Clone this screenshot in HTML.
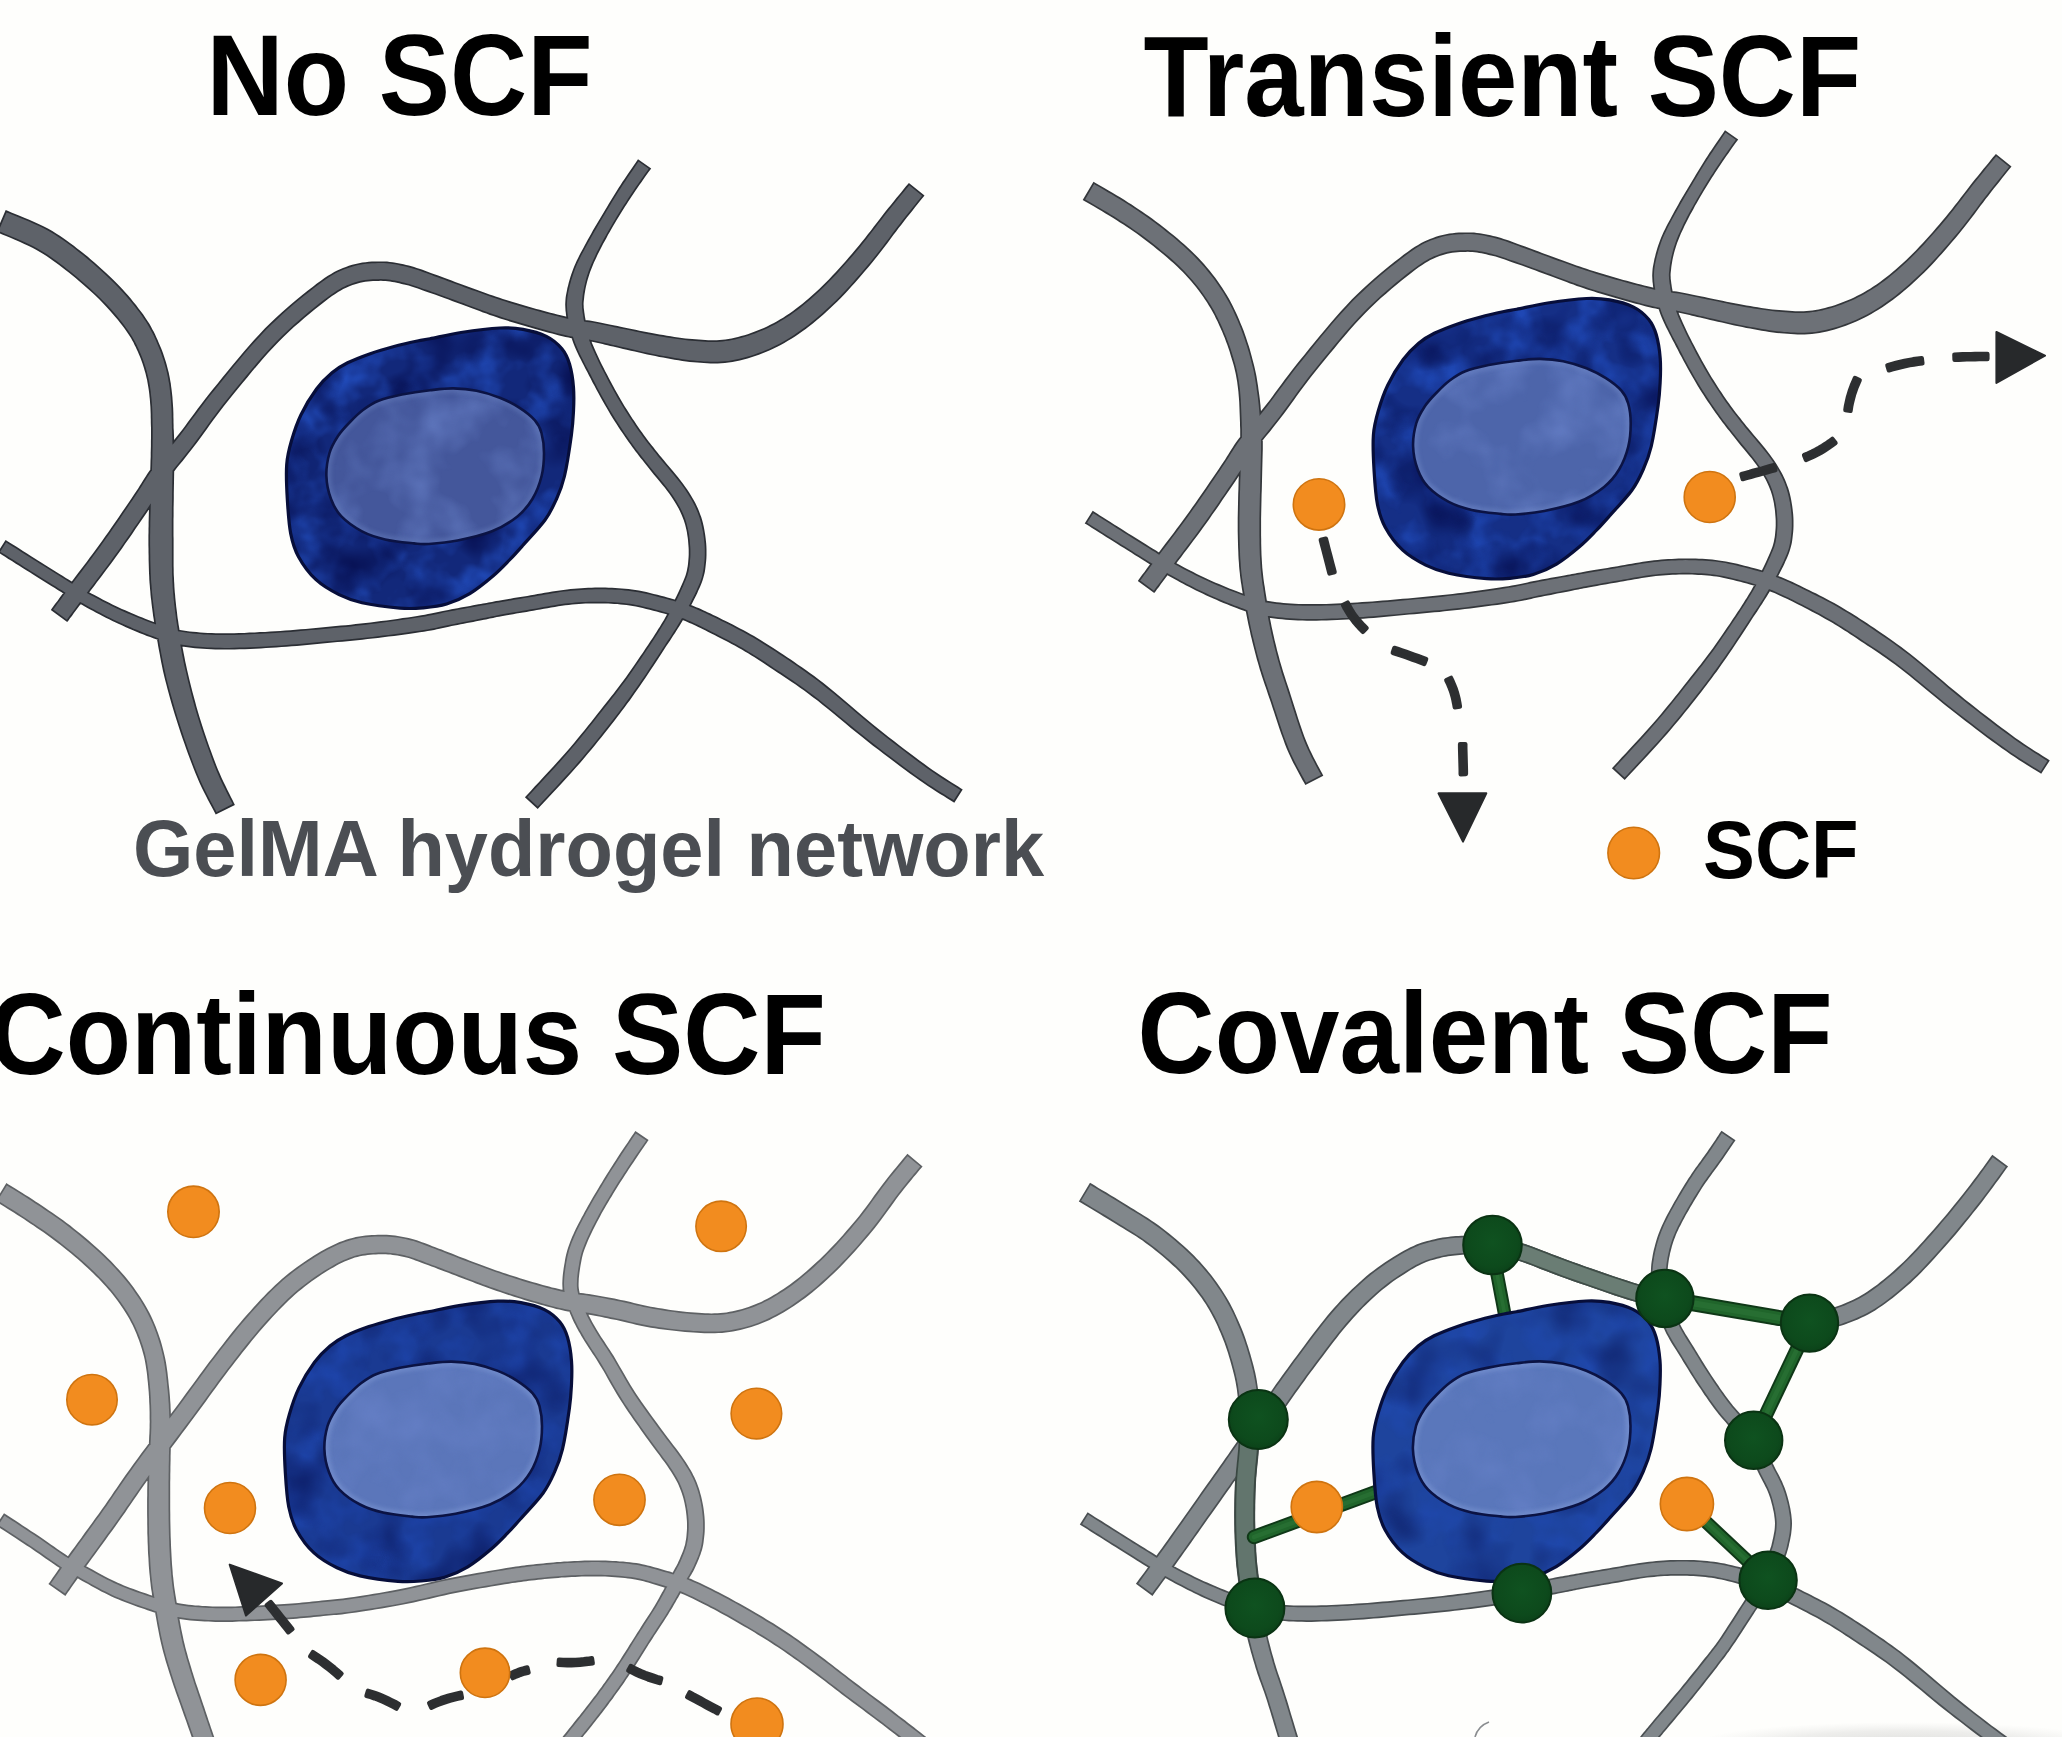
<!DOCTYPE html>
<html><head><meta charset="utf-8"><title>SCF hydrogel schematic</title>
<style>
html,body{margin:0;padding:0;background:#fefefc;}
body{width:2062px;height:1737px;overflow:hidden;font-family:"Liberation Sans",sans-serif;}
svg{display:block;}
</style></head><body>
<svg xmlns="http://www.w3.org/2000/svg" width="2062" height="1737" viewBox="0 0 2062 1737">
<defs>
<filter id="mot" x="0" y="0" width="100%" height="100%" color-interpolation-filters="sRGB">
<feTurbulence type="fractalNoise" baseFrequency="0.028" numOctaves="3" seed="7"/>
<feColorMatrix type="matrix" values="0 0 0 0 0.13  0 0 0 0 0.30  0 0 0 0 0.74  2.4 0 0 0 -0.95"/>
</filter>
<filter id="motd" x="0" y="0" width="100%" height="100%" color-interpolation-filters="sRGB">
<feTurbulence type="fractalNoise" baseFrequency="0.022" numOctaves="2" seed="21"/>
<feColorMatrix type="matrix" values="0 0 0 0 0.02  0 0 0 0 0.05  0 0 0 0 0.30  0 2.2 0 0 -0.95"/>
</filter>
<filter id="mot2" x="0" y="0" width="100%" height="100%" color-interpolation-filters="sRGB">
<feTurbulence type="fractalNoise" baseFrequency="0.02" numOctaves="3" seed="3"/>
<feColorMatrix type="matrix" values="0 0 0 0 0.42  0 0 0 0 0.52  0 0 0 0 0.80  1.8 0 0 0 -0.72"/>
</filter>
<filter id="blur2" x="-5%" y="-5%" width="110%" height="110%"><feGaussianBlur stdDeviation="2"/></filter>
<radialGradient id="gnode" cx="0.5" cy="0.45" r="0.6"><stop offset="0" stop-color="#0f5220"/><stop offset="0.7" stop-color="#0d4a1c"/><stop offset="1" stop-color="#0b3f18"/></radialGradient>
<radialGradient id="botg" cx="0.5" cy="0.5" r="0.5"><stop offset="0" stop-color="#dcdcda" stop-opacity="0.95"/><stop offset="0.6" stop-color="#e2e2e0" stop-opacity="0.6"/><stop offset="1" stop-color="#e8e8e6" stop-opacity="0"/></radialGradient>
</defs>
<rect width="2062" height="1737" fill="#fefefc"/>
<g id="p1">
<path d="M-3.7 231.9L-1.1 233.0L2.2 234.4L6.1 236.0L10.4 237.8L14.9 239.7L19.6 241.8L24.3 243.9L28.8 246.0L32.9 248.0L36.5 250.0L39.9 251.9L43.3 254.0L46.5 256.0L49.7 258.2L52.8 260.4L56.0 262.7L59.1 265.0L62.3 267.5L65.5 270.0L68.8 272.6L72.2 275.3L75.6 278.1L79.0 281.0L82.5 284.0L85.9 287.0L89.3 290.0L92.7 293.1L95.9 296.1L99.0 299.1L101.9 302.1L104.7 305.0L107.5 307.9L110.2 310.9L112.8 313.9L115.4 316.9L117.8 319.8L120.1 322.7L122.3 325.5L124.4 328.3L126.3 330.9L128.0 333.4L129.5 335.8L131.0 338.1L132.3 340.4L133.5 342.6L134.6 344.9L135.7 347.1L136.8 349.4L137.9 351.8L138.9 354.2L139.9 356.6L140.9 358.9L141.7 361.3L142.5 363.6L143.3 365.9L144.0 368.3L144.7 370.7L145.4 373.0L146.0 375.4L146.5 377.8L147.1 380.1L147.5 382.4L147.9 384.7L148.3 387.0L148.7 389.4L149.0 391.8L149.3 394.2L149.5 396.6L149.8 399.1L150.0 401.7L150.2 404.2L150.4 406.7L150.5 409.2L150.6 411.8L150.7 414.5L150.7 417.1L150.8 419.8L150.8 422.6L150.9 425.4L151.0 428.2L151.0 431.0L151.0 433.6L151.0 436.1L151.0 438.6L150.9 441.1L150.9 443.8L150.9 446.6L150.8 449.7L150.7 453.1L150.7 456.8L150.5 461.1L150.4 465.8L150.2 470.9L150.0 476.3L149.8 481.8L149.6 487.4L149.4 492.9L149.3 498.2L149.1 503.1L149.0 507.7L148.9 511.8L148.8 515.6L148.7 519.2L148.6 522.6L148.6 525.9L148.5 529.0L148.5 532.2L148.4 535.4L148.4 538.6L148.4 541.9L148.4 545.3L148.5 548.8L148.5 552.3L148.6 555.8L148.6 559.3L148.7 562.8L148.8 566.2L148.9 569.7L149.0 573.0L149.2 576.4L149.3 579.5L149.5 582.6L149.8 585.7L150.0 588.6L150.3 591.5L150.5 594.5L150.8 597.4L151.2 600.3L151.5 603.3L151.9 606.4L152.3 609.5L152.7 612.6L153.1 615.7L153.6 618.8L154.1 621.9L154.6 625.1L155.1 628.4L155.7 631.7L156.3 635.2L156.9 638.7L157.6 642.4L158.2 646.2L158.9 650.0L159.7 654.0L160.4 658.1L161.2 662.2L162.1 666.5L163.0 670.9L164.0 675.3L165.1 679.8L166.3 684.3L167.5 689.0L168.8 693.7L170.1 698.6L171.5 703.5L173.0 708.4L174.5 713.4L176.0 718.3L177.6 723.3L179.2 728.3L180.8 733.3L182.6 738.4L184.4 743.6L186.2 748.8L188.1 754.0L190.0 759.1L191.9 764.1L193.8 769.0L195.7 773.8L197.6 778.3L199.5 782.8L201.6 787.2L203.7 791.6L205.9 795.8L208.0 799.9L209.9 803.6L211.8 807.0L213.4 810.0L214.7 812.5L215.7 814.5L234.9 804.9L233.8 802.7L232.5 800.1L230.9 797.0L229.2 793.6L227.4 790.0L225.5 786.1L223.5 782.0L221.6 777.9L219.8 773.8L218.0 769.7L216.3 765.5L214.6 761.0L212.8 756.2L211.0 751.3L209.2 746.4L207.4 741.3L205.7 736.2L204.0 731.2L202.4 726.2L200.8 721.3L199.3 716.5L197.9 711.7L196.5 706.9L195.2 702.0L193.9 697.2L192.6 692.5L191.4 687.8L190.2 683.1L189.1 678.6L188.1 674.2L187.1 670.0L186.2 665.8L185.3 661.7L184.5 657.6L183.7 653.6L183.0 649.7L182.2 645.8L181.6 642.0L180.9 638.3L180.3 634.7L179.7 631.2L179.2 627.8L178.6 624.6L178.2 621.5L177.7 618.4L177.3 615.4L177.0 612.4L176.6 609.5L176.2 606.6L175.9 603.6L175.6 600.7L175.3 597.8L175.1 595.0L174.8 592.3L174.6 589.5L174.4 586.8L174.3 584.0L174.1 581.2L174.0 578.3L173.8 575.2L173.7 572.2L173.7 569.0L173.6 565.7L173.6 562.4L173.6 559.0L173.6 555.6L173.6 552.2L173.6 548.7L173.6 545.3L173.6 541.9L173.6 538.6L173.5 535.4L173.5 532.3L173.5 529.2L173.5 526.1L173.5 522.9L173.5 519.5L173.6 516.0L173.6 512.2L173.6 508.1L173.7 503.7L173.8 498.7L173.8 493.5L173.9 488.0L174.0 482.5L174.1 476.9L174.2 471.5L174.3 466.3L174.3 461.5L174.3 457.2L174.3 453.3L174.3 449.8L174.3 446.6L174.2 443.7L174.1 440.9L174.1 438.3L174.0 435.7L173.9 433.1L173.8 430.5L173.6 427.8L173.6 425.0L173.5 422.2L173.5 419.4L173.4 416.6L173.4 413.8L173.3 411.0L173.2 408.2L173.0 405.4L172.8 402.5L172.6 399.7L172.4 397.0L172.1 394.3L171.8 391.6L171.5 389.0L171.1 386.3L170.8 383.6L170.3 380.9L169.8 378.1L169.3 375.4L168.7 372.6L168.0 369.9L167.3 367.2L166.6 364.5L165.8 361.8L164.9 359.1L164.0 356.3L163.1 353.6L162.1 350.8L161.0 348.1L159.9 345.4L158.7 342.7L157.6 340.1L156.4 337.5L155.2 334.8L153.9 332.1L152.4 329.4L150.9 326.5L149.2 323.6L147.3 320.7L145.3 317.7L143.2 314.6L140.9 311.5L138.5 308.4L136.0 305.1L133.4 301.9L130.7 298.6L127.9 295.3L124.9 292.0L122.0 288.8L118.9 285.5L115.7 282.3L112.4 279.0L109.0 275.7L105.5 272.4L101.9 269.2L98.3 265.9L94.7 262.8L91.1 259.7L87.5 256.6L84.0 253.8L80.5 251.0L77.1 248.4L73.8 245.8L70.3 243.2L66.9 240.7L63.4 238.2L59.8 235.8L56.1 233.4L52.3 231.1L48.3 228.8L43.9 226.5L39.1 224.2L34.2 221.9L29.2 219.8L24.2 217.7L19.5 215.7L15.1 214.0L11.3 212.4L8.1 211.1L5.7 210.1Z M67.2 622.1L68.5 620.4L70.0 618.3L71.9 615.9L73.9 613.1L76.2 610.0L78.6 606.8L81.1 603.5L83.6 600.0L86.2 596.5L88.8 593.0L91.4 589.5L94.2 585.9L97.0 582.1L100.0 578.2L103.0 574.2L106.1 570.1L109.2 565.9L112.4 561.7L115.6 557.3L118.7 553.0L122.0 548.4L125.3 543.6L128.8 538.7L132.3 533.7L135.7 528.6L139.2 523.6L142.5 518.8L145.6 514.2L148.5 509.9L151.1 506.0L153.4 502.5L155.4 499.3L157.2 496.5L158.7 494.0L160.1 491.6L161.4 489.4L162.7 487.3L164.1 485.0L165.8 482.6L167.7 479.9L169.8 477.0L172.1 474.0L174.5 470.9L177.1 467.6L179.8 464.3L182.6 460.9L185.5 457.3L188.4 453.6L191.4 449.7L194.5 445.8L197.6 441.7L200.7 437.5L203.8 433.3L206.9 429.0L210.0 424.6L213.3 420.1L216.7 415.5L220.3 410.7L224.1 405.8L228.1 400.8L232.5 395.3L237.2 389.6L242.1 383.5L247.2 377.4L252.4 371.1L257.6 364.9L262.9 358.7L268.2 352.8L273.4 347.2L278.4 342.0L283.4 337.0L288.6 332.0L293.9 327.1L299.3 322.4L304.6 317.8L309.8 313.4L314.9 309.3L319.7 305.4L324.2 301.9L328.3 298.8L332.0 296.1L335.2 293.9L338.1 292.0L340.8 290.4L343.2 289.0L345.5 287.9L347.7 286.9L350.0 286.0L352.5 285.0L355.1 284.2L357.6 283.4L360.1 282.7L362.6 282.2L365.2 281.8L367.8 281.4L370.4 281.2L373.0 281.0L375.7 280.9L378.3 280.9L380.8 280.8L383.2 280.9L385.5 281.0L387.7 281.2L390.0 281.5L392.2 281.9L394.5 282.3L396.8 282.8L399.2 283.3L401.6 283.9L404.0 284.5L406.4 285.0L408.6 285.6L410.8 286.3L413.1 287.0L415.4 287.8L417.8 288.6L420.4 289.5L423.0 290.5L425.8 291.4L428.7 292.5L431.8 293.5L434.9 294.6L438.2 295.8L441.6 297.1L445.0 298.3L448.6 299.6L452.1 300.9L455.6 302.2L459.1 303.5L462.6 304.7L466.0 306.0L469.3 307.3L472.7 308.5L476.1 309.8L479.5 311.1L483.0 312.4L486.4 313.6L489.8 314.9L493.3 316.1L496.8 317.3L500.2 318.4L503.7 319.5L507.1 320.6L510.5 321.7L514.0 322.7L517.4 323.7L520.8 324.7L524.2 325.7L527.6 326.7L531.1 327.7L534.5 328.7L538.0 329.7L541.6 330.7L545.1 331.7L548.7 332.7L552.2 333.6L555.7 334.5L559.1 335.4L562.4 336.2L565.5 337.0L568.6 337.6L571.5 338.2L574.3 338.7L576.9 339.2L579.4 339.6L581.8 340.0L584.2 340.3L586.5 340.7L588.7 341.1L591.1 341.6L593.4 342.1L595.7 342.6L598.0 343.1L600.3 343.6L602.6 344.1L605.0 344.7L607.5 345.3L610.2 345.9L613.1 346.6L616.2 347.3L619.5 348.0L623.1 348.9L626.8 349.8L630.8 350.7L634.9 351.6L639.0 352.6L643.2 353.5L647.3 354.5L651.4 355.3L655.4 356.1L659.3 356.9L663.1 357.6L666.9 358.3L670.8 359.0L674.6 359.7L678.5 360.3L682.3 360.9L686.1 361.4L689.8 361.9L693.5 362.3L697.0 362.6L700.4 362.8L703.8 363.1L707.2 363.3L710.6 363.4L714.1 363.5L717.6 363.4L721.2 363.3L724.9 363.0L728.6 362.5L732.4 361.9L736.1 361.2L739.9 360.4L743.7 359.5L747.5 358.4L751.3 357.3L755.1 356.1L758.9 354.7L762.6 353.3L766.3 351.8L769.9 350.2L773.6 348.5L777.2 346.7L780.7 344.9L784.3 342.9L787.9 340.8L791.4 338.7L795.0 336.4L798.6 334.0L802.1 331.5L805.7 328.9L809.2 326.2L812.8 323.4L816.3 320.5L819.9 317.5L823.4 314.5L826.9 311.3L830.4 308.1L833.8 304.8L837.3 301.4L840.8 297.9L844.4 294.2L847.9 290.4L851.4 286.6L854.9 282.7L858.4 278.7L861.8 274.8L865.2 270.8L868.5 266.9L871.8 263.0L875.0 259.1L878.2 255.1L881.3 251.0L884.4 247.0L887.5 242.9L890.4 239.0L893.3 235.1L896.1 231.4L898.8 227.8L901.5 224.4L904.1 221.1L906.8 217.6L909.5 214.2L912.2 210.9L914.8 207.6L917.2 204.6L919.4 201.8L921.4 199.3L923.1 197.2L924.5 195.5L908.9 182.9L907.6 184.6L905.8 186.6L903.8 189.1L901.5 191.9L899.0 194.9L896.4 198.1L893.7 201.5L890.9 204.9L888.1 208.3L885.3 211.8L882.6 215.3L879.8 218.9L876.9 222.7L873.9 226.5L871.0 230.4L867.9 234.3L864.9 238.2L861.8 242.1L858.8 245.8L855.6 249.6L852.5 253.3L849.2 257.1L845.9 260.9L842.5 264.7L839.1 268.5L835.7 272.2L832.3 275.8L828.9 279.4L825.6 282.8L822.3 286.0L819.0 289.2L815.7 292.3L812.3 295.3L809.0 298.2L805.7 301.0L802.5 303.7L799.2 306.3L795.9 308.8L792.7 311.2L789.5 313.5L786.3 315.6L783.1 317.7L779.9 319.6L776.7 321.4L773.5 323.2L770.3 324.8L767.1 326.4L763.9 327.9L760.7 329.3L757.5 330.6L754.3 331.8L751.0 333.0L747.8 334.2L744.5 335.2L741.2 336.1L738.0 337.0L734.7 337.8L731.6 338.4L728.4 339.0L725.4 339.5L722.5 339.8L719.6 340.1L716.8 340.2L714.0 340.3L711.2 340.3L708.2 340.2L705.2 340.0L702.1 339.8L698.8 339.6L695.5 339.3L692.1 339.1L688.7 338.8L685.3 338.4L681.7 337.9L678.1 337.4L674.4 336.9L670.7 336.3L666.9 335.7L663.2 335.1L659.4 334.5L655.6 333.8L651.7 333.1L647.6 332.3L643.6 331.5L639.5 330.7L635.4 329.8L631.5 329.0L627.7 328.2L624.0 327.4L620.6 326.7L617.5 326.1L614.7 325.5L612.1 324.9L609.5 324.4L607.1 323.9L604.7 323.4L602.4 322.9L600.0 322.4L597.5 321.9L594.9 321.4L592.3 321.0L589.7 320.6L587.2 320.2L584.8 319.9L582.4 319.5L580.0 319.2L577.6 318.9L575.1 318.4L572.6 318.0L569.9 317.4L566.9 316.8L563.8 316.1L560.6 315.3L557.2 314.5L553.8 313.6L550.3 312.7L546.8 311.7L543.2 310.8L539.8 309.8L536.3 308.9L533.0 308.0L529.6 307.0L526.2 306.1L522.9 305.1L519.5 304.1L516.2 303.1L512.8 302.1L509.5 301.1L506.2 300.0L502.8 298.9L499.5 297.8L496.2 296.7L492.8 295.6L489.4 294.4L486.1 293.2L482.7 292.0L479.3 290.7L475.9 289.5L472.4 288.3L469.0 287.1L465.6 285.8L462.1 284.5L458.6 283.2L455.1 281.9L451.6 280.6L448.1 279.3L444.7 278.0L441.4 276.8L438.1 275.6L435.1 274.5L432.2 273.5L429.5 272.5L426.9 271.5L424.3 270.6L421.8 269.6L419.3 268.7L416.7 267.9L414.1 267.0L411.5 266.3L408.8 265.5L406.1 264.9L403.5 264.3L400.9 263.7L398.2 263.2L395.5 262.7L392.7 262.2L389.9 261.9L387.0 261.6L384.0 261.4L381.0 261.4L378.0 261.4L375.0 261.5L371.9 261.6L368.8 261.8L365.6 262.2L362.3 262.6L359.0 263.2L355.6 263.9L352.2 264.8L348.9 265.8L345.9 266.9L343.0 268.1L340.1 269.3L337.2 270.6L334.2 272.1L331.1 273.9L327.9 275.8L324.5 278.1L320.9 280.7L316.9 283.6L312.6 286.9L307.9 290.5L302.9 294.5L297.7 298.8L292.3 303.3L286.8 308.1L281.2 313.0L275.7 318.1L270.2 323.3L264.8 328.6L259.5 334.2L254.1 340.1L248.6 346.2L243.2 352.5L237.8 358.9L232.5 365.3L227.4 371.5L222.4 377.6L217.7 383.4L213.3 388.8L209.1 394.0L205.2 399.1L201.4 403.9L197.9 408.6L194.5 413.2L191.3 417.6L188.1 421.8L185.1 426.0L182.1 430.0L179.1 433.8L176.1 437.6L173.1 441.3L170.2 444.9L167.3 448.4L164.5 451.8L161.7 455.2L159.0 458.5L156.4 461.7L153.9 464.9L151.5 468.1L149.3 471.1L147.4 473.8L145.7 476.4L144.2 478.8L142.8 481.1L141.3 483.4L139.8 485.8L138.2 488.4L136.3 491.3L134.1 494.6L131.5 498.4L128.6 502.7L125.5 507.3L122.2 512.1L118.9 517.0L115.4 522.0L111.9 527.0L108.5 531.9L105.2 536.6L102.1 541.0L99.0 545.3L95.9 549.5L92.8 553.7L89.7 557.8L86.7 561.9L83.6 565.9L80.7 569.7L77.8 573.5L75.0 577.2L72.4 580.8L69.8 584.3L67.2 587.8L64.6 591.2L62.1 594.6L59.7 597.8L57.5 600.9L55.4 603.6L53.6 606.1L52.0 608.2L50.8 609.9Z M638.0 159.2L637.0 160.7L635.7 162.7L634.1 164.9L632.4 167.5L630.5 170.3L628.4 173.2L626.4 176.2L624.4 179.2L622.4 182.1L620.6 184.9L618.9 187.6L617.2 190.3L615.5 193.0L613.8 195.7L612.1 198.5L610.4 201.3L608.7 204.0L607.0 206.9L605.3 209.7L603.7 212.6L601.9 215.5L600.1 218.4L598.3 221.4L596.5 224.5L594.7 227.6L592.9 230.6L591.2 233.7L589.5 236.7L587.9 239.6L586.3 242.5L584.8 245.2L583.4 247.9L582.0 250.5L580.6 253.0L579.3 255.6L578.0 258.2L576.7 260.8L575.5 263.4L574.4 266.0L573.3 268.7L572.3 271.5L571.3 274.2L570.4 277.0L569.6 279.8L568.8 282.6L568.1 285.4L567.4 288.1L566.9 290.7L566.4 293.3L565.9 295.8L565.6 298.1L565.4 300.4L565.3 302.5L565.2 304.6L565.3 306.7L565.4 308.7L565.5 310.8L565.8 312.8L566.0 314.9L566.4 317.1L566.8 319.5L567.3 321.9L567.8 324.4L568.4 327.0L569.1 329.7L569.8 332.4L570.7 335.2L571.6 338.1L572.6 341.0L573.7 343.9L574.9 347.0L576.2 350.0L577.6 353.1L579.1 356.2L580.7 359.3L582.3 362.4L583.9 365.6L585.6 368.9L587.3 372.1L589.0 375.4L590.8 378.8L592.6 382.4L594.6 386.0L596.5 389.8L598.6 393.5L600.6 397.2L602.7 400.9L604.7 404.6L606.8 408.1L608.8 411.6L610.8 414.9L612.8 418.2L614.9 421.4L616.9 424.6L618.9 427.7L620.9 430.7L622.9 433.6L624.9 436.5L626.8 439.3L628.7 442.0L630.6 444.6L632.3 447.0L634.0 449.3L635.6 451.4L637.3 453.6L638.9 455.7L640.6 457.9L642.4 460.1L644.3 462.5L646.3 465.1L648.7 468.1L651.2 471.2L653.8 474.4L656.6 477.7L659.3 481.0L662.1 484.4L664.7 487.6L667.1 490.8L669.4 493.8L671.3 496.5L673.1 499.2L674.7 501.7L676.2 504.2L677.5 506.5L678.8 508.8L679.9 511.0L680.9 513.2L681.9 515.4L682.8 517.7L683.7 520.0L684.5 522.4L685.2 524.8L685.8 527.3L686.4 529.8L686.9 532.3L687.3 534.9L687.7 537.4L688.0 540.0L688.2 542.5L688.4 545.0L688.6 547.4L688.7 549.8L688.7 552.3L688.7 554.7L688.6 557.1L688.4 559.4L688.2 561.8L688.0 564.0L687.7 566.2L687.3 568.2L687.0 570.1L686.6 571.8L686.2 573.3L685.7 574.9L685.2 576.4L684.6 577.9L684.0 579.6L683.2 581.5L682.3 583.5L681.3 585.7L680.3 588.1L679.2 590.6L677.9 593.2L676.6 596.0L675.2 598.8L673.8 601.7L672.4 604.5L670.9 607.3L669.4 610.1L668.0 612.7L666.6 615.2L665.3 617.6L664.0 619.9L662.7 622.1L661.3 624.3L659.9 626.7L658.3 629.1L656.7 631.7L654.9 634.6L652.9 637.7L650.6 641.1L648.2 644.7L645.6 648.6L642.9 652.7L640.0 656.8L637.2 661.0L634.3 665.2L631.5 669.3L628.7 673.2L626.1 676.9L623.5 680.5L621.0 683.8L618.6 687.1L616.1 690.3L613.7 693.4L611.2 696.6L608.7 699.8L606.1 703.1L603.3 706.6L600.4 710.2L597.4 714.0L594.3 717.9L591.2 721.9L587.9 726.0L584.6 730.2L581.2 734.3L577.7 738.6L574.1 742.9L570.5 747.2L566.8 751.5L562.8 756.0L558.3 761.0L553.6 766.2L548.7 771.5L543.8 776.8L539.1 781.9L534.7 786.6L530.8 790.9L527.5 794.4L524.9 797.2L537.7 809.0L540.2 806.3L543.5 802.7L547.5 798.5L551.9 793.8L556.6 788.7L561.5 783.4L566.5 778.0L571.3 772.7L575.9 767.6L580.0 762.9L583.8 758.5L587.5 754.1L591.2 749.7L594.7 745.4L598.2 741.1L601.6 736.9L604.9 732.8L608.1 728.8L611.2 724.8L614.2 721.0L617.0 717.3L619.7 713.7L622.3 710.3L624.8 706.9L627.3 703.6L629.7 700.4L632.1 697.0L634.5 693.6L637.0 690.1L639.5 686.5L642.2 682.6L645.0 678.5L647.8 674.3L650.6 670.1L653.5 665.8L656.3 661.6L658.9 657.4L661.5 653.5L663.9 649.8L666.1 646.3L668.2 643.2L670.1 640.4L671.8 637.8L673.4 635.3L675.0 632.9L676.5 630.6L677.9 628.3L679.4 625.9L680.9 623.5L682.4 620.9L684.0 618.1L685.6 615.3L687.2 612.4L688.8 609.5L690.4 606.6L691.9 603.7L693.4 600.8L694.8 598.1L696.1 595.4L697.3 592.9L698.3 590.6L699.3 588.5L700.2 586.5L701.0 584.5L701.8 582.5L702.5 580.4L703.2 578.3L703.8 576.1L704.4 573.8L704.9 571.4L705.3 568.8L705.6 566.2L705.9 563.5L706.2 560.8L706.4 558.0L706.5 555.1L706.5 552.3L706.5 549.4L706.4 546.5L706.2 543.6L705.9 540.8L705.6 537.9L705.2 535.0L704.7 532.0L704.2 529.1L703.6 526.1L702.9 523.1L702.1 520.1L701.2 517.1L700.1 514.2L699.0 511.3L697.9 508.6L696.7 505.9L695.4 503.2L693.9 500.6L692.4 497.9L690.8 495.3L689.1 492.6L687.3 489.8L685.3 486.9L683.0 483.7L680.5 480.5L677.8 477.1L675.1 473.7L672.2 470.3L669.4 467.0L666.6 463.7L664.0 460.6L661.5 457.6L659.3 454.9L657.2 452.3L655.3 449.9L653.5 447.6L651.8 445.5L650.2 443.5L648.6 441.5L647.1 439.4L645.5 437.3L643.8 435.1L642.1 432.6L640.2 430.0L638.3 427.2L636.4 424.5L634.5 421.6L632.5 418.7L630.6 415.7L628.6 412.6L626.7 409.5L624.7 406.4L622.8 403.2L620.9 399.9L618.9 396.5L616.9 393.0L614.9 389.4L612.9 385.7L610.9 382.1L609.0 378.4L607.1 374.8L605.3 371.4L603.6 368.0L601.9 364.7L600.3 361.4L598.8 358.2L597.3 355.1L595.9 352.0L594.6 349.0L593.3 346.1L592.1 343.3L591.1 340.5L590.1 337.9L589.2 335.3L588.5 332.7L587.8 330.2L587.1 327.8L586.6 325.4L586.1 323.1L585.7 320.8L585.3 318.6L584.9 316.4L584.6 314.3L584.3 312.3L584.1 310.5L583.9 308.9L583.7 307.4L583.7 306.0L583.6 304.7L583.6 303.3L583.7 301.8L583.9 300.1L584.1 298.2L584.3 296.2L584.6 294.0L585.0 291.7L585.4 289.3L585.9 286.8L586.5 284.3L587.1 281.8L587.8 279.3L588.5 276.9L589.3 274.5L590.1 272.1L591.0 269.8L591.9 267.4L592.9 265.0L593.9 262.6L595.0 260.2L596.2 257.7L597.4 255.1L598.7 252.4L600.1 249.7L601.5 246.9L603.0 244.1L604.6 241.2L606.3 238.2L607.9 235.1L609.7 232.1L611.4 229.1L613.1 226.1L614.9 223.1L616.5 220.2L618.2 217.4L619.9 214.7L621.6 212.0L623.3 209.3L625.0 206.6L626.7 203.9L628.4 201.3L630.1 198.7L631.9 196.0L633.6 193.5L635.4 190.8L637.3 188.0L639.3 185.1L641.4 182.2L643.4 179.3L645.3 176.6L647.1 174.0L648.7 171.8L650.1 169.9L651.2 168.4Z M-2.2 552.2L-0.3 553.4L2.2 555.0L5.1 556.8L8.3 558.9L11.9 561.1L15.5 563.4L19.3 565.8L23.1 568.2L26.7 570.5L30.1 572.6L33.5 574.8L37.0 577.0L40.6 579.2L44.2 581.5L47.8 583.7L51.4 586.0L54.8 588.1L58.1 590.2L61.2 592.1L64.1 593.9L66.6 595.4L68.8 596.8L70.8 598.1L72.7 599.3L74.5 600.4L76.3 601.5L78.1 602.6L80.2 603.8L82.3 605.1L84.8 606.4L87.4 607.9L90.2 609.5L93.2 611.1L96.2 612.7L99.3 614.3L102.5 616.0L105.8 617.7L109.1 619.3L112.4 620.9L115.7 622.5L119.0 624.1L122.4 625.6L125.9 627.2L129.4 628.7L133.0 630.2L136.5 631.7L140.0 633.2L143.5 634.5L146.9 635.9L150.2 637.1L153.2 638.2L156.1 639.3L159.0 640.3L161.8 641.3L164.6 642.3L167.5 643.2L170.5 644.0L173.6 644.8L176.9 645.5L180.3 646.2L183.9 646.8L187.5 647.3L191.2 647.8L195.0 648.2L198.8 648.5L202.8 648.8L206.9 649.1L211.1 649.3L215.4 649.4L219.9 649.5L224.6 649.6L229.4 649.6L234.5 649.5L239.6 649.3L244.9 649.2L250.2 648.9L255.5 648.7L260.8 648.4L266.0 648.1L271.2 647.8L276.3 647.5L281.5 647.1L286.6 646.7L291.8 646.3L296.9 645.9L302.0 645.4L307.1 644.9L312.2 644.4L317.3 643.9L322.3 643.5L327.4 643.0L332.4 642.6L337.4 642.1L342.4 641.7L347.4 641.2L352.4 640.7L357.4 640.2L362.4 639.7L367.5 639.1L372.6 638.5L377.8 637.9L383.1 637.3L388.6 636.6L394.1 635.9L399.6 635.2L405.0 634.4L410.2 633.7L415.1 633.0L419.7 632.3L423.9 631.7L427.7 631.1L431.1 630.5L434.1 629.9L436.8 629.3L439.4 628.8L441.8 628.2L444.1 627.7L446.5 627.2L448.9 626.7L451.6 626.1L454.5 625.6L457.5 625.0L460.7 624.3L463.8 623.7L467.0 623.1L470.1 622.5L473.2 621.9L476.1 621.3L478.9 620.8L481.5 620.3L483.9 619.8L486.0 619.4L487.9 619.0L489.7 618.6L491.4 618.2L493.1 617.9L494.9 617.5L496.8 617.1L499.0 616.7L501.4 616.3L504.1 615.8L506.9 615.3L509.9 614.7L513.1 614.2L516.3 613.6L519.7 613.0L523.0 612.4L526.5 611.9L529.9 611.3L533.3 610.7L536.8 610.1L540.3 609.5L543.9 608.8L547.5 608.2L551.1 607.5L554.8 606.9L558.3 606.3L561.9 605.8L565.3 605.3L568.7 604.9L572.1 604.6L575.5 604.3L578.9 604.0L582.2 603.8L585.5 603.6L588.8 603.5L592.1 603.4L595.4 603.4L598.6 603.4L601.8 603.4L605.0 603.5L608.2 603.6L611.3 603.7L614.3 603.9L617.4 604.1L620.4 604.4L623.4 604.7L626.5 605.1L629.6 605.5L632.7 606.0L635.9 606.6L639.2 607.3L642.7 608.0L646.2 608.9L649.7 609.7L653.2 610.7L656.6 611.6L659.9 612.5L662.9 613.3L665.8 614.1L668.3 614.9L670.5 615.6L672.6 616.2L674.4 616.8L676.2 617.4L677.9 618.1L679.6 618.7L681.3 619.4L683.2 620.2L685.3 621.1L687.4 622.0L689.5 622.9L691.6 623.8L693.7 624.8L695.9 625.8L698.2 626.9L700.5 628.0L703.0 629.2L705.6 630.5L708.3 631.9L711.3 633.4L714.5 635.0L717.7 636.7L721.1 638.4L724.6 640.2L728.1 642.1L731.6 643.9L735.1 645.8L738.5 647.7L741.8 649.6L744.9 651.5L748.1 653.3L751.1 655.2L754.2 657.1L757.2 659.0L760.3 661.0L763.4 663.1L766.7 665.2L770.0 667.4L773.5 669.8L777.1 672.2L780.7 674.5L784.4 676.9L788.1 679.4L791.8 681.9L795.7 684.6L799.7 687.4L803.8 690.3L808.1 693.5L812.6 696.9L817.5 700.6L822.6 704.7L828.0 709.1L833.5 713.6L839.2 718.3L845.0 723.1L850.8 727.9L856.5 732.6L862.2 737.1L867.7 741.5L873.0 745.7L878.5 749.8L883.9 754.0L889.3 758.1L894.6 762.1L899.8 766.0L904.9 769.8L909.9 773.4L914.6 776.8L919.1 780.0L923.5 783.1L927.8 786.0L932.1 788.8L936.2 791.4L940.1 793.9L943.7 796.1L947.0 798.2L949.9 799.9L952.3 801.4L954.3 802.7L962.7 789.5L960.7 788.2L958.2 786.6L955.3 784.8L952.0 782.8L948.5 780.5L944.7 778.1L940.8 775.5L936.7 772.8L932.5 769.9L928.3 767.0L924.0 763.8L919.4 760.4L914.5 756.8L909.5 753.1L904.4 749.2L899.2 745.2L893.9 741.1L888.5 736.9L883.2 732.7L877.9 728.5L872.6 724.2L867.2 719.7L861.5 715.0L855.9 710.2L850.1 705.3L844.5 700.5L838.9 695.8L833.5 691.3L828.3 687.0L823.4 683.1L818.7 679.5L814.2 676.1L809.9 673.0L805.8 670.1L801.9 667.3L798.0 664.7L794.3 662.1L790.7 659.6L787.1 657.2L783.5 654.8L780.0 652.5L776.6 650.2L773.2 648.1L770.0 646.0L766.8 643.9L763.6 641.9L760.5 640.0L757.2 638.1L754.0 636.1L750.6 634.2L747.2 632.2L743.6 630.3L740.0 628.4L736.3 626.5L732.7 624.6L729.1 622.8L725.6 621.0L722.3 619.4L719.1 617.8L716.1 616.3L713.2 614.9L710.5 613.6L708.0 612.4L705.5 611.3L703.1 610.2L700.8 609.1L698.5 608.1L696.2 607.2L694.0 606.2L691.7 605.3L689.5 604.5L687.5 603.7L685.5 603.0L683.6 602.3L681.6 601.6L679.6 601.0L677.5 600.3L675.3 599.7L672.9 599.0L670.2 598.3L667.3 597.5L664.2 596.6L660.9 595.7L657.4 594.8L653.7 593.9L650.0 593.0L646.3 592.1L642.6 591.3L638.9 590.6L635.3 590.0L631.9 589.5L628.5 589.1L625.1 588.7L621.8 588.4L618.5 588.2L615.2 588.0L612.0 587.8L608.7 587.7L605.3 587.6L602.0 587.6L598.6 587.6L595.1 587.6L591.7 587.7L588.2 587.8L584.7 588.0L581.2 588.2L577.7 588.5L574.2 588.8L570.6 589.1L567.1 589.5L563.4 589.9L559.7 590.4L556.0 591.0L552.2 591.6L548.5 592.2L544.8 592.8L541.2 593.5L537.6 594.1L534.1 594.7L530.7 595.3L527.3 595.9L523.9 596.4L520.4 597.0L517.0 597.6L513.7 598.1L510.4 598.7L507.2 599.2L504.2 599.8L501.3 600.3L498.6 600.7L496.1 601.1L493.9 601.5L492.0 601.9L490.1 602.2L488.4 602.5L486.6 602.9L484.8 603.2L482.9 603.5L480.8 603.9L478.5 604.3L475.9 604.8L473.1 605.3L470.1 605.9L467.1 606.4L463.9 607.0L460.8 607.6L457.6 608.2L454.4 608.7L451.4 609.3L448.4 609.9L445.6 610.4L443.0 611.0L440.5 611.5L438.2 612.0L435.8 612.6L433.4 613.1L430.9 613.6L428.0 614.1L424.9 614.7L421.3 615.3L417.2 616.0L412.7 616.7L407.8 617.4L402.7 618.1L397.4 618.9L392.0 619.7L386.5 620.4L381.1 621.1L375.8 621.8L370.6 622.5L365.7 623.0L360.7 623.6L355.7 624.1L350.8 624.7L345.8 625.2L340.9 625.6L335.9 626.1L330.9 626.6L325.9 627.1L320.9 627.5L315.8 628.0L310.7 628.4L305.7 628.9L300.6 629.3L295.5 629.8L290.4 630.2L285.4 630.6L280.3 630.9L275.3 631.3L270.2 631.6L265.1 631.9L259.9 632.1L254.7 632.4L249.5 632.6L244.3 632.9L239.1 633.0L234.1 633.2L229.2 633.3L224.6 633.3L220.1 633.3L215.8 633.2L211.7 633.1L207.7 632.9L203.9 632.7L200.1 632.4L196.5 632.1L193.0 631.8L189.6 631.4L186.3 630.9L183.1 630.4L180.0 629.9L177.2 629.3L174.5 628.7L171.9 628.0L169.3 627.2L166.8 626.4L164.1 625.5L161.4 624.6L158.5 623.6L155.4 622.5L152.3 621.4L149.0 620.2L145.7 618.9L142.3 617.5L138.8 616.2L135.4 614.7L131.9 613.3L128.5 611.8L125.2 610.3L121.9 608.9L118.8 607.4L115.6 605.9L112.4 604.4L109.2 602.8L106.1 601.2L103.0 599.7L100.0 598.1L97.2 596.6L94.4 595.1L91.8 593.8L89.5 592.5L87.4 591.3L85.6 590.2L83.8 589.1L82.1 588.1L80.4 587.0L78.6 585.8L76.6 584.6L74.3 583.1L71.7 581.5L68.9 579.8L65.8 577.9L62.5 575.8L59.1 573.7L55.5 571.5L51.9 569.2L48.3 566.9L44.7 564.7L41.2 562.5L37.9 560.4L34.4 558.2L30.8 555.9L27.0 553.5L23.3 551.2L19.6 548.8L16.1 546.6L12.8 544.6L9.9 542.7L7.5 541.2L5.6 540.0Z" fill="#2b2e34"/>
<path d="M-1.4 231.0L1.0 232.1L4.2 233.4L7.9 235.0L12.0 236.7L16.4 238.5L20.9 240.5L25.4 242.5L29.7 244.5L33.7 246.5L37.4 248.5L40.7 250.4L44.1 252.5L47.3 254.6L50.5 256.7L53.7 259.0L56.9 261.3L60.1 263.7L63.3 266.1L66.6 268.7L69.9 271.3L73.3 274.0L76.7 276.8L80.1 279.7L83.6 282.7L87.1 285.7L90.5 288.8L93.8 291.9L97.1 294.9L100.2 297.9L103.1 300.9L106.0 303.8L108.8 306.8L111.5 309.8L114.1 312.8L116.7 315.8L119.1 318.7L121.4 321.6L123.7 324.5L125.7 327.3L127.7 329.9L129.4 332.5L131.0 334.9L132.4 337.3L133.7 339.6L135.0 341.8L136.2 344.1L137.3 346.4L138.4 348.8L139.4 351.1L140.5 353.6L141.5 356.0L142.4 358.3L143.3 360.7L144.1 363.1L144.9 365.4L145.7 367.8L146.4 370.2L147.0 372.6L147.6 375.0L148.2 377.4L148.7 379.7L149.2 382.1L149.6 384.4L150.0 386.8L150.3 389.1L150.7 391.6L150.9 394.0L151.2 396.5L151.5 399.0L151.7 401.5L151.9 404.0L152.1 406.6L152.2 409.1L152.3 411.8L152.4 414.4L152.4 417.1L152.5 419.8L152.5 422.6L152.6 425.4L152.7 428.2L152.7 430.9L152.7 433.5L152.7 436.1L152.7 438.6L152.6 441.1L152.6 443.8L152.6 446.6L152.5 449.7L152.4 453.1L152.4 456.9L152.2 461.1L152.1 465.8L151.9 470.9L151.7 476.3L151.5 481.9L151.3 487.4L151.1 492.9L151.0 498.2L150.8 503.2L150.7 507.7L150.6 511.8L150.5 515.6L150.4 519.2L150.3 522.6L150.3 525.9L150.2 529.0L150.2 532.2L150.1 535.4L150.1 538.6L150.1 541.9L150.1 545.3L150.2 548.8L150.2 552.3L150.3 555.8L150.3 559.3L150.4 562.7L150.5 566.2L150.6 569.6L150.7 573.0L150.9 576.3L151.0 579.5L151.2 582.5L151.5 585.5L151.7 588.5L151.9 591.4L152.2 594.3L152.5 597.2L152.8 600.2L153.2 603.1L153.6 606.2L154.0 609.3L154.4 612.4L154.8 615.4L155.3 618.5L155.7 621.7L156.2 624.8L156.8 628.1L157.3 631.4L158.0 634.9L158.6 638.4L159.2 642.1L159.9 645.9L160.6 649.7L161.3 653.7L162.1 657.8L162.9 661.9L163.8 666.2L164.7 670.5L165.7 674.9L166.7 679.4L167.9 683.9L169.1 688.6L170.4 693.3L171.8 698.1L173.2 703.0L174.6 707.9L176.1 712.9L177.6 717.9L179.2 722.8L180.8 727.8L182.5 732.7L184.2 737.9L186.0 743.1L187.8 748.3L189.7 753.5L191.6 758.6L193.5 763.7L195.4 768.5L197.3 773.2L199.1 777.6L201.0 782.0L203.0 786.3L205.1 790.5L207.1 794.5L209.1 798.3L211.0 801.9L212.7 805.1L214.2 808.0L215.5 810.3L216.5 812.2L232.6 804.1L231.6 802.1L230.3 799.6L228.9 796.7L227.2 793.5L225.5 790.0L223.6 786.3L221.8 782.4L219.9 778.4L218.2 774.4L216.5 770.4L214.8 766.2L213.0 761.7L211.3 756.9L209.5 752.0L207.7 747.0L205.9 741.9L204.1 736.8L202.4 731.7L200.7 726.7L199.2 721.8L197.7 717.0L196.3 712.2L194.9 707.4L193.5 702.5L192.2 697.7L191.0 692.9L189.8 688.2L188.6 683.6L187.5 679.0L186.5 674.6L185.5 670.3L184.5 666.2L183.6 662.0L182.8 657.9L182.0 653.9L181.3 650.0L180.6 646.1L179.9 642.3L179.2 638.6L178.6 635.0L178.0 631.5L177.5 628.1L177.0 624.9L176.5 621.7L176.1 618.7L175.7 615.6L175.3 612.7L174.9 609.7L174.6 606.8L174.2 603.8L173.9 600.8L173.6 598.0L173.4 595.2L173.1 592.4L172.9 589.7L172.7 586.9L172.6 584.1L172.4 581.3L172.3 578.3L172.1 575.3L172.0 572.2L172.0 569.0L171.9 565.8L171.9 562.4L171.9 559.0L171.9 555.6L171.9 552.2L171.9 548.7L171.9 545.3L171.9 541.9L171.9 538.6L171.8 535.4L171.8 532.3L171.8 529.2L171.8 526.1L171.8 522.8L171.8 519.5L171.9 515.9L171.9 512.2L171.9 508.1L172.0 503.6L172.1 498.7L172.1 493.5L172.2 488.0L172.3 482.4L172.4 476.9L172.5 471.4L172.6 466.3L172.6 461.5L172.6 457.1L172.6 453.3L172.6 449.8L172.6 446.6L172.5 443.7L172.4 440.9L172.4 438.3L172.3 435.7L172.2 433.1L172.1 430.5L171.9 427.8L171.9 425.0L171.8 422.2L171.8 419.4L171.7 416.7L171.7 413.9L171.6 411.1L171.5 408.3L171.3 405.5L171.1 402.7L170.9 399.9L170.7 397.2L170.4 394.5L170.1 391.8L169.8 389.2L169.5 386.5L169.1 383.8L168.6 381.2L168.2 378.5L167.6 375.7L167.0 373.0L166.4 370.3L165.7 367.6L164.9 365.0L164.1 362.3L163.3 359.6L162.4 356.9L161.5 354.2L160.5 351.4L159.4 348.7L158.3 346.0L157.2 343.4L156.1 340.8L154.9 338.2L153.7 335.6L152.4 332.9L150.9 330.2L149.4 327.4L147.7 324.5L145.9 321.6L143.9 318.7L141.8 315.6L139.6 312.5L137.2 309.4L134.7 306.2L132.1 303.0L129.4 299.7L126.6 296.4L123.7 293.2L120.7 289.9L117.7 286.7L114.5 283.5L111.2 280.2L107.8 277.0L104.4 273.7L100.8 270.4L97.2 267.2L93.6 264.0L90.0 261.0L86.4 258.0L82.9 255.1L79.5 252.4L76.1 249.7L72.7 247.1L69.2 244.5L65.8 242.0L62.3 239.6L58.7 237.2L55.1 234.8L51.3 232.6L47.4 230.3L43.2 228.1L38.6 225.8L33.9 223.7L29.1 221.6L24.3 219.6L19.8 217.7L15.6 216.0L11.9 214.6L8.9 213.3L6.5 212.4Z M66.9 619.7L68.1 618.1L69.5 616.1L71.3 613.8L73.2 611.2L75.3 608.4L77.6 605.3L80.0 602.1L82.4 598.8L84.9 595.4L87.5 592.0L90.0 588.6L92.8 585.0L95.6 581.2L98.6 577.3L101.6 573.3L104.7 569.2L107.9 565.0L111.0 560.7L114.2 556.3L117.4 552.0L120.6 547.5L123.9 542.7L127.4 537.7L130.9 532.7L134.3 527.6L137.8 522.7L141.0 517.8L144.2 513.2L147.1 509.0L149.7 505.1L152.0 501.5L154.0 498.4L155.7 495.6L157.2 493.1L158.6 490.8L159.9 488.5L161.3 486.3L162.7 484.1L164.4 481.6L166.3 478.9L168.5 476.0L170.8 472.9L173.2 469.8L175.8 466.6L178.5 463.2L181.3 459.8L184.1 456.2L187.1 452.5L190.1 448.7L193.2 444.7L196.3 440.6L199.3 436.5L202.4 432.3L205.5 428.0L208.7 423.6L211.9 419.1L215.4 414.4L218.9 409.7L222.7 404.8L226.8 399.7L231.2 394.3L235.8 388.5L240.8 382.5L245.8 376.3L251.1 370.0L256.3 363.8L261.7 357.6L266.9 351.7L272.1 346.0L277.2 340.8L282.2 335.7L287.5 330.7L292.8 325.8L298.2 321.1L303.5 316.5L308.7 312.1L313.8 308.0L318.6 304.1L323.1 300.6L327.3 297.4L331.0 294.7L334.3 292.5L337.2 290.5L339.9 288.9L342.4 287.5L344.7 286.4L347.0 285.3L349.4 284.4L351.9 283.5L354.5 282.5L357.1 281.7L359.7 281.1L362.3 280.5L365.0 280.1L367.6 279.7L370.3 279.5L372.9 279.3L375.6 279.2L378.3 279.2L380.8 279.1L383.3 279.2L385.6 279.3L387.9 279.6L390.2 279.8L392.5 280.2L394.8 280.6L397.2 281.1L399.6 281.6L402.0 282.2L404.5 282.8L406.8 283.4L409.1 284.0L411.4 284.7L413.7 285.4L416.0 286.2L418.4 287.0L420.9 287.9L423.6 288.9L426.4 289.8L429.3 290.8L432.3 291.9L435.5 293.0L438.8 294.2L442.2 295.5L445.6 296.7L449.1 298.0L452.7 299.3L456.2 300.6L459.7 301.9L463.2 303.1L466.5 304.4L469.9 305.7L473.3 306.9L476.7 308.2L480.1 309.5L483.5 310.8L487.0 312.0L490.4 313.3L493.9 314.5L497.3 315.6L500.7 316.8L504.2 317.9L507.6 319.0L511.0 320.0L514.5 321.1L517.9 322.1L521.3 323.1L524.7 324.1L528.1 325.1L531.5 326.0L535.0 327.0L538.5 328.0L542.0 329.0L545.6 330.0L549.1 331.0L552.7 332.0L556.1 332.9L559.5 333.7L562.8 334.6L565.9 335.3L568.9 336.0L571.8 336.5L574.5 337.1L577.1 337.5L579.6 337.9L582.1 338.3L584.4 338.6L586.7 339.0L589.0 339.4L591.4 339.9L593.8 340.4L596.1 340.9L598.4 341.4L600.6 341.9L603.0 342.5L605.4 343.0L607.9 343.6L610.6 344.2L613.4 344.9L616.5 345.6L619.9 346.4L623.4 347.2L627.2 348.1L631.2 349.0L635.2 350.0L639.4 350.9L643.5 351.9L647.7 352.8L651.8 353.7L655.7 354.4L659.6 355.2L663.4 355.9L667.2 356.6L671.1 357.3L674.9 358.0L678.7 358.6L682.5 359.2L686.3 359.7L690.0 360.2L693.7 360.6L697.1 360.9L700.5 361.1L703.9 361.4L707.3 361.6L710.6 361.7L714.1 361.8L717.5 361.7L721.1 361.6L724.7 361.3L728.4 360.9L732.1 360.3L735.8 359.5L739.5 358.7L743.3 357.8L747.0 356.8L750.8 355.7L754.5 354.4L758.3 353.1L762.0 351.7L765.6 350.3L769.3 348.7L772.8 347.0L776.4 345.2L780.0 343.4L783.5 341.4L787.0 339.4L790.6 337.2L794.1 335.0L797.6 332.6L801.1 330.1L804.7 327.6L808.2 324.9L811.7 322.1L815.2 319.2L818.7 316.3L822.2 313.2L825.7 310.1L829.2 306.8L832.7 303.5L836.1 300.2L839.6 296.7L843.1 293.0L846.7 289.3L850.2 285.4L853.7 281.5L857.1 277.6L860.5 273.7L863.9 269.7L867.2 265.8L870.5 261.9L873.7 258.0L876.9 254.0L880.0 249.9L883.1 245.9L886.2 241.8L889.2 237.9L892.0 234.0L894.8 230.3L897.5 226.7L900.1 223.4L902.7 220.1L905.3 216.8L907.9 213.5L910.5 210.3L912.9 207.2L915.2 204.4L917.3 201.7L919.2 199.4L920.8 197.4L922.1 195.7L909.2 185.3L907.9 186.9L906.3 188.8L904.3 191.2L902.2 193.8L899.8 196.6L897.3 199.7L894.7 202.9L892.0 206.2L889.4 209.5L886.7 212.8L884.0 216.2L881.2 219.9L878.3 223.6L875.4 227.4L872.4 231.3L869.3 235.3L866.3 239.2L863.2 243.1L860.1 246.9L856.9 250.7L853.8 254.4L850.5 258.2L847.1 262.0L843.8 265.8L840.4 269.6L837.0 273.4L833.6 277.0L830.2 280.5L826.8 284.0L823.5 287.2L820.1 290.4L816.8 293.5L813.5 296.5L810.2 299.5L806.9 302.3L803.5 305.0L800.3 307.7L797.0 310.2L793.7 312.6L790.5 314.9L787.2 317.0L784.0 319.1L780.7 321.1L777.5 322.9L774.3 324.7L771.1 326.3L767.9 327.9L764.6 329.4L761.4 330.8L758.2 332.1L754.9 333.4L751.6 334.6L748.3 335.8L745.0 336.8L741.7 337.8L738.4 338.6L735.1 339.4L731.9 340.1L728.7 340.7L725.6 341.1L722.6 341.5L719.8 341.8L716.9 341.9L714.0 342.0L711.1 342.0L708.2 341.9L705.1 341.7L702.0 341.5L698.7 341.3L695.3 341.0L692.0 340.8L688.5 340.5L685.0 340.1L681.5 339.6L677.8 339.1L674.1 338.6L670.4 338.0L666.6 337.4L662.9 336.8L659.1 336.2L655.3 335.5L651.3 334.8L647.3 334.0L643.2 333.2L639.1 332.3L635.1 331.5L631.1 330.6L627.3 329.8L623.7 329.1L620.3 328.4L617.2 327.8L614.3 327.2L611.7 326.6L609.2 326.1L606.7 325.5L604.4 325.0L602.0 324.5L599.6 324.1L597.2 323.6L594.6 323.1L592.0 322.6L589.4 322.2L586.9 321.9L584.5 321.6L582.1 321.2L579.7 320.9L577.3 320.5L574.8 320.1L572.2 319.7L569.5 319.1L566.5 318.4L563.4 317.7L560.2 316.9L556.8 316.1L553.3 315.2L549.8 314.3L546.3 313.4L542.8 312.4L539.3 311.5L535.9 310.6L532.5 309.6L529.1 308.7L525.8 307.7L522.4 306.7L519.0 305.7L515.7 304.7L512.3 303.7L509.0 302.7L505.6 301.6L502.3 300.6L499.0 299.5L495.6 298.3L492.2 297.2L488.9 296.0L485.5 294.8L482.1 293.6L478.7 292.3L475.3 291.1L471.8 289.9L468.4 288.7L465.0 287.4L461.5 286.1L458.0 284.8L454.5 283.5L451.0 282.2L447.5 280.9L444.1 279.6L440.8 278.4L437.6 277.2L434.5 276.2L431.7 275.1L428.9 274.1L426.3 273.1L423.8 272.2L421.2 271.2L418.7 270.3L416.2 269.5L413.6 268.7L411.0 267.9L408.3 267.2L405.7 266.6L403.1 266.0L400.5 265.4L397.9 264.8L395.2 264.3L392.5 263.9L389.7 263.6L386.8 263.3L383.9 263.1L381.0 263.1L378.0 263.1L375.1 263.2L372.0 263.3L368.9 263.5L365.8 263.8L362.6 264.3L359.3 264.8L356.0 265.6L352.7 266.4L349.5 267.5L346.5 268.5L343.6 269.6L340.8 270.8L337.9 272.1L335.0 273.6L332.0 275.3L328.8 277.3L325.5 279.5L321.9 282.0L317.9 285.0L313.6 288.2L309.0 291.9L304.0 295.8L298.8 300.1L293.4 304.6L287.9 309.3L282.3 314.3L276.8 319.4L271.4 324.5L266.0 329.8L260.7 335.4L255.4 341.2L249.9 347.3L244.5 353.6L239.1 360.0L233.8 366.3L228.7 372.6L223.7 378.7L219.0 384.5L214.6 389.9L210.4 395.1L206.5 400.1L202.8 405.0L199.2 409.7L195.9 414.2L192.6 418.6L189.5 422.8L186.4 427.0L183.4 431.0L180.4 434.9L177.4 438.7L174.4 442.4L171.5 446.0L168.6 449.5L165.8 452.9L163.1 456.2L160.4 459.5L157.8 462.8L155.3 465.9L152.9 469.1L150.7 472.1L148.9 474.8L147.2 477.3L145.7 479.7L144.2 482.0L142.8 484.3L141.3 486.7L139.6 489.3L137.7 492.2L135.5 495.5L132.9 499.4L130.0 503.6L126.9 508.2L123.6 513.0L120.3 518.0L116.8 523.0L113.3 528.0L109.9 532.9L106.6 537.6L103.4 542.0L100.4 546.3L97.3 550.5L94.1 554.7L91.0 558.9L88.0 563.0L84.9 567.0L82.0 570.9L79.1 574.7L76.4 578.3L73.7 581.8L71.2 585.2L68.7 588.6L66.2 591.9L63.8 595.1L61.6 598.2L59.5 601.0L57.5 603.6L55.8 606.0L54.3 607.9L53.1 609.5Z M638.5 161.6L637.5 163.0L636.3 164.8L634.8 167.0L633.2 169.4L631.4 172.0L629.5 174.7L627.6 177.5L625.7 180.4L623.8 183.2L622.0 185.9L620.4 188.5L618.7 191.1L617.0 193.8L615.3 196.6L613.6 199.3L611.9 202.1L610.2 204.9L608.5 207.7L606.8 210.6L605.1 213.4L603.4 216.3L601.6 219.3L599.8 222.3L598.0 225.3L596.2 228.4L594.4 231.5L592.7 234.5L591.0 237.5L589.4 240.4L587.8 243.3L586.3 246.0L584.9 248.6L583.5 251.2L582.1 253.8L580.8 256.3L579.5 258.9L578.3 261.5L577.1 264.0L576.0 266.6L574.9 269.3L573.9 272.0L573.0 274.7L572.1 277.5L571.2 280.3L570.5 283.0L569.7 285.7L569.1 288.4L568.5 291.0L568.0 293.6L567.6 296.0L567.3 298.3L567.1 300.5L567.0 302.6L566.9 304.6L567.0 306.6L567.1 308.6L567.2 310.6L567.4 312.6L567.7 314.7L568.0 316.9L568.5 319.2L568.9 321.6L569.5 324.1L570.1 326.6L570.7 329.3L571.5 332.0L572.3 334.7L573.2 337.5L574.2 340.4L575.3 343.4L576.5 346.3L577.8 349.3L579.2 352.4L580.7 355.4L582.2 358.6L583.8 361.7L585.4 364.9L587.1 368.1L588.8 371.3L590.6 374.6L592.3 378.1L594.2 381.6L596.1 385.2L598.0 389.0L600.1 392.7L602.1 396.4L604.2 400.1L606.2 403.7L608.2 407.3L610.3 410.7L612.3 414.0L614.3 417.3L616.3 420.5L618.3 423.6L620.4 426.7L622.4 429.7L624.3 432.7L626.3 435.5L628.2 438.3L630.1 441.0L631.9 443.6L633.7 446.0L635.3 448.2L637.0 450.4L638.6 452.5L640.2 454.6L641.9 456.8L643.7 459.1L645.6 461.5L647.7 464.1L650.0 467.0L652.5 470.1L655.1 473.3L657.9 476.6L660.7 480.0L663.4 483.3L666.0 486.6L668.5 489.7L670.7 492.8L672.7 495.6L674.5 498.3L676.1 500.8L677.6 503.3L679.0 505.7L680.3 508.0L681.4 510.2L682.5 512.5L683.5 514.8L684.4 517.1L685.3 519.5L686.1 521.9L686.8 524.4L687.4 526.9L688.0 529.4L688.5 532.0L689.0 534.6L689.3 537.2L689.7 539.8L689.9 542.3L690.1 544.9L690.3 547.3L690.4 549.8L690.4 552.3L690.4 554.7L690.3 557.2L690.1 559.6L689.9 561.9L689.7 564.2L689.4 566.4L689.0 568.5L688.7 570.5L688.3 572.2L687.8 573.8L687.4 575.4L686.8 577.0L686.2 578.6L685.5 580.3L684.7 582.1L683.8 584.2L682.9 586.4L681.8 588.8L680.7 591.3L679.5 594.0L678.1 596.8L676.8 599.6L675.3 602.4L673.9 605.3L672.4 608.1L670.9 610.9L669.5 613.6L668.1 616.1L666.8 618.5L665.4 620.7L664.1 623.0L662.7 625.2L661.3 627.6L659.8 630.0L658.1 632.7L656.3 635.5L654.3 638.6L652.1 642.0L649.6 645.7L647.0 649.6L644.3 653.6L641.5 657.8L638.6 662.0L635.7 666.1L632.9 670.2L630.1 674.2L627.5 677.9L624.9 681.4L622.4 684.8L619.9 688.1L617.5 691.3L615.1 694.4L612.6 697.6L610.1 700.8L607.4 704.2L604.7 707.6L601.8 711.2L598.7 715.1L595.6 719.0L592.5 723.0L589.2 727.1L585.8 731.3L582.4 735.5L578.9 739.8L575.4 744.0L571.7 748.3L568.1 752.6L564.1 757.1L559.8 761.9L555.2 767.0L550.4 772.2L545.7 777.3L541.1 782.3L536.8 786.9L533.0 790.9L529.8 794.4L527.3 797.1L537.6 806.6L540.1 803.9L543.3 800.5L547.1 796.4L551.4 791.8L556.0 786.9L560.7 781.7L565.5 776.5L570.2 771.4L574.7 766.4L578.7 761.8L582.5 757.5L586.2 753.1L589.8 748.7L593.3 744.4L596.8 740.2L600.2 735.9L603.5 731.8L606.7 727.8L609.8 723.8L612.8 720.0L615.7 716.2L618.4 712.7L621.0 709.3L623.5 705.9L625.9 702.6L628.3 699.3L630.7 696.0L633.1 692.6L635.6 689.1L638.1 685.5L640.8 681.6L643.6 677.6L646.4 673.4L649.2 669.1L652.1 664.8L654.8 660.6L657.5 656.5L660.1 652.5L662.5 648.8L664.7 645.4L666.7 642.3L668.6 639.5L670.4 636.9L672.0 634.4L673.5 632.0L675.0 629.7L676.5 627.4L677.9 625.1L679.4 622.6L680.9 620.0L682.5 617.3L684.1 614.5L685.7 611.6L687.3 608.7L688.9 605.8L690.4 602.9L691.8 600.1L693.2 597.3L694.5 594.7L695.7 592.2L696.8 589.9L697.7 587.8L698.6 585.8L699.4 583.9L700.2 581.9L700.9 579.9L701.6 577.9L702.2 575.7L702.7 573.5L703.2 571.1L703.6 568.6L703.9 566.0L704.2 563.4L704.5 560.7L704.7 557.9L704.8 555.1L704.8 552.3L704.8 549.4L704.7 546.6L704.5 543.7L704.2 540.9L703.9 538.1L703.5 535.2L703.1 532.3L702.5 529.4L701.9 526.4L701.2 523.5L700.4 520.5L699.5 517.6L698.5 514.7L697.5 511.9L696.3 509.2L695.1 506.6L693.8 504.0L692.5 501.4L691.0 498.8L689.4 496.2L687.7 493.5L685.9 490.7L683.9 487.8L681.7 484.7L679.2 481.5L676.5 478.2L673.7 474.8L670.9 471.4L668.1 468.1L665.3 464.8L662.7 461.7L660.2 458.7L657.9 455.9L655.9 453.3L653.9 450.9L652.2 448.7L650.5 446.6L648.9 444.5L647.3 442.5L645.7 440.5L644.1 438.3L642.4 436.1L640.7 433.6L638.8 430.9L636.9 428.2L635.0 425.4L633.1 422.5L631.1 419.6L629.1 416.6L627.2 413.6L625.2 410.4L623.3 407.3L621.3 404.1L619.4 400.8L617.4 397.4L615.4 393.8L613.4 390.2L611.4 386.5L609.4 382.9L607.5 379.2L605.6 375.6L603.8 372.1L602.0 368.8L600.4 365.4L598.8 362.2L597.3 359.0L595.8 355.8L594.4 352.7L593.0 349.7L591.7 346.8L590.6 343.9L589.5 341.1L588.5 338.4L587.6 335.8L586.8 333.2L586.1 330.7L585.5 328.2L584.9 325.8L584.4 323.4L584.0 321.1L583.6 318.9L583.3 316.7L583.0 314.5L582.6 312.5L582.4 310.7L582.2 309.1L582.0 307.5L582.0 306.1L581.9 304.7L581.9 303.2L582.0 301.6L582.2 299.9L582.4 298.0L582.6 295.9L582.9 293.7L583.3 291.3L583.8 288.9L584.3 286.4L584.9 283.9L585.5 281.4L586.2 278.8L586.9 276.3L587.7 273.9L588.5 271.5L589.4 269.1L590.3 266.7L591.3 264.3L592.4 261.9L593.5 259.4L594.7 256.9L595.9 254.3L597.2 251.6L598.6 248.9L600.0 246.1L601.5 243.3L603.1 240.3L604.8 237.3L606.5 234.3L608.2 231.3L609.9 228.2L611.7 225.2L613.4 222.3L615.1 219.4L616.8 216.6L618.5 213.8L620.2 211.0L621.9 208.3L623.6 205.6L625.4 202.9L627.1 200.3L628.8 197.6L630.5 195.1L632.2 192.5L633.9 189.9L635.7 187.2L637.7 184.5L639.6 181.7L641.5 179.0L643.3 176.5L645.0 174.1L646.5 172.0L647.8 170.2L648.8 168.8Z M0.2 551.7L2.0 552.9L4.3 554.3L7.1 556.1L10.1 558.0L13.5 560.1L17.0 562.3L20.6 564.6L24.2 566.9L27.7 569.1L31.0 571.2L34.4 573.3L37.9 575.5L41.4 577.7L45.0 580.0L48.7 582.2L52.2 584.5L55.7 586.6L59.0 588.7L62.1 590.6L65.0 592.4L67.5 594.0L69.7 595.4L71.7 596.7L73.6 597.8L75.4 599.0L77.2 600.1L79.0 601.2L81.0 602.4L83.2 603.6L85.6 605.0L88.3 606.4L91.0 608.0L94.0 609.6L97.0 611.2L100.1 612.8L103.3 614.5L106.5 616.2L109.8 617.8L113.1 619.4L116.4 621.0L119.7 622.5L123.1 624.1L126.6 625.6L130.1 627.1L133.6 628.7L137.2 630.1L140.7 631.6L144.1 633.0L147.5 634.3L150.7 635.5L153.8 636.6L156.7 637.7L159.5 638.7L162.3 639.7L165.1 640.6L168.0 641.5L170.9 642.3L174.0 643.1L177.2 643.8L180.6 644.5L184.1 645.1L187.7 645.6L191.4 646.1L195.1 646.5L199.0 646.8L202.9 647.1L207.0 647.4L211.2 647.6L215.5 647.7L219.9 647.8L224.6 647.9L229.4 647.9L234.4 647.8L239.6 647.6L244.8 647.5L250.1 647.2L255.4 647.0L260.7 646.7L265.9 646.4L271.1 646.1L276.2 645.8L281.3 645.4L286.5 645.0L291.6 644.6L296.7 644.2L301.9 643.7L307.0 643.2L312.1 642.7L317.1 642.3L322.2 641.8L327.2 641.3L332.2 640.9L337.2 640.4L342.2 640.0L347.2 639.5L352.2 639.0L357.2 638.5L362.2 638.0L367.3 637.4L372.4 636.9L377.6 636.2L382.9 635.6L388.4 634.9L393.9 634.2L399.4 633.5L404.8 632.7L409.9 632.0L414.9 631.3L419.4 630.7L423.6 630.0L427.4 629.4L430.7 628.8L433.8 628.2L436.5 627.7L439.0 627.1L441.4 626.6L443.8 626.1L446.1 625.5L448.6 625.0L451.3 624.5L454.2 623.9L457.2 623.3L460.3 622.7L463.5 622.0L466.7 621.4L469.8 620.8L472.8 620.2L475.8 619.7L478.6 619.1L481.2 618.6L483.6 618.1L485.7 617.7L487.6 617.3L489.4 616.9L491.1 616.6L492.8 616.2L494.6 615.9L496.5 615.5L498.7 615.1L501.1 614.6L503.8 614.1L506.6 613.6L509.7 613.1L512.8 612.5L516.0 611.9L519.4 611.4L522.8 610.8L526.2 610.2L529.6 609.6L533.0 609.0L536.5 608.4L540.0 607.8L543.6 607.1L547.2 606.5L550.9 605.8L554.5 605.2L558.1 604.6L561.6 604.1L565.1 603.6L568.6 603.2L572.0 602.9L575.4 602.6L578.7 602.3L582.1 602.1L585.4 601.9L588.8 601.8L592.1 601.7L595.3 601.7L598.6 601.7L601.8 601.7L605.0 601.8L608.2 601.9L611.3 602.0L614.4 602.2L617.5 602.4L620.6 602.7L623.6 603.0L626.7 603.4L629.8 603.8L633.0 604.3L636.2 604.9L639.6 605.6L643.1 606.4L646.6 607.2L650.1 608.1L653.6 609.0L657.0 609.9L660.3 610.8L663.4 611.7L666.2 612.5L668.8 613.2L671.0 613.9L673.1 614.6L674.9 615.2L676.7 615.8L678.4 616.5L680.2 617.1L682.0 617.9L683.9 618.6L685.9 619.5L688.1 620.4L690.2 621.3L692.3 622.2L694.4 623.2L696.6 624.2L698.9 625.3L701.2 626.5L703.7 627.7L706.3 629.0L709.1 630.4L712.1 631.9L715.2 633.5L718.5 635.2L721.9 636.9L725.4 638.7L728.9 640.6L732.4 642.4L735.9 644.3L739.3 646.2L742.6 648.1L745.8 650.0L748.9 651.9L752.0 653.8L755.1 655.7L758.1 657.6L761.2 659.6L764.4 661.6L767.6 663.8L770.9 666.0L774.4 668.4L778.1 670.7L781.7 673.1L785.3 675.5L789.0 678.0L792.8 680.5L796.6 683.2L800.6 686.0L804.8 689.0L809.1 692.2L813.7 695.6L818.5 699.3L823.7 703.4L829.0 707.7L834.6 712.3L840.3 717.0L846.1 721.8L851.9 726.6L857.6 731.3L863.3 735.8L868.7 740.1L874.1 744.3L879.5 748.5L885.0 752.7L890.4 756.8L895.7 760.8L901.0 764.7L906.0 768.5L910.9 772.1L915.6 775.5L920.0 778.6L924.3 781.6L928.5 784.5L932.6 787.1L936.6 789.7L940.3 792.0L943.7 794.1L946.8 796.0L949.6 797.7L951.9 799.1L953.8 800.3L960.3 790.0L958.4 788.8L956.1 787.3L953.3 785.6L950.2 783.6L946.9 781.5L943.3 779.2L939.5 776.7L935.5 774.1L931.5 771.3L927.4 768.4L923.0 765.2L918.5 761.9L913.6 758.3L908.6 754.5L903.5 750.6L898.2 746.5L892.9 742.4L887.5 738.3L882.1 734.1L876.9 729.9L871.6 725.6L866.1 721.0L860.5 716.3L854.8 711.5L849.1 706.6L843.4 701.8L837.8 697.1L832.4 692.6L827.2 688.4L822.3 684.4L817.7 680.8L813.2 677.5L808.9 674.4L804.9 671.5L800.9 668.7L797.1 666.1L793.4 663.5L789.7 661.1L786.1 658.6L782.6 656.2L779.0 653.9L775.6 651.6L772.3 649.5L769.1 647.4L765.9 645.4L762.7 643.4L759.6 641.4L756.4 639.5L753.1 637.6L749.8 635.7L746.3 633.7L742.8 631.8L739.2 629.9L735.5 628.0L731.9 626.1L728.4 624.3L724.9 622.5L721.5 620.9L718.3 619.3L715.3 617.8L712.5 616.5L709.8 615.2L707.2 613.9L704.8 612.8L702.4 611.7L700.1 610.7L697.8 609.7L695.6 608.7L693.3 607.8L691.1 606.9L688.9 606.1L686.9 605.3L684.9 604.6L683.0 603.9L681.1 603.2L679.1 602.6L677.0 601.9L674.8 601.3L672.4 600.6L669.8 599.9L666.9 599.1L663.8 598.3L660.4 597.4L656.9 596.5L653.3 595.5L649.6 594.6L645.9 593.8L642.2 593.0L638.6 592.3L635.0 591.7L631.6 591.2L628.3 590.8L625.0 590.4L621.7 590.1L618.4 589.8L615.2 589.7L611.9 589.5L608.6 589.4L605.3 589.3L602.0 589.3L598.6 589.3L595.2 589.3L591.7 589.4L588.3 589.5L584.8 589.7L581.3 589.9L577.9 590.2L574.3 590.5L570.8 590.8L567.2 591.2L563.6 591.6L559.9 592.1L556.2 592.7L552.5 593.3L548.8 593.9L545.1 594.5L541.5 595.2L537.9 595.8L534.4 596.4L531.0 597.0L527.6 597.5L524.1 598.1L520.7 598.7L517.3 599.3L514.0 599.8L510.7 600.4L507.5 600.9L504.5 601.4L501.6 601.9L498.9 602.4L496.4 602.8L494.3 603.2L492.3 603.6L490.4 603.9L488.7 604.2L486.9 604.5L485.1 604.9L483.2 605.2L481.1 605.6L478.8 606.0L476.2 606.5L473.4 607.0L470.5 607.5L467.4 608.1L464.3 608.7L461.1 609.2L457.9 609.8L454.8 610.4L451.7 611.0L448.7 611.5L445.9 612.1L443.3 612.6L440.9 613.2L438.6 613.7L436.2 614.2L433.8 614.7L431.2 615.3L428.3 615.8L425.2 616.4L421.6 617.0L417.5 617.6L412.9 618.3L408.1 619.1L402.9 619.8L397.6 620.6L392.2 621.3L386.7 622.1L381.3 622.8L376.0 623.5L370.8 624.1L365.8 624.7L360.9 625.3L355.9 625.8L350.9 626.4L346.0 626.9L341.0 627.3L336.0 627.8L331.1 628.3L326.1 628.8L321.0 629.2L316.0 629.7L310.9 630.1L305.8 630.6L300.7 631.0L295.6 631.5L290.6 631.9L285.5 632.3L280.4 632.6L275.4 633.0L270.3 633.3L265.2 633.6L260.0 633.8L254.8 634.1L249.5 634.3L244.3 634.6L239.2 634.7L234.1 634.9L229.3 635.0L224.6 635.0L220.1 635.0L215.8 634.9L211.6 634.8L207.6 634.6L203.7 634.4L200.0 634.1L196.4 633.8L192.8 633.5L189.4 633.1L186.0 632.6L182.8 632.1L179.7 631.5L176.8 630.9L174.1 630.3L171.4 629.6L168.8 628.8L166.2 628.0L163.6 627.1L160.8 626.2L157.9 625.2L154.9 624.1L151.7 623.0L148.4 621.8L145.1 620.5L141.6 619.1L138.2 617.7L134.7 616.3L131.2 614.8L127.8 613.4L124.5 611.9L121.2 610.4L118.0 609.0L114.8 607.5L111.6 605.9L108.4 604.3L105.3 602.8L102.2 601.2L99.2 599.6L96.4 598.1L93.6 596.6L91.0 595.2L88.6 593.9L86.6 592.8L84.7 591.7L83.0 590.6L81.3 589.5L79.5 588.4L77.7 587.3L75.6 586.0L73.4 584.6L70.8 583.0L68.0 581.2L64.9 579.3L61.6 577.2L58.1 575.1L54.5 572.8L50.9 570.6L47.3 568.3L43.8 566.1L40.3 563.9L37.0 561.8L33.6 559.7L30.1 557.5L26.5 555.2L22.9 553.0L19.4 550.7L16.1 548.6L13.0 546.7L10.3 544.9L7.9 543.5L6.1 542.3Z" fill="#5e6269"/>
<clipPath id="cc1"><path d="M499.8 328.0C510.1 327.5 515.2 328.0 523.0 329.4C530.8 330.8 539.9 333.2 546.4 336.4C552.9 339.6 558.0 344.1 561.9 348.8C565.8 353.5 567.7 357.8 569.6 364.3C571.5 370.8 572.9 379.8 573.5 387.6C574.1 395.4 573.9 403.0 573.5 410.9C573.1 418.8 572.9 424.1 571.4 435.0C569.9 445.9 567.0 465.3 564.5 476.0C562.0 486.7 559.8 491.7 556.5 499.0C553.2 506.3 550.7 512.2 545.0 520.0C539.3 527.8 528.4 539.1 522.5 545.8C516.6 552.5 514.4 555.0 509.5 560.0C504.6 565.0 499.6 570.4 493.0 576.0C486.4 581.6 477.5 588.9 469.8 593.6C462.1 598.3 454.4 601.6 446.6 604.0C438.9 606.4 431.1 607.1 423.3 607.8C415.5 608.5 410.2 609.0 400.0 608.1C389.8 607.2 372.2 605.0 362.0 602.7C351.8 600.5 346.7 598.4 339.0 594.6C331.3 590.8 322.8 586.0 316.0 579.7C309.2 573.4 302.7 564.4 298.5 556.7C294.3 549.0 292.6 543.2 290.7 533.6C288.8 524.0 288.0 510.5 287.3 499.0C286.6 487.5 286.0 474.3 286.7 464.5C287.4 454.7 289.3 448.3 291.7 440.0C294.1 431.7 296.9 423.2 301.0 414.7C305.1 406.2 311.3 396.0 316.5 389.0C321.7 382.0 326.8 377.2 332.0 372.8C337.2 368.4 341.1 366.0 347.6 362.8C354.1 359.6 363.2 356.1 370.9 353.4C378.6 350.7 386.2 348.6 394.0 346.5C401.8 344.4 411.4 342.3 417.4 341.0C423.4 339.7 422.7 340.1 430.0 338.7C437.3 337.3 449.4 334.3 461.0 332.5C472.6 330.7 489.5 328.5 499.8 328.0Z"/></clipPath><clipPath id="cn1"><path d="M453.3 388.4C461.1 388.5 468.8 389.1 476.5 390.7C484.2 392.2 492.7 394.9 499.8 397.7C506.9 400.5 513.4 403.9 519.2 407.7C525.0 411.4 531.0 416.0 534.7 420.2C538.4 424.4 540.0 427.5 541.5 433.0C543.0 438.5 544.0 445.8 544.0 453.0C544.0 460.2 543.5 468.3 541.6 476.0C539.7 483.7 536.4 492.3 532.4 499.0C528.4 505.7 524.1 511.0 517.4 516.4C510.7 521.8 502.0 527.3 492.0 531.3C482.0 535.3 468.1 538.4 457.6 540.5C447.1 542.6 436.1 543.5 428.8 544.0C421.5 544.5 421.3 544.2 414.0 543.4C406.7 542.6 393.7 541.4 385.0 539.4C376.3 537.4 369.3 535.1 362.0 531.3C354.7 527.5 346.6 521.8 341.4 516.4C336.2 511.0 333.5 505.7 331.0 499.0C328.5 492.3 326.6 483.7 326.4 476.0C326.1 468.3 327.6 459.7 329.5 453.0C331.4 446.3 334.7 441.1 338.0 436.0C341.3 430.9 345.3 426.8 349.5 422.5C353.7 418.2 358.1 413.6 363.0 410.0C367.9 406.4 372.1 403.4 378.6 400.8C385.1 398.2 393.3 396.4 401.9 394.6C410.5 392.9 421.4 391.3 430.0 390.3C438.6 389.3 445.6 388.3 453.3 388.4Z"/></clipPath>
<path d="M499.8 328.0C510.1 327.5 515.2 328.0 523.0 329.4C530.8 330.8 539.9 333.2 546.4 336.4C552.9 339.6 558.0 344.1 561.9 348.8C565.8 353.5 567.7 357.8 569.6 364.3C571.5 370.8 572.9 379.8 573.5 387.6C574.1 395.4 573.9 403.0 573.5 410.9C573.1 418.8 572.9 424.1 571.4 435.0C569.9 445.9 567.0 465.3 564.5 476.0C562.0 486.7 559.8 491.7 556.5 499.0C553.2 506.3 550.7 512.2 545.0 520.0C539.3 527.8 528.4 539.1 522.5 545.8C516.6 552.5 514.4 555.0 509.5 560.0C504.6 565.0 499.6 570.4 493.0 576.0C486.4 581.6 477.5 588.9 469.8 593.6C462.1 598.3 454.4 601.6 446.6 604.0C438.9 606.4 431.1 607.1 423.3 607.8C415.5 608.5 410.2 609.0 400.0 608.1C389.8 607.2 372.2 605.0 362.0 602.7C351.8 600.5 346.7 598.4 339.0 594.6C331.3 590.8 322.8 586.0 316.0 579.7C309.2 573.4 302.7 564.4 298.5 556.7C294.3 549.0 292.6 543.2 290.7 533.6C288.8 524.0 288.0 510.5 287.3 499.0C286.6 487.5 286.0 474.3 286.7 464.5C287.4 454.7 289.3 448.3 291.7 440.0C294.1 431.7 296.9 423.2 301.0 414.7C305.1 406.2 311.3 396.0 316.5 389.0C321.7 382.0 326.8 377.2 332.0 372.8C337.2 368.4 341.1 366.0 347.6 362.8C354.1 359.6 363.2 356.1 370.9 353.4C378.6 350.7 386.2 348.6 394.0 346.5C401.8 344.4 411.4 342.3 417.4 341.0C423.4 339.7 422.7 340.1 430.0 338.7C437.3 337.3 449.4 334.3 461.0 332.5C472.6 330.7 489.5 328.5 499.8 328.0Z" fill="#12287a"/>
<g clip-path="url(#cc1)" opacity="1.00"><rect x="283" y="324" width="295" height="288" filter="url(#mot)"/><rect x="283" y="324" width="295" height="288" filter="url(#motd)"/></g>
<path d="M499.8 328.0C510.1 327.5 515.2 328.0 523.0 329.4C530.8 330.8 539.9 333.2 546.4 336.4C552.9 339.6 558.0 344.1 561.9 348.8C565.8 353.5 567.7 357.8 569.6 364.3C571.5 370.8 572.9 379.8 573.5 387.6C574.1 395.4 573.9 403.0 573.5 410.9C573.1 418.8 572.9 424.1 571.4 435.0C569.9 445.9 567.0 465.3 564.5 476.0C562.0 486.7 559.8 491.7 556.5 499.0C553.2 506.3 550.7 512.2 545.0 520.0C539.3 527.8 528.4 539.1 522.5 545.8C516.6 552.5 514.4 555.0 509.5 560.0C504.6 565.0 499.6 570.4 493.0 576.0C486.4 581.6 477.5 588.9 469.8 593.6C462.1 598.3 454.4 601.6 446.6 604.0C438.9 606.4 431.1 607.1 423.3 607.8C415.5 608.5 410.2 609.0 400.0 608.1C389.8 607.2 372.2 605.0 362.0 602.7C351.8 600.5 346.7 598.4 339.0 594.6C331.3 590.8 322.8 586.0 316.0 579.7C309.2 573.4 302.7 564.4 298.5 556.7C294.3 549.0 292.6 543.2 290.7 533.6C288.8 524.0 288.0 510.5 287.3 499.0C286.6 487.5 286.0 474.3 286.7 464.5C287.4 454.7 289.3 448.3 291.7 440.0C294.1 431.7 296.9 423.2 301.0 414.7C305.1 406.2 311.3 396.0 316.5 389.0C321.7 382.0 326.8 377.2 332.0 372.8C337.2 368.4 341.1 366.0 347.6 362.8C354.1 359.6 363.2 356.1 370.9 353.4C378.6 350.7 386.2 348.6 394.0 346.5C401.8 344.4 411.4 342.3 417.4 341.0C423.4 339.7 422.7 340.1 430.0 338.7C437.3 337.3 449.4 334.3 461.0 332.5C472.6 330.7 489.5 328.5 499.8 328.0Z" fill="none" stroke="#070e3a" stroke-width="3.2"/>
<path d="M453.3 388.4C461.1 388.5 468.8 389.1 476.5 390.7C484.2 392.2 492.7 394.9 499.8 397.7C506.9 400.5 513.4 403.9 519.2 407.7C525.0 411.4 531.0 416.0 534.7 420.2C538.4 424.4 540.0 427.5 541.5 433.0C543.0 438.5 544.0 445.8 544.0 453.0C544.0 460.2 543.5 468.3 541.6 476.0C539.7 483.7 536.4 492.3 532.4 499.0C528.4 505.7 524.1 511.0 517.4 516.4C510.7 521.8 502.0 527.3 492.0 531.3C482.0 535.3 468.1 538.4 457.6 540.5C447.1 542.6 436.1 543.5 428.8 544.0C421.5 544.5 421.3 544.2 414.0 543.4C406.7 542.6 393.7 541.4 385.0 539.4C376.3 537.4 369.3 535.1 362.0 531.3C354.7 527.5 346.6 521.8 341.4 516.4C336.2 511.0 333.5 505.7 331.0 499.0C328.5 492.3 326.6 483.7 326.4 476.0C326.1 468.3 327.6 459.7 329.5 453.0C331.4 446.3 334.7 441.1 338.0 436.0C341.3 430.9 345.3 426.8 349.5 422.5C353.7 418.2 358.1 413.6 363.0 410.0C367.9 406.4 372.1 403.4 378.6 400.8C385.1 398.2 393.3 396.4 401.9 394.6C410.5 392.9 421.4 391.3 430.0 390.3C438.6 389.3 445.6 388.3 453.3 388.4Z" fill="#44579b"/>
<g clip-path="url(#cn1)"><rect x="322" y="384" width="226" height="164" filter="url(#mot2)" opacity="0.70"/><path d="M453.3 388.4C461.1 388.5 468.8 389.1 476.5 390.7C484.2 392.2 492.7 394.9 499.8 397.7C506.9 400.5 513.4 403.9 519.2 407.7C525.0 411.4 531.0 416.0 534.7 420.2C538.4 424.4 540.0 427.5 541.5 433.0C543.0 438.5 544.0 445.8 544.0 453.0C544.0 460.2 543.5 468.3 541.6 476.0C539.7 483.7 536.4 492.3 532.4 499.0C528.4 505.7 524.1 511.0 517.4 516.4C510.7 521.8 502.0 527.3 492.0 531.3C482.0 535.3 468.1 538.4 457.6 540.5C447.1 542.6 436.1 543.5 428.8 544.0C421.5 544.5 421.3 544.2 414.0 543.4C406.7 542.6 393.7 541.4 385.0 539.4C376.3 537.4 369.3 535.1 362.0 531.3C354.7 527.5 346.6 521.8 341.4 516.4C336.2 511.0 333.5 505.7 331.0 499.0C328.5 492.3 326.6 483.7 326.4 476.0C326.1 468.3 327.6 459.7 329.5 453.0C331.4 446.3 334.7 441.1 338.0 436.0C341.3 430.9 345.3 426.8 349.5 422.5C353.7 418.2 358.1 413.6 363.0 410.0C367.9 406.4 372.1 403.4 378.6 400.8C385.1 398.2 393.3 396.4 401.9 394.6C410.5 392.9 421.4 391.3 430.0 390.3C438.6 389.3 445.6 388.3 453.3 388.4Z" fill="none" stroke="#6a82c0" stroke-width="9" opacity="0.45" filter="url(#blur2)"/></g>
<path d="M453.3 388.4C461.1 388.5 468.8 389.1 476.5 390.7C484.2 392.2 492.7 394.9 499.8 397.7C506.9 400.5 513.4 403.9 519.2 407.7C525.0 411.4 531.0 416.0 534.7 420.2C538.4 424.4 540.0 427.5 541.5 433.0C543.0 438.5 544.0 445.8 544.0 453.0C544.0 460.2 543.5 468.3 541.6 476.0C539.7 483.7 536.4 492.3 532.4 499.0C528.4 505.7 524.1 511.0 517.4 516.4C510.7 521.8 502.0 527.3 492.0 531.3C482.0 535.3 468.1 538.4 457.6 540.5C447.1 542.6 436.1 543.5 428.8 544.0C421.5 544.5 421.3 544.2 414.0 543.4C406.7 542.6 393.7 541.4 385.0 539.4C376.3 537.4 369.3 535.1 362.0 531.3C354.7 527.5 346.6 521.8 341.4 516.4C336.2 511.0 333.5 505.7 331.0 499.0C328.5 492.3 326.6 483.7 326.4 476.0C326.1 468.3 327.6 459.7 329.5 453.0C331.4 446.3 334.7 441.1 338.0 436.0C341.3 430.9 345.3 426.8 349.5 422.5C353.7 418.2 358.1 413.6 363.0 410.0C367.9 406.4 372.1 403.4 378.6 400.8C385.1 398.2 393.3 396.4 401.9 394.6C410.5 392.9 421.4 391.3 430.0 390.3C438.6 389.3 445.6 388.3 453.3 388.4Z" fill="none" stroke="#0b1344" stroke-width="2.6"/>
</g>
<g id="p2">
<path d="M1082.7 200.0L1084.8 201.3L1087.5 202.8L1090.6 204.6L1094.1 206.6L1097.8 208.8L1101.7 211.0L1105.6 213.4L1109.5 215.7L1113.2 218.0L1116.7 220.2L1120.0 222.4L1123.4 224.6L1126.7 226.8L1130.1 229.1L1133.4 231.3L1136.7 233.6L1140.0 236.0L1143.3 238.4L1146.6 240.9L1149.9 243.4L1153.2 246.1L1156.7 248.9L1160.2 251.7L1163.6 254.5L1167.1 257.4L1170.4 260.4L1173.7 263.3L1176.9 266.2L1179.9 269.2L1182.8 272.1L1185.6 275.0L1188.3 278.0L1191.0 281.0L1193.5 284.0L1196.0 287.1L1198.3 290.1L1200.7 293.2L1202.9 296.3L1205.0 299.5L1207.1 302.6L1209.0 305.7L1210.9 308.8L1212.7 311.9L1214.4 315.1L1216.0 318.4L1217.6 321.6L1219.1 324.9L1220.6 328.2L1222.1 331.5L1223.4 334.8L1224.8 338.1L1226.0 341.4L1227.3 344.8L1228.4 348.1L1229.6 351.5L1230.6 354.9L1231.6 358.2L1232.6 361.4L1233.5 364.5L1234.3 367.5L1234.9 370.2L1235.5 372.8L1236.0 375.2L1236.4 377.5L1236.8 379.8L1237.2 382.1L1237.5 384.4L1237.8 386.7L1238.1 389.2L1238.4 391.7L1238.6 394.2L1238.8 396.7L1239.0 399.3L1239.2 401.9L1239.3 404.5L1239.4 407.1L1239.5 409.8L1239.6 412.4L1239.7 415.0L1239.8 417.6L1239.9 420.2L1240.0 422.6L1240.0 424.9L1240.1 427.2L1240.2 429.4L1240.2 431.7L1240.2 434.1L1240.2 436.7L1240.2 439.4L1240.2 442.3L1240.1 445.5L1240.0 448.8L1239.8 452.3L1239.7 455.9L1239.5 459.7L1239.3 463.6L1239.1 467.7L1238.9 471.8L1238.8 476.0L1238.6 480.3L1238.5 484.7L1238.4 489.2L1238.2 493.9L1238.1 498.8L1238.0 503.7L1237.9 508.6L1237.8 513.5L1237.7 518.2L1237.7 522.9L1237.7 527.3L1237.7 531.6L1237.8 535.8L1237.9 539.9L1238.0 543.9L1238.1 547.8L1238.3 551.7L1238.4 555.5L1238.6 559.2L1238.9 562.8L1239.1 566.4L1239.4 569.8L1239.8 573.1L1240.1 576.2L1240.5 579.2L1240.9 582.2L1241.4 585.1L1241.8 588.0L1242.3 590.9L1242.8 593.9L1243.3 597.0L1243.8 600.3L1244.4 603.6L1245.0 607.0L1245.7 610.5L1246.3 614.0L1247.0 617.5L1247.7 621.0L1248.4 624.5L1249.2 628.1L1250.0 631.6L1250.7 635.0L1251.6 638.5L1252.4 642.0L1253.3 645.5L1254.2 649.0L1255.1 652.5L1256.0 655.9L1256.9 659.4L1257.9 662.8L1258.9 666.2L1259.8 669.4L1260.8 672.5L1261.7 675.5L1262.7 678.5L1263.7 681.4L1264.7 684.4L1265.8 687.5L1266.9 690.8L1268.1 694.4L1269.4 698.2L1270.9 702.5L1272.4 707.2L1274.1 712.3L1275.8 717.5L1277.6 723.0L1279.4 728.5L1281.3 733.9L1283.2 739.1L1285.0 744.2L1286.9 748.9L1288.9 753.5L1291.0 758.0L1293.1 762.4L1295.3 766.6L1297.4 770.6L1299.4 774.3L1301.3 777.7L1302.9 780.7L1304.3 783.1L1305.3 785.1L1323.3 775.7L1322.2 773.6L1320.8 771.0L1319.2 768.0L1317.4 764.7L1315.5 761.1L1313.5 757.2L1311.6 753.3L1309.6 749.2L1307.8 745.1L1306.1 741.1L1304.4 736.8L1302.7 732.1L1301.0 727.1L1299.2 721.8L1297.5 716.5L1295.8 711.1L1294.1 705.8L1292.5 700.7L1291.0 696.0L1289.6 691.6L1288.3 687.6L1287.1 684.0L1286.0 680.7L1285.0 677.6L1284.1 674.7L1283.2 671.9L1282.3 669.1L1281.5 666.3L1280.6 663.3L1279.7 660.2L1278.9 657.0L1278.0 653.7L1277.1 650.4L1276.3 647.0L1275.5 643.7L1274.6 640.3L1273.9 636.9L1273.1 633.6L1272.4 630.2L1271.6 626.8L1271.0 623.5L1270.3 620.1L1269.6 616.7L1269.0 613.3L1268.4 609.9L1267.8 606.5L1267.3 603.2L1266.7 599.8L1266.2 596.6L1265.7 593.4L1265.2 590.3L1264.8 587.3L1264.3 584.5L1263.9 581.7L1263.5 579.0L1263.2 576.3L1262.9 573.6L1262.6 570.7L1262.3 567.8L1262.1 564.6L1261.9 561.3L1261.7 557.9L1261.5 554.4L1261.4 550.8L1261.3 547.1L1261.2 543.3L1261.2 539.5L1261.1 535.5L1261.1 531.4L1261.1 527.3L1261.1 523.0L1261.1 518.5L1261.2 513.8L1261.3 509.1L1261.4 504.2L1261.5 499.4L1261.6 494.6L1261.8 489.8L1261.9 485.3L1262.0 480.9L1262.1 476.7L1262.2 472.6L1262.3 468.5L1262.4 464.5L1262.5 460.6L1262.6 456.8L1262.7 453.0L1262.8 449.4L1262.8 445.9L1262.8 442.5L1262.8 439.3L1262.7 436.4L1262.6 433.6L1262.5 431.0L1262.4 428.5L1262.2 426.1L1262.0 423.7L1261.8 421.3L1261.6 418.9L1261.4 416.4L1261.2 413.7L1261.0 411.1L1260.7 408.4L1260.5 405.6L1260.2 402.9L1259.9 400.1L1259.6 397.4L1259.2 394.6L1258.8 391.8L1258.4 389.1L1258.1 386.5L1257.7 384.0L1257.3 381.5L1256.9 379.0L1256.5 376.5L1256.0 373.9L1255.4 371.2L1254.8 368.4L1254.1 365.5L1253.3 362.5L1252.5 359.4L1251.6 356.1L1250.7 352.7L1249.7 349.1L1248.6 345.5L1247.4 341.9L1246.2 338.2L1244.9 334.5L1243.6 330.8L1242.2 327.2L1240.7 323.7L1239.2 320.1L1237.7 316.6L1236.1 313.0L1234.4 309.4L1232.6 305.8L1230.8 302.2L1228.8 298.6L1226.7 295.0L1224.5 291.4L1222.3 287.9L1219.9 284.5L1217.5 281.0L1215.0 277.6L1212.4 274.2L1209.7 270.8L1206.9 267.4L1204.0 264.1L1201.0 260.8L1198.0 257.5L1194.7 254.2L1191.4 251.0L1187.9 247.7L1184.4 244.6L1180.8 241.4L1177.2 238.3L1173.6 235.3L1170.0 232.4L1166.4 229.5L1162.9 226.8L1159.4 224.0L1155.9 221.4L1152.4 218.8L1148.9 216.3L1145.5 213.9L1142.0 211.5L1138.5 209.2L1135.1 206.9L1131.6 204.6L1128.1 202.4L1124.5 200.0L1120.5 197.6L1116.5 195.2L1112.4 192.8L1108.5 190.5L1104.7 188.3L1101.2 186.2L1098.1 184.4L1095.5 182.9L1093.5 181.8Z M1154.2 593.1L1155.5 591.4L1157.0 589.3L1158.9 586.9L1160.9 584.1L1163.2 581.0L1165.6 577.8L1168.1 574.5L1170.6 571.0L1173.2 567.5L1175.8 564.0L1178.4 560.5L1181.2 556.9L1184.0 553.1L1187.0 549.2L1190.0 545.2L1193.1 541.1L1196.2 536.9L1199.4 532.7L1202.6 528.3L1205.7 524.0L1209.0 519.4L1212.3 514.6L1215.8 509.7L1219.3 504.7L1222.7 499.6L1226.2 494.6L1229.5 489.8L1232.6 485.2L1235.5 480.9L1238.1 477.0L1240.4 473.5L1242.4 470.3L1244.2 467.5L1245.7 465.0L1247.1 462.6L1248.4 460.4L1249.7 458.3L1251.1 456.0L1252.8 453.6L1254.7 450.9L1256.8 448.0L1259.1 445.0L1261.5 441.9L1264.1 438.6L1266.8 435.3L1269.6 431.9L1272.5 428.3L1275.4 424.6L1278.4 420.7L1281.5 416.8L1284.6 412.7L1287.7 408.5L1290.8 404.3L1293.9 400.0L1297.0 395.6L1300.3 391.1L1303.7 386.5L1307.3 381.7L1311.1 376.8L1315.1 371.8L1319.5 366.3L1324.2 360.6L1329.1 354.5L1334.2 348.4L1339.4 342.1L1344.6 335.9L1349.9 329.7L1355.2 323.8L1360.4 318.2L1365.4 313.0L1370.4 308.0L1375.6 303.0L1380.9 298.1L1386.3 293.4L1391.6 288.8L1396.8 284.4L1401.9 280.3L1406.7 276.4L1411.2 272.9L1415.3 269.8L1419.0 267.1L1422.2 264.9L1425.1 263.0L1427.8 261.4L1430.2 260.0L1432.5 258.9L1434.7 257.9L1437.0 257.0L1439.5 256.0L1442.1 255.2L1444.6 254.4L1447.1 253.7L1449.6 253.2L1452.2 252.8L1454.8 252.4L1457.4 252.2L1460.0 252.0L1462.7 251.9L1465.3 251.9L1467.8 251.8L1470.2 251.9L1472.5 252.0L1474.7 252.2L1477.0 252.5L1479.2 252.9L1481.5 253.3L1483.8 253.8L1486.2 254.3L1488.6 254.9L1491.0 255.5L1493.4 256.0L1495.6 256.6L1497.8 257.3L1500.1 258.0L1502.4 258.8L1504.8 259.6L1507.4 260.5L1510.0 261.5L1512.8 262.4L1515.7 263.5L1518.8 264.5L1521.9 265.6L1525.2 266.8L1528.6 268.1L1532.0 269.3L1535.6 270.6L1539.1 271.9L1542.6 273.2L1546.1 274.5L1549.6 275.7L1553.0 277.0L1556.3 278.3L1559.7 279.5L1563.1 280.8L1566.5 282.1L1570.0 283.4L1573.4 284.6L1576.8 285.9L1580.3 287.1L1583.8 288.3L1587.2 289.4L1590.7 290.5L1594.1 291.6L1597.5 292.7L1601.0 293.7L1604.4 294.7L1607.8 295.7L1611.2 296.7L1614.6 297.7L1618.1 298.7L1621.5 299.7L1625.0 300.7L1628.6 301.7L1632.1 302.7L1635.7 303.7L1639.2 304.6L1642.7 305.5L1646.1 306.4L1649.4 307.2L1652.5 308.0L1655.6 308.6L1658.5 309.2L1661.3 309.7L1663.9 310.2L1666.4 310.6L1668.8 311.0L1671.2 311.3L1673.5 311.7L1675.7 312.1L1678.1 312.6L1680.4 313.1L1682.7 313.6L1685.0 314.1L1687.3 314.6L1689.6 315.1L1692.0 315.7L1694.5 316.3L1697.2 316.9L1700.1 317.6L1703.2 318.3L1706.5 319.0L1710.1 319.9L1713.8 320.8L1717.8 321.7L1721.9 322.6L1726.0 323.6L1730.2 324.5L1734.3 325.5L1738.4 326.3L1742.4 327.1L1746.3 327.9L1750.1 328.6L1753.9 329.3L1757.8 330.0L1761.6 330.7L1765.5 331.3L1769.3 331.9L1773.1 332.4L1776.8 332.9L1780.5 333.3L1784.0 333.6L1787.4 333.8L1790.8 334.1L1794.2 334.3L1797.6 334.4L1801.1 334.5L1804.6 334.4L1808.2 334.3L1811.9 334.0L1815.6 333.5L1819.4 332.9L1823.1 332.2L1826.9 331.4L1830.7 330.5L1834.5 329.4L1838.3 328.3L1842.1 327.1L1845.9 325.7L1849.6 324.3L1853.3 322.8L1856.9 321.2L1860.6 319.5L1864.2 317.7L1867.7 315.9L1871.3 313.9L1874.9 311.8L1878.4 309.7L1882.0 307.4L1885.6 305.0L1889.1 302.5L1892.7 299.9L1896.2 297.2L1899.8 294.4L1903.3 291.5L1906.9 288.5L1910.4 285.5L1913.9 282.3L1917.4 279.1L1920.8 275.8L1924.3 272.4L1927.8 268.9L1931.4 265.2L1934.9 261.4L1938.4 257.6L1941.9 253.7L1945.4 249.7L1948.8 245.8L1952.2 241.8L1955.5 237.9L1958.8 234.0L1962.0 230.1L1965.2 226.1L1968.3 222.0L1971.4 218.0L1974.5 213.9L1977.4 210.0L1980.3 206.1L1983.1 202.4L1985.8 198.8L1988.5 195.4L1991.1 192.1L1993.8 188.6L1996.5 185.2L1999.2 181.9L2001.8 178.6L2004.2 175.6L2006.4 172.8L2008.4 170.3L2010.1 168.2L2011.5 166.5L1995.9 153.9L1994.6 155.6L1992.8 157.6L1990.8 160.1L1988.5 162.9L1986.0 165.9L1983.4 169.1L1980.7 172.5L1977.9 175.9L1975.1 179.3L1972.3 182.8L1969.6 186.3L1966.8 189.9L1963.9 193.7L1960.9 197.5L1958.0 201.4L1954.9 205.3L1951.9 209.2L1948.8 213.1L1945.8 216.8L1942.6 220.6L1939.5 224.3L1936.2 228.1L1932.9 231.9L1929.5 235.7L1926.1 239.5L1922.7 243.2L1919.3 246.8L1915.9 250.4L1912.6 253.8L1909.3 257.0L1906.0 260.2L1902.7 263.3L1899.3 266.3L1896.0 269.2L1892.7 272.0L1889.5 274.7L1886.2 277.3L1882.9 279.8L1879.7 282.2L1876.5 284.5L1873.3 286.6L1870.1 288.7L1866.9 290.6L1863.7 292.4L1860.5 294.2L1857.3 295.8L1854.1 297.4L1850.9 298.9L1847.7 300.3L1844.5 301.6L1841.3 302.8L1838.0 304.0L1834.8 305.2L1831.5 306.2L1828.2 307.1L1825.0 308.0L1821.7 308.8L1818.6 309.4L1815.4 310.0L1812.4 310.5L1809.5 310.8L1806.6 311.1L1803.8 311.2L1801.0 311.3L1798.2 311.3L1795.2 311.2L1792.2 311.0L1789.1 310.8L1785.8 310.6L1782.5 310.3L1779.1 310.1L1775.7 309.8L1772.3 309.4L1768.7 308.9L1765.1 308.4L1761.4 307.9L1757.7 307.3L1753.9 306.7L1750.2 306.1L1746.4 305.5L1742.6 304.8L1738.7 304.1L1734.6 303.3L1730.6 302.5L1726.5 301.7L1722.4 300.8L1718.5 300.0L1714.7 299.2L1711.0 298.4L1707.6 297.7L1704.5 297.1L1701.7 296.5L1699.1 295.9L1696.5 295.4L1694.1 294.9L1691.7 294.4L1689.4 293.9L1687.0 293.4L1684.5 292.9L1681.9 292.4L1679.3 292.0L1676.7 291.6L1674.2 291.2L1671.8 290.9L1669.4 290.5L1667.0 290.2L1664.6 289.9L1662.1 289.4L1659.6 289.0L1656.9 288.4L1653.9 287.8L1650.8 287.1L1647.6 286.3L1644.2 285.5L1640.8 284.6L1637.3 283.7L1633.8 282.7L1630.2 281.8L1626.8 280.8L1623.3 279.9L1620.0 279.0L1616.6 278.0L1613.2 277.1L1609.9 276.1L1606.5 275.1L1603.2 274.1L1599.8 273.1L1596.5 272.1L1593.2 271.0L1589.8 269.9L1586.5 268.8L1583.2 267.7L1579.8 266.6L1576.4 265.4L1573.1 264.2L1569.7 263.0L1566.3 261.7L1562.9 260.5L1559.4 259.3L1556.0 258.1L1552.6 256.8L1549.1 255.5L1545.6 254.2L1542.1 252.9L1538.6 251.6L1535.1 250.3L1531.7 249.0L1528.4 247.8L1525.1 246.6L1522.1 245.5L1519.2 244.5L1516.5 243.5L1513.9 242.5L1511.3 241.6L1508.8 240.6L1506.3 239.7L1503.7 238.9L1501.1 238.0L1498.5 237.3L1495.8 236.5L1493.1 235.9L1490.5 235.3L1487.9 234.7L1485.2 234.2L1482.5 233.7L1479.7 233.2L1476.9 232.9L1474.0 232.6L1471.0 232.4L1468.0 232.4L1465.0 232.4L1462.0 232.5L1458.9 232.6L1455.8 232.8L1452.6 233.2L1449.3 233.6L1446.0 234.2L1442.6 234.9L1439.2 235.8L1435.9 236.8L1432.9 237.9L1430.0 239.1L1427.1 240.3L1424.2 241.6L1421.2 243.1L1418.1 244.9L1414.9 246.8L1411.5 249.1L1407.9 251.7L1403.9 254.6L1399.6 257.9L1394.9 261.5L1389.9 265.5L1384.7 269.8L1379.3 274.3L1373.8 279.1L1368.2 284.0L1362.7 289.1L1357.2 294.3L1351.8 299.6L1346.5 305.2L1341.1 311.1L1335.6 317.2L1330.2 323.5L1324.8 329.9L1319.5 336.3L1314.4 342.5L1309.4 348.6L1304.7 354.4L1300.3 359.8L1296.1 365.0L1292.2 370.1L1288.4 374.9L1284.9 379.6L1281.5 384.2L1278.3 388.6L1275.1 392.8L1272.1 397.0L1269.1 401.0L1266.1 404.8L1263.1 408.6L1260.1 412.3L1257.2 415.9L1254.3 419.4L1251.5 422.8L1248.7 426.2L1246.0 429.5L1243.4 432.7L1240.9 435.9L1238.5 439.1L1236.3 442.1L1234.4 444.8L1232.7 447.4L1231.2 449.8L1229.8 452.1L1228.3 454.4L1226.8 456.8L1225.2 459.4L1223.3 462.3L1221.1 465.6L1218.5 469.4L1215.6 473.7L1212.5 478.3L1209.2 483.1L1205.9 488.0L1202.4 493.0L1198.9 498.0L1195.5 502.9L1192.2 507.6L1189.1 512.0L1186.0 516.3L1182.9 520.5L1179.8 524.7L1176.7 528.8L1173.7 532.9L1170.6 536.9L1167.7 540.7L1164.8 544.5L1162.0 548.2L1159.4 551.8L1156.8 555.3L1154.2 558.8L1151.6 562.2L1149.1 565.6L1146.7 568.8L1144.5 571.9L1142.4 574.6L1140.6 577.1L1139.0 579.2L1137.8 580.9Z M1725.0 130.2L1724.0 131.7L1722.7 133.7L1721.1 135.9L1719.4 138.5L1717.5 141.3L1715.4 144.2L1713.4 147.2L1711.4 150.2L1709.4 153.1L1707.6 155.9L1705.9 158.6L1704.2 161.3L1702.5 164.0L1700.8 166.7L1699.1 169.5L1697.4 172.3L1695.7 175.0L1694.0 177.9L1692.3 180.7L1690.7 183.6L1688.9 186.5L1687.1 189.4L1685.3 192.4L1683.5 195.5L1681.7 198.6L1679.9 201.6L1678.2 204.7L1676.5 207.7L1674.9 210.6L1673.3 213.5L1671.8 216.2L1670.4 218.9L1669.0 221.5L1667.6 224.0L1666.3 226.6L1665.0 229.2L1663.7 231.8L1662.5 234.4L1661.4 237.0L1660.3 239.7L1659.3 242.5L1658.3 245.2L1657.4 248.0L1656.6 250.8L1655.8 253.6L1655.1 256.4L1654.4 259.1L1653.9 261.7L1653.4 264.3L1652.9 266.8L1652.6 269.1L1652.4 271.4L1652.3 273.5L1652.2 275.6L1652.3 277.7L1652.4 279.7L1652.5 281.8L1652.8 283.8L1653.0 285.9L1653.4 288.1L1653.8 290.5L1654.3 292.9L1654.8 295.4L1655.4 298.0L1656.1 300.7L1656.8 303.4L1657.7 306.2L1658.6 309.1L1659.6 312.0L1660.7 314.9L1661.9 318.0L1663.2 321.0L1664.6 324.1L1666.1 327.2L1667.7 330.3L1669.3 333.4L1670.9 336.6L1672.6 339.9L1674.3 343.1L1676.0 346.4L1677.8 349.8L1679.6 353.4L1681.6 357.0L1683.5 360.8L1685.6 364.5L1687.6 368.2L1689.7 371.9L1691.7 375.6L1693.8 379.1L1695.8 382.6L1697.8 385.9L1699.8 389.2L1701.9 392.4L1703.9 395.6L1705.9 398.7L1707.9 401.7L1709.9 404.6L1711.9 407.5L1713.8 410.3L1715.7 413.0L1717.6 415.6L1719.3 418.0L1721.0 420.3L1722.6 422.4L1724.3 424.6L1725.9 426.7L1727.6 428.9L1729.4 431.1L1731.3 433.5L1733.3 436.1L1735.7 439.1L1738.2 442.2L1740.8 445.4L1743.6 448.7L1746.3 452.0L1749.1 455.4L1751.7 458.6L1754.1 461.8L1756.4 464.8L1758.3 467.5L1760.1 470.2L1761.7 472.7L1763.2 475.2L1764.5 477.5L1765.8 479.8L1766.9 482.0L1767.9 484.2L1768.9 486.4L1769.8 488.7L1770.7 491.0L1771.5 493.4L1772.2 495.8L1772.8 498.3L1773.4 500.8L1773.9 503.3L1774.3 505.9L1774.7 508.4L1775.0 511.0L1775.2 513.5L1775.4 516.0L1775.6 518.4L1775.7 520.8L1775.7 523.3L1775.7 525.7L1775.6 528.1L1775.4 530.4L1775.2 532.8L1775.0 535.0L1774.7 537.2L1774.3 539.2L1774.0 541.1L1773.6 542.8L1773.2 544.3L1772.7 545.9L1772.2 547.4L1771.6 548.9L1771.0 550.6L1770.2 552.5L1769.3 554.5L1768.3 556.7L1767.3 559.1L1766.2 561.6L1764.9 564.2L1763.6 567.0L1762.2 569.8L1760.8 572.7L1759.4 575.5L1757.9 578.3L1756.4 581.1L1755.0 583.7L1753.6 586.2L1752.3 588.6L1751.0 590.9L1749.7 593.1L1748.3 595.3L1746.9 597.7L1745.3 600.1L1743.7 602.7L1741.9 605.6L1739.9 608.7L1737.6 612.1L1735.2 615.7L1732.6 619.6L1729.9 623.7L1727.0 627.8L1724.2 632.0L1721.3 636.2L1718.5 640.3L1715.7 644.2L1713.1 647.9L1710.5 651.5L1708.0 654.8L1705.6 658.1L1703.1 661.3L1700.7 664.4L1698.2 667.6L1695.7 670.8L1693.1 674.1L1690.3 677.6L1687.4 681.2L1684.4 685.0L1681.3 688.9L1678.2 692.9L1674.9 697.0L1671.6 701.2L1668.2 705.3L1664.7 709.6L1661.1 713.9L1657.5 718.2L1653.8 722.5L1649.8 727.0L1645.3 732.0L1640.6 737.2L1635.7 742.5L1630.8 747.8L1626.1 752.9L1621.7 757.6L1617.8 761.9L1614.5 765.4L1611.9 768.2L1624.7 780.0L1627.2 777.3L1630.5 773.7L1634.5 769.5L1638.9 764.8L1643.6 759.7L1648.5 754.4L1653.5 749.0L1658.3 743.7L1662.9 738.6L1667.0 733.9L1670.8 729.5L1674.5 725.1L1678.2 720.7L1681.7 716.4L1685.2 712.1L1688.6 707.9L1691.9 703.8L1695.1 699.8L1698.2 695.8L1701.2 692.0L1704.0 688.3L1706.7 684.7L1709.3 681.3L1711.8 677.9L1714.3 674.6L1716.7 671.4L1719.1 668.0L1721.5 664.6L1724.0 661.1L1726.5 657.5L1729.2 653.6L1732.0 649.5L1734.8 645.3L1737.6 641.1L1740.5 636.8L1743.3 632.6L1745.9 628.4L1748.5 624.5L1750.9 620.8L1753.1 617.3L1755.2 614.2L1757.1 611.4L1758.8 608.8L1760.4 606.3L1762.0 603.9L1763.5 601.6L1764.9 599.3L1766.4 596.9L1767.9 594.5L1769.4 591.9L1771.0 589.1L1772.6 586.3L1774.2 583.4L1775.8 580.5L1777.4 577.6L1778.9 574.7L1780.4 571.8L1781.8 569.1L1783.1 566.4L1784.3 563.9L1785.3 561.6L1786.3 559.5L1787.2 557.5L1788.0 555.5L1788.8 553.5L1789.5 551.4L1790.2 549.3L1790.8 547.1L1791.4 544.8L1791.9 542.4L1792.3 539.8L1792.6 537.2L1792.9 534.5L1793.2 531.8L1793.4 529.0L1793.5 526.1L1793.5 523.3L1793.5 520.4L1793.4 517.5L1793.2 514.6L1792.9 511.8L1792.6 508.9L1792.2 506.0L1791.7 503.0L1791.2 500.1L1790.6 497.1L1789.9 494.1L1789.1 491.1L1788.2 488.1L1787.1 485.2L1786.0 482.3L1784.9 479.6L1783.7 476.9L1782.4 474.2L1780.9 471.6L1779.4 468.9L1777.8 466.3L1776.1 463.6L1774.3 460.8L1772.3 457.9L1770.0 454.7L1767.5 451.5L1764.8 448.1L1762.1 444.7L1759.2 441.3L1756.4 438.0L1753.6 434.7L1751.0 431.6L1748.5 428.6L1746.3 425.9L1744.2 423.3L1742.3 420.9L1740.5 418.6L1738.8 416.5L1737.2 414.5L1735.6 412.5L1734.1 410.4L1732.5 408.3L1730.8 406.1L1729.1 403.6L1727.2 401.0L1725.3 398.2L1723.4 395.5L1721.5 392.6L1719.5 389.7L1717.6 386.7L1715.6 383.6L1713.7 380.5L1711.7 377.4L1709.8 374.2L1707.9 370.9L1705.9 367.5L1703.9 364.0L1701.9 360.4L1699.9 356.7L1697.9 353.1L1696.0 349.4L1694.1 345.8L1692.3 342.4L1690.6 339.0L1688.9 335.7L1687.3 332.4L1685.8 329.2L1684.3 326.1L1682.9 323.0L1681.6 320.0L1680.3 317.1L1679.1 314.3L1678.1 311.5L1677.1 308.9L1676.2 306.3L1675.5 303.7L1674.8 301.2L1674.1 298.8L1673.6 296.4L1673.1 294.1L1672.7 291.8L1672.3 289.6L1671.9 287.4L1671.6 285.3L1671.3 283.3L1671.1 281.5L1670.9 279.9L1670.7 278.4L1670.7 277.0L1670.6 275.7L1670.6 274.3L1670.7 272.8L1670.9 271.1L1671.1 269.2L1671.3 267.2L1671.6 265.0L1672.0 262.7L1672.4 260.3L1672.9 257.8L1673.5 255.3L1674.1 252.8L1674.8 250.3L1675.5 247.9L1676.3 245.5L1677.1 243.1L1678.0 240.8L1678.9 238.4L1679.9 236.0L1680.9 233.6L1682.0 231.2L1683.2 228.7L1684.4 226.1L1685.7 223.4L1687.1 220.7L1688.5 217.9L1690.0 215.1L1691.6 212.2L1693.3 209.2L1694.9 206.1L1696.7 203.1L1698.4 200.1L1700.1 197.1L1701.9 194.1L1703.5 191.2L1705.2 188.4L1706.9 185.7L1708.6 183.0L1710.3 180.3L1712.0 177.6L1713.7 174.9L1715.4 172.3L1717.1 169.7L1718.9 167.0L1720.6 164.5L1722.4 161.8L1724.3 159.0L1726.3 156.1L1728.4 153.2L1730.4 150.3L1732.3 147.6L1734.1 145.0L1735.7 142.8L1737.1 140.9L1738.2 139.4Z M1084.7 523.4L1086.7 524.6L1089.1 526.1L1092.0 527.9L1095.3 530.0L1098.8 532.2L1102.5 534.6L1106.2 536.9L1110.0 539.3L1113.6 541.6L1117.1 543.8L1120.5 545.9L1124.0 548.1L1127.5 550.3L1131.2 552.6L1134.8 554.9L1138.3 557.1L1141.8 559.2L1145.0 561.3L1148.1 563.2L1151.0 565.0L1153.5 566.6L1155.7 567.9L1157.7 569.2L1159.6 570.4L1161.4 571.5L1163.2 572.6L1165.1 573.8L1167.1 575.0L1169.3 576.2L1171.7 577.6L1174.4 579.1L1177.2 580.6L1180.1 582.2L1183.1 583.8L1186.2 585.5L1189.4 587.1L1192.7 588.8L1196.0 590.5L1199.3 592.1L1202.6 593.6L1205.9 595.2L1209.3 596.7L1212.8 598.3L1216.4 599.8L1219.9 601.4L1223.5 602.9L1227.0 604.3L1230.4 605.7L1233.8 607.0L1237.1 608.2L1240.2 609.4L1243.1 610.4L1245.9 611.5L1248.8 612.5L1251.6 613.4L1254.5 614.3L1257.5 615.1L1260.6 615.9L1263.9 616.7L1267.3 617.3L1270.9 617.9L1274.5 618.5L1278.2 618.9L1282.0 619.3L1285.8 619.7L1289.8 620.0L1293.9 620.2L1298.1 620.4L1302.4 620.6L1306.9 620.7L1311.6 620.7L1316.4 620.7L1321.5 620.6L1326.6 620.5L1331.9 620.3L1337.2 620.1L1342.5 619.8L1347.8 619.6L1353.0 619.3L1358.2 619.0L1363.3 618.7L1368.5 618.3L1373.6 617.9L1378.8 617.5L1383.9 617.0L1389.0 616.5L1394.1 616.1L1399.2 615.6L1404.3 615.1L1409.3 614.6L1414.4 614.2L1419.4 613.7L1424.4 613.3L1429.4 612.8L1434.4 612.3L1439.4 611.9L1444.4 611.3L1449.4 610.8L1454.5 610.3L1459.6 609.7L1464.8 609.1L1470.2 608.4L1475.6 607.7L1481.2 607.0L1486.7 606.3L1492.0 605.6L1497.2 604.9L1502.1 604.2L1506.7 603.5L1510.9 602.8L1514.7 602.2L1518.1 601.6L1521.1 601.0L1523.9 600.5L1526.4 599.9L1528.8 599.4L1531.2 598.9L1533.5 598.3L1536.0 597.8L1538.6 597.3L1541.5 596.7L1544.6 596.1L1547.7 595.5L1550.9 594.9L1554.0 594.2L1557.1 593.6L1560.2 593.0L1563.1 592.5L1565.9 591.9L1568.5 591.4L1570.9 590.9L1573.0 590.5L1574.9 590.1L1576.7 589.7L1578.4 589.4L1580.1 589.0L1581.9 588.7L1583.9 588.3L1586.0 587.9L1588.4 587.4L1591.1 586.9L1594.0 586.4L1597.0 585.9L1600.1 585.3L1603.4 584.8L1606.7 584.2L1610.1 583.6L1613.5 583.0L1616.9 582.4L1620.3 581.8L1623.8 581.2L1627.3 580.6L1630.9 580.0L1634.6 579.3L1638.2 578.7L1641.8 578.1L1645.4 577.5L1648.9 576.9L1652.4 576.5L1655.8 576.1L1659.1 575.7L1662.5 575.4L1665.9 575.2L1669.2 575.0L1672.5 574.8L1675.8 574.7L1679.1 574.6L1682.4 574.5L1685.6 574.5L1688.8 574.5L1692.0 574.6L1695.2 574.7L1698.2 574.9L1701.3 575.0L1704.4 575.3L1707.4 575.5L1710.4 575.8L1713.5 576.2L1716.6 576.6L1719.7 577.1L1722.9 577.7L1726.2 578.4L1729.7 579.2L1733.2 580.0L1736.7 580.9L1740.2 581.8L1743.6 582.7L1746.8 583.6L1749.9 584.5L1752.7 585.3L1755.3 586.0L1757.5 586.7L1759.5 587.4L1761.4 588.0L1763.1 588.6L1764.8 589.2L1766.5 589.9L1768.3 590.6L1770.2 591.4L1772.2 592.2L1774.4 593.1L1776.5 594.0L1778.5 594.9L1780.7 595.9L1782.8 596.9L1785.1 598.0L1787.4 599.1L1789.9 600.3L1792.5 601.6L1795.3 603.0L1798.2 604.5L1801.4 606.1L1804.7 607.8L1808.1 609.6L1811.6 611.4L1815.1 613.2L1818.6 615.1L1822.0 617.0L1825.4 618.9L1828.7 620.7L1831.9 622.6L1835.0 624.5L1838.0 626.3L1841.1 628.2L1844.1 630.2L1847.2 632.1L1850.3 634.2L1853.6 636.3L1856.9 638.6L1860.4 640.9L1864.0 643.3L1867.6 645.7L1871.3 648.1L1875.0 650.5L1878.7 653.0L1882.6 655.7L1886.6 658.5L1890.7 661.5L1895.0 664.6L1899.6 668.0L1904.4 671.8L1909.5 675.8L1914.9 680.2L1920.4 684.7L1926.1 689.5L1931.9 694.2L1937.7 699.0L1943.4 703.7L1949.1 708.3L1954.6 712.6L1960.0 716.8L1965.4 721.0L1970.8 725.1L1976.2 729.2L1981.5 733.2L1986.7 737.2L1991.8 740.9L1996.8 744.5L2001.5 747.9L2006.0 751.1L2010.4 754.2L2014.7 757.1L2019.0 759.9L2023.1 762.6L2027.0 765.0L2030.6 767.3L2033.9 769.3L2036.8 771.1L2039.3 772.6L2041.2 773.8L2049.8 760.4L2047.7 759.1L2045.2 757.5L2042.4 755.7L2039.1 753.6L2035.6 751.4L2031.8 749.0L2027.9 746.4L2023.8 743.7L2019.6 740.8L2015.4 737.9L2011.1 734.7L2006.5 731.3L2001.6 727.7L1996.6 724.0L1991.5 720.1L1986.3 716.0L1980.9 711.9L1975.6 707.8L1970.3 703.6L1965.0 699.4L1959.7 695.1L1954.2 690.6L1948.6 685.9L1942.9 681.0L1937.2 676.2L1931.6 671.4L1926.0 666.7L1920.6 662.2L1915.4 657.9L1910.4 654.0L1905.8 650.4L1901.3 647.0L1897.0 643.9L1892.9 641.0L1889.0 638.2L1885.1 635.5L1881.4 633.0L1877.7 630.5L1874.2 628.1L1870.6 625.7L1867.1 623.3L1863.6 621.1L1860.3 618.9L1857.1 616.8L1853.9 614.8L1850.7 612.8L1847.5 610.9L1844.3 608.9L1841.1 607.0L1837.7 605.1L1834.2 603.1L1830.7 601.2L1827.0 599.2L1823.4 597.3L1819.8 595.5L1816.2 593.6L1812.7 591.9L1809.4 590.2L1806.1 588.7L1803.1 587.2L1800.3 585.8L1797.6 584.5L1795.0 583.3L1792.6 582.1L1790.2 581.0L1787.8 580.0L1785.6 579.0L1783.3 578.0L1781.0 577.1L1778.8 576.2L1776.6 575.3L1774.5 574.6L1772.6 573.8L1770.6 573.1L1768.7 572.5L1766.7 571.8L1764.6 571.2L1762.3 570.5L1759.9 569.8L1757.3 569.1L1754.4 568.3L1751.2 567.5L1747.9 566.6L1744.4 565.7L1740.8 564.7L1737.1 563.8L1733.3 563.0L1729.6 562.2L1725.9 561.5L1722.3 560.9L1718.9 560.4L1715.5 559.9L1712.2 559.6L1708.8 559.3L1705.5 559.0L1702.3 558.8L1699.0 558.7L1695.7 558.6L1692.4 558.5L1689.0 558.5L1685.6 558.4L1682.1 558.5L1678.7 558.6L1675.2 558.7L1671.7 558.9L1668.2 559.1L1664.7 559.3L1661.2 559.6L1657.6 560.0L1654.0 560.3L1650.4 560.8L1646.7 561.3L1642.9 561.8L1639.2 562.4L1635.5 563.1L1631.8 563.7L1628.1 564.3L1624.6 565.0L1621.1 565.6L1617.7 566.2L1614.3 566.7L1610.8 567.3L1607.4 567.9L1604.0 568.4L1600.7 569.0L1597.4 569.5L1594.2 570.1L1591.2 570.6L1588.3 571.1L1585.6 571.6L1583.1 572.0L1580.9 572.4L1578.9 572.7L1577.1 573.1L1575.3 573.4L1573.6 573.7L1571.8 574.0L1569.9 574.4L1567.8 574.8L1565.5 575.2L1562.9 575.7L1560.1 576.2L1557.1 576.7L1554.1 577.3L1550.9 577.8L1547.7 578.4L1544.6 579.0L1541.4 579.6L1538.3 580.2L1535.4 580.7L1532.6 581.3L1529.9 581.8L1527.5 582.4L1525.1 582.9L1522.8 583.4L1520.4 583.9L1517.8 584.5L1515.0 585.0L1511.9 585.6L1508.3 586.2L1504.2 586.8L1499.7 587.5L1494.8 588.2L1489.7 589.0L1484.4 589.8L1479.0 590.5L1473.5 591.3L1468.1 592.0L1462.8 592.7L1457.6 593.3L1452.6 593.9L1447.7 594.5L1442.7 595.0L1437.7 595.5L1432.8 596.0L1427.8 596.5L1422.9 597.0L1417.9 597.4L1412.9 597.9L1407.9 598.4L1402.8 598.8L1397.7 599.3L1392.6 599.7L1387.6 600.2L1382.5 600.6L1377.4 601.0L1372.3 601.4L1367.3 601.8L1362.2 602.1L1357.2 602.4L1352.1 602.7L1346.9 603.0L1341.7 603.3L1336.4 603.5L1331.2 603.7L1326.1 603.9L1321.1 604.0L1316.2 604.1L1311.6 604.1L1307.1 604.1L1302.8 604.0L1298.7 603.9L1294.7 603.7L1290.9 603.5L1287.1 603.3L1283.5 603.0L1280.0 602.6L1276.6 602.2L1273.3 601.8L1270.1 601.3L1267.1 600.7L1264.2 600.1L1261.5 599.5L1258.9 598.8L1256.4 598.1L1253.8 597.3L1251.2 596.4L1248.4 595.5L1245.5 594.4L1242.5 593.4L1239.3 592.2L1236.1 591.0L1232.8 589.8L1229.3 588.4L1225.9 587.0L1222.4 585.6L1219.0 584.1L1215.6 582.7L1212.2 581.2L1209.0 579.8L1205.8 578.3L1202.6 576.8L1199.4 575.2L1196.3 573.7L1193.2 572.1L1190.1 570.5L1187.1 569.0L1184.2 567.5L1181.5 566.0L1178.9 564.6L1176.5 563.3L1174.5 562.2L1172.7 561.1L1170.9 560.0L1169.2 559.0L1167.5 557.9L1165.7 556.7L1163.6 555.4L1161.4 554.0L1158.8 552.4L1156.0 550.6L1152.9 548.7L1149.6 546.7L1146.2 544.5L1142.6 542.3L1139.0 540.1L1135.4 537.8L1131.8 535.6L1128.3 533.4L1124.9 531.2L1121.5 529.1L1117.9 526.8L1114.1 524.4L1110.4 522.0L1106.7 519.7L1103.2 517.5L1099.9 515.4L1097.0 513.6L1094.6 512.1L1092.7 510.8Z" fill="#34373b"/>
<path d="M1085.1 199.4L1087.0 200.6L1089.6 202.1L1092.5 203.8L1095.8 205.7L1099.4 207.7L1103.1 209.9L1106.9 212.1L1110.6 214.4L1114.2 216.6L1117.6 218.8L1120.9 220.9L1124.2 223.1L1127.6 225.3L1130.9 227.6L1134.3 229.9L1137.6 232.2L1140.9 234.6L1144.3 237.0L1147.6 239.5L1150.9 242.1L1154.3 244.8L1157.8 247.5L1161.2 250.4L1164.7 253.2L1168.2 256.1L1171.6 259.1L1174.9 262.0L1178.1 265.0L1181.1 268.0L1184.1 270.9L1186.9 273.9L1189.6 276.9L1192.3 279.9L1194.8 282.9L1197.3 286.0L1199.7 289.1L1202.0 292.2L1204.3 295.4L1206.4 298.5L1208.5 301.7L1210.5 304.8L1212.4 307.9L1214.2 311.1L1215.9 314.4L1217.5 317.6L1219.1 320.9L1220.7 324.2L1222.2 327.5L1223.6 330.9L1225.0 334.2L1226.4 337.5L1227.6 340.8L1228.9 344.2L1230.1 347.6L1231.2 351.0L1232.3 354.4L1233.3 357.7L1234.2 361.0L1235.1 364.1L1235.9 367.1L1236.6 369.8L1237.2 372.4L1237.7 374.9L1238.1 377.2L1238.5 379.5L1238.8 381.8L1239.2 384.2L1239.5 386.5L1239.8 388.9L1240.1 391.5L1240.3 394.0L1240.5 396.5L1240.7 399.1L1240.8 401.7L1241.0 404.4L1241.1 407.0L1241.2 409.7L1241.3 412.3L1241.4 414.9L1241.5 417.5L1241.6 420.1L1241.7 422.5L1241.7 424.8L1241.8 427.1L1241.9 429.4L1241.9 431.7L1241.9 434.1L1241.9 436.7L1241.9 439.4L1241.9 442.3L1241.8 445.5L1241.7 448.8L1241.5 452.3L1241.4 456.0L1241.2 459.8L1241.0 463.7L1240.8 467.7L1240.6 471.9L1240.5 476.1L1240.3 480.3L1240.2 484.7L1240.1 489.3L1239.9 494.0L1239.8 498.8L1239.7 503.7L1239.6 508.6L1239.5 513.5L1239.4 518.3L1239.4 522.9L1239.4 527.3L1239.4 531.6L1239.5 535.7L1239.6 539.8L1239.7 543.8L1239.8 547.8L1240.0 551.6L1240.1 555.4L1240.3 559.1L1240.6 562.7L1240.8 566.2L1241.1 569.7L1241.4 572.9L1241.8 576.0L1242.2 579.0L1242.6 582.0L1243.0 584.8L1243.5 587.7L1244.0 590.6L1244.5 593.6L1245.0 596.7L1245.5 600.0L1246.1 603.3L1246.7 606.7L1247.3 610.2L1248.0 613.6L1248.7 617.2L1249.4 620.7L1250.1 624.2L1250.8 627.7L1251.6 631.2L1252.4 634.7L1253.2 638.1L1254.1 641.6L1254.9 645.1L1255.8 648.6L1256.7 652.1L1257.6 655.5L1258.6 658.9L1259.5 662.3L1260.5 665.7L1261.5 669.0L1262.4 672.0L1263.4 675.0L1264.3 677.9L1265.3 680.9L1266.3 683.8L1267.4 687.0L1268.5 690.3L1269.7 693.8L1271.1 697.7L1272.5 702.0L1274.0 706.7L1275.7 711.8L1277.4 717.1L1279.2 722.6L1281.1 728.0L1282.9 733.4L1284.8 738.7L1286.7 743.6L1288.5 748.3L1290.4 752.7L1292.4 757.0L1294.5 761.2L1296.5 765.3L1298.5 769.1L1300.5 772.6L1302.2 775.8L1303.8 778.6L1305.1 780.9L1306.1 782.8L1321.0 775.0L1320.0 773.0L1318.6 770.5L1317.1 767.7L1315.4 764.5L1313.6 761.1L1311.7 757.4L1309.8 753.6L1308.0 749.7L1306.2 745.7L1304.5 741.7L1302.9 737.5L1301.2 732.8L1299.4 727.7L1297.7 722.5L1295.9 717.1L1294.2 711.7L1292.5 706.4L1290.9 701.3L1289.4 696.5L1287.9 692.1L1286.7 688.2L1285.5 684.6L1284.4 681.3L1283.4 678.2L1282.4 675.2L1281.5 672.4L1280.7 669.6L1279.8 666.7L1279.0 663.8L1278.1 660.7L1277.2 657.4L1276.3 654.1L1275.5 650.8L1274.6 647.5L1273.8 644.1L1273.0 640.7L1272.2 637.3L1271.4 633.9L1270.7 630.6L1270.0 627.2L1269.3 623.8L1268.6 620.5L1268.0 617.0L1267.3 613.6L1266.7 610.2L1266.1 606.8L1265.6 603.5L1265.0 600.1L1264.5 596.9L1264.0 593.7L1263.5 590.6L1263.1 587.6L1262.6 584.8L1262.2 582.0L1261.9 579.3L1261.5 576.5L1261.2 573.8L1260.9 570.9L1260.6 567.9L1260.4 564.8L1260.2 561.4L1260.0 558.0L1259.8 554.5L1259.7 550.9L1259.6 547.2L1259.5 543.4L1259.5 539.5L1259.4 535.5L1259.4 531.4L1259.4 527.3L1259.4 523.0L1259.4 518.5L1259.5 513.8L1259.6 509.0L1259.7 504.2L1259.8 499.3L1259.9 494.5L1260.1 489.8L1260.2 485.2L1260.3 480.9L1260.4 476.7L1260.5 472.6L1260.6 468.5L1260.7 464.5L1260.8 460.5L1260.9 456.7L1261.0 453.0L1261.1 449.3L1261.1 445.8L1261.1 442.5L1261.1 439.3L1261.0 436.4L1260.9 433.7L1260.8 431.1L1260.7 428.6L1260.5 426.2L1260.3 423.8L1260.1 421.4L1259.9 419.0L1259.7 416.5L1259.5 413.8L1259.3 411.2L1259.0 408.5L1258.8 405.8L1258.5 403.0L1258.2 400.3L1257.9 397.5L1257.5 394.8L1257.1 392.0L1256.7 389.3L1256.4 386.8L1256.0 384.3L1255.6 381.8L1255.2 379.3L1254.8 376.8L1254.3 374.2L1253.8 371.6L1253.2 368.8L1252.5 365.9L1251.7 362.9L1250.9 359.8L1250.0 356.5L1249.1 353.1L1248.0 349.6L1247.0 346.0L1245.8 342.4L1244.6 338.7L1243.3 335.1L1242.0 331.4L1240.6 327.8L1239.1 324.3L1237.7 320.8L1236.1 317.3L1234.5 313.7L1232.9 310.1L1231.1 306.6L1229.3 303.0L1227.3 299.4L1225.3 295.9L1223.1 292.3L1220.8 288.9L1218.5 285.4L1216.1 282.0L1213.6 278.6L1211.0 275.2L1208.3 271.9L1205.6 268.5L1202.7 265.2L1199.8 262.0L1196.7 258.7L1193.6 255.4L1190.2 252.2L1186.8 249.0L1183.3 245.8L1179.7 242.7L1176.1 239.6L1172.5 236.6L1168.9 233.7L1165.4 230.9L1161.9 228.1L1158.4 225.4L1154.9 222.7L1151.4 220.2L1147.9 217.7L1144.4 215.2L1140.9 212.9L1137.5 210.5L1134.0 208.3L1130.6 206.0L1127.2 203.8L1123.6 201.5L1119.9 199.2L1116.0 196.9L1112.1 194.6L1108.3 192.4L1104.7 190.3L1101.4 188.3L1098.5 186.6L1096.0 185.2L1094.1 184.1Z M1153.9 590.7L1155.1 589.1L1156.5 587.1L1158.3 584.8L1160.2 582.2L1162.3 579.4L1164.6 576.3L1167.0 573.1L1169.4 569.8L1171.9 566.4L1174.5 563.0L1177.0 559.6L1179.8 556.0L1182.6 552.2L1185.6 548.3L1188.6 544.3L1191.7 540.2L1194.9 536.0L1198.0 531.7L1201.2 527.3L1204.4 523.0L1207.6 518.5L1210.9 513.7L1214.4 508.7L1217.9 503.7L1221.3 498.6L1224.8 493.7L1228.0 488.8L1231.2 484.2L1234.1 480.0L1236.7 476.1L1239.0 472.5L1241.0 469.4L1242.7 466.6L1244.2 464.1L1245.6 461.8L1246.9 459.5L1248.3 457.3L1249.7 455.1L1251.4 452.6L1253.3 449.9L1255.5 447.0L1257.8 443.9L1260.2 440.8L1262.8 437.6L1265.5 434.2L1268.3 430.8L1271.1 427.2L1274.1 423.5L1277.1 419.7L1280.2 415.7L1283.3 411.6L1286.3 407.5L1289.4 403.3L1292.5 399.0L1295.7 394.6L1298.9 390.1L1302.4 385.4L1305.9 380.7L1309.7 375.8L1313.8 370.7L1318.2 365.3L1322.8 359.5L1327.8 353.5L1332.8 347.3L1338.1 341.0L1343.3 334.8L1348.7 328.6L1353.9 322.7L1359.1 317.0L1364.2 311.8L1369.2 306.7L1374.5 301.7L1379.8 296.8L1385.2 292.1L1390.5 287.5L1395.7 283.1L1400.8 279.0L1405.6 275.1L1410.1 271.6L1414.3 268.4L1418.0 265.7L1421.3 263.5L1424.2 261.5L1426.9 259.9L1429.4 258.5L1431.7 257.4L1434.0 256.3L1436.4 255.4L1438.9 254.5L1441.5 253.5L1444.1 252.7L1446.7 252.1L1449.3 251.5L1452.0 251.1L1454.6 250.7L1457.3 250.5L1459.9 250.3L1462.6 250.2L1465.3 250.2L1467.8 250.1L1470.3 250.2L1472.6 250.3L1474.9 250.6L1477.2 250.8L1479.5 251.2L1481.8 251.6L1484.2 252.1L1486.6 252.6L1489.0 253.2L1491.5 253.8L1493.8 254.4L1496.1 255.0L1498.4 255.7L1500.7 256.4L1503.0 257.2L1505.4 258.0L1507.9 258.9L1510.6 259.9L1513.4 260.8L1516.3 261.8L1519.3 262.9L1522.5 264.0L1525.8 265.2L1529.2 266.5L1532.6 267.7L1536.1 269.0L1539.7 270.3L1543.2 271.6L1546.7 272.9L1550.2 274.1L1553.5 275.4L1556.9 276.7L1560.3 277.9L1563.7 279.2L1567.1 280.5L1570.5 281.8L1574.0 283.0L1577.4 284.3L1580.9 285.5L1584.3 286.6L1587.7 287.8L1591.2 288.9L1594.6 290.0L1598.0 291.0L1601.5 292.1L1604.9 293.1L1608.3 294.1L1611.7 295.1L1615.1 296.1L1618.5 297.0L1622.0 298.0L1625.5 299.0L1629.0 300.0L1632.6 301.0L1636.1 302.0L1639.7 303.0L1643.1 303.9L1646.5 304.7L1649.8 305.6L1652.9 306.3L1655.9 307.0L1658.8 307.5L1661.5 308.1L1664.1 308.5L1666.6 308.9L1669.1 309.3L1671.4 309.6L1673.7 310.0L1676.0 310.4L1678.4 310.9L1680.8 311.4L1683.1 311.9L1685.4 312.4L1687.6 312.9L1690.0 313.5L1692.4 314.0L1694.9 314.6L1697.6 315.2L1700.4 315.9L1703.5 316.6L1706.9 317.4L1710.4 318.2L1714.2 319.1L1718.2 320.0L1722.2 321.0L1726.4 321.9L1730.5 322.9L1734.7 323.8L1738.8 324.7L1742.7 325.4L1746.6 326.2L1750.4 326.9L1754.2 327.6L1758.1 328.3L1761.9 329.0L1765.7 329.6L1769.5 330.2L1773.3 330.7L1777.0 331.2L1780.7 331.6L1784.1 331.9L1787.5 332.1L1790.9 332.4L1794.3 332.6L1797.6 332.7L1801.1 332.8L1804.5 332.7L1808.1 332.6L1811.7 332.3L1815.4 331.9L1819.1 331.3L1822.8 330.5L1826.5 329.7L1830.3 328.8L1834.0 327.8L1837.8 326.7L1841.5 325.4L1845.3 324.1L1849.0 322.7L1852.6 321.3L1856.3 319.7L1859.8 318.0L1863.4 316.2L1867.0 314.4L1870.5 312.4L1874.0 310.4L1877.6 308.2L1881.1 306.0L1884.6 303.6L1888.1 301.1L1891.7 298.6L1895.2 295.9L1898.7 293.1L1902.2 290.2L1905.7 287.3L1909.2 284.2L1912.7 281.1L1916.2 277.8L1919.7 274.5L1923.1 271.2L1926.6 267.7L1930.1 264.0L1933.7 260.3L1937.2 256.4L1940.7 252.5L1944.1 248.6L1947.5 244.7L1950.9 240.7L1954.2 236.8L1957.5 232.9L1960.7 229.0L1963.9 225.0L1967.0 220.9L1970.1 216.9L1973.2 212.8L1976.2 208.9L1979.0 205.0L1981.8 201.3L1984.5 197.7L1987.1 194.4L1989.7 191.1L1992.3 187.8L1994.9 184.5L1997.5 181.3L1999.9 178.2L2002.2 175.4L2004.3 172.7L2006.2 170.4L2007.8 168.4L2009.1 166.7L1996.2 156.3L1994.9 157.9L1993.3 159.8L1991.3 162.2L1989.2 164.8L1986.8 167.6L1984.3 170.7L1981.7 173.9L1979.0 177.2L1976.4 180.5L1973.7 183.8L1971.0 187.2L1968.2 190.9L1965.3 194.6L1962.4 198.4L1959.4 202.3L1956.3 206.3L1953.3 210.2L1950.2 214.1L1947.1 217.9L1943.9 221.7L1940.8 225.4L1937.5 229.2L1934.1 233.0L1930.8 236.8L1927.4 240.6L1924.0 244.4L1920.6 248.0L1917.2 251.5L1913.8 255.0L1910.5 258.2L1907.1 261.4L1903.8 264.5L1900.5 267.5L1897.2 270.5L1893.9 273.3L1890.5 276.0L1887.3 278.7L1884.0 281.2L1880.7 283.6L1877.5 285.9L1874.2 288.0L1871.0 290.1L1867.7 292.1L1864.5 293.9L1861.3 295.7L1858.1 297.3L1854.9 298.9L1851.6 300.4L1848.4 301.8L1845.2 303.1L1841.9 304.4L1838.6 305.6L1835.3 306.8L1832.0 307.8L1828.7 308.8L1825.4 309.6L1822.1 310.4L1818.9 311.1L1815.7 311.7L1812.6 312.1L1809.6 312.5L1806.8 312.8L1803.9 312.9L1801.0 313.0L1798.1 313.0L1795.2 312.9L1792.1 312.7L1789.0 312.5L1785.7 312.3L1782.3 312.0L1779.0 311.8L1775.5 311.5L1772.0 311.1L1768.5 310.6L1764.8 310.1L1761.1 309.6L1757.4 309.0L1753.6 308.4L1749.9 307.8L1746.1 307.2L1742.3 306.5L1738.3 305.8L1734.3 305.0L1730.2 304.2L1726.1 303.3L1722.1 302.5L1718.1 301.6L1714.3 300.8L1710.7 300.1L1707.3 299.4L1704.2 298.8L1701.3 298.2L1698.7 297.6L1696.2 297.1L1693.7 296.5L1691.4 296.0L1689.0 295.5L1686.6 295.1L1684.2 294.6L1681.6 294.1L1679.0 293.6L1676.4 293.2L1673.9 292.9L1671.5 292.6L1669.1 292.2L1666.7 291.9L1664.3 291.5L1661.8 291.1L1659.2 290.7L1656.5 290.1L1653.5 289.4L1650.4 288.7L1647.2 287.9L1643.8 287.1L1640.3 286.2L1636.8 285.3L1633.3 284.4L1629.8 283.4L1626.3 282.5L1622.9 281.6L1619.5 280.6L1616.1 279.7L1612.8 278.7L1609.4 277.7L1606.0 276.7L1602.7 275.7L1599.3 274.7L1596.0 273.7L1592.6 272.6L1589.3 271.6L1586.0 270.5L1582.6 269.3L1579.2 268.2L1575.9 267.0L1572.5 265.8L1569.1 264.6L1565.7 263.3L1562.3 262.1L1558.8 260.9L1555.4 259.7L1552.0 258.4L1548.5 257.1L1545.0 255.8L1541.5 254.5L1538.0 253.2L1534.5 251.9L1531.1 250.6L1527.8 249.4L1524.6 248.2L1521.5 247.2L1518.7 246.1L1515.9 245.1L1513.3 244.1L1510.8 243.2L1508.2 242.2L1505.7 241.3L1503.2 240.5L1500.6 239.7L1498.0 238.9L1495.3 238.2L1492.7 237.6L1490.1 237.0L1487.5 236.4L1484.9 235.8L1482.2 235.3L1479.5 234.9L1476.7 234.6L1473.8 234.3L1470.9 234.1L1468.0 234.1L1465.0 234.1L1462.1 234.2L1459.0 234.3L1455.9 234.5L1452.8 234.8L1449.6 235.3L1446.3 235.8L1443.0 236.6L1439.7 237.4L1436.5 238.5L1433.5 239.5L1430.6 240.6L1427.8 241.8L1424.9 243.1L1422.0 244.6L1419.0 246.3L1415.8 248.3L1412.5 250.5L1408.9 253.0L1404.9 256.0L1400.6 259.2L1396.0 262.9L1391.0 266.8L1385.8 271.1L1380.4 275.6L1374.9 280.3L1369.3 285.3L1363.8 290.4L1358.4 295.5L1353.0 300.8L1347.7 306.4L1342.4 312.2L1336.9 318.3L1331.5 324.6L1326.1 331.0L1320.8 337.3L1315.7 343.6L1310.7 349.7L1306.0 355.5L1301.6 360.9L1297.4 366.1L1293.5 371.1L1289.8 376.0L1286.2 380.7L1282.9 385.2L1279.6 389.6L1276.5 393.8L1273.4 398.0L1270.4 402.0L1267.4 405.9L1264.4 409.7L1261.4 413.4L1258.5 417.0L1255.6 420.5L1252.8 423.9L1250.1 427.2L1247.4 430.5L1244.8 433.8L1242.3 436.9L1239.9 440.1L1237.7 443.1L1235.9 445.8L1234.2 448.3L1232.7 450.7L1231.2 453.0L1229.8 455.3L1228.3 457.7L1226.6 460.3L1224.7 463.2L1222.5 466.5L1219.9 470.4L1217.0 474.6L1213.9 479.2L1210.6 484.0L1207.3 489.0L1203.8 494.0L1200.3 499.0L1196.9 503.9L1193.6 508.6L1190.4 513.0L1187.4 517.3L1184.3 521.5L1181.1 525.7L1178.0 529.9L1175.0 534.0L1171.9 538.0L1169.0 541.9L1166.1 545.7L1163.4 549.3L1160.7 552.8L1158.2 556.2L1155.7 559.6L1153.2 562.9L1150.8 566.1L1148.6 569.2L1146.5 572.0L1144.5 574.6L1142.8 577.0L1141.3 578.9L1140.1 580.5Z M1725.5 132.6L1724.5 134.0L1723.3 135.8L1721.8 138.0L1720.2 140.4L1718.4 143.0L1716.5 145.7L1714.6 148.5L1712.7 151.4L1710.8 154.2L1709.0 156.9L1707.4 159.5L1705.7 162.1L1704.0 164.8L1702.3 167.6L1700.6 170.3L1698.9 173.1L1697.2 175.9L1695.5 178.7L1693.8 181.6L1692.1 184.4L1690.4 187.3L1688.6 190.3L1686.8 193.3L1685.0 196.3L1683.2 199.4L1681.4 202.5L1679.7 205.5L1678.0 208.5L1676.4 211.4L1674.8 214.3L1673.3 217.0L1671.9 219.6L1670.5 222.2L1669.1 224.8L1667.8 227.3L1666.5 229.9L1665.3 232.5L1664.1 235.0L1663.0 237.6L1661.9 240.3L1660.9 243.0L1660.0 245.7L1659.1 248.5L1658.2 251.3L1657.5 254.0L1656.7 256.7L1656.1 259.4L1655.5 262.0L1655.0 264.6L1654.6 267.0L1654.3 269.3L1654.1 271.5L1654.0 273.6L1653.9 275.6L1654.0 277.6L1654.1 279.6L1654.2 281.6L1654.4 283.6L1654.7 285.7L1655.0 287.9L1655.5 290.2L1655.9 292.6L1656.5 295.1L1657.1 297.6L1657.7 300.3L1658.5 303.0L1659.3 305.7L1660.2 308.5L1661.2 311.4L1662.3 314.4L1663.5 317.3L1664.8 320.3L1666.2 323.4L1667.7 326.4L1669.2 329.6L1670.8 332.7L1672.4 335.9L1674.1 339.1L1675.8 342.3L1677.6 345.6L1679.3 349.1L1681.2 352.6L1683.1 356.2L1685.0 360.0L1687.1 363.7L1689.1 367.4L1691.2 371.1L1693.2 374.7L1695.2 378.3L1697.3 381.7L1699.3 385.0L1701.3 388.3L1703.3 391.5L1705.3 394.6L1707.4 397.7L1709.4 400.7L1711.3 403.7L1713.3 406.5L1715.2 409.3L1717.1 412.0L1718.9 414.6L1720.7 417.0L1722.3 419.2L1724.0 421.4L1725.6 423.5L1727.2 425.6L1728.9 427.8L1730.7 430.1L1732.6 432.5L1734.7 435.1L1737.0 438.0L1739.5 441.1L1742.1 444.3L1744.9 447.6L1747.7 451.0L1750.4 454.3L1753.0 457.6L1755.5 460.7L1757.7 463.8L1759.7 466.6L1761.5 469.3L1763.1 471.8L1764.6 474.3L1766.0 476.7L1767.3 479.0L1768.4 481.2L1769.5 483.5L1770.5 485.8L1771.4 488.1L1772.3 490.5L1773.1 492.9L1773.8 495.4L1774.4 497.9L1775.0 500.4L1775.5 503.0L1776.0 505.6L1776.3 508.2L1776.7 510.8L1776.9 513.3L1777.1 515.9L1777.3 518.3L1777.4 520.8L1777.4 523.3L1777.4 525.7L1777.3 528.2L1777.1 530.6L1776.9 532.9L1776.7 535.2L1776.4 537.4L1776.0 539.5L1775.7 541.5L1775.3 543.2L1774.8 544.8L1774.4 546.4L1773.8 548.0L1773.2 549.6L1772.5 551.3L1771.7 553.1L1770.8 555.2L1769.9 557.4L1768.8 559.8L1767.7 562.3L1766.5 565.0L1765.1 567.8L1763.8 570.6L1762.3 573.4L1760.9 576.3L1759.4 579.1L1757.9 581.9L1756.5 584.6L1755.1 587.1L1753.8 589.5L1752.4 591.7L1751.1 594.0L1749.7 596.2L1748.3 598.6L1746.8 601.0L1745.1 603.7L1743.3 606.5L1741.3 609.6L1739.1 613.0L1736.6 616.7L1734.0 620.6L1731.3 624.6L1728.5 628.8L1725.6 633.0L1722.7 637.1L1719.9 641.2L1717.1 645.2L1714.5 648.9L1711.9 652.4L1709.4 655.8L1706.9 659.1L1704.5 662.3L1702.1 665.4L1699.6 668.6L1697.1 671.8L1694.4 675.2L1691.7 678.6L1688.8 682.2L1685.7 686.1L1682.6 690.0L1679.5 694.0L1676.2 698.1L1672.8 702.3L1669.4 706.5L1665.9 710.8L1662.4 715.0L1658.7 719.3L1655.1 723.6L1651.1 728.1L1646.8 732.9L1642.2 738.0L1637.4 743.2L1632.7 748.3L1628.1 753.3L1623.8 757.9L1620.0 761.9L1616.8 765.4L1614.3 768.1L1624.6 777.6L1627.1 774.9L1630.3 771.5L1634.1 767.4L1638.4 762.8L1643.0 757.9L1647.7 752.7L1652.5 747.5L1657.2 742.4L1661.7 737.4L1665.7 732.8L1669.5 728.5L1673.2 724.1L1676.8 719.7L1680.3 715.4L1683.8 711.2L1687.2 706.9L1690.5 702.8L1693.7 698.8L1696.8 694.8L1699.8 691.0L1702.7 687.2L1705.4 683.7L1708.0 680.3L1710.5 676.9L1712.9 673.6L1715.3 670.3L1717.7 667.0L1720.1 663.6L1722.6 660.1L1725.1 656.5L1727.8 652.6L1730.6 648.6L1733.4 644.4L1736.2 640.1L1739.1 635.8L1741.8 631.6L1744.5 627.5L1747.1 623.5L1749.5 619.8L1751.7 616.4L1753.7 613.3L1755.6 610.5L1757.4 607.9L1759.0 605.4L1760.5 603.0L1762.0 600.7L1763.5 598.4L1764.9 596.1L1766.4 593.6L1767.9 591.0L1769.5 588.3L1771.1 585.5L1772.7 582.6L1774.3 579.7L1775.9 576.8L1777.4 573.9L1778.8 571.1L1780.2 568.3L1781.5 565.7L1782.7 563.2L1783.8 560.9L1784.7 558.8L1785.6 556.8L1786.4 554.9L1787.2 552.9L1787.9 550.9L1788.6 548.9L1789.2 546.7L1789.7 544.5L1790.2 542.1L1790.6 539.6L1790.9 537.0L1791.2 534.4L1791.5 531.7L1791.7 528.9L1791.8 526.1L1791.8 523.3L1791.8 520.4L1791.7 517.6L1791.5 514.7L1791.2 511.9L1790.9 509.1L1790.5 506.2L1790.1 503.3L1789.5 500.4L1788.9 497.4L1788.2 494.5L1787.4 491.5L1786.5 488.6L1785.5 485.7L1784.5 482.9L1783.3 480.2L1782.1 477.6L1780.8 475.0L1779.5 472.4L1778.0 469.8L1776.4 467.2L1774.7 464.5L1772.9 461.7L1770.9 458.8L1768.7 455.7L1766.2 452.5L1763.5 449.2L1760.7 445.8L1757.9 442.4L1755.1 439.1L1752.3 435.8L1749.7 432.7L1747.2 429.7L1744.9 426.9L1742.9 424.3L1740.9 421.9L1739.2 419.7L1737.5 417.6L1735.9 415.5L1734.3 413.5L1732.7 411.5L1731.1 409.3L1729.4 407.1L1727.7 404.6L1725.8 401.9L1723.9 399.2L1722.0 396.4L1720.1 393.5L1718.1 390.6L1716.1 387.6L1714.2 384.6L1712.2 381.4L1710.3 378.3L1708.3 375.1L1706.4 371.8L1704.4 368.4L1702.4 364.8L1700.4 361.2L1698.4 357.5L1696.4 353.9L1694.5 350.2L1692.6 346.6L1690.8 343.1L1689.0 339.8L1687.4 336.4L1685.8 333.2L1684.3 330.0L1682.8 326.8L1681.4 323.7L1680.0 320.7L1678.7 317.8L1677.6 314.9L1676.5 312.1L1675.5 309.4L1674.6 306.8L1673.8 304.2L1673.1 301.7L1672.5 299.2L1671.9 296.8L1671.4 294.4L1671.0 292.1L1670.6 289.9L1670.3 287.7L1670.0 285.5L1669.6 283.5L1669.4 281.7L1669.2 280.1L1669.0 278.5L1669.0 277.1L1668.9 275.7L1668.9 274.2L1669.0 272.6L1669.2 270.9L1669.4 269.0L1669.6 266.9L1669.9 264.7L1670.3 262.3L1670.8 259.9L1671.3 257.4L1671.9 254.9L1672.5 252.4L1673.2 249.8L1673.9 247.3L1674.7 244.9L1675.5 242.5L1676.4 240.1L1677.3 237.7L1678.3 235.3L1679.4 232.9L1680.5 230.4L1681.7 227.9L1682.9 225.3L1684.2 222.6L1685.6 219.9L1687.0 217.1L1688.5 214.3L1690.1 211.3L1691.8 208.3L1693.5 205.3L1695.2 202.3L1696.9 199.2L1698.7 196.2L1700.4 193.3L1702.1 190.4L1703.8 187.6L1705.5 184.8L1707.2 182.0L1708.9 179.3L1710.6 176.6L1712.4 173.9L1714.1 171.3L1715.8 168.6L1717.5 166.1L1719.2 163.5L1720.9 160.9L1722.7 158.2L1724.7 155.5L1726.6 152.7L1728.5 150.0L1730.3 147.5L1732.0 145.1L1733.5 143.0L1734.8 141.2L1735.8 139.8Z M1087.1 522.8L1088.9 524.0L1091.2 525.4L1094.0 527.2L1097.1 529.1L1100.4 531.2L1103.9 533.5L1107.5 535.7L1111.1 538.0L1114.6 540.2L1118.0 542.3L1121.3 544.4L1124.8 546.6L1128.3 548.8L1132.0 551.1L1135.6 553.4L1139.1 555.6L1142.6 557.8L1145.9 559.8L1149.0 561.8L1151.9 563.5L1154.4 565.1L1156.6 566.5L1158.6 567.8L1160.5 569.0L1162.3 570.1L1164.1 571.2L1165.9 572.3L1167.9 573.5L1170.1 574.7L1172.5 576.1L1175.2 577.6L1178.0 579.1L1180.9 580.7L1183.9 582.3L1187.0 584.0L1190.2 585.6L1193.5 587.3L1196.7 588.9L1200.0 590.5L1203.3 592.1L1206.6 593.6L1210.0 595.2L1213.5 596.7L1217.0 598.3L1220.6 599.8L1224.1 601.3L1227.6 602.7L1231.1 604.1L1234.4 605.4L1237.7 606.6L1240.7 607.8L1243.7 608.8L1246.5 609.9L1249.3 610.8L1252.1 611.8L1255.0 612.7L1257.9 613.5L1261.0 614.3L1264.2 615.0L1267.6 615.7L1271.1 616.2L1274.7 616.8L1278.4 617.2L1282.1 617.6L1286.0 618.0L1289.9 618.3L1294.0 618.5L1298.1 618.7L1302.5 618.9L1306.9 619.0L1311.6 619.0L1316.4 619.0L1321.4 618.9L1326.6 618.8L1331.8 618.6L1337.1 618.4L1342.4 618.1L1347.7 617.9L1352.9 617.6L1358.1 617.3L1363.2 617.0L1368.4 616.6L1373.5 616.2L1378.6 615.8L1383.8 615.3L1388.9 614.8L1394.0 614.4L1399.1 613.9L1404.1 613.4L1409.2 612.9L1414.2 612.5L1419.2 612.0L1424.2 611.6L1429.2 611.1L1434.2 610.6L1439.2 610.2L1444.2 609.7L1449.3 609.1L1454.3 608.6L1459.4 608.0L1464.6 607.4L1469.9 606.7L1475.4 606.1L1480.9 605.3L1486.4 604.6L1491.8 603.9L1497.0 603.2L1501.9 602.5L1506.5 601.8L1510.7 601.2L1514.4 600.5L1517.8 599.9L1520.8 599.4L1523.5 598.8L1526.1 598.3L1528.5 597.7L1530.8 597.2L1533.2 596.7L1535.6 596.2L1538.3 595.6L1541.2 595.0L1544.3 594.4L1547.4 593.8L1550.5 593.2L1553.7 592.6L1556.8 592.0L1559.9 591.4L1562.8 590.8L1565.6 590.2L1568.2 589.7L1570.6 589.3L1572.7 588.8L1574.6 588.4L1576.4 588.1L1578.1 587.7L1579.8 587.4L1581.6 587.0L1583.6 586.6L1585.7 586.2L1588.1 585.8L1590.8 585.3L1593.7 584.7L1596.7 584.2L1599.8 583.7L1603.1 583.1L1606.4 582.5L1609.8 581.9L1613.2 581.3L1616.6 580.7L1620.0 580.2L1623.5 579.6L1627.1 578.9L1630.6 578.3L1634.3 577.6L1637.9 577.0L1641.5 576.4L1645.1 575.8L1648.7 575.2L1652.1 574.8L1655.6 574.4L1659.0 574.0L1662.4 573.7L1665.8 573.5L1669.1 573.3L1672.5 573.1L1675.8 573.0L1679.1 572.9L1682.3 572.8L1685.6 572.8L1688.8 572.8L1692.0 572.9L1695.2 573.0L1698.3 573.2L1701.4 573.3L1704.5 573.6L1707.5 573.8L1710.6 574.2L1713.7 574.5L1716.8 575.0L1719.9 575.5L1723.2 576.0L1726.5 576.7L1730.0 577.5L1733.6 578.4L1737.1 579.2L1740.6 580.2L1744.0 581.1L1747.3 582.0L1750.4 582.8L1753.2 583.7L1755.7 584.4L1758.0 585.1L1760.0 585.7L1761.9 586.4L1763.7 587.0L1765.4 587.6L1767.1 588.3L1768.9 589.0L1770.8 589.8L1772.9 590.6L1775.0 591.5L1777.1 592.4L1779.2 593.4L1781.4 594.4L1783.6 595.4L1785.8 596.5L1788.2 597.6L1790.6 598.8L1793.2 600.1L1796.0 601.5L1799.0 603.0L1802.1 604.6L1805.4 606.3L1808.9 608.0L1812.3 609.8L1815.9 611.7L1819.4 613.6L1822.8 615.5L1826.2 617.4L1829.5 619.3L1832.7 621.1L1835.9 623.0L1838.9 624.9L1842.0 626.8L1845.0 628.7L1848.1 630.7L1851.3 632.8L1854.5 634.9L1857.9 637.1L1861.4 639.5L1865.0 641.9L1868.6 644.3L1872.2 646.7L1875.9 649.1L1879.7 651.6L1883.6 654.3L1887.6 657.1L1891.7 660.1L1896.1 663.3L1900.6 666.7L1905.4 670.4L1910.6 674.5L1915.9 678.9L1921.5 683.4L1927.2 688.2L1933.0 692.9L1938.8 697.7L1944.5 702.4L1950.2 706.9L1955.6 711.2L1961.0 715.4L1966.4 719.6L1971.9 723.8L1977.3 727.9L1982.6 732.0L1987.9 735.9L1993.0 739.6L1997.9 743.2L2002.5 746.6L2007.0 749.8L2011.2 752.7L2015.5 755.6L2019.6 758.3L2023.5 760.8L2027.2 763.1L2030.6 765.2L2033.7 767.2L2036.5 768.8L2038.8 770.3L2040.7 771.4L2047.4 760.9L2045.5 759.7L2043.1 758.2L2040.4 756.4L2037.3 754.5L2034.0 752.4L2030.4 750.1L2026.6 747.6L2022.6 744.9L2018.6 742.2L2014.4 739.2L2010.1 736.1L2005.5 732.7L2000.7 729.2L1995.7 725.4L1990.6 721.5L1985.3 717.4L1979.9 713.3L1974.6 709.1L1969.2 704.9L1964.0 700.8L1958.7 696.4L1953.2 691.9L1947.5 687.2L1941.9 682.3L1936.2 677.5L1930.5 672.7L1924.9 668.0L1919.5 663.5L1914.3 659.2L1909.4 655.3L1904.7 651.7L1900.3 648.4L1896.0 645.3L1891.9 642.3L1888.0 639.6L1884.2 636.9L1880.4 634.4L1876.8 631.9L1873.2 629.5L1869.6 627.1L1866.1 624.8L1862.7 622.5L1859.4 620.3L1856.2 618.3L1853.0 616.2L1849.8 614.3L1846.6 612.3L1843.4 610.4L1840.2 608.5L1836.9 606.5L1833.4 604.6L1829.8 602.6L1826.2 600.7L1822.6 598.8L1819.0 597.0L1815.4 595.2L1811.9 593.4L1808.6 591.7L1805.4 590.2L1802.4 588.7L1799.5 587.3L1796.9 586.0L1794.3 584.8L1791.8 583.7L1789.5 582.6L1787.1 581.5L1784.9 580.5L1782.6 579.6L1780.4 578.7L1778.1 577.8L1775.9 576.9L1773.9 576.1L1772.0 575.4L1770.0 574.7L1768.1 574.1L1766.1 573.4L1764.1 572.8L1761.8 572.1L1759.4 571.5L1756.8 570.7L1753.9 570.0L1750.8 569.1L1747.5 568.2L1744.0 567.3L1740.3 566.4L1736.7 565.5L1732.9 564.6L1729.2 563.9L1725.6 563.1L1722.1 562.5L1718.6 562.0L1715.3 561.6L1712.0 561.2L1708.7 560.9L1705.4 560.7L1702.2 560.5L1698.9 560.4L1695.6 560.3L1692.3 560.2L1689.0 560.2L1685.6 560.1L1682.2 560.2L1678.7 560.3L1675.3 560.4L1671.8 560.6L1668.3 560.8L1664.8 561.0L1661.3 561.3L1657.8 561.7L1654.2 562.0L1650.6 562.5L1646.9 563.0L1643.2 563.5L1639.5 564.1L1635.8 564.7L1632.1 565.4L1628.4 566.0L1624.9 566.6L1621.4 567.3L1618.0 567.8L1614.6 568.4L1611.1 569.0L1607.7 569.5L1604.3 570.1L1600.9 570.7L1597.7 571.2L1594.5 571.8L1591.5 572.3L1588.6 572.8L1585.9 573.2L1583.4 573.7L1581.2 574.1L1579.2 574.4L1577.4 574.7L1575.6 575.1L1573.9 575.4L1572.1 575.7L1570.2 576.1L1568.1 576.4L1565.8 576.9L1563.2 577.3L1560.4 577.8L1557.4 578.4L1554.4 578.9L1551.2 579.5L1548.1 580.1L1544.9 580.7L1541.7 581.3L1538.7 581.8L1535.7 582.4L1532.9 582.9L1530.3 583.5L1527.9 584.0L1525.5 584.6L1523.2 585.1L1520.7 585.6L1518.2 586.1L1515.3 586.7L1512.1 587.2L1508.5 587.8L1504.4 588.5L1499.9 589.2L1495.0 589.9L1489.9 590.7L1484.6 591.4L1479.2 592.2L1473.7 592.9L1468.3 593.7L1463.0 594.4L1457.8 595.0L1452.8 595.6L1447.8 596.1L1442.9 596.7L1437.9 597.2L1433.0 597.7L1428.0 598.2L1423.0 598.7L1418.0 599.1L1413.0 599.6L1408.0 600.1L1403.0 600.5L1397.9 601.0L1392.8 601.4L1387.7 601.9L1382.6 602.3L1377.6 602.7L1372.5 603.1L1367.4 603.5L1362.4 603.8L1357.3 604.1L1352.2 604.4L1347.0 604.7L1341.8 605.0L1336.5 605.2L1331.3 605.4L1326.2 605.6L1321.1 605.7L1316.3 605.8L1311.6 605.8L1307.1 605.8L1302.8 605.7L1298.6 605.6L1294.6 605.4L1290.8 605.2L1287.0 605.0L1283.4 604.7L1279.8 604.3L1276.4 603.9L1273.1 603.5L1269.8 602.9L1266.7 602.4L1263.8 601.8L1261.1 601.2L1258.5 600.5L1255.9 599.7L1253.3 598.9L1250.6 598.0L1247.9 597.1L1245.0 596.0L1241.9 595.0L1238.8 593.8L1235.5 592.6L1232.1 591.3L1228.7 590.0L1225.2 588.6L1221.8 587.1L1218.3 585.7L1214.9 584.2L1211.5 582.8L1208.3 581.3L1205.1 579.8L1201.9 578.3L1198.7 576.8L1195.5 575.2L1192.4 573.6L1189.3 572.0L1186.3 570.5L1183.4 569.0L1180.7 567.5L1178.1 566.1L1175.7 564.8L1173.6 563.6L1171.8 562.5L1170.0 561.5L1168.3 560.4L1166.6 559.3L1164.7 558.2L1162.7 556.9L1160.5 555.4L1157.9 553.9L1155.1 552.1L1151.9 550.2L1148.6 548.1L1145.2 545.9L1141.6 543.7L1138.0 541.4L1134.4 539.2L1130.8 536.9L1127.4 534.8L1124.0 532.7L1120.7 530.6L1117.2 528.4L1113.6 526.1L1110.0 523.8L1106.5 521.6L1103.2 519.5L1100.1 517.6L1097.3 515.8L1095.0 514.3L1093.2 513.2Z" fill="#6d7177"/>
<clipPath id="cc2"><path d="M1586.5 298.5C1596.8 298.0 1601.9 298.5 1609.7 299.9C1617.5 301.3 1626.6 303.7 1633.1 306.9C1639.6 310.1 1644.7 314.6 1648.6 319.3C1652.5 324.0 1654.4 328.3 1656.3 334.8C1658.2 341.3 1659.6 350.3 1660.2 358.1C1660.8 365.9 1660.6 373.5 1660.2 381.4C1659.8 389.3 1659.6 394.6 1658.1 405.5C1656.6 416.4 1653.7 435.8 1651.2 446.5C1648.7 457.2 1646.5 462.2 1643.2 469.5C1640.0 476.8 1637.4 482.7 1631.7 490.5C1626.0 498.3 1615.1 509.6 1609.2 516.3C1603.3 523.0 1601.1 525.5 1596.2 530.5C1591.3 535.5 1586.3 540.9 1579.7 546.5C1573.1 552.1 1564.2 559.4 1556.5 564.1C1548.8 568.8 1541.1 572.1 1533.3 574.5C1525.6 576.9 1517.8 577.6 1510.0 578.3C1502.2 579.0 1496.9 579.5 1486.7 578.6C1476.5 577.8 1458.9 575.5 1448.7 573.2C1438.5 571.0 1433.4 568.9 1425.7 565.1C1418.0 561.3 1409.5 556.5 1402.7 550.2C1396.0 543.9 1389.4 534.9 1385.2 527.2C1381.0 519.5 1379.3 513.7 1377.4 504.1C1375.5 494.5 1374.7 481.0 1374.0 469.5C1373.3 458.0 1372.7 444.8 1373.4 435.0C1374.1 425.2 1376.0 418.8 1378.4 410.5C1380.8 402.2 1383.6 393.7 1387.7 385.2C1391.8 376.7 1398.0 366.5 1403.2 359.5C1408.4 352.5 1413.5 347.7 1418.7 343.3C1423.9 338.9 1427.8 336.5 1434.3 333.3C1440.8 330.1 1449.9 326.6 1457.6 323.9C1465.3 321.2 1473.0 319.1 1480.7 317.0C1488.5 314.9 1498.1 312.8 1504.1 311.5C1510.1 310.2 1509.4 310.6 1516.7 309.2C1524.0 307.8 1536.1 304.8 1547.7 303.0C1559.3 301.2 1576.2 299.0 1586.5 298.5Z"/></clipPath><clipPath id="cn2"><path d="M1540.0 358.9C1547.8 359.0 1555.5 359.6 1563.2 361.2C1571.0 362.8 1579.4 365.4 1586.5 368.2C1593.6 371.0 1600.1 374.4 1605.9 378.2C1611.7 381.9 1617.7 386.5 1621.4 390.7C1625.1 394.9 1626.7 398.0 1628.2 403.5C1629.8 409.0 1630.7 416.3 1630.7 423.5C1630.7 430.7 1630.2 438.8 1628.3 446.5C1626.4 454.2 1623.1 462.8 1619.1 469.5C1615.1 476.2 1610.8 481.5 1604.1 486.9C1597.4 492.3 1588.7 497.8 1578.7 501.8C1568.7 505.8 1554.8 508.9 1544.3 511.0C1533.8 513.1 1522.8 514.0 1515.5 514.5C1508.2 515.0 1508.0 514.7 1500.7 513.9C1493.4 513.1 1480.4 511.9 1471.7 509.9C1463.0 507.9 1456.0 505.6 1448.7 501.8C1441.4 498.0 1433.3 492.3 1428.1 486.9C1422.9 481.5 1420.2 476.2 1417.7 469.5C1415.2 462.8 1413.3 454.2 1413.1 446.5C1412.8 438.8 1414.3 430.2 1416.2 423.5C1418.1 416.8 1421.4 411.6 1424.7 406.5C1428.0 401.4 1432.0 397.3 1436.2 393.0C1440.4 388.7 1444.8 384.1 1449.7 380.5C1454.6 376.9 1458.8 373.9 1465.3 371.3C1471.8 368.7 1480.0 366.9 1488.6 365.1C1497.2 363.4 1508.1 361.8 1516.7 360.8C1525.3 359.8 1532.2 358.8 1540.0 358.9Z"/></clipPath>
<path d="M1586.5 298.5C1596.8 298.0 1601.9 298.5 1609.7 299.9C1617.5 301.3 1626.6 303.7 1633.1 306.9C1639.6 310.1 1644.7 314.6 1648.6 319.3C1652.5 324.0 1654.4 328.3 1656.3 334.8C1658.2 341.3 1659.6 350.3 1660.2 358.1C1660.8 365.9 1660.6 373.5 1660.2 381.4C1659.8 389.3 1659.6 394.6 1658.1 405.5C1656.6 416.4 1653.7 435.8 1651.2 446.5C1648.7 457.2 1646.5 462.2 1643.2 469.5C1640.0 476.8 1637.4 482.7 1631.7 490.5C1626.0 498.3 1615.1 509.6 1609.2 516.3C1603.3 523.0 1601.1 525.5 1596.2 530.5C1591.3 535.5 1586.3 540.9 1579.7 546.5C1573.1 552.1 1564.2 559.4 1556.5 564.1C1548.8 568.8 1541.1 572.1 1533.3 574.5C1525.6 576.9 1517.8 577.6 1510.0 578.3C1502.2 579.0 1496.9 579.5 1486.7 578.6C1476.5 577.8 1458.9 575.5 1448.7 573.2C1438.5 571.0 1433.4 568.9 1425.7 565.1C1418.0 561.3 1409.5 556.5 1402.7 550.2C1396.0 543.9 1389.4 534.9 1385.2 527.2C1381.0 519.5 1379.3 513.7 1377.4 504.1C1375.5 494.5 1374.7 481.0 1374.0 469.5C1373.3 458.0 1372.7 444.8 1373.4 435.0C1374.1 425.2 1376.0 418.8 1378.4 410.5C1380.8 402.2 1383.6 393.7 1387.7 385.2C1391.8 376.7 1398.0 366.5 1403.2 359.5C1408.4 352.5 1413.5 347.7 1418.7 343.3C1423.9 338.9 1427.8 336.5 1434.3 333.3C1440.8 330.1 1449.9 326.6 1457.6 323.9C1465.3 321.2 1473.0 319.1 1480.7 317.0C1488.5 314.9 1498.1 312.8 1504.1 311.5C1510.1 310.2 1509.4 310.6 1516.7 309.2C1524.0 307.8 1536.1 304.8 1547.7 303.0C1559.3 301.2 1576.2 299.0 1586.5 298.5Z" fill="#152f86"/>
<g clip-path="url(#cc2)" opacity="0.85"><rect x="1369" y="294" width="295" height="288" filter="url(#mot)"/><rect x="1369" y="294" width="295" height="288" filter="url(#motd)"/></g>
<path d="M1586.5 298.5C1596.8 298.0 1601.9 298.5 1609.7 299.9C1617.5 301.3 1626.6 303.7 1633.1 306.9C1639.6 310.1 1644.7 314.6 1648.6 319.3C1652.5 324.0 1654.4 328.3 1656.3 334.8C1658.2 341.3 1659.6 350.3 1660.2 358.1C1660.8 365.9 1660.6 373.5 1660.2 381.4C1659.8 389.3 1659.6 394.6 1658.1 405.5C1656.6 416.4 1653.7 435.8 1651.2 446.5C1648.7 457.2 1646.5 462.2 1643.2 469.5C1640.0 476.8 1637.4 482.7 1631.7 490.5C1626.0 498.3 1615.1 509.6 1609.2 516.3C1603.3 523.0 1601.1 525.5 1596.2 530.5C1591.3 535.5 1586.3 540.9 1579.7 546.5C1573.1 552.1 1564.2 559.4 1556.5 564.1C1548.8 568.8 1541.1 572.1 1533.3 574.5C1525.6 576.9 1517.8 577.6 1510.0 578.3C1502.2 579.0 1496.9 579.5 1486.7 578.6C1476.5 577.8 1458.9 575.5 1448.7 573.2C1438.5 571.0 1433.4 568.9 1425.7 565.1C1418.0 561.3 1409.5 556.5 1402.7 550.2C1396.0 543.9 1389.4 534.9 1385.2 527.2C1381.0 519.5 1379.3 513.7 1377.4 504.1C1375.5 494.5 1374.7 481.0 1374.0 469.5C1373.3 458.0 1372.7 444.8 1373.4 435.0C1374.1 425.2 1376.0 418.8 1378.4 410.5C1380.8 402.2 1383.6 393.7 1387.7 385.2C1391.8 376.7 1398.0 366.5 1403.2 359.5C1408.4 352.5 1413.5 347.7 1418.7 343.3C1423.9 338.9 1427.8 336.5 1434.3 333.3C1440.8 330.1 1449.9 326.6 1457.6 323.9C1465.3 321.2 1473.0 319.1 1480.7 317.0C1488.5 314.9 1498.1 312.8 1504.1 311.5C1510.1 310.2 1509.4 310.6 1516.7 309.2C1524.0 307.8 1536.1 304.8 1547.7 303.0C1559.3 301.2 1576.2 299.0 1586.5 298.5Z" fill="none" stroke="#070e3a" stroke-width="3.2"/>
<path d="M1540.0 358.9C1547.8 359.0 1555.5 359.6 1563.2 361.2C1571.0 362.8 1579.4 365.4 1586.5 368.2C1593.6 371.0 1600.1 374.4 1605.9 378.2C1611.7 381.9 1617.7 386.5 1621.4 390.7C1625.1 394.9 1626.7 398.0 1628.2 403.5C1629.8 409.0 1630.7 416.3 1630.7 423.5C1630.7 430.7 1630.2 438.8 1628.3 446.5C1626.4 454.2 1623.1 462.8 1619.1 469.5C1615.1 476.2 1610.8 481.5 1604.1 486.9C1597.4 492.3 1588.7 497.8 1578.7 501.8C1568.7 505.8 1554.8 508.9 1544.3 511.0C1533.8 513.1 1522.8 514.0 1515.5 514.5C1508.2 515.0 1508.0 514.7 1500.7 513.9C1493.4 513.1 1480.4 511.9 1471.7 509.9C1463.0 507.9 1456.0 505.6 1448.7 501.8C1441.4 498.0 1433.3 492.3 1428.1 486.9C1422.9 481.5 1420.2 476.2 1417.7 469.5C1415.2 462.8 1413.3 454.2 1413.1 446.5C1412.8 438.8 1414.3 430.2 1416.2 423.5C1418.1 416.8 1421.4 411.6 1424.7 406.5C1428.0 401.4 1432.0 397.3 1436.2 393.0C1440.4 388.7 1444.8 384.1 1449.7 380.5C1454.6 376.9 1458.8 373.9 1465.3 371.3C1471.8 368.7 1480.0 366.9 1488.6 365.1C1497.2 363.4 1508.1 361.8 1516.7 360.8C1525.3 359.8 1532.2 358.8 1540.0 358.9Z" fill="#4d65aa"/>
<g clip-path="url(#cn2)"><rect x="1409" y="355" width="226" height="164" filter="url(#mot2)" opacity="0.70"/><path d="M1540.0 358.9C1547.8 359.0 1555.5 359.6 1563.2 361.2C1571.0 362.8 1579.4 365.4 1586.5 368.2C1593.6 371.0 1600.1 374.4 1605.9 378.2C1611.7 381.9 1617.7 386.5 1621.4 390.7C1625.1 394.9 1626.7 398.0 1628.2 403.5C1629.8 409.0 1630.7 416.3 1630.7 423.5C1630.7 430.7 1630.2 438.8 1628.3 446.5C1626.4 454.2 1623.1 462.8 1619.1 469.5C1615.1 476.2 1610.8 481.5 1604.1 486.9C1597.4 492.3 1588.7 497.8 1578.7 501.8C1568.7 505.8 1554.8 508.9 1544.3 511.0C1533.8 513.1 1522.8 514.0 1515.5 514.5C1508.2 515.0 1508.0 514.7 1500.7 513.9C1493.4 513.1 1480.4 511.9 1471.7 509.9C1463.0 507.9 1456.0 505.6 1448.7 501.8C1441.4 498.0 1433.3 492.3 1428.1 486.9C1422.9 481.5 1420.2 476.2 1417.7 469.5C1415.2 462.8 1413.3 454.2 1413.1 446.5C1412.8 438.8 1414.3 430.2 1416.2 423.5C1418.1 416.8 1421.4 411.6 1424.7 406.5C1428.0 401.4 1432.0 397.3 1436.2 393.0C1440.4 388.7 1444.8 384.1 1449.7 380.5C1454.6 376.9 1458.8 373.9 1465.3 371.3C1471.8 368.7 1480.0 366.9 1488.6 365.1C1497.2 363.4 1508.1 361.8 1516.7 360.8C1525.3 359.8 1532.2 358.8 1540.0 358.9Z" fill="none" stroke="#738cca" stroke-width="9" opacity="0.45" filter="url(#blur2)"/></g>
<path d="M1540.0 358.9C1547.8 359.0 1555.5 359.6 1563.2 361.2C1571.0 362.8 1579.4 365.4 1586.5 368.2C1593.6 371.0 1600.1 374.4 1605.9 378.2C1611.7 381.9 1617.7 386.5 1621.4 390.7C1625.1 394.9 1626.7 398.0 1628.2 403.5C1629.8 409.0 1630.7 416.3 1630.7 423.5C1630.7 430.7 1630.2 438.8 1628.3 446.5C1626.4 454.2 1623.1 462.8 1619.1 469.5C1615.1 476.2 1610.8 481.5 1604.1 486.9C1597.4 492.3 1588.7 497.8 1578.7 501.8C1568.7 505.8 1554.8 508.9 1544.3 511.0C1533.8 513.1 1522.8 514.0 1515.5 514.5C1508.2 515.0 1508.0 514.7 1500.7 513.9C1493.4 513.1 1480.4 511.9 1471.7 509.9C1463.0 507.9 1456.0 505.6 1448.7 501.8C1441.4 498.0 1433.3 492.3 1428.1 486.9C1422.9 481.5 1420.2 476.2 1417.7 469.5C1415.2 462.8 1413.3 454.2 1413.1 446.5C1412.8 438.8 1414.3 430.2 1416.2 423.5C1418.1 416.8 1421.4 411.6 1424.7 406.5C1428.0 401.4 1432.0 397.3 1436.2 393.0C1440.4 388.7 1444.8 384.1 1449.7 380.5C1454.6 376.9 1458.8 373.9 1465.3 371.3C1471.8 368.7 1480.0 366.9 1488.6 365.1C1497.2 363.4 1508.1 361.8 1516.7 360.8C1525.3 359.8 1532.2 358.8 1540.0 358.9Z" fill="none" stroke="#0b1344" stroke-width="2.6"/>
<circle cx="1319.0" cy="504.4" r="25.7" fill="#f28c1f" stroke="#cf7410" stroke-width="1.6"/>
<circle cx="1709.7" cy="497.0" r="25.5" fill="#f28c1f" stroke="#cf7410" stroke-width="1.6"/>
<path d="M1320.8 540.0L1321.9 544.2L1323.0 548.3L1324.1 552.5L1325.2 556.7L1326.3 560.9L1327.4 565.1L1328.4 569.2L1329.5 573.4L1334.6 572.1L1333.5 567.9L1332.4 563.8L1331.3 559.6L1330.2 555.4L1329.1 551.2L1328.0 547.0L1327.0 542.9L1325.9 538.7 Z" fill="#2d2f31" stroke="#2d2f31" stroke-width="4.4" stroke-linejoin="round"/>
<path d="M1343.0 604.9L1344.9 608.7L1347.1 612.3L1349.3 615.9L1351.8 619.3L1354.3 622.6L1357.1 625.8L1360.0 628.9L1363.0 631.8L1366.6 628.0L1363.7 625.2L1361.0 622.3L1358.4 619.3L1355.9 616.2L1353.6 613.0L1351.5 609.6L1349.5 606.2L1347.6 602.6 Z" fill="#2d2f31" stroke="#2d2f31" stroke-width="4.4" stroke-linejoin="round"/>
<path d="M1392.8 652.8L1396.7 654.1L1400.7 655.4L1404.6 656.8L1408.6 658.2L1412.5 659.6L1416.4 661.0L1420.3 662.5L1424.2 664.0L1426.1 659.1L1422.1 657.6L1418.2 656.1L1414.3 654.7L1410.3 653.3L1406.3 651.9L1402.4 650.5L1398.4 649.2L1394.4 647.9 Z" fill="#2d2f31" stroke="#2d2f31" stroke-width="4.4" stroke-linejoin="round"/>
<path d="M1446.3 680.3L1447.9 683.5L1449.3 686.8L1450.6 690.1L1451.7 693.4L1452.7 696.8L1453.5 700.2L1454.2 703.7L1454.8 707.2L1459.9 706.6L1459.3 702.8L1458.6 699.1L1457.7 695.5L1456.7 691.9L1455.5 688.3L1454.1 684.8L1452.6 681.3L1451.0 677.9 Z" fill="#2d2f31" stroke="#2d2f31" stroke-width="4.4" stroke-linejoin="round"/>
<path d="M1460.1 744.3L1460.1 748.0L1460.2 751.8L1460.3 755.5L1460.4 759.3L1460.5 763.0L1460.6 766.8L1460.7 770.5L1460.7 774.3L1465.9 774.1L1465.9 770.4L1465.8 766.6L1465.7 762.9L1465.6 759.1L1465.5 755.4L1465.4 751.6L1465.3 747.9L1465.3 744.1 Z" fill="#2d2f31" stroke="#2d2f31" stroke-width="4.4" stroke-linejoin="round"/>
<polygon points="1438.5,793.3 1486.3,793.3 1463.0,841.6" fill="#27292b" stroke="#27292b" stroke-width="2" stroke-linejoin="round"/>
<path d="M1742.8 479.1L1746.9 478.0L1751.0 476.9L1755.0 475.7L1759.1 474.6L1763.2 473.5L1767.2 472.3L1771.3 471.2L1775.4 470.1L1774.0 465.1L1769.9 466.2L1765.8 467.3L1761.8 468.5L1757.7 469.6L1753.6 470.7L1749.6 471.9L1745.5 473.0L1741.4 474.1 Z" fill="#2d2f31" stroke="#2d2f31" stroke-width="4.4" stroke-linejoin="round"/>
<path d="M1806.0 459.9L1809.9 458.3L1813.8 456.5L1817.6 454.6L1821.4 452.5L1825.0 450.3L1828.6 448.0L1832.1 445.5L1835.5 442.9L1832.3 438.9L1829.0 441.4L1825.7 443.7L1822.3 445.9L1818.8 448.0L1815.2 450.0L1811.6 451.8L1807.9 453.5L1804.1 455.1 Z" fill="#2d2f31" stroke="#2d2f31" stroke-width="4.4" stroke-linejoin="round"/>
<path d="M1850.5 410.8L1851.1 406.8L1851.9 402.9L1852.9 399.0L1853.9 395.1L1855.2 391.3L1856.5 387.6L1858.1 383.9L1859.7 380.2L1855.0 378.0L1853.3 381.8L1851.7 385.7L1850.2 389.7L1849.0 393.6L1847.8 397.7L1846.9 401.7L1846.0 405.9L1845.4 410.0 Z" fill="#2d2f31" stroke="#2d2f31" stroke-width="4.4" stroke-linejoin="round"/>
<path d="M1888.9 370.3L1893.0 369.1L1897.2 368.0L1901.3 367.0L1905.5 366.1L1909.7 365.2L1913.9 364.5L1918.1 363.8L1922.4 363.2L1921.7 358.1L1917.4 358.7L1913.0 359.3L1908.7 360.1L1904.4 361.0L1900.1 361.9L1895.9 363.0L1891.6 364.1L1887.4 365.4 Z" fill="#2d2f31" stroke="#2d2f31" stroke-width="4.4" stroke-linejoin="round"/>
<path d="M1954.6 359.8L1958.7 359.7L1962.8 359.5L1966.9 359.4L1971.0 359.2L1975.1 359.2L1979.2 359.1L1983.3 359.1L1987.4 359.1L1987.4 353.9L1983.3 353.9L1979.2 353.9L1975.0 354.0L1970.9 354.1L1966.8 354.2L1962.6 354.3L1958.5 354.5L1954.4 354.7 Z" fill="#2d2f31" stroke="#2d2f31" stroke-width="4.4" stroke-linejoin="round"/>
<polygon points="1996.4,332.0 1996.4,383.0 2045.0,355.6" fill="#27292b" stroke="#27292b" stroke-width="2" stroke-linejoin="round"/>
</g>
<g id="p3">
<path d="M-4.8 1201.1L-3.1 1202.2L-0.9 1203.5L1.6 1205.1L4.5 1206.8L7.5 1208.7L10.8 1210.7L14.1 1212.8L17.4 1214.9L20.7 1217.1L23.9 1219.1L27.0 1221.3L30.3 1223.4L33.6 1225.6L37.0 1227.9L40.4 1230.2L43.8 1232.6L47.2 1235.0L50.6 1237.4L53.9 1239.9L57.2 1242.4L60.6 1245.0L64.0 1247.7L67.4 1250.5L70.9 1253.3L74.4 1256.2L77.7 1259.1L81.1 1262.0L84.3 1264.9L87.4 1267.7L90.3 1270.5L93.2 1273.2L95.9 1275.9L98.6 1278.6L101.1 1281.2L103.6 1283.9L106.0 1286.5L108.3 1289.2L110.6 1291.8L112.8 1294.5L114.9 1297.2L117.0 1299.9L119.0 1302.7L120.9 1305.4L122.8 1308.2L124.6 1310.9L126.3 1313.7L128.0 1316.5L129.6 1319.3L131.1 1322.2L132.6 1325.1L134.0 1328.0L135.3 1331.0L136.6 1334.1L137.8 1337.2L139.0 1340.3L140.1 1343.5L141.1 1346.6L142.1 1349.8L143.0 1353.0L143.9 1356.2L144.6 1359.3L145.2 1362.4L145.7 1365.6L146.2 1368.8L146.7 1372.0L147.1 1375.3L147.4 1378.6L147.8 1382.0L148.1 1385.3L148.4 1388.7L148.7 1392.0L148.9 1395.3L149.1 1398.7L149.2 1402.0L149.4 1405.3L149.5 1408.7L149.6 1412.0L149.6 1415.3L149.6 1418.5L149.7 1421.7L149.6 1424.8L149.6 1427.7L149.5 1430.6L149.4 1433.4L149.2 1436.3L149.1 1439.3L148.9 1442.3L148.8 1445.4L148.6 1448.7L148.5 1452.1L148.4 1455.6L148.2 1459.1L148.1 1462.7L147.9 1466.4L147.8 1470.2L147.6 1474.1L147.5 1478.0L147.4 1482.1L147.3 1486.3L147.2 1490.5L147.2 1494.9L147.1 1499.5L147.1 1504.3L147.1 1509.1L147.1 1514.0L147.2 1518.9L147.2 1523.8L147.3 1528.6L147.3 1533.2L147.5 1537.6L147.6 1541.9L147.8 1546.1L147.9 1550.2L148.1 1554.2L148.4 1558.1L148.6 1562.0L148.8 1565.7L149.1 1569.4L149.4 1573.1L149.8 1576.6L150.1 1580.0L150.5 1583.2L150.8 1586.2L151.2 1589.2L151.7 1592.0L152.1 1594.9L152.6 1597.8L153.1 1600.7L153.6 1603.8L154.2 1607.1L154.8 1610.6L155.4 1614.3L156.1 1618.1L156.8 1622.1L157.5 1626.1L158.3 1630.1L159.1 1634.2L159.9 1638.2L160.8 1642.2L161.7 1646.0L162.6 1649.8L163.6 1653.5L164.6 1657.1L165.6 1660.7L166.7 1664.3L167.8 1667.7L168.8 1671.1L169.9 1674.4L170.9 1677.6L171.9 1680.7L172.9 1683.8L173.9 1686.7L174.9 1689.5L175.8 1692.2L176.8 1694.9L177.7 1697.5L178.7 1700.2L179.6 1702.8L180.6 1705.6L181.6 1708.4L182.7 1711.5L183.8 1714.7L185.0 1717.9L186.2 1721.2L187.3 1724.6L188.5 1727.9L189.7 1731.2L190.8 1734.5L191.9 1737.6L193.0 1740.5L194.0 1743.4L195.1 1746.4L196.2 1749.4L197.2 1752.3L198.2 1755.1L199.2 1757.8L200.1 1760.2L200.8 1762.3L201.5 1764.2L202.0 1765.6L222.0 1758.4L221.4 1756.9L220.8 1755.1L220.0 1752.9L219.1 1750.5L218.2 1747.9L217.2 1745.1L216.1 1742.2L215.1 1739.3L214.0 1736.4L213.0 1733.5L212.0 1730.5L210.9 1727.5L209.9 1724.2L208.7 1721.0L207.6 1717.6L206.5 1714.2L205.4 1710.9L204.3 1707.6L203.2 1704.4L202.2 1701.4L201.2 1698.4L200.2 1695.6L199.3 1692.9L198.4 1690.2L197.5 1687.6L196.6 1685.1L195.7 1682.4L194.9 1679.8L194.0 1677.0L193.1 1674.1L192.1 1671.0L191.2 1667.8L190.2 1664.5L189.2 1661.2L188.2 1657.9L187.3 1654.5L186.3 1651.1L185.4 1647.7L184.6 1644.2L183.7 1640.8L183.0 1637.3L182.2 1633.6L181.4 1629.8L180.7 1625.9L180.0 1622.0L179.3 1618.1L178.6 1614.2L178.0 1610.4L177.4 1606.8L176.8 1603.3L176.3 1600.0L175.8 1597.0L175.3 1594.1L174.9 1591.3L174.5 1588.7L174.1 1586.0L173.8 1583.3L173.5 1580.5L173.2 1577.6L172.8 1574.4L172.6 1571.1L172.3 1567.6L172.0 1564.1L171.8 1560.5L171.6 1556.8L171.4 1553.0L171.2 1549.1L171.0 1545.2L170.9 1541.1L170.7 1537.0L170.6 1532.7L170.5 1528.1L170.4 1523.5L170.3 1518.7L170.3 1513.9L170.2 1509.0L170.2 1504.2L170.2 1499.5L170.2 1495.0L170.2 1490.7L170.2 1486.5L170.2 1482.5L170.3 1478.5L170.3 1474.6L170.4 1470.8L170.4 1467.1L170.5 1463.4L170.6 1459.8L170.6 1456.2L170.7 1452.7L170.8 1449.4L170.8 1446.2L170.9 1443.1L171.0 1440.1L171.1 1437.1L171.1 1434.1L171.2 1431.1L171.2 1428.0L171.2 1424.8L171.1 1421.5L171.1 1418.1L170.9 1414.8L170.8 1411.3L170.6 1407.9L170.5 1404.4L170.2 1400.8L170.0 1397.3L169.7 1393.8L169.4 1390.2L169.0 1386.7L168.6 1383.3L168.3 1379.8L167.9 1376.4L167.5 1372.8L167.0 1369.3L166.5 1365.7L165.9 1362.1L165.2 1358.5L164.4 1354.9L163.5 1351.2L162.6 1347.7L161.6 1344.1L160.6 1340.6L159.4 1337.0L158.2 1333.5L156.9 1329.9L155.6 1326.4L154.1 1322.9L152.6 1319.5L151.0 1316.1L149.4 1312.8L147.6 1309.5L145.8 1306.3L143.9 1303.1L142.0 1299.9L140.0 1296.8L137.9 1293.7L135.8 1290.7L133.6 1287.6L131.3 1284.6L129.0 1281.6L126.6 1278.6L124.1 1275.6L121.6 1272.7L119.0 1269.8L116.3 1266.9L113.6 1264.0L110.8 1261.1L107.9 1258.2L104.9 1255.3L101.7 1252.3L98.4 1249.3L95.0 1246.2L91.6 1243.2L88.0 1240.1L84.4 1237.1L80.8 1234.1L77.2 1231.2L73.7 1228.4L70.2 1225.6L66.6 1222.9L63.1 1220.3L59.5 1217.7L55.9 1215.2L52.4 1212.7L48.9 1210.4L45.4 1208.0L42.1 1205.8L38.8 1203.6L35.5 1201.5L32.3 1199.3L28.9 1197.1L25.4 1194.9L22.0 1192.8L18.7 1190.7L15.6 1188.8L12.7 1187.0L10.2 1185.5L8.1 1184.2L6.4 1183.1Z M65.4 1595.9L66.5 1594.3L67.9 1592.3L69.6 1589.9L71.4 1587.2L73.5 1584.3L75.7 1581.2L78.0 1577.9L80.4 1574.4L83.0 1570.8L85.6 1567.1L88.4 1563.3L91.4 1559.1L94.6 1554.7L98.0 1550.1L101.5 1545.3L105.0 1540.5L108.5 1535.6L112.1 1530.7L115.5 1526.0L118.8 1521.3L122.0 1516.8L125.1 1512.4L128.0 1508.1L131.0 1503.8L133.9 1499.6L136.9 1495.3L139.9 1490.8L143.1 1486.2L146.5 1481.4L150.2 1476.4L154.1 1470.9L158.4 1465.1L162.9 1459.0L167.6 1452.7L172.4 1446.3L177.2 1439.9L181.9 1433.5L186.5 1427.4L190.9 1421.5L195.0 1415.9L198.9 1410.7L202.6 1405.7L206.1 1400.9L209.4 1396.3L212.7 1391.8L215.9 1387.4L219.1 1383.0L222.3 1378.8L225.5 1374.5L228.8 1370.1L232.2 1365.7L235.6 1361.3L239.0 1357.0L242.4 1352.6L245.7 1348.4L249.1 1344.2L252.4 1340.0L255.8 1336.0L259.1 1332.1L262.4 1328.3L265.7 1324.5L269.1 1320.8L272.4 1317.1L275.7 1313.5L279.0 1310.1L282.3 1306.7L285.5 1303.4L288.8 1300.3L292.1 1297.2L295.3 1294.3L298.5 1291.6L301.8 1288.9L305.1 1286.2L308.4 1283.7L311.7 1281.3L315.0 1279.0L318.3 1276.7L321.5 1274.6L324.7 1272.6L327.8 1270.6L330.8 1268.8L333.7 1267.2L336.5 1265.6L339.2 1264.1L341.9 1262.8L344.5 1261.6L347.1 1260.4L349.7 1259.4L352.3 1258.5L354.8 1257.6L357.4 1256.9L359.9 1256.3L362.5 1255.8L365.1 1255.4L367.8 1255.0L370.4 1254.8L373.1 1254.6L375.8 1254.4L378.4 1254.3L381.0 1254.2L383.4 1254.3L385.8 1254.3L388.1 1254.5L390.4 1254.6L392.7 1254.9L394.9 1255.2L397.2 1255.6L399.5 1256.0L401.8 1256.5L404.2 1257.0L406.4 1257.5L408.6 1258.1L410.8 1258.8L413.0 1259.6L415.3 1260.4L417.7 1261.3L420.2 1262.2L422.8 1263.2L425.6 1264.3L428.5 1265.3L431.6 1266.5L434.7 1267.6L438.0 1268.9L441.4 1270.2L444.8 1271.5L448.4 1272.8L451.9 1274.2L455.5 1275.6L459.0 1276.9L462.4 1278.2L465.8 1279.5L469.2 1280.8L472.6 1282.1L476.0 1283.4L479.5 1284.7L482.9 1286.0L486.3 1287.2L489.8 1288.5L493.2 1289.7L496.7 1290.9L500.1 1292.1L503.6 1293.3L507.1 1294.4L510.6 1295.6L514.0 1296.7L517.5 1297.8L520.9 1298.8L524.3 1299.9L527.7 1300.9L531.0 1301.9L534.2 1302.8L537.4 1303.8L540.6 1304.7L543.8 1305.6L547.0 1306.5L550.1 1307.3L553.2 1308.1L556.2 1308.9L559.3 1309.6L562.2 1310.3L565.2 1310.9L568.0 1311.4L570.7 1311.9L573.4 1312.3L575.9 1312.6L578.4 1313.0L580.9 1313.3L583.3 1313.7L585.7 1314.1L588.3 1314.5L590.9 1315.0L593.6 1315.5L596.3 1316.0L599.1 1316.5L601.8 1317.1L604.7 1317.7L607.5 1318.2L610.4 1318.9L613.4 1319.5L616.5 1320.1L619.5 1320.8L622.6 1321.5L625.8 1322.2L629.0 1323.0L632.4 1323.8L635.9 1324.7L639.5 1325.5L643.2 1326.3L647.0 1327.0L650.9 1327.7L654.9 1328.3L659.0 1328.9L663.3 1329.5L667.6 1330.1L672.0 1330.6L676.4 1331.1L680.8 1331.6L685.1 1332.0L689.3 1332.3L693.3 1332.6L697.1 1332.8L700.8 1333.0L704.3 1333.2L707.9 1333.3L711.4 1333.3L714.9 1333.3L718.5 1333.1L722.0 1332.9L725.7 1332.5L729.4 1332.0L733.0 1331.4L736.7 1330.8L740.3 1330.0L744.0 1329.1L747.6 1328.1L751.3 1327.0L754.9 1325.8L758.6 1324.5L762.2 1323.1L765.9 1321.5L769.5 1319.9L773.1 1318.1L776.7 1316.2L780.3 1314.3L783.9 1312.2L787.5 1310.1L791.0 1307.8L794.5 1305.5L798.1 1303.0L801.6 1300.5L805.2 1297.9L808.7 1295.2L812.2 1292.4L815.7 1289.5L819.3 1286.5L822.8 1283.4L826.3 1280.3L829.8 1277.0L833.3 1273.7L836.7 1270.4L840.2 1266.9L843.8 1263.3L847.3 1259.6L850.8 1255.8L854.3 1251.9L857.8 1248.0L861.3 1244.1L864.7 1240.1L868.0 1236.2L871.3 1232.3L874.6 1228.2L877.9 1224.0L881.1 1219.8L884.2 1215.5L887.3 1211.3L890.3 1207.2L893.2 1203.2L896.0 1199.3L898.6 1195.8L901.2 1192.4L903.7 1189.2L906.3 1186.1L908.8 1182.9L911.3 1179.9L913.6 1177.1L915.9 1174.4L917.9 1172.0L919.7 1169.8L921.3 1167.9L922.6 1166.4L907.4 1153.8L906.2 1155.3L904.7 1157.1L902.8 1159.3L900.8 1161.8L898.5 1164.5L896.1 1167.4L893.5 1170.5L890.9 1173.7L888.3 1177.0L885.6 1180.4L882.9 1183.9L880.1 1187.7L877.3 1191.6L874.3 1195.6L871.4 1199.7L868.3 1203.9L865.3 1208.0L862.2 1212.0L859.2 1215.9L856.1 1219.7L852.9 1223.5L849.7 1227.3L846.4 1231.1L843.1 1234.9L839.7 1238.7L836.3 1242.4L832.9 1246.0L829.5 1249.5L826.2 1252.9L822.9 1256.2L819.6 1259.4L816.2 1262.6L812.9 1265.6L809.6 1268.6L806.3 1271.5L803.0 1274.3L799.8 1277.0L796.5 1279.6L793.2 1282.1L790.0 1284.5L786.7 1286.8L783.5 1289.0L780.2 1291.1L777.0 1293.2L773.8 1295.1L770.6 1297.0L767.4 1298.7L764.2 1300.3L761.1 1301.9L757.9 1303.3L754.8 1304.6L751.6 1305.8L748.5 1307.0L745.3 1308.0L742.2 1309.0L739.0 1309.8L735.9 1310.6L732.7 1311.3L729.6 1311.8L726.4 1312.4L723.4 1312.8L720.4 1313.0L717.5 1313.2L714.5 1313.3L711.4 1313.4L708.3 1313.3L705.1 1313.2L701.8 1313.0L698.3 1312.8L694.7 1312.6L690.9 1312.3L687.0 1311.9L683.0 1311.5L678.8 1311.0L674.6 1310.4L670.4 1309.9L666.2 1309.2L662.1 1308.6L658.1 1307.9L654.3 1307.3L650.8 1306.7L647.3 1306.0L643.9 1305.3L640.5 1304.5L637.2 1303.7L633.9 1302.9L630.6 1302.1L627.3 1301.3L624.0 1300.6L620.7 1299.9L617.6 1299.2L614.5 1298.6L611.5 1298.1L608.6 1297.5L605.7 1297.0L602.9 1296.4L600.1 1295.9L597.3 1295.4L594.5 1295.0L591.7 1294.5L588.9 1294.0L586.2 1293.7L583.6 1293.3L581.1 1293.0L578.6 1292.7L576.2 1292.4L573.8 1292.0L571.4 1291.6L568.9 1291.2L566.4 1290.7L563.7 1290.1L560.8 1289.5L558.0 1288.8L555.0 1288.1L552.0 1287.4L549.0 1286.6L545.9 1285.8L542.8 1284.9L539.6 1284.0L536.4 1283.1L533.2 1282.2L529.9 1281.2L526.6 1280.2L523.3 1279.2L519.9 1278.2L516.5 1277.1L513.1 1276.0L509.7 1274.9L506.3 1273.8L502.9 1272.7L499.6 1271.5L496.2 1270.4L492.9 1269.2L489.5 1268.0L486.1 1266.7L482.8 1265.5L479.4 1264.2L476.0 1262.9L472.6 1261.7L469.2 1260.4L465.8 1259.1L462.3 1257.8L458.8 1256.4L455.3 1255.0L451.8 1253.6L448.3 1252.3L444.9 1250.9L441.6 1249.6L438.3 1248.4L435.3 1247.3L432.4 1246.2L429.7 1245.1L427.1 1244.1L424.5 1243.1L422.0 1242.2L419.4 1241.2L416.8 1240.3L414.1 1239.5L411.4 1238.7L408.6 1238.0L405.9 1237.4L403.2 1236.9L400.5 1236.4L397.8 1235.9L395.1 1235.5L392.3 1235.2L389.5 1235.0L386.6 1234.8L383.7 1234.8L380.8 1234.8L377.9 1234.8L374.9 1234.9L371.9 1235.0L368.8 1235.3L365.6 1235.6L362.4 1236.0L359.1 1236.5L355.8 1237.1L352.5 1237.9L349.2 1238.8L345.9 1239.8L342.8 1240.9L339.6 1242.1L336.5 1243.5L333.3 1244.9L330.2 1246.4L327.1 1248.1L323.9 1249.8L320.7 1251.6L317.4 1253.6L314.1 1255.6L310.7 1257.7L307.2 1260.0L303.6 1262.4L300.0 1264.9L296.4 1267.5L292.8 1270.2L289.1 1273.1L285.5 1276.0L281.9 1279.1L278.4 1282.2L274.8 1285.5L271.3 1288.9L267.8 1292.3L264.3 1295.9L260.8 1299.5L257.4 1303.3L253.9 1307.0L250.5 1310.9L247.0 1314.7L243.5 1318.8L240.0 1322.9L236.6 1327.1L233.1 1331.3L229.7 1335.6L226.2 1340.0L222.8 1344.4L219.4 1348.8L216.0 1353.2L212.6 1357.7L209.2 1362.1L205.9 1366.5L202.6 1370.9L199.4 1375.2L196.2 1379.7L192.9 1384.2L189.5 1388.8L186.0 1393.6L182.4 1398.5L178.6 1403.7L174.5 1409.2L170.1 1415.1L165.5 1421.2L160.7 1427.5L155.9 1433.9L151.1 1440.3L146.4 1446.7L141.8 1452.8L137.5 1458.7L133.4 1464.2L129.7 1469.4L126.2 1474.3L122.9 1479.0L119.8 1483.5L116.8 1487.9L113.9 1492.1L111.0 1496.4L108.1 1500.6L105.1 1504.9L102.0 1509.3L98.7 1513.9L95.3 1518.6L91.8 1523.4L88.3 1528.3L84.7 1533.1L81.3 1537.9L77.9 1542.5L74.7 1546.9L71.6 1551.1L68.8 1555.1L66.1 1558.8L63.5 1562.4L61.1 1566.0L58.7 1569.3L56.5 1572.5L54.4 1575.4L52.6 1578.1L51.0 1580.4L49.6 1582.4L48.4 1584.1Z M635.4 1131.0L634.5 1132.3L633.4 1133.9L632.1 1135.8L630.6 1138.0L629.0 1140.4L627.4 1142.9L625.6 1145.4L623.9 1148.1L622.2 1150.6L620.5 1153.1L618.9 1155.6L617.3 1158.1L615.6 1160.7L613.9 1163.3L612.2 1166.0L610.4 1168.7L608.7 1171.5L606.9 1174.2L605.2 1177.0L603.5 1179.8L601.8 1182.7L600.0 1185.5L598.3 1188.4L596.5 1191.4L594.8 1194.3L593.0 1197.3L591.3 1200.2L589.6 1203.2L588.0 1206.1L586.4 1209.0L584.8 1211.8L583.3 1214.7L581.7 1217.5L580.2 1220.4L578.7 1223.2L577.3 1226.0L575.9 1228.8L574.6 1231.5L573.4 1234.2L572.2 1236.8L571.2 1239.2L570.3 1241.5L569.5 1243.7L568.7 1245.9L568.0 1248.1L567.3 1250.2L566.7 1252.4L566.1 1254.7L565.6 1257.1L565.1 1259.6L564.7 1262.3L564.2 1265.0L563.7 1267.9L563.3 1271.0L562.9 1274.1L562.6 1277.2L562.4 1280.4L562.3 1283.6L562.4 1286.8L562.6 1290.0L563.0 1293.1L563.7 1296.0L564.4 1298.9L565.3 1301.7L566.2 1304.3L567.2 1306.8L568.2 1309.3L569.3 1311.6L570.3 1313.9L571.2 1316.1L572.2 1318.4L573.2 1320.7L574.3 1322.9L575.4 1325.0L576.5 1327.2L577.6 1329.3L578.8 1331.4L580.1 1333.6L581.4 1335.9L582.8 1338.3L584.3 1340.7L585.9 1343.3L587.5 1345.8L589.1 1348.3L590.8 1350.8L592.5 1353.4L594.3 1356.1L596.1 1358.8L597.9 1361.7L599.7 1364.7L601.6 1367.8L603.6 1371.1L605.6 1374.6L607.6 1378.2L609.7 1382.0L611.9 1385.7L614.1 1389.6L616.4 1393.4L618.7 1397.2L621.1 1401.0L623.4 1404.6L625.8 1408.3L628.3 1411.9L630.8 1415.6L633.3 1419.2L635.8 1422.8L638.4 1426.3L640.9 1429.9L643.4 1433.4L645.9 1437.0L648.5 1440.6L651.2 1444.3L654.0 1448.0L656.8 1451.7L659.5 1455.3L662.1 1458.9L664.7 1462.3L667.0 1465.6L669.1 1468.7L671.0 1471.5L672.7 1474.2L674.2 1476.7L675.5 1479.0L676.6 1481.1L677.7 1483.1L678.6 1485.0L679.4 1487.0L680.2 1489.0L681.0 1491.1L681.8 1493.3L682.6 1495.7L683.3 1498.1L683.9 1500.6L684.5 1503.1L685.0 1505.7L685.5 1508.3L685.9 1510.9L686.2 1513.4L686.5 1515.9L686.7 1518.4L686.9 1520.8L687.0 1523.2L687.0 1525.7L687.0 1528.1L686.9 1530.5L686.7 1532.8L686.5 1535.2L686.3 1537.4L686.0 1539.6L685.6 1541.6L685.3 1543.5L684.9 1545.2L684.3 1547.0L683.8 1548.8L683.2 1550.5L682.5 1552.3L681.8 1554.0L681.0 1555.8L680.3 1557.5L679.6 1559.2L678.9 1560.7L678.3 1562.1L677.7 1563.4L677.0 1564.7L676.4 1565.9L675.6 1567.2L674.9 1568.6L674.1 1570.0L673.3 1571.4L672.5 1572.9L671.8 1574.4L671.0 1575.8L670.3 1577.2L669.6 1578.5L668.9 1579.9L668.1 1581.3L667.3 1582.8L666.5 1584.3L665.7 1585.8L664.8 1587.5L663.9 1589.2L663.0 1590.9L662.0 1592.6L661.1 1594.3L660.1 1596.1L659.1 1597.9L658.1 1599.8L657.0 1601.8L655.8 1603.8L654.5 1606.0L653.1 1608.3L651.6 1610.7L650.0 1613.2L648.3 1615.8L646.5 1618.5L644.7 1621.3L642.9 1624.1L641.0 1627.0L639.2 1629.9L637.3 1632.7L635.5 1635.7L633.6 1638.7L631.7 1641.7L629.7 1644.8L627.8 1648.0L625.9 1651.0L623.9 1654.1L622.0 1657.0L620.2 1659.9L618.4 1662.7L616.6 1665.3L614.9 1667.9L613.2 1670.4L611.5 1672.9L609.8 1675.3L608.1 1677.7L606.5 1680.1L604.8 1682.4L603.2 1684.6L601.6 1686.9L600.0 1689.0L598.5 1691.1L597.0 1693.2L595.5 1695.2L594.0 1697.1L592.5 1699.1L591.0 1701.0L589.5 1703.0L587.9 1705.1L586.3 1707.1L584.6 1709.3L582.9 1711.4L581.2 1713.6L579.4 1715.9L577.6 1718.1L575.8 1720.3L574.0 1722.6L572.3 1724.8L570.5 1726.9L568.8 1729.1L567.1 1731.2L565.3 1733.5L563.4 1735.8L561.6 1738.2L559.7 1740.4L558.0 1742.6L556.4 1744.6L555.0 1746.4L553.8 1747.9L552.8 1749.1L565.2 1758.9L566.1 1757.8L567.3 1756.3L568.7 1754.5L570.3 1752.5L572.1 1750.3L573.9 1748.0L575.8 1745.7L577.6 1743.4L579.4 1741.1L581.2 1738.9L582.9 1736.8L584.6 1734.6L586.4 1732.4L588.2 1730.2L590.0 1728.0L591.8 1725.7L593.5 1723.5L595.3 1721.2L597.0 1719.0L598.7 1716.9L600.4 1714.7L602.0 1712.7L603.5 1710.7L605.0 1708.7L606.6 1706.7L608.1 1704.7L609.6 1702.6L611.2 1700.5L612.8 1698.4L614.4 1696.1L616.0 1693.8L617.7 1691.5L619.4 1689.2L621.1 1686.8L622.8 1684.4L624.5 1681.9L626.2 1679.3L628.0 1676.7L629.8 1674.1L631.6 1671.3L633.5 1668.5L635.4 1665.6L637.3 1662.5L639.2 1659.4L641.2 1656.3L643.1 1653.2L645.1 1650.1L647.0 1647.1L648.8 1644.1L650.7 1641.3L652.5 1638.4L654.3 1635.6L656.2 1632.8L658.0 1630.0L659.8 1627.2L661.6 1624.5L663.3 1621.9L665.0 1619.3L666.6 1616.8L668.1 1614.4L669.5 1612.1L670.8 1610.0L672.1 1607.9L673.2 1605.9L674.3 1604.1L675.4 1602.2L676.3 1600.5L677.3 1598.8L678.3 1597.2L679.2 1595.5L680.1 1593.9L681.0 1592.4L681.9 1590.9L682.7 1589.4L683.5 1588.0L684.3 1586.6L685.1 1585.2L685.9 1583.9L686.7 1582.5L687.5 1581.1L688.2 1579.7L689.0 1578.4L689.8 1577.1L690.6 1575.8L691.4 1574.4L692.2 1572.9L693.1 1571.4L694.0 1569.7L694.8 1568.0L695.6 1566.2L696.4 1564.5L697.2 1562.7L698.0 1560.8L698.8 1558.9L699.6 1556.8L700.5 1554.6L701.2 1552.3L702.0 1549.9L702.6 1547.4L703.2 1544.8L703.6 1542.2L703.9 1539.6L704.2 1536.9L704.5 1534.2L704.7 1531.4L704.8 1528.5L704.8 1525.7L704.8 1522.8L704.7 1519.9L704.5 1517.0L704.2 1514.1L703.9 1511.2L703.5 1508.3L703.0 1505.3L702.4 1502.3L701.8 1499.3L701.1 1496.3L700.3 1493.4L699.5 1490.5L698.6 1487.7L697.6 1485.0L696.7 1482.5L695.6 1480.0L694.5 1477.6L693.3 1475.2L692.1 1472.8L690.7 1470.3L689.1 1467.7L687.5 1465.0L685.6 1462.1L683.5 1458.9L681.1 1455.5L678.6 1452.1L676.0 1448.6L673.2 1445.0L670.4 1441.3L667.7 1437.7L664.9 1434.1L662.3 1430.5L659.7 1427.0L657.2 1423.5L654.6 1420.0L652.0 1416.5L649.5 1413.0L647.0 1409.5L644.5 1406.0L642.0 1402.5L639.6 1399.0L637.2 1395.5L634.9 1392.0L632.7 1388.5L630.5 1384.9L628.3 1381.2L626.1 1377.5L624.0 1373.8L621.8 1370.1L619.7 1366.5L617.7 1362.9L615.7 1359.4L613.7 1356.1L611.7 1353.0L609.8 1350.0L607.9 1347.2L606.1 1344.4L604.4 1341.8L602.7 1339.3L601.1 1336.9L599.6 1334.5L598.2 1332.2L596.8 1329.9L595.5 1327.7L594.2 1325.5L593.0 1323.4L591.9 1321.5L590.9 1319.5L589.9 1317.6L588.9 1315.7L588.0 1313.8L587.1 1311.8L586.2 1309.7L585.2 1307.4L584.2 1305.1L583.2 1302.9L582.3 1300.7L581.5 1298.6L580.7 1296.4L580.1 1294.4L579.5 1292.3L579.1 1290.3L578.8 1288.2L578.6 1286.1L578.6 1283.7L578.7 1281.2L578.8 1278.5L579.1 1275.8L579.4 1273.1L579.8 1270.3L580.2 1267.6L580.6 1265.0L581.1 1262.6L581.5 1260.3L581.9 1258.3L582.3 1256.4L582.8 1254.6L583.3 1252.8L583.9 1251.1L584.5 1249.2L585.3 1247.3L586.1 1245.2L587.0 1243.0L588.0 1240.6L589.0 1238.2L590.2 1235.7L591.5 1233.0L592.8 1230.3L594.2 1227.6L595.6 1224.8L597.0 1222.0L598.5 1219.2L600.0 1216.4L601.5 1213.6L603.1 1210.8L604.7 1208.0L606.4 1205.1L608.1 1202.2L609.8 1199.3L611.6 1196.4L613.3 1193.6L615.0 1190.7L616.7 1188.0L618.4 1185.2L620.1 1182.5L621.8 1179.9L623.6 1177.2L625.3 1174.5L627.0 1171.9L628.7 1169.3L630.4 1166.8L632.1 1164.3L633.7 1161.9L635.3 1159.4L637.0 1156.9L638.8 1154.3L640.5 1151.8L642.2 1149.3L643.8 1147.0L645.3 1144.8L646.6 1142.9L647.7 1141.3L648.6 1140.0Z M-4.0 1525.4L-1.9 1526.7L0.7 1528.4L3.9 1530.5L7.4 1532.8L11.2 1535.2L15.1 1537.8L19.1 1540.4L22.9 1543.0L26.6 1545.4L30.0 1547.6L33.1 1549.7L36.3 1551.9L39.4 1554.1L42.5 1556.3L45.6 1558.4L48.6 1560.6L51.6 1562.6L54.4 1564.6L57.2 1566.4L59.8 1568.1L62.2 1569.6L64.3 1570.9L66.3 1572.1L68.1 1573.1L69.9 1574.1L71.6 1575.1L73.4 1576.0L75.3 1577.0L77.4 1578.1L79.7 1579.4L82.3 1580.9L85.1 1582.4L88.1 1584.1L91.3 1585.9L94.6 1587.7L97.9 1589.5L101.3 1591.4L104.7 1593.1L108.1 1594.8L111.5 1596.4L114.8 1597.9L118.1 1599.3L121.5 1600.7L124.8 1602.0L128.2 1603.3L131.5 1604.6L134.8 1605.8L138.0 1606.9L141.3 1608.1L144.4 1609.1L147.5 1610.2L150.6 1611.2L153.6 1612.3L156.7 1613.3L159.7 1614.2L162.8 1615.2L166.0 1616.1L169.2 1616.9L172.6 1617.7L176.0 1618.4L179.5 1619.0L183.0 1619.5L186.6 1620.0L190.3 1620.4L193.9 1620.7L197.6 1621.0L201.2 1621.2L204.8 1621.5L208.4 1621.6L211.9 1621.8L215.4 1621.9L218.8 1622.0L222.2 1622.0L225.5 1622.0L228.9 1621.9L232.2 1621.9L235.6 1621.8L239.1 1621.6L242.7 1621.5L246.5 1621.4L250.4 1621.3L254.6 1621.1L258.9 1620.9L263.3 1620.7L267.8 1620.5L272.3 1620.3L276.7 1620.0L281.0 1619.8L285.2 1619.5L289.2 1619.2L293.0 1619.0L296.7 1618.7L300.3 1618.3L303.8 1618.0L307.2 1617.7L310.6 1617.4L313.9 1617.0L317.1 1616.7L320.3 1616.4L323.4 1616.1L326.3 1615.8L328.9 1615.6L331.5 1615.3L333.9 1615.1L336.4 1614.9L339.0 1614.7L341.8 1614.4L344.8 1614.0L348.2 1613.6L352.0 1613.1L356.2 1612.5L360.8 1611.8L365.7 1611.0L370.9 1610.2L376.3 1609.3L381.7 1608.4L387.2 1607.5L392.7 1606.5L398.1 1605.5L403.4 1604.6L408.6 1603.5L413.8 1602.4L418.9 1601.2L424.1 1600.1L429.2 1598.9L434.2 1597.7L439.3 1596.5L444.3 1595.4L449.3 1594.3L454.4 1593.2L459.5 1592.2L464.8 1591.2L470.1 1590.3L475.5 1589.3L480.9 1588.3L486.2 1587.4L491.3 1586.6L496.1 1585.7L500.7 1585.0L505.0 1584.3L508.8 1583.7L512.2 1583.1L515.4 1582.7L518.3 1582.2L521.0 1581.9L523.6 1581.5L526.3 1581.2L529.0 1580.8L531.8 1580.5L534.9 1580.2L538.1 1579.8L541.4 1579.4L544.7 1579.1L548.1 1578.8L551.4 1578.5L554.8 1578.2L558.2 1577.9L561.6 1577.6L565.0 1577.4L568.4 1577.2L571.7 1577.0L575.1 1576.9L578.5 1576.7L581.8 1576.6L585.2 1576.5L588.5 1576.4L591.8 1576.4L595.1 1576.4L598.4 1576.4L601.7 1576.5L605.0 1576.6L608.3 1576.8L611.7 1577.0L615.0 1577.2L618.4 1577.5L621.7 1577.7L624.9 1578.1L628.0 1578.4L630.9 1578.8L633.7 1579.3L636.4 1579.7L638.9 1580.2L641.3 1580.7L643.6 1581.3L645.9 1581.9L648.1 1582.6L650.4 1583.3L652.8 1584.0L655.2 1584.7L657.7 1585.5L660.1 1586.2L662.6 1586.9L665.0 1587.7L667.3 1588.4L669.6 1589.2L672.0 1589.9L674.4 1590.8L676.8 1591.7L679.2 1592.6L681.8 1593.7L684.4 1594.8L687.1 1596.0L689.8 1597.2L692.6 1598.6L695.5 1600.0L698.4 1601.4L701.4 1602.9L704.4 1604.5L707.5 1606.0L710.6 1607.7L713.8 1609.3L717.0 1611.1L720.4 1612.9L723.7 1614.7L727.1 1616.6L730.5 1618.5L734.0 1620.4L737.4 1622.4L740.8 1624.4L744.2 1626.4L747.5 1628.3L750.9 1630.3L754.3 1632.3L757.6 1634.4L761.0 1636.4L764.3 1638.5L767.6 1640.6L771.0 1642.7L774.3 1644.9L777.6 1647.1L781.0 1649.3L784.3 1651.6L787.7 1653.9L791.0 1656.3L794.4 1658.7L797.8 1661.1L801.2 1663.6L804.6 1666.0L807.9 1668.5L811.3 1671.0L814.7 1673.5L818.0 1676.0L821.4 1678.5L824.8 1681.1L828.2 1683.7L831.6 1686.3L835.0 1688.9L838.4 1691.6L841.8 1694.2L845.2 1696.8L848.6 1699.3L852.1 1701.9L855.6 1704.5L859.0 1707.1L862.5 1709.6L865.9 1712.2L869.3 1714.7L872.7 1717.2L876.0 1719.7L879.3 1722.2L882.4 1724.6L885.6 1727.0L888.7 1729.4L891.7 1731.7L894.7 1734.1L897.8 1736.4L900.8 1738.7L903.8 1741.1L906.8 1743.4L909.8 1745.7L913.0 1748.2L916.3 1750.7L919.8 1753.4L923.3 1756.1L926.7 1758.7L930.0 1761.2L933.1 1763.6L935.8 1765.6L938.0 1767.4L939.8 1768.7L950.2 1755.3L948.4 1753.9L946.1 1752.1L943.4 1750.1L940.4 1747.7L937.1 1745.2L933.7 1742.6L930.2 1739.9L926.7 1737.3L923.3 1734.7L920.2 1732.3L917.2 1729.9L914.2 1727.6L911.2 1725.3L908.2 1723.0L905.2 1720.6L902.1 1718.3L899.0 1715.9L895.9 1713.5L892.8 1711.1L889.5 1708.6L886.3 1706.1L882.9 1703.6L879.6 1701.1L876.1 1698.5L872.7 1695.9L869.3 1693.4L865.8 1690.8L862.4 1688.2L859.0 1685.6L855.6 1683.0L852.2 1680.5L848.9 1677.9L845.5 1675.3L842.1 1672.7L838.7 1670.0L835.3 1667.4L831.9 1664.8L828.5 1662.2L825.1 1659.6L821.7 1657.0L818.3 1654.5L814.9 1652.0L811.4 1649.5L808.0 1647.0L804.6 1644.5L801.1 1642.0L797.7 1639.6L794.3 1637.2L790.8 1634.8L787.4 1632.5L783.9 1630.2L780.5 1628.0L777.0 1625.8L773.6 1623.6L770.1 1621.5L766.7 1619.4L763.3 1617.3L759.9 1615.3L756.4 1613.3L753.0 1611.2L749.6 1609.2L746.1 1607.2L742.6 1605.3L739.0 1603.3L735.5 1601.4L732.1 1599.5L728.6 1597.6L725.2 1595.8L721.9 1594.0L718.6 1592.3L715.4 1590.7L712.2 1589.1L709.1 1587.5L706.0 1586.0L703.0 1584.5L700.0 1583.1L697.0 1581.7L694.0 1580.4L691.1 1579.1L688.2 1577.9L685.4 1576.8L682.6 1575.8L680.0 1574.9L677.3 1574.0L674.8 1573.2L672.3 1572.4L669.8 1571.6L667.3 1570.9L664.8 1570.2L662.3 1569.5L659.9 1568.8L657.5 1568.1L655.1 1567.4L652.6 1566.7L650.2 1566.1L647.6 1565.4L644.9 1564.8L642.2 1564.2L639.3 1563.6L636.3 1563.1L633.1 1562.7L629.9 1562.3L626.5 1562.0L623.1 1561.6L619.6 1561.4L616.1 1561.1L612.6 1560.9L609.1 1560.7L605.6 1560.6L602.1 1560.5L598.7 1560.4L595.2 1560.4L591.7 1560.4L588.2 1560.5L584.7 1560.6L581.3 1560.7L577.8 1560.9L574.3 1561.0L570.9 1561.2L567.4 1561.4L564.0 1561.6L560.5 1561.9L557.0 1562.1L553.5 1562.4L550.0 1562.7L546.5 1563.0L543.1 1563.4L539.7 1563.7L536.4 1564.1L533.1 1564.4L530.0 1564.8L527.1 1565.1L524.3 1565.5L521.6 1565.8L518.8 1566.2L516.0 1566.6L513.0 1567.0L509.8 1567.5L506.3 1568.1L502.4 1568.7L498.2 1569.4L493.5 1570.2L488.6 1571.0L483.5 1571.9L478.2 1572.8L472.8 1573.7L467.3 1574.7L461.9 1575.7L456.5 1576.7L451.2 1577.8L446.1 1578.8L440.9 1579.9L435.8 1581.1L430.7 1582.3L425.6 1583.5L420.5 1584.7L415.4 1585.8L410.4 1587.0L405.4 1588.0L400.4 1589.0L395.3 1590.0L389.9 1591.0L384.5 1592.0L379.1 1592.9L373.7 1593.8L368.4 1594.7L363.3 1595.5L358.5 1596.2L353.9 1596.9L349.8 1597.5L346.1 1598.0L342.9 1598.5L340.0 1598.8L337.4 1599.1L335.0 1599.3L332.6 1599.6L330.1 1599.8L327.6 1600.0L324.8 1600.2L321.8 1600.5L318.7 1600.9L315.5 1601.2L312.3 1601.5L309.0 1601.9L305.7 1602.2L302.3 1602.5L298.9 1602.9L295.4 1603.2L291.8 1603.5L288.0 1603.8L284.2 1604.0L280.0 1604.3L275.8 1604.6L271.4 1604.8L267.0 1605.1L262.6 1605.3L258.2 1605.5L254.0 1605.7L249.8 1605.9L245.9 1606.0L242.2 1606.1L238.6 1606.3L235.2 1606.4L231.8 1606.5L228.6 1606.5L225.4 1606.6L222.2 1606.6L219.0 1606.6L215.8 1606.5L212.5 1606.4L209.1 1606.3L205.6 1606.1L202.2 1605.9L198.7 1605.6L195.2 1605.4L191.8 1605.0L188.5 1604.7L185.2 1604.3L181.9 1603.8L178.8 1603.2L175.8 1602.6L172.9 1602.0L170.0 1601.2L167.1 1600.4L164.3 1599.6L161.4 1598.7L158.5 1597.7L155.5 1596.7L152.5 1595.7L149.4 1594.7L146.2 1593.6L143.0 1592.5L139.9 1591.4L136.7 1590.3L133.5 1589.1L130.3 1587.9L127.1 1586.7L123.9 1585.4L120.8 1584.1L117.7 1582.8L114.6 1581.3L111.4 1579.8L108.2 1578.2L104.9 1576.5L101.6 1574.7L98.4 1573.0L95.3 1571.3L92.3 1569.6L89.4 1568.0L86.7 1566.6L84.3 1565.3L82.1 1564.2L80.2 1563.1L78.5 1562.2L76.8 1561.4L75.2 1560.5L73.6 1559.5L71.8 1558.5L69.8 1557.3L67.6 1555.9L65.2 1554.3L62.5 1552.6L59.8 1550.7L56.9 1548.7L53.9 1546.6L50.8 1544.4L47.7 1542.2L44.5 1540.0L41.3 1537.8L38.0 1535.6L34.6 1533.3L30.9 1530.9L27.0 1528.3L23.0 1525.7L19.1 1523.1L15.3 1520.6L11.8 1518.3L8.7 1516.3L6.0 1514.6L4.0 1513.2Z" fill="#5e6164"/>
<path d="M-2.5 1200.6L-0.8 1201.6L1.2 1202.8L3.6 1204.3L6.3 1205.9L9.2 1207.7L12.2 1209.6L15.4 1211.6L18.5 1213.6L21.7 1215.7L24.8 1217.7L27.9 1219.8L31.1 1222.0L34.5 1224.2L37.8 1226.4L41.3 1228.8L44.7 1231.1L48.1 1233.6L51.6 1236.0L54.9 1238.5L58.3 1241.0L61.6 1243.7L65.1 1246.4L68.5 1249.2L72.0 1252.0L75.5 1254.9L78.9 1257.8L82.2 1260.7L85.4 1263.6L88.6 1266.5L91.5 1269.3L94.4 1272.0L97.1 1274.7L99.8 1277.4L102.4 1280.1L104.9 1282.7L107.3 1285.4L109.6 1288.1L111.9 1290.7L114.1 1293.4L116.2 1296.2L118.3 1298.9L120.4 1301.7L122.3 1304.5L124.2 1307.2L126.0 1310.0L127.8 1312.8L129.5 1315.7L131.1 1318.5L132.6 1321.4L134.1 1324.3L135.5 1327.3L136.9 1330.4L138.2 1333.4L139.4 1336.6L140.6 1339.7L141.7 1342.9L142.8 1346.1L143.7 1349.3L144.7 1352.6L145.5 1355.7L146.2 1358.9L146.9 1362.1L147.4 1365.3L147.9 1368.5L148.4 1371.8L148.8 1375.1L149.1 1378.4L149.5 1381.8L149.8 1385.2L150.1 1388.5L150.4 1391.9L150.6 1395.2L150.8 1398.5L150.9 1401.9L151.1 1405.3L151.2 1408.6L151.3 1411.9L151.3 1415.2L151.3 1418.5L151.4 1421.7L151.3 1424.8L151.3 1427.7L151.2 1430.6L151.1 1433.5L150.9 1436.4L150.8 1439.3L150.6 1442.3L150.5 1445.5L150.3 1448.7L150.2 1452.1L150.1 1455.6L149.9 1459.2L149.8 1462.8L149.6 1466.5L149.5 1470.2L149.3 1474.1L149.2 1478.1L149.1 1482.1L149.0 1486.3L148.9 1490.5L148.9 1494.9L148.8 1499.5L148.8 1504.3L148.8 1509.1L148.8 1514.0L148.9 1518.9L148.9 1523.8L149.0 1528.6L149.0 1533.2L149.2 1537.6L149.3 1541.9L149.5 1546.0L149.6 1550.1L149.8 1554.1L150.1 1558.0L150.3 1561.9L150.5 1565.6L150.8 1569.3L151.1 1572.9L151.4 1576.4L151.8 1579.8L152.1 1583.0L152.5 1586.0L152.9 1588.9L153.3 1591.8L153.8 1594.6L154.3 1597.5L154.7 1600.5L155.3 1603.5L155.8 1606.8L156.4 1610.3L157.1 1614.0L157.7 1617.8L158.4 1621.8L159.2 1625.8L159.9 1629.8L160.7 1633.9L161.6 1637.9L162.4 1641.8L163.3 1645.6L164.2 1649.3L165.2 1653.0L166.2 1656.7L167.3 1660.3L168.3 1663.8L169.4 1667.2L170.5 1670.6L171.5 1673.9L172.5 1677.1L173.5 1680.2L174.5 1683.3L175.5 1686.2L176.5 1689.0L177.4 1691.7L178.4 1694.3L179.3 1697.0L180.3 1699.6L181.2 1702.3L182.2 1705.0L183.3 1707.9L184.3 1710.9L185.4 1714.1L186.6 1717.4L187.8 1720.8L189.0 1724.1L190.2 1727.5L191.3 1730.8L192.5 1734.0L193.6 1737.1L194.6 1740.0L195.6 1742.8L196.6 1745.6L197.6 1748.4L198.6 1751.1L199.5 1753.7L200.4 1756.2L201.2 1758.4L202.0 1760.4L202.6 1762.1L203.1 1763.4L219.8 1757.4L219.3 1756.0L218.7 1754.3L218.0 1752.3L217.2 1750.1L216.3 1747.7L215.3 1745.1L214.4 1742.4L213.4 1739.6L212.4 1736.8L211.4 1734.0L210.4 1731.2L209.4 1728.1L208.3 1724.9L207.2 1721.6L206.0 1718.3L204.9 1714.9L203.8 1711.5L202.7 1708.2L201.6 1705.0L200.5 1701.9L199.6 1699.0L198.6 1696.2L197.7 1693.4L196.8 1690.8L195.9 1688.2L195.0 1685.6L194.1 1683.0L193.3 1680.3L192.4 1677.5L191.5 1674.6L190.5 1671.5L189.5 1668.3L188.6 1665.0L187.6 1661.7L186.6 1658.4L185.6 1655.0L184.7 1651.6L183.8 1648.1L182.9 1644.7L182.1 1641.2L181.3 1637.6L180.5 1633.9L179.8 1630.1L179.0 1626.2L178.3 1622.3L177.6 1618.4L177.0 1614.5L176.3 1610.7L175.7 1607.1L175.2 1603.6L174.6 1600.3L174.1 1597.2L173.7 1594.4L173.2 1591.6L172.8 1588.9L172.5 1586.2L172.1 1583.5L171.8 1580.7L171.5 1577.7L171.2 1574.6L170.9 1571.2L170.6 1567.8L170.3 1564.2L170.1 1560.6L169.9 1556.9L169.7 1553.1L169.5 1549.2L169.3 1545.2L169.2 1541.2L169.0 1537.0L168.9 1532.7L168.8 1528.2L168.7 1523.5L168.6 1518.7L168.6 1513.9L168.5 1509.0L168.5 1504.2L168.5 1499.5L168.5 1495.0L168.5 1490.7L168.5 1486.5L168.5 1482.5L168.6 1478.5L168.6 1474.6L168.7 1470.8L168.7 1467.0L168.8 1463.3L168.9 1459.7L168.9 1456.1L169.0 1452.7L169.1 1449.3L169.1 1446.2L169.2 1443.1L169.3 1440.1L169.4 1437.1L169.5 1434.1L169.5 1431.0L169.5 1428.0L169.5 1424.8L169.4 1421.5L169.4 1418.2L169.2 1414.8L169.1 1411.4L168.9 1407.9L168.8 1404.4L168.5 1400.9L168.3 1397.4L168.0 1393.9L167.7 1390.4L167.3 1386.9L167.0 1383.4L166.6 1380.0L166.2 1376.5L165.8 1373.0L165.3 1369.5L164.8 1366.0L164.2 1362.4L163.5 1358.8L162.8 1355.2L161.9 1351.7L161.0 1348.1L160.0 1344.6L158.9 1341.1L157.8 1337.5L156.6 1334.0L155.3 1330.5L154.0 1327.1L152.6 1323.6L151.1 1320.2L149.5 1316.9L147.8 1313.6L146.1 1310.3L144.3 1307.1L142.5 1303.9L140.6 1300.8L138.6 1297.7L136.5 1294.7L134.4 1291.7L132.2 1288.6L130.0 1285.6L127.6 1282.6L125.3 1279.7L122.8 1276.8L120.3 1273.8L117.7 1271.0L115.1 1268.1L112.4 1265.2L109.6 1262.3L106.7 1259.5L103.7 1256.5L100.6 1253.6L97.3 1250.6L93.9 1247.5L90.4 1244.5L86.9 1241.4L83.3 1238.4L79.8 1235.5L76.2 1232.5L72.6 1229.7L69.1 1227.0L65.6 1224.3L62.0 1221.6L58.5 1219.1L54.9 1216.5L51.3 1214.1L47.8 1211.7L44.4 1209.4L41.0 1207.1L37.8 1205.0L34.6 1202.9L31.4 1200.8L28.2 1198.7L24.9 1196.6L21.6 1194.5L18.5 1192.6L15.6 1190.8L12.9 1189.1L10.5 1187.7L8.5 1186.4L6.9 1185.5Z M65.0 1593.6L66.1 1592.0L67.4 1590.1L68.9 1587.9L70.6 1585.4L72.6 1582.7L74.6 1579.7L76.8 1576.5L79.2 1573.2L81.7 1569.7L84.2 1566.1L87.0 1562.3L90.0 1558.2L93.2 1553.8L96.6 1549.2L100.0 1544.4L103.6 1539.5L107.1 1534.6L110.7 1529.8L114.1 1525.0L117.5 1520.3L120.6 1515.8L123.7 1511.4L126.6 1507.1L129.6 1502.9L132.5 1498.6L135.5 1494.3L138.5 1489.9L141.8 1485.3L145.2 1480.4L148.8 1475.4L152.8 1469.9L157.0 1464.1L161.6 1458.0L166.3 1451.7L171.0 1445.3L175.8 1438.8L180.6 1432.5L185.2 1426.3L189.6 1420.4L193.7 1414.9L197.5 1409.7L201.2 1404.7L204.7 1399.9L208.1 1395.3L211.3 1390.8L214.6 1386.4L217.7 1382.0L220.9 1377.7L224.2 1373.4L227.5 1369.1L230.9 1364.7L234.3 1360.3L237.6 1355.9L241.0 1351.6L244.4 1347.3L247.8 1343.1L251.1 1339.0L254.5 1334.9L257.8 1331.0L261.1 1327.1L264.5 1323.3L267.8 1319.6L271.1 1316.0L274.5 1312.4L277.8 1308.9L281.1 1305.5L284.4 1302.2L287.6 1299.0L290.9 1296.0L294.2 1293.1L297.4 1290.2L300.7 1287.5L304.1 1284.9L307.4 1282.4L310.7 1279.9L314.1 1277.6L317.4 1275.3L320.6 1273.2L323.8 1271.1L326.9 1269.2L329.9 1267.4L332.8 1265.7L335.7 1264.1L338.5 1262.6L341.2 1261.3L343.8 1260.0L346.5 1258.9L349.1 1257.8L351.7 1256.9L354.3 1256.0L356.9 1255.3L359.6 1254.7L362.2 1254.1L364.9 1253.7L367.6 1253.3L370.3 1253.1L373.0 1252.9L375.7 1252.7L378.4 1252.6L381.0 1252.5L383.5 1252.6L385.9 1252.6L388.2 1252.8L390.6 1253.0L392.9 1253.2L395.2 1253.5L397.5 1253.9L399.8 1254.3L402.2 1254.8L404.6 1255.3L406.8 1255.9L409.1 1256.5L411.3 1257.2L413.6 1258.0L415.9 1258.8L418.3 1259.7L420.8 1260.6L423.4 1261.6L426.2 1262.7L429.1 1263.8L432.2 1264.9L435.3 1266.0L438.6 1267.3L442.0 1268.6L445.5 1269.9L449.0 1271.3L452.5 1272.6L456.1 1274.0L459.6 1275.3L463.0 1276.6L466.4 1277.9L469.8 1279.2L473.2 1280.5L476.6 1281.8L480.1 1283.1L483.5 1284.4L486.9 1285.6L490.3 1286.9L493.8 1288.1L497.2 1289.3L500.7 1290.5L504.1 1291.7L507.6 1292.8L511.1 1293.9L514.6 1295.1L518.0 1296.2L521.4 1297.2L524.8 1298.3L528.2 1299.3L531.5 1300.2L534.7 1301.2L537.9 1302.1L541.1 1303.1L544.3 1304.0L547.4 1304.8L550.5 1305.7L553.6 1306.5L556.6 1307.2L559.6 1307.9L562.6 1308.6L565.5 1309.2L568.3 1309.7L571.0 1310.2L573.6 1310.6L576.2 1311.0L578.6 1311.3L581.1 1311.6L583.5 1312.0L586.0 1312.4L588.6 1312.8L591.2 1313.3L593.9 1313.8L596.6 1314.3L599.4 1314.9L602.2 1315.4L605.0 1316.0L607.9 1316.6L610.8 1317.2L613.8 1317.8L616.8 1318.5L619.9 1319.1L623.0 1319.8L626.2 1320.6L629.4 1321.4L632.8 1322.2L636.3 1323.0L639.8 1323.8L643.5 1324.6L647.3 1325.3L651.1 1326.0L655.1 1326.6L659.2 1327.2L663.5 1327.8L667.8 1328.4L672.2 1329.0L676.6 1329.5L681.0 1329.9L685.3 1330.3L689.5 1330.6L693.5 1330.9L697.2 1331.1L700.8 1331.3L704.4 1331.5L707.9 1331.6L711.4 1331.6L714.9 1331.6L718.4 1331.4L721.9 1331.2L725.5 1330.8L729.1 1330.4L732.7 1329.8L736.3 1329.1L739.9 1328.3L743.6 1327.4L747.2 1326.5L750.8 1325.4L754.4 1324.2L758.0 1322.9L761.6 1321.5L765.2 1320.0L768.8 1318.3L772.4 1316.6L775.9 1314.7L779.5 1312.8L783.0 1310.7L786.6 1308.6L790.1 1306.4L793.6 1304.0L797.1 1301.6L800.6 1299.1L804.1 1296.5L807.6 1293.8L811.2 1291.1L814.7 1288.2L818.2 1285.2L821.6 1282.1L825.1 1279.0L828.6 1275.8L832.1 1272.5L835.5 1269.2L839.0 1265.7L842.5 1262.1L846.1 1258.4L849.6 1254.6L853.1 1250.8L856.6 1246.9L860.0 1243.0L863.4 1239.0L866.7 1235.1L870.0 1231.2L873.3 1227.1L876.5 1223.0L879.7 1218.7L882.9 1214.5L886.0 1210.2L889.0 1206.1L891.9 1202.1L894.7 1198.3L897.3 1194.7L899.8 1191.4L902.3 1188.3L904.8 1185.2L907.2 1182.2L909.5 1179.3L911.8 1176.7L913.9 1174.1L915.8 1171.9L917.5 1169.8L919.0 1168.1L920.2 1166.6L907.7 1156.2L906.5 1157.6L905.0 1159.3L903.3 1161.4L901.4 1163.7L899.3 1166.2L897.0 1169.0L894.6 1171.9L892.1 1175.0L889.5 1178.1L887.0 1181.4L884.3 1184.9L881.6 1188.6L878.7 1192.5L875.8 1196.5L872.8 1200.6L869.8 1204.8L866.7 1208.9L863.6 1213.0L860.5 1217.0L857.4 1220.8L854.2 1224.6L851.0 1228.4L847.7 1232.2L844.3 1236.1L841.0 1239.8L837.6 1243.5L834.2 1247.2L830.8 1250.7L827.4 1254.1L824.1 1257.4L820.7 1260.7L817.4 1263.8L814.1 1266.9L810.8 1269.9L807.4 1272.8L804.1 1275.6L800.8 1278.3L797.5 1280.9L794.3 1283.4L791.0 1285.9L787.7 1288.2L784.4 1290.4L781.2 1292.6L777.9 1294.6L774.7 1296.6L771.4 1298.4L768.2 1300.2L765.0 1301.8L761.8 1303.4L758.6 1304.8L755.4 1306.2L752.2 1307.4L749.0 1308.6L745.8 1309.6L742.6 1310.6L739.4 1311.5L736.2 1312.2L733.1 1312.9L729.9 1313.5L726.7 1314.0L723.6 1314.4L720.6 1314.7L717.5 1314.9L714.5 1315.0L711.4 1315.1L708.3 1315.0L705.0 1314.9L701.7 1314.7L698.2 1314.5L694.5 1314.3L690.8 1314.0L686.9 1313.6L682.8 1313.2L678.6 1312.7L674.4 1312.1L670.1 1311.5L665.9 1310.9L661.8 1310.3L657.8 1309.6L654.1 1309.0L650.5 1308.3L647.0 1307.6L643.5 1306.9L640.2 1306.1L636.8 1305.4L633.5 1304.6L630.2 1303.8L626.9 1303.0L623.6 1302.2L620.4 1301.5L617.2 1300.9L614.2 1300.3L611.2 1299.7L608.3 1299.2L605.4 1298.6L602.6 1298.1L599.7 1297.6L597.0 1297.1L594.2 1296.6L591.4 1296.2L588.7 1295.7L586.0 1295.3L583.4 1295.0L580.9 1294.7L578.4 1294.4L576.0 1294.0L573.6 1293.7L571.1 1293.3L568.6 1292.9L566.0 1292.4L563.3 1291.8L560.5 1291.2L557.6 1290.5L554.6 1289.8L551.6 1289.0L548.5 1288.2L545.5 1287.4L542.3 1286.5L539.1 1285.7L535.9 1284.8L532.7 1283.8L529.4 1282.9L526.1 1281.9L522.8 1280.9L519.4 1279.8L516.0 1278.7L512.6 1277.6L509.1 1276.5L505.7 1275.4L502.4 1274.3L499.0 1273.1L495.7 1272.0L492.3 1270.8L488.9 1269.5L485.5 1268.3L482.2 1267.1L478.8 1265.8L475.4 1264.5L472.0 1263.3L468.6 1262.0L465.1 1260.7L461.7 1259.4L458.2 1258.0L454.7 1256.6L451.2 1255.2L447.7 1253.9L444.3 1252.5L441.0 1251.2L437.7 1250.0L434.7 1248.8L431.8 1247.8L429.1 1246.7L426.5 1245.7L423.9 1244.7L421.4 1243.8L418.8 1242.8L416.3 1242.0L413.7 1241.1L411.0 1240.4L408.2 1239.7L405.5 1239.1L402.9 1238.5L400.2 1238.0L397.5 1237.6L394.9 1237.2L392.1 1236.9L389.4 1236.7L386.6 1236.5L383.7 1236.5L380.8 1236.5L377.9 1236.5L375.0 1236.6L372.0 1236.7L368.9 1236.9L365.8 1237.2L362.6 1237.6L359.4 1238.1L356.2 1238.7L352.9 1239.5L349.7 1240.4L346.5 1241.4L343.4 1242.5L340.2 1243.7L337.2 1245.0L334.1 1246.4L331.0 1247.9L327.9 1249.6L324.7 1251.3L321.5 1253.1L318.3 1255.0L315.0 1257.0L311.6 1259.2L308.1 1261.4L304.6 1263.8L301.0 1266.3L297.4 1268.9L293.8 1271.6L290.2 1274.4L286.6 1277.3L283.0 1280.3L279.5 1283.5L276.0 1286.7L272.5 1290.1L269.0 1293.5L265.5 1297.1L262.1 1300.7L258.6 1304.4L255.2 1308.2L251.7 1312.0L248.3 1315.9L244.8 1319.9L241.3 1324.0L237.9 1328.1L234.4 1332.4L231.0 1336.7L227.6 1341.0L224.1 1345.4L220.7 1349.8L217.3 1354.3L213.9 1358.7L210.5 1363.1L207.2 1367.5L204.0 1371.9L200.8 1376.2L197.5 1380.7L194.2 1385.2L190.9 1389.8L187.4 1394.6L183.8 1399.5L179.9 1404.7L175.8 1410.2L171.4 1416.1L166.8 1422.2L162.1 1428.5L157.3 1435.0L152.5 1441.4L147.7 1447.7L143.2 1453.8L138.8 1459.7L134.8 1465.2L131.1 1470.4L127.6 1475.3L124.3 1480.0L121.2 1484.5L118.2 1488.8L115.3 1493.1L112.4 1497.3L109.5 1501.6L106.5 1505.9L103.3 1510.3L100.1 1514.9L96.6 1519.6L93.1 1524.5L89.6 1529.3L86.1 1534.2L82.6 1539.0L79.2 1543.6L76.0 1548.0L73.0 1552.2L70.2 1556.1L67.6 1559.7L65.1 1563.2L62.7 1566.6L60.5 1569.8L58.4 1572.8L56.5 1575.5L54.7 1578.0L53.2 1580.2L51.9 1582.1L50.8 1583.7Z M635.8 1133.4L635.0 1134.6L634.0 1136.1L632.8 1137.8L631.5 1139.8L630.0 1142.0L628.4 1144.3L626.8 1146.8L625.1 1149.2L623.5 1151.7L621.9 1154.1L620.4 1156.5L618.7 1159.0L617.1 1161.5L615.4 1164.2L613.6 1166.9L611.9 1169.6L610.1 1172.3L608.4 1175.1L606.7 1177.9L604.9 1180.7L603.2 1183.5L601.5 1186.4L599.7 1189.3L598.0 1192.2L596.2 1195.2L594.5 1198.1L592.8 1201.1L591.1 1204.0L589.5 1206.9L587.9 1209.8L586.3 1212.6L584.8 1215.5L583.2 1218.3L581.7 1221.2L580.2 1224.0L578.8 1226.8L577.4 1229.5L576.1 1232.3L574.9 1234.9L573.8 1237.5L572.8 1239.9L571.9 1242.1L571.1 1244.3L570.3 1246.4L569.6 1248.6L568.9 1250.7L568.4 1252.9L567.8 1255.1L567.3 1257.5L566.8 1259.9L566.3 1262.5L565.9 1265.3L565.4 1268.2L565.0 1271.2L564.6 1274.2L564.3 1277.4L564.1 1280.5L564.0 1283.6L564.1 1286.7L564.3 1289.8L564.7 1292.8L565.3 1295.7L566.0 1298.4L566.9 1301.1L567.8 1303.7L568.8 1306.2L569.8 1308.6L570.8 1310.9L571.8 1313.2L572.8 1315.5L573.8 1317.7L574.8 1320.0L575.8 1322.1L576.9 1324.3L578.0 1326.4L579.1 1328.5L580.3 1330.6L581.6 1332.8L582.9 1335.0L584.3 1337.4L585.7 1339.9L587.3 1342.3L588.9 1344.8L590.5 1347.3L592.2 1349.9L594.0 1352.5L595.7 1355.2L597.5 1357.9L599.3 1360.8L601.2 1363.8L603.1 1366.9L605.0 1370.3L607.0 1373.8L609.1 1377.4L611.2 1381.1L613.4 1384.9L615.6 1388.7L617.9 1392.5L620.2 1396.3L622.5 1400.0L624.8 1403.7L627.3 1407.3L629.7 1411.0L632.2 1414.6L634.7 1418.2L637.2 1421.8L639.7 1425.3L642.3 1428.9L644.8 1432.4L647.3 1436.0L649.9 1439.6L652.6 1443.3L655.4 1447.0L658.1 1450.7L660.8 1454.3L663.5 1457.9L666.0 1461.3L668.4 1464.6L670.5 1467.7L672.4 1470.6L674.1 1473.3L675.6 1475.8L677.0 1478.1L678.1 1480.3L679.2 1482.3L680.1 1484.3L681.0 1486.3L681.8 1488.3L682.6 1490.5L683.4 1492.8L684.2 1495.2L684.9 1497.6L685.5 1500.2L686.1 1502.7L686.7 1505.4L687.1 1508.0L687.6 1510.6L687.9 1513.2L688.2 1515.8L688.4 1518.3L688.6 1520.7L688.7 1523.2L688.7 1525.7L688.7 1528.1L688.6 1530.6L688.4 1533.0L688.2 1535.3L688.0 1537.6L687.7 1539.8L687.3 1541.9L686.9 1543.8L686.5 1545.7L686.0 1547.5L685.4 1549.3L684.7 1551.1L684.1 1552.9L683.3 1554.7L682.6 1556.4L681.9 1558.2L681.1 1559.9L680.5 1561.4L679.9 1562.8L679.2 1564.2L678.5 1565.5L677.8 1566.8L677.1 1568.1L676.4 1569.4L675.6 1570.8L674.8 1572.3L674.0 1573.7L673.3 1575.2L672.5 1576.6L671.8 1578.0L671.1 1579.4L670.3 1580.8L669.6 1582.2L668.8 1583.6L668.0 1585.1L667.2 1586.7L666.3 1588.3L665.4 1590.0L664.5 1591.7L663.5 1593.4L662.6 1595.2L661.6 1596.9L660.6 1598.8L659.6 1600.7L658.4 1602.6L657.2 1604.7L655.9 1606.9L654.5 1609.2L653.0 1611.6L651.4 1614.1L649.7 1616.8L647.9 1619.5L646.1 1622.2L644.3 1625.1L642.5 1627.9L640.6 1630.8L638.8 1633.7L636.9 1636.6L635.0 1639.6L633.1 1642.6L631.2 1645.7L629.2 1648.9L627.3 1651.9L625.4 1655.0L623.5 1658.0L621.6 1660.8L619.8 1663.6L618.1 1666.2L616.3 1668.8L614.6 1671.4L612.9 1673.9L611.2 1676.3L609.5 1678.7L607.9 1681.0L606.2 1683.3L604.6 1685.6L603.0 1687.9L601.4 1690.0L599.8 1692.1L598.3 1694.2L596.8 1696.2L595.3 1698.2L593.8 1700.1L592.3 1702.1L590.8 1704.1L589.2 1706.1L587.6 1708.2L585.9 1710.3L584.2 1712.5L582.5 1714.7L580.7 1717.0L578.9 1719.2L577.1 1721.5L575.3 1723.7L573.5 1725.9L571.8 1728.1L570.2 1730.1L568.5 1732.2L566.8 1734.4L565.0 1736.6L563.3 1738.7L561.6 1740.8L560.0 1742.8L558.5 1744.7L557.2 1746.3L556.1 1747.7L555.2 1748.8L564.9 1756.5L565.8 1755.5L566.9 1754.1L568.2 1752.4L569.7 1750.6L571.3 1748.6L573.0 1746.5L574.7 1744.3L576.5 1742.1L578.2 1740.0L579.8 1737.9L581.5 1735.8L583.2 1733.7L585.0 1731.5L586.8 1729.2L588.6 1727.0L590.4 1724.7L592.2 1722.4L594.0 1720.2L595.7 1718.0L597.4 1715.8L599.0 1713.7L600.6 1711.7L602.2 1709.6L603.7 1707.7L605.2 1705.7L606.7 1703.6L608.3 1701.6L609.8 1699.5L611.4 1697.4L613.0 1695.1L614.7 1692.9L616.3 1690.5L618.0 1688.2L619.7 1685.8L621.4 1683.4L623.1 1680.9L624.8 1678.4L626.6 1675.8L628.4 1673.1L630.2 1670.4L632.0 1667.6L633.9 1664.6L635.8 1661.6L637.8 1658.5L639.7 1655.4L641.7 1652.3L643.6 1649.2L645.5 1646.2L647.4 1643.2L649.2 1640.3L651.0 1637.5L652.9 1634.7L654.7 1631.9L656.6 1629.1L658.4 1626.3L660.2 1623.6L661.9 1620.9L663.6 1618.4L665.2 1615.9L666.7 1613.5L668.1 1611.2L669.4 1609.1L670.6 1607.1L671.7 1605.1L672.8 1603.2L673.9 1601.4L674.9 1599.7L675.8 1598.0L676.8 1596.3L677.7 1594.7L678.6 1593.1L679.5 1591.5L680.4 1590.1L681.2 1588.6L682.0 1587.2L682.8 1585.8L683.6 1584.4L684.4 1583.0L685.2 1581.7L686.0 1580.3L686.7 1578.9L687.5 1577.6L688.3 1576.3L689.1 1574.9L689.9 1573.5L690.7 1572.1L691.6 1570.6L692.4 1569.0L693.3 1567.3L694.1 1565.5L694.8 1563.8L695.6 1562.0L696.4 1560.2L697.2 1558.2L698.1 1556.2L698.9 1554.0L699.6 1551.8L700.3 1549.5L701.0 1547.0L701.5 1544.5L701.9 1542.0L702.2 1539.4L702.5 1536.8L702.8 1534.1L703.0 1531.3L703.1 1528.5L703.1 1525.7L703.1 1522.8L703.0 1520.0L702.8 1517.1L702.5 1514.3L702.2 1511.4L701.8 1508.5L701.3 1505.6L700.8 1502.6L700.1 1499.7L699.5 1496.7L698.7 1493.8L697.9 1491.0L697.0 1488.2L696.0 1485.6L695.1 1483.1L694.1 1480.7L693.0 1478.3L691.8 1475.9L690.6 1473.6L689.2 1471.1L687.7 1468.6L686.0 1465.9L684.2 1463.0L682.1 1459.8L679.7 1456.5L677.2 1453.1L674.6 1449.6L671.9 1446.0L669.1 1442.3L666.3 1438.7L663.6 1435.1L660.9 1431.5L658.3 1428.0L655.8 1424.5L653.2 1421.0L650.7 1417.5L648.1 1414.0L645.6 1410.5L643.1 1407.0L640.6 1403.5L638.2 1400.0L635.8 1396.5L633.5 1393.0L631.3 1389.4L629.0 1385.8L626.8 1382.1L624.7 1378.4L622.5 1374.6L620.4 1370.9L618.3 1367.3L616.2 1363.7L614.2 1360.3L612.2 1357.0L610.3 1353.9L608.4 1350.9L606.5 1348.1L604.7 1345.4L603.0 1342.8L601.3 1340.2L599.7 1337.8L598.2 1335.4L596.7 1333.1L595.3 1330.8L594.0 1328.5L592.8 1326.4L591.6 1324.3L590.4 1322.3L589.4 1320.3L588.4 1318.4L587.4 1316.5L586.5 1314.5L585.5 1312.5L584.6 1310.3L583.6 1308.1L582.7 1305.8L581.7 1303.6L580.8 1301.3L579.9 1299.2L579.1 1297.0L578.4 1294.8L577.9 1292.7L577.4 1290.6L577.1 1288.4L576.9 1286.1L576.9 1283.7L577.0 1281.1L577.1 1278.4L577.4 1275.6L577.7 1272.8L578.1 1270.1L578.5 1267.4L579.0 1264.7L579.4 1262.3L579.8 1260.0L580.2 1257.9L580.7 1256.0L581.2 1254.1L581.7 1252.3L582.3 1250.5L582.9 1248.7L583.7 1246.7L584.5 1244.6L585.4 1242.3L586.4 1240.0L587.5 1237.5L588.7 1234.9L589.9 1232.3L591.3 1229.6L592.6 1226.8L594.1 1224.0L595.5 1221.2L597.0 1218.4L598.5 1215.6L600.0 1212.8L601.6 1210.0L603.3 1207.1L604.9 1204.2L606.6 1201.3L608.4 1198.4L610.1 1195.5L611.8 1192.7L613.6 1189.8L615.3 1187.1L617.0 1184.3L618.7 1181.6L620.4 1178.9L622.2 1176.2L623.9 1173.5L625.7 1170.9L627.4 1168.3L629.0 1165.8L630.7 1163.3L632.3 1160.9L633.9 1158.6L635.5 1156.1L637.1 1153.7L638.7 1151.4L640.3 1149.1L641.8 1146.9L643.2 1144.9L644.4 1143.2L645.4 1141.7L646.3 1140.5Z M-1.6 1524.9L0.3 1526.2L2.9 1527.8L5.9 1529.8L9.2 1531.9L12.8 1534.3L16.6 1536.7L20.4 1539.2L24.1 1541.7L27.6 1544.0L30.9 1546.2L34.0 1548.3L37.1 1550.5L40.3 1552.6L43.4 1554.8L46.5 1557.0L49.5 1559.1L52.5 1561.2L55.3 1563.1L58.1 1565.0L60.7 1566.7L63.1 1568.2L65.2 1569.5L67.1 1570.6L68.9 1571.7L70.7 1572.6L72.4 1573.6L74.2 1574.5L76.1 1575.5L78.2 1576.6L80.5 1577.9L83.1 1579.4L86.0 1581.0L89.0 1582.7L92.1 1584.4L95.4 1586.2L98.7 1588.0L102.1 1589.9L105.5 1591.6L108.9 1593.3L112.2 1594.9L115.5 1596.4L118.8 1597.8L122.1 1599.1L125.4 1600.5L128.7 1601.7L132.1 1603.0L135.3 1604.2L138.6 1605.3L141.8 1606.4L145.0 1607.5L148.1 1608.6L151.1 1609.6L154.2 1610.7L157.2 1611.7L160.2 1612.6L163.3 1613.6L166.4 1614.4L169.6 1615.3L172.9 1616.0L176.3 1616.7L179.8 1617.3L183.3 1617.8L186.8 1618.3L190.4 1618.7L194.1 1619.0L197.7 1619.3L201.3 1619.5L204.9 1619.8L208.4 1619.9L212.0 1620.1L215.4 1620.2L218.8 1620.3L222.2 1620.3L225.5 1620.3L228.8 1620.2L232.2 1620.2L235.6 1620.1L239.1 1620.0L242.7 1619.8L246.4 1619.7L250.4 1619.6L254.5 1619.4L258.8 1619.2L263.3 1619.0L267.7 1618.8L272.2 1618.6L276.6 1618.3L280.9 1618.1L285.1 1617.8L289.0 1617.5L292.8 1617.3L296.5 1617.0L300.1 1616.6L303.7 1616.3L307.1 1616.0L310.4 1615.7L313.7 1615.3L316.9 1615.0L320.1 1614.7L323.2 1614.4L326.1 1614.1L328.8 1613.9L331.3 1613.7L333.8 1613.4L336.3 1613.2L338.8 1613.0L341.6 1612.7L344.6 1612.3L348.0 1611.9L351.8 1611.4L356.0 1610.8L360.6 1610.1L365.5 1609.3L370.6 1608.5L376.0 1607.7L381.4 1606.8L387.0 1605.8L392.4 1604.9L397.8 1603.9L403.1 1602.9L408.3 1601.8L413.4 1600.7L418.5 1599.6L423.7 1598.4L428.8 1597.2L433.9 1596.0L438.9 1594.9L444.0 1593.7L449.0 1592.6L454.0 1591.6L459.2 1590.6L464.4 1589.6L469.8 1588.6L475.2 1587.6L480.6 1586.7L485.9 1585.8L491.0 1584.9L495.9 1584.1L500.4 1583.3L504.7 1582.6L508.5 1582.0L512.0 1581.5L515.1 1581.0L518.0 1580.6L520.8 1580.2L523.4 1579.8L526.1 1579.5L528.8 1579.1L531.6 1578.8L534.7 1578.5L537.9 1578.1L541.2 1577.8L544.5 1577.4L547.9 1577.1L551.3 1576.8L554.7 1576.5L558.1 1576.2L561.5 1575.9L564.9 1575.7L568.3 1575.5L571.6 1575.3L575.0 1575.2L578.4 1575.0L581.8 1574.9L585.1 1574.8L588.5 1574.7L591.8 1574.7L595.1 1574.7L598.4 1574.7L601.7 1574.8L605.0 1574.9L608.4 1575.1L611.8 1575.3L615.2 1575.5L618.5 1575.8L621.8 1576.1L625.0 1576.4L628.2 1576.7L631.2 1577.1L634.0 1577.6L636.7 1578.0L639.2 1578.5L641.6 1579.1L644.0 1579.7L646.3 1580.3L648.6 1581.0L650.9 1581.6L653.3 1582.4L655.7 1583.1L658.1 1583.8L660.6 1584.6L663.1 1585.3L665.4 1586.0L667.8 1586.8L670.2 1587.5L672.5 1588.3L674.9 1589.2L677.4 1590.1L679.8 1591.0L682.4 1592.1L685.1 1593.2L687.8 1594.4L690.5 1595.7L693.4 1597.0L696.2 1598.4L699.2 1599.9L702.2 1601.4L705.2 1602.9L708.3 1604.5L711.4 1606.2L714.6 1607.8L717.8 1609.6L721.2 1611.4L724.5 1613.2L727.9 1615.1L731.4 1617.0L734.8 1619.0L738.2 1620.9L741.7 1622.9L745.0 1624.9L748.4 1626.9L751.8 1628.9L755.1 1630.9L758.5 1632.9L761.9 1635.0L765.2 1637.0L768.6 1639.2L771.9 1641.3L775.2 1643.5L778.6 1645.7L781.9 1647.9L785.3 1650.2L788.7 1652.5L792.0 1654.9L795.4 1657.3L798.8 1659.7L802.2 1662.2L805.6 1664.7L809.0 1667.1L812.3 1669.6L815.7 1672.1L819.1 1674.6L822.4 1677.2L825.8 1679.8L829.2 1682.4L832.6 1685.0L836.0 1687.6L839.4 1690.2L842.8 1692.8L846.2 1695.4L849.7 1698.0L853.1 1700.6L856.6 1703.1L860.1 1705.7L863.5 1708.3L866.9 1710.8L870.4 1713.4L873.7 1715.9L877.0 1718.4L880.3 1720.8L883.5 1723.2L886.6 1725.7L889.7 1728.1L892.8 1730.4L895.9 1732.8L898.9 1735.1L901.9 1737.5L904.9 1739.8L907.9 1742.1L910.9 1744.4L913.9 1746.8L917.2 1749.2L920.5 1751.8L923.8 1754.4L927.1 1756.9L930.2 1759.2L933.1 1761.4L935.7 1763.4L937.8 1765.1L939.5 1766.4L947.8 1755.6L946.1 1754.3L943.9 1752.6L941.4 1750.6L938.5 1748.4L935.4 1746.1L932.1 1743.6L928.8 1741.0L925.5 1738.5L922.2 1736.0L919.1 1733.6L916.2 1731.3L913.2 1729.0L910.2 1726.7L907.2 1724.4L904.2 1722.0L901.1 1719.7L898.0 1717.3L894.9 1714.9L891.7 1712.4L888.5 1710.0L885.2 1707.5L881.9 1705.0L878.5 1702.4L875.1 1699.9L871.7 1697.3L868.3 1694.7L864.8 1692.1L861.4 1689.6L858.0 1687.0L854.6 1684.4L851.2 1681.8L847.8 1679.2L844.5 1676.6L841.1 1674.0L837.7 1671.4L834.3 1668.7L830.9 1666.1L827.5 1663.5L824.1 1660.9L820.7 1658.4L817.3 1655.9L813.8 1653.3L810.4 1650.8L807.0 1648.4L803.6 1645.9L800.2 1643.4L796.7 1641.0L793.3 1638.6L789.9 1636.3L786.4 1633.9L783.0 1631.7L779.5 1629.4L776.1 1627.2L772.7 1625.1L769.2 1623.0L765.8 1620.9L762.4 1618.8L759.0 1616.8L755.6 1614.7L752.2 1612.7L748.7 1610.7L745.2 1608.7L741.7 1606.7L738.2 1604.8L734.7 1602.8L731.2 1600.9L727.8 1599.1L724.4 1597.3L721.1 1595.5L717.8 1593.8L714.6 1592.2L711.5 1590.6L708.4 1589.0L705.3 1587.5L702.2 1586.1L699.2 1584.6L696.3 1583.3L693.3 1582.0L690.4 1580.7L687.6 1579.5L684.8 1578.4L682.1 1577.4L679.4 1576.5L676.8 1575.6L674.3 1574.8L671.7 1574.0L669.3 1573.3L666.8 1572.6L664.3 1571.9L661.9 1571.2L659.4 1570.5L657.0 1569.8L654.6 1569.1L652.2 1568.4L649.7 1567.7L647.2 1567.1L644.6 1566.4L641.8 1565.9L639.0 1565.3L636.0 1564.8L632.9 1564.4L629.7 1564.0L626.4 1563.6L623.0 1563.3L619.5 1563.1L616.0 1562.8L612.5 1562.6L609.0 1562.4L605.5 1562.3L602.1 1562.2L598.6 1562.1L595.2 1562.1L591.7 1562.1L588.2 1562.2L584.8 1562.3L581.3 1562.4L577.9 1562.6L574.4 1562.7L571.0 1562.9L567.5 1563.1L564.1 1563.3L560.6 1563.6L557.1 1563.8L553.6 1564.1L550.2 1564.4L546.7 1564.7L543.3 1565.1L539.9 1565.4L536.6 1565.8L533.3 1566.1L530.2 1566.5L527.3 1566.8L524.5 1567.2L521.8 1567.5L519.1 1567.9L516.2 1568.3L513.3 1568.7L510.1 1569.2L506.6 1569.8L502.7 1570.4L498.4 1571.1L493.8 1571.8L488.9 1572.7L483.8 1573.5L478.5 1574.4L473.1 1575.4L467.6 1576.4L462.2 1577.4L456.8 1578.4L451.6 1579.4L446.4 1580.5L441.3 1581.6L436.1 1582.8L431.0 1584.0L425.9 1585.1L420.9 1586.3L415.8 1587.5L410.8 1588.6L405.7 1589.7L400.7 1590.7L395.6 1591.7L390.2 1592.7L384.8 1593.6L379.4 1594.6L374.0 1595.5L368.7 1596.3L363.6 1597.2L358.7 1597.9L354.2 1598.6L350.0 1599.2L346.4 1599.7L343.1 1600.2L340.2 1600.5L337.6 1600.8L335.1 1601.0L332.7 1601.3L330.3 1601.5L327.7 1601.7L325.0 1601.9L322.0 1602.2L318.8 1602.6L315.7 1602.9L312.5 1603.2L309.2 1603.6L305.9 1603.9L302.5 1604.2L299.0 1604.6L295.5 1604.9L291.9 1605.2L288.2 1605.5L284.3 1605.7L280.2 1606.0L275.9 1606.3L271.5 1606.5L267.1 1606.8L262.7 1607.0L258.3 1607.2L254.0 1607.4L249.9 1607.6L246.0 1607.7L242.3 1607.8L238.7 1608.0L235.2 1608.1L231.9 1608.2L228.6 1608.2L225.4 1608.3L222.2 1608.3L219.0 1608.3L215.8 1608.2L212.4 1608.1L209.0 1608.0L205.6 1607.8L202.1 1607.6L198.6 1607.3L195.1 1607.1L191.7 1606.7L188.3 1606.4L184.9 1605.9L181.7 1605.4L178.5 1604.9L175.4 1604.3L172.5 1603.6L169.5 1602.9L166.6 1602.1L163.8 1601.2L160.9 1600.3L157.9 1599.3L155.0 1598.3L151.9 1597.3L148.8 1596.3L145.7 1595.2L142.5 1594.1L139.3 1593.0L136.1 1591.9L132.9 1590.7L129.7 1589.5L126.5 1588.3L123.3 1587.0L120.1 1585.7L117.0 1584.3L113.9 1582.9L110.7 1581.3L107.4 1579.7L104.1 1578.0L100.8 1576.2L97.6 1574.5L94.5 1572.8L91.4 1571.1L88.6 1569.5L85.9 1568.1L83.5 1566.8L81.3 1565.7L79.4 1564.6L77.7 1563.7L76.0 1562.8L74.4 1562.0L72.7 1561.0L70.9 1559.9L68.9 1558.7L66.7 1557.3L64.2 1555.7L61.6 1553.9L58.8 1552.0L55.9 1550.0L52.9 1547.9L49.8 1545.7L46.6 1543.5L43.4 1541.3L40.3 1539.1L37.1 1537.0L33.8 1534.8L30.2 1532.4L26.5 1529.9L22.7 1527.5L18.9 1525.0L15.3 1522.6L11.9 1520.5L8.9 1518.5L6.4 1516.9L4.5 1515.6Z" fill="#909397"/>
<clipPath id="cc3"><path d="M497.8 1301.2C508.1 1300.7 513.2 1301.2 521.0 1302.6C528.8 1304.0 537.9 1306.4 544.4 1309.6C550.9 1312.8 556.0 1317.3 559.9 1322.0C563.8 1326.7 565.7 1331.0 567.6 1337.5C569.5 1344.0 570.9 1353.0 571.5 1360.8C572.1 1368.6 571.9 1376.2 571.5 1384.1C571.1 1392.0 570.9 1397.3 569.4 1408.2C567.9 1419.1 565.0 1438.5 562.5 1449.2C560.0 1459.9 557.8 1464.9 554.5 1472.2C551.2 1479.5 548.7 1485.4 543.0 1493.2C537.3 1501.0 526.4 1512.3 520.5 1519.0C514.6 1525.7 512.4 1528.2 507.5 1533.2C502.6 1538.2 497.6 1543.6 491.0 1549.2C484.4 1554.8 475.5 1562.1 467.8 1566.8C460.1 1571.5 452.4 1574.8 444.6 1577.2C436.9 1579.6 429.1 1580.3 421.3 1581.0C413.5 1581.7 408.2 1582.2 398.0 1581.3C387.8 1580.5 370.2 1578.2 360.0 1575.9C349.8 1573.7 344.7 1571.6 337.0 1567.8C329.3 1564.0 320.8 1559.2 314.0 1552.9C307.2 1546.6 300.7 1537.6 296.5 1529.9C292.3 1522.2 290.6 1516.4 288.7 1506.8C286.8 1497.2 286.0 1483.7 285.3 1472.2C284.6 1460.7 284.0 1447.5 284.7 1437.7C285.4 1427.9 287.3 1421.5 289.7 1413.2C292.1 1404.9 294.9 1396.4 299.0 1387.9C303.1 1379.4 309.3 1369.2 314.5 1362.2C319.7 1355.2 324.8 1350.4 330.0 1346.0C335.2 1341.6 339.1 1339.2 345.6 1336.0C352.1 1332.8 361.2 1329.3 368.9 1326.6C376.6 1323.9 384.2 1321.8 392.0 1319.7C399.8 1317.6 409.4 1315.5 415.4 1314.2C421.4 1312.9 420.7 1313.3 428.0 1311.9C435.3 1310.5 447.4 1307.5 459.0 1305.7C470.6 1303.9 487.5 1301.7 497.8 1301.2Z"/></clipPath><clipPath id="cn3"><path d="M451.3 1361.6C459.1 1361.7 466.8 1362.4 474.5 1363.9C482.2 1365.5 490.7 1368.1 497.8 1370.9C504.9 1373.7 511.4 1377.2 517.2 1380.9C523.0 1384.7 529.0 1389.2 532.7 1393.4C536.4 1397.6 538.0 1400.7 539.5 1406.2C541.0 1411.7 542.0 1419.0 542.0 1426.2C542.0 1433.4 541.5 1441.5 539.6 1449.2C537.7 1456.9 534.4 1465.5 530.4 1472.2C526.4 1478.9 522.1 1484.2 515.4 1489.6C508.7 1495.0 500.0 1500.5 490.0 1504.5C480.0 1508.5 466.1 1511.6 455.6 1513.7C445.1 1515.8 434.1 1516.7 426.8 1517.2C419.5 1517.7 419.3 1517.4 412.0 1516.6C404.7 1515.8 391.7 1514.6 383.0 1512.6C374.3 1510.6 367.3 1508.3 360.0 1504.5C352.7 1500.7 344.6 1495.0 339.4 1489.6C334.2 1484.2 331.5 1478.9 329.0 1472.2C326.5 1465.5 324.6 1456.9 324.4 1449.2C324.1 1441.5 325.6 1432.9 327.5 1426.2C329.4 1419.5 332.7 1414.3 336.0 1409.2C339.3 1404.1 343.3 1400.0 347.5 1395.7C351.7 1391.4 356.1 1386.8 361.0 1383.2C365.9 1379.6 370.1 1376.6 376.6 1374.0C383.1 1371.4 391.3 1369.6 399.9 1367.8C408.5 1366.1 419.4 1364.5 428.0 1363.5C436.6 1362.5 443.6 1361.5 451.3 1361.6Z"/></clipPath>
<path d="M497.8 1301.2C508.1 1300.7 513.2 1301.2 521.0 1302.6C528.8 1304.0 537.9 1306.4 544.4 1309.6C550.9 1312.8 556.0 1317.3 559.9 1322.0C563.8 1326.7 565.7 1331.0 567.6 1337.5C569.5 1344.0 570.9 1353.0 571.5 1360.8C572.1 1368.6 571.9 1376.2 571.5 1384.1C571.1 1392.0 570.9 1397.3 569.4 1408.2C567.9 1419.1 565.0 1438.5 562.5 1449.2C560.0 1459.9 557.8 1464.9 554.5 1472.2C551.2 1479.5 548.7 1485.4 543.0 1493.2C537.3 1501.0 526.4 1512.3 520.5 1519.0C514.6 1525.7 512.4 1528.2 507.5 1533.2C502.6 1538.2 497.6 1543.6 491.0 1549.2C484.4 1554.8 475.5 1562.1 467.8 1566.8C460.1 1571.5 452.4 1574.8 444.6 1577.2C436.9 1579.6 429.1 1580.3 421.3 1581.0C413.5 1581.7 408.2 1582.2 398.0 1581.3C387.8 1580.5 370.2 1578.2 360.0 1575.9C349.8 1573.7 344.7 1571.6 337.0 1567.8C329.3 1564.0 320.8 1559.2 314.0 1552.9C307.2 1546.6 300.7 1537.6 296.5 1529.9C292.3 1522.2 290.6 1516.4 288.7 1506.8C286.8 1497.2 286.0 1483.7 285.3 1472.2C284.6 1460.7 284.0 1447.5 284.7 1437.7C285.4 1427.9 287.3 1421.5 289.7 1413.2C292.1 1404.9 294.9 1396.4 299.0 1387.9C303.1 1379.4 309.3 1369.2 314.5 1362.2C319.7 1355.2 324.8 1350.4 330.0 1346.0C335.2 1341.6 339.1 1339.2 345.6 1336.0C352.1 1332.8 361.2 1329.3 368.9 1326.6C376.6 1323.9 384.2 1321.8 392.0 1319.7C399.8 1317.6 409.4 1315.5 415.4 1314.2C421.4 1312.9 420.7 1313.3 428.0 1311.9C435.3 1310.5 447.4 1307.5 459.0 1305.7C470.6 1303.9 487.5 1301.7 497.8 1301.2Z" fill="#1a3a92"/>
<g clip-path="url(#cc3)" opacity="0.55"><rect x="281" y="1297" width="295" height="288" filter="url(#mot)"/><rect x="281" y="1297" width="295" height="288" filter="url(#motd)"/></g>
<path d="M497.8 1301.2C508.1 1300.7 513.2 1301.2 521.0 1302.6C528.8 1304.0 537.9 1306.4 544.4 1309.6C550.9 1312.8 556.0 1317.3 559.9 1322.0C563.8 1326.7 565.7 1331.0 567.6 1337.5C569.5 1344.0 570.9 1353.0 571.5 1360.8C572.1 1368.6 571.9 1376.2 571.5 1384.1C571.1 1392.0 570.9 1397.3 569.4 1408.2C567.9 1419.1 565.0 1438.5 562.5 1449.2C560.0 1459.9 557.8 1464.9 554.5 1472.2C551.2 1479.5 548.7 1485.4 543.0 1493.2C537.3 1501.0 526.4 1512.3 520.5 1519.0C514.6 1525.7 512.4 1528.2 507.5 1533.2C502.6 1538.2 497.6 1543.6 491.0 1549.2C484.4 1554.8 475.5 1562.1 467.8 1566.8C460.1 1571.5 452.4 1574.8 444.6 1577.2C436.9 1579.6 429.1 1580.3 421.3 1581.0C413.5 1581.7 408.2 1582.2 398.0 1581.3C387.8 1580.5 370.2 1578.2 360.0 1575.9C349.8 1573.7 344.7 1571.6 337.0 1567.8C329.3 1564.0 320.8 1559.2 314.0 1552.9C307.2 1546.6 300.7 1537.6 296.5 1529.9C292.3 1522.2 290.6 1516.4 288.7 1506.8C286.8 1497.2 286.0 1483.7 285.3 1472.2C284.6 1460.7 284.0 1447.5 284.7 1437.7C285.4 1427.9 287.3 1421.5 289.7 1413.2C292.1 1404.9 294.9 1396.4 299.0 1387.9C303.1 1379.4 309.3 1369.2 314.5 1362.2C319.7 1355.2 324.8 1350.4 330.0 1346.0C335.2 1341.6 339.1 1339.2 345.6 1336.0C352.1 1332.8 361.2 1329.3 368.9 1326.6C376.6 1323.9 384.2 1321.8 392.0 1319.7C399.8 1317.6 409.4 1315.5 415.4 1314.2C421.4 1312.9 420.7 1313.3 428.0 1311.9C435.3 1310.5 447.4 1307.5 459.0 1305.7C470.6 1303.9 487.5 1301.7 497.8 1301.2Z" fill="none" stroke="#070e3a" stroke-width="3.2"/>
<path d="M451.3 1361.6C459.1 1361.7 466.8 1362.4 474.5 1363.9C482.2 1365.5 490.7 1368.1 497.8 1370.9C504.9 1373.7 511.4 1377.2 517.2 1380.9C523.0 1384.7 529.0 1389.2 532.7 1393.4C536.4 1397.6 538.0 1400.7 539.5 1406.2C541.0 1411.7 542.0 1419.0 542.0 1426.2C542.0 1433.4 541.5 1441.5 539.6 1449.2C537.7 1456.9 534.4 1465.5 530.4 1472.2C526.4 1478.9 522.1 1484.2 515.4 1489.6C508.7 1495.0 500.0 1500.5 490.0 1504.5C480.0 1508.5 466.1 1511.6 455.6 1513.7C445.1 1515.8 434.1 1516.7 426.8 1517.2C419.5 1517.7 419.3 1517.4 412.0 1516.6C404.7 1515.8 391.7 1514.6 383.0 1512.6C374.3 1510.6 367.3 1508.3 360.0 1504.5C352.7 1500.7 344.6 1495.0 339.4 1489.6C334.2 1484.2 331.5 1478.9 329.0 1472.2C326.5 1465.5 324.6 1456.9 324.4 1449.2C324.1 1441.5 325.6 1432.9 327.5 1426.2C329.4 1419.5 332.7 1414.3 336.0 1409.2C339.3 1404.1 343.3 1400.0 347.5 1395.7C351.7 1391.4 356.1 1386.8 361.0 1383.2C365.9 1379.6 370.1 1376.6 376.6 1374.0C383.1 1371.4 391.3 1369.6 399.9 1367.8C408.5 1366.1 419.4 1364.5 428.0 1363.5C436.6 1362.5 443.6 1361.5 451.3 1361.6Z" fill="#5b76ba"/>
<g clip-path="url(#cn3)"><rect x="320" y="1358" width="226" height="164" filter="url(#mot2)" opacity="0.60"/><path d="M451.3 1361.6C459.1 1361.7 466.8 1362.4 474.5 1363.9C482.2 1365.5 490.7 1368.1 497.8 1370.9C504.9 1373.7 511.4 1377.2 517.2 1380.9C523.0 1384.7 529.0 1389.2 532.7 1393.4C536.4 1397.6 538.0 1400.7 539.5 1406.2C541.0 1411.7 542.0 1419.0 542.0 1426.2C542.0 1433.4 541.5 1441.5 539.6 1449.2C537.7 1456.9 534.4 1465.5 530.4 1472.2C526.4 1478.9 522.1 1484.2 515.4 1489.6C508.7 1495.0 500.0 1500.5 490.0 1504.5C480.0 1508.5 466.1 1511.6 455.6 1513.7C445.1 1515.8 434.1 1516.7 426.8 1517.2C419.5 1517.7 419.3 1517.4 412.0 1516.6C404.7 1515.8 391.7 1514.6 383.0 1512.6C374.3 1510.6 367.3 1508.3 360.0 1504.5C352.7 1500.7 344.6 1495.0 339.4 1489.6C334.2 1484.2 331.5 1478.9 329.0 1472.2C326.5 1465.5 324.6 1456.9 324.4 1449.2C324.1 1441.5 325.6 1432.9 327.5 1426.2C329.4 1419.5 332.7 1414.3 336.0 1409.2C339.3 1404.1 343.3 1400.0 347.5 1395.7C351.7 1391.4 356.1 1386.8 361.0 1383.2C365.9 1379.6 370.1 1376.6 376.6 1374.0C383.1 1371.4 391.3 1369.6 399.9 1367.8C408.5 1366.1 419.4 1364.5 428.0 1363.5C436.6 1362.5 443.6 1361.5 451.3 1361.6Z" fill="none" stroke="#86a0da" stroke-width="9" opacity="0.45" filter="url(#blur2)"/></g>
<path d="M451.3 1361.6C459.1 1361.7 466.8 1362.4 474.5 1363.9C482.2 1365.5 490.7 1368.1 497.8 1370.9C504.9 1373.7 511.4 1377.2 517.2 1380.9C523.0 1384.7 529.0 1389.2 532.7 1393.4C536.4 1397.6 538.0 1400.7 539.5 1406.2C541.0 1411.7 542.0 1419.0 542.0 1426.2C542.0 1433.4 541.5 1441.5 539.6 1449.2C537.7 1456.9 534.4 1465.5 530.4 1472.2C526.4 1478.9 522.1 1484.2 515.4 1489.6C508.7 1495.0 500.0 1500.5 490.0 1504.5C480.0 1508.5 466.1 1511.6 455.6 1513.7C445.1 1515.8 434.1 1516.7 426.8 1517.2C419.5 1517.7 419.3 1517.4 412.0 1516.6C404.7 1515.8 391.7 1514.6 383.0 1512.6C374.3 1510.6 367.3 1508.3 360.0 1504.5C352.7 1500.7 344.6 1495.0 339.4 1489.6C334.2 1484.2 331.5 1478.9 329.0 1472.2C326.5 1465.5 324.6 1456.9 324.4 1449.2C324.1 1441.5 325.6 1432.9 327.5 1426.2C329.4 1419.5 332.7 1414.3 336.0 1409.2C339.3 1404.1 343.3 1400.0 347.5 1395.7C351.7 1391.4 356.1 1386.8 361.0 1383.2C365.9 1379.6 370.1 1376.6 376.6 1374.0C383.1 1371.4 391.3 1369.6 399.9 1367.8C408.5 1366.1 419.4 1364.5 428.0 1363.5C436.6 1362.5 443.6 1361.5 451.3 1361.6Z" fill="none" stroke="#0b1344" stroke-width="2.6"/>
<circle cx="193.5" cy="1211.8" r="25.7" fill="#f28c1f" stroke="#cf7410" stroke-width="1.6"/>
<circle cx="721.1" cy="1226.3" r="25.2" fill="#f28c1f" stroke="#cf7410" stroke-width="1.6"/>
<circle cx="92.0" cy="1399.7" r="25.2" fill="#f28c1f" stroke="#cf7410" stroke-width="1.6"/>
<circle cx="756.4" cy="1413.6" r="25.3" fill="#f28c1f" stroke="#cf7410" stroke-width="1.6"/>
<circle cx="230.0" cy="1508.0" r="25.5" fill="#f28c1f" stroke="#cf7410" stroke-width="1.6"/>
<circle cx="619.5" cy="1499.8" r="25.6" fill="#f28c1f" stroke="#cf7410" stroke-width="1.6"/>
<path d="M266.7 1605.2L269.4 1608.6L272.1 1612.0L274.8 1615.4L277.5 1618.8L280.2 1622.2L282.9 1625.5L285.6 1628.9L288.3 1632.3L292.4 1629.1L289.7 1625.7L287.0 1622.3L284.3 1618.9L281.6 1615.5L278.9 1612.1L276.2 1608.8L273.5 1605.4L270.8 1602.0 Z" fill="#2d2f31" stroke="#2d2f31" stroke-width="4.4" stroke-linejoin="round"/>
<path d="M310.2 1656.5L313.8 1658.9L317.5 1661.3L321.0 1663.8L324.5 1666.4L328.0 1669.1L331.4 1671.8L334.7 1674.6L338.0 1677.5L341.5 1673.6L338.1 1670.7L334.7 1667.8L331.2 1665.0L327.7 1662.3L324.1 1659.6L320.4 1657.0L316.7 1654.5L312.9 1652.1 Z" fill="#2d2f31" stroke="#2d2f31" stroke-width="4.4" stroke-linejoin="round"/>
<path d="M366.5 1695.8L370.4 1697.0L374.3 1698.3L378.1 1699.7L381.8 1701.3L385.5 1702.9L389.2 1704.7L392.8 1706.6L396.4 1708.6L399.0 1704.1L395.3 1702.0L391.5 1700.1L387.7 1698.2L383.9 1696.5L380.0 1694.9L376.0 1693.4L372.0 1692.0L368.0 1690.8 Z" fill="#2d2f31" stroke="#2d2f31" stroke-width="4.4" stroke-linejoin="round"/>
<path d="M431.4 1707.7L435.1 1706.0L438.8 1704.5L442.5 1703.1L446.3 1701.8L450.2 1700.6L454.0 1699.6L458.0 1698.7L461.9 1697.8L460.9 1692.7L456.8 1693.6L452.8 1694.6L448.7 1695.7L444.7 1696.9L440.8 1698.2L436.9 1699.7L433.0 1701.3L429.2 1703.0 Z" fill="#2d2f31" stroke="#2d2f31" stroke-width="4.4" stroke-linejoin="round"/>
<path d="M512.7 1678.1L514.6 1677.2L516.5 1676.3L518.5 1675.6L520.5 1674.8L522.4 1674.2L524.4 1673.5L526.5 1673.0L528.5 1672.5L527.3 1667.4L525.2 1667.9L523.0 1668.5L520.8 1669.2L518.7 1669.9L516.6 1670.7L514.5 1671.6L512.5 1672.5L510.4 1673.4 Z" fill="#2d2f31" stroke="#2d2f31" stroke-width="4.4" stroke-linejoin="round"/>
<path d="M558.6 1664.9L562.9 1665.1L567.2 1665.2L571.5 1665.2L575.7 1665.1L580.0 1664.8L584.2 1664.4L588.5 1663.9L592.7 1663.3L591.9 1658.1L587.8 1658.8L583.7 1659.3L579.6 1659.6L575.5 1659.9L571.4 1660.0L567.2 1660.0L563.1 1659.9L559.0 1659.7 Z" fill="#2d2f31" stroke="#2d2f31" stroke-width="4.4" stroke-linejoin="round"/>
<path d="M628.3 1670.6L632.1 1672.6L635.9 1674.4L639.8 1676.2L643.7 1677.8L647.7 1679.3L651.7 1680.7L655.8 1682.0L659.9 1683.1L661.2 1678.1L657.3 1677.0L653.3 1675.7L649.5 1674.4L645.6 1673.0L641.9 1671.4L638.1 1669.7L634.4 1667.9L630.8 1666.0 Z" fill="#2d2f31" stroke="#2d2f31" stroke-width="4.4" stroke-linejoin="round"/>
<path d="M687.2 1697.0L691.0 1699.1L694.8 1701.1L698.5 1703.1L702.3 1705.1L706.1 1707.2L709.9 1709.2L713.7 1711.2L717.4 1713.3L719.9 1708.7L716.1 1706.6L712.3 1704.6L708.6 1702.6L704.8 1700.6L701.0 1698.5L697.2 1696.5L693.4 1694.5L689.7 1692.4 Z" fill="#2d2f31" stroke="#2d2f31" stroke-width="4.4" stroke-linejoin="round"/>
<polygon points="229.7,1564.6 282.0,1583.4 246.0,1615.6" fill="#27292b" stroke="#27292b" stroke-width="2" stroke-linejoin="round"/>
<circle cx="260.6" cy="1679.9" r="25.5" fill="#f28c1f" stroke="#cf7410" stroke-width="1.6"/>
<circle cx="485.0" cy="1672.8" r="24.7" fill="#f28c1f" stroke="#cf7410" stroke-width="1.6"/>
<circle cx="757.0" cy="1724.0" r="26.0" fill="#f28c1f" stroke="#cf7410" stroke-width="1.6"/>
</g>
<g id="p4">
<ellipse cx="1905" cy="1744" rx="210" ry="22" fill="url(#botg)"/>
<path d="M1078.8 1201.4L1081.0 1202.7L1083.9 1204.5L1087.3 1206.5L1091.1 1208.8L1095.2 1211.2L1099.4 1213.8L1103.7 1216.4L1107.9 1218.9L1112.0 1221.4L1115.7 1223.7L1119.2 1225.9L1122.7 1228.1L1126.2 1230.2L1129.5 1232.2L1132.8 1234.3L1136.1 1236.3L1139.3 1238.4L1142.5 1240.6L1145.6 1242.9L1148.8 1245.2L1152.2 1247.8L1155.5 1250.5L1159.0 1253.2L1162.4 1256.1L1165.8 1259.0L1169.2 1261.9L1172.4 1264.9L1175.6 1267.8L1178.6 1270.8L1181.5 1273.7L1184.3 1276.7L1187.0 1279.7L1189.7 1282.7L1192.2 1285.7L1194.7 1288.8L1197.1 1291.9L1199.4 1295.0L1201.7 1298.1L1203.8 1301.2L1205.9 1304.3L1207.8 1307.4L1209.6 1310.5L1211.4 1313.7L1213.1 1316.9L1214.7 1320.1L1216.3 1323.3L1217.8 1326.6L1219.2 1329.9L1220.7 1333.2L1222.0 1336.5L1223.3 1339.7L1224.6 1343.0L1225.8 1346.4L1226.9 1349.8L1228.0 1353.1L1229.0 1356.5L1230.0 1359.8L1230.9 1363.0L1231.8 1366.2L1232.6 1369.2L1233.3 1372.0L1234.0 1374.7L1234.6 1377.2L1235.1 1379.7L1235.6 1382.0L1236.0 1384.4L1236.4 1386.8L1236.8 1389.1L1237.1 1391.6L1237.4 1394.1L1237.7 1396.6L1238.0 1399.2L1238.2 1401.7L1238.4 1404.3L1238.5 1406.9L1238.7 1409.5L1238.8 1412.2L1238.9 1414.8L1238.9 1417.5L1239.0 1420.1L1239.0 1422.7L1238.9 1425.2L1238.9 1427.8L1238.8 1430.3L1238.7 1432.9L1238.6 1435.5L1238.5 1438.2L1238.3 1440.9L1238.2 1443.8L1238.0 1446.8L1237.8 1449.8L1237.5 1452.9L1237.2 1456.2L1236.8 1459.6L1236.5 1463.0L1236.1 1466.6L1235.8 1470.2L1235.5 1473.9L1235.2 1477.7L1235.0 1481.4L1234.8 1485.2L1234.6 1489.0L1234.5 1492.9L1234.4 1496.8L1234.3 1500.8L1234.2 1504.7L1234.2 1508.6L1234.1 1512.5L1234.1 1516.3L1234.2 1520.1L1234.2 1523.8L1234.3 1527.6L1234.3 1531.3L1234.5 1535.0L1234.6 1538.7L1234.7 1542.3L1234.9 1545.9L1235.1 1549.3L1235.3 1552.5L1235.5 1555.7L1235.7 1558.7L1235.9 1561.5L1236.1 1564.1L1236.4 1566.7L1236.7 1569.1L1236.9 1571.5L1237.2 1573.9L1237.5 1576.3L1237.8 1578.7L1238.1 1581.3L1238.5 1584.0L1238.9 1586.7L1239.2 1589.5L1239.6 1592.3L1240.0 1595.2L1240.5 1598.1L1240.9 1600.9L1241.4 1603.8L1241.8 1606.7L1242.3 1609.6L1242.7 1612.4L1243.2 1615.3L1243.7 1618.1L1244.1 1621.0L1244.6 1624.0L1245.1 1626.9L1245.7 1629.9L1246.3 1633.0L1246.9 1636.1L1247.6 1639.2L1248.4 1642.4L1249.2 1645.6L1250.1 1648.8L1250.9 1652.0L1251.9 1655.2L1252.8 1658.5L1253.7 1661.6L1254.7 1664.8L1255.6 1667.9L1256.6 1670.9L1257.5 1673.9L1258.5 1676.7L1259.4 1679.4L1260.4 1682.0L1261.3 1684.6L1262.3 1687.2L1263.3 1689.9L1264.3 1692.7L1265.3 1695.7L1266.4 1698.9L1267.5 1702.5L1268.7 1706.4L1270.0 1710.6L1271.3 1715.0L1272.7 1719.5L1274.0 1723.9L1275.3 1728.2L1276.6 1732.4L1277.7 1736.3L1278.8 1739.8L1279.9 1743.1L1280.9 1746.3L1281.8 1749.4L1282.8 1752.3L1283.6 1755.0L1284.5 1757.5L1285.2 1759.8L1285.9 1761.8L1286.4 1763.5L1286.9 1764.9L1305.1 1759.1L1304.7 1757.6L1304.1 1755.9L1303.5 1753.9L1302.7 1751.6L1301.9 1749.1L1301.0 1746.4L1300.1 1743.5L1299.2 1740.5L1298.2 1737.4L1297.2 1734.2L1296.1 1730.7L1294.9 1726.8L1293.7 1722.7L1292.4 1718.4L1291.0 1713.9L1289.7 1709.5L1288.4 1705.1L1287.1 1700.8L1285.8 1696.8L1284.6 1693.1L1283.6 1689.7L1282.5 1686.5L1281.5 1683.6L1280.6 1680.8L1279.7 1678.1L1278.8 1675.6L1277.9 1673.0L1277.1 1670.5L1276.3 1667.9L1275.4 1665.1L1274.5 1662.2L1273.7 1659.1L1272.8 1656.1L1271.9 1653.0L1271.1 1649.9L1270.3 1646.8L1269.5 1643.7L1268.7 1640.7L1268.0 1637.7L1267.4 1634.8L1266.8 1631.9L1266.2 1629.1L1265.7 1626.3L1265.2 1623.5L1264.8 1620.7L1264.4 1617.8L1264.0 1615.0L1263.6 1612.2L1263.1 1609.3L1262.7 1606.4L1262.3 1603.6L1261.9 1600.8L1261.5 1597.9L1261.1 1595.1L1260.8 1592.3L1260.4 1589.5L1260.0 1586.8L1259.7 1584.0L1259.4 1581.4L1259.1 1578.7L1258.8 1576.1L1258.4 1573.7L1258.2 1571.3L1257.9 1569.0L1257.6 1566.8L1257.4 1564.5L1257.1 1562.2L1256.9 1559.7L1256.7 1557.1L1256.5 1554.3L1256.3 1551.3L1256.2 1548.1L1256.0 1544.8L1255.8 1541.4L1255.7 1537.9L1255.6 1534.3L1255.4 1530.7L1255.4 1527.1L1255.3 1523.5L1255.2 1519.9L1255.2 1516.3L1255.2 1512.6L1255.3 1508.8L1255.3 1505.0L1255.4 1501.2L1255.5 1497.4L1255.6 1493.6L1255.7 1489.8L1255.9 1486.1L1256.0 1482.6L1256.2 1479.1L1256.5 1475.6L1256.8 1472.1L1257.1 1468.6L1257.5 1465.1L1257.8 1461.7L1258.2 1458.2L1258.5 1454.8L1258.8 1451.5L1259.0 1448.2L1259.2 1445.1L1259.4 1442.2L1259.6 1439.3L1259.7 1436.5L1259.8 1433.7L1259.9 1431.0L1260.0 1428.2L1260.0 1425.5L1260.1 1422.7L1260.0 1419.9L1260.0 1417.1L1259.9 1414.3L1259.9 1411.4L1259.8 1408.6L1259.6 1405.7L1259.4 1402.9L1259.2 1400.0L1259.0 1397.2L1258.7 1394.3L1258.4 1391.5L1258.0 1388.8L1257.6 1386.1L1257.2 1383.4L1256.8 1380.8L1256.3 1378.1L1255.8 1375.4L1255.2 1372.6L1254.5 1369.8L1253.8 1366.8L1253.0 1363.8L1252.1 1360.6L1251.2 1357.3L1250.3 1353.9L1249.2 1350.4L1248.1 1346.8L1246.9 1343.2L1245.7 1339.5L1244.4 1335.8L1243.0 1332.1L1241.6 1328.5L1240.1 1325.0L1238.6 1321.5L1237.0 1317.9L1235.4 1314.4L1233.7 1310.8L1231.9 1307.2L1230.0 1303.6L1228.0 1300.0L1225.9 1296.4L1223.7 1292.9L1221.5 1289.4L1219.1 1285.9L1216.7 1282.5L1214.1 1279.0L1211.5 1275.6L1208.8 1272.2L1206.0 1268.8L1203.1 1265.5L1200.1 1262.1L1197.1 1258.9L1193.9 1255.6L1190.5 1252.3L1187.1 1249.0L1183.5 1245.8L1180.0 1242.7L1176.3 1239.5L1172.7 1236.5L1169.1 1233.6L1165.5 1230.7L1162.0 1228.0L1158.4 1225.3L1154.8 1222.8L1151.3 1220.4L1147.8 1218.1L1144.4 1215.9L1140.9 1213.8L1137.5 1211.7L1134.1 1209.6L1130.6 1207.5L1127.1 1205.3L1123.4 1202.9L1119.3 1200.4L1115.0 1197.8L1110.6 1195.2L1106.4 1192.6L1102.3 1190.2L1098.4 1187.9L1095.1 1185.8L1092.2 1184.1L1090.0 1182.8Z M1152.5 1595.9L1154.0 1593.8L1155.8 1591.3L1158.1 1588.2L1160.6 1584.8L1163.3 1581.1L1166.2 1577.2L1169.2 1573.1L1172.3 1568.9L1175.3 1564.7L1178.3 1560.5L1181.4 1556.2L1184.5 1551.8L1187.8 1547.2L1191.2 1542.4L1194.6 1537.6L1198.1 1532.7L1201.5 1527.8L1204.9 1523.0L1208.2 1518.3L1211.5 1513.7L1214.7 1509.2L1217.9 1504.7L1221.1 1500.2L1224.2 1495.7L1227.4 1491.2L1230.5 1486.9L1233.5 1482.6L1236.5 1478.4L1239.3 1474.3L1242.1 1470.4L1244.7 1466.6L1247.3 1463.1L1249.7 1459.6L1252.0 1456.3L1254.3 1453.0L1256.6 1449.8L1258.8 1446.6L1261.1 1443.4L1263.3 1440.2L1265.6 1436.9L1267.9 1433.5L1270.1 1430.3L1272.2 1427.0L1274.4 1423.8L1276.5 1420.6L1278.7 1417.4L1280.8 1414.2L1283.1 1410.8L1285.4 1407.4L1287.9 1403.9L1290.5 1400.2L1293.1 1396.5L1295.9 1392.6L1298.7 1388.7L1301.5 1384.7L1304.5 1380.7L1307.4 1376.6L1310.4 1372.6L1313.5 1368.4L1316.6 1364.3L1319.8 1360.1L1323.1 1355.7L1326.4 1351.2L1329.8 1346.8L1333.2 1342.3L1336.6 1337.9L1340.0 1333.6L1343.3 1329.4L1346.7 1325.4L1350.0 1321.7L1353.2 1318.0L1356.5 1314.4L1359.7 1311.0L1363.0 1307.6L1366.2 1304.4L1369.5 1301.2L1372.7 1298.2L1376.0 1295.2L1379.3 1292.3L1382.6 1289.6L1385.9 1286.9L1389.4 1284.2L1392.9 1281.6L1396.5 1279.1L1400.1 1276.7L1403.7 1274.4L1407.1 1272.2L1410.5 1270.1L1413.7 1268.3L1416.6 1266.6L1419.3 1265.2L1421.7 1264.0L1424.0 1263.0L1426.2 1262.1L1428.3 1261.3L1430.3 1260.6L1432.5 1260.0L1434.6 1259.4L1436.9 1258.8L1439.3 1258.2L1441.6 1257.6L1443.8 1257.1L1446.0 1256.7L1448.2 1256.3L1450.4 1256.0L1452.7 1255.7L1455.0 1255.4L1457.4 1255.2L1459.9 1255.0L1462.6 1254.8L1465.3 1254.6L1468.2 1254.4L1471.1 1254.3L1474.0 1254.2L1477.0 1254.1L1480.0 1254.1L1482.9 1254.1L1485.8 1254.2L1488.6 1254.4L1491.4 1254.7L1494.1 1255.0L1496.7 1255.4L1499.2 1255.8L1501.7 1256.2L1504.1 1256.8L1506.8 1257.4L1509.5 1258.1L1512.5 1259.0L1515.8 1260.0L1519.4 1261.1L1523.2 1262.3L1527.2 1263.8L1531.5 1265.3L1535.9 1267.0L1540.5 1268.9L1545.4 1270.8L1550.5 1272.7L1555.7 1274.7L1561.2 1276.8L1566.8 1278.8L1572.8 1280.9L1579.3 1283.2L1586.3 1285.6L1593.4 1288.1L1600.7 1290.6L1607.8 1293.0L1614.8 1295.4L1621.3 1297.5L1627.3 1299.4L1632.6 1301.0L1637.2 1302.2L1641.2 1303.2L1644.6 1303.9L1647.7 1304.5L1650.5 1304.8L1653.1 1305.1L1655.5 1305.4L1658.0 1305.6L1660.6 1306.0L1663.5 1306.4L1666.7 1306.8L1670.0 1307.2L1673.3 1307.7L1676.6 1308.1L1680.0 1308.5L1683.5 1308.9L1687.1 1309.4L1690.8 1309.8L1694.8 1310.4L1698.9 1310.9L1703.3 1311.6L1707.8 1312.4L1712.5 1313.2L1717.4 1314.1L1722.4 1314.9L1727.5 1315.8L1732.7 1316.7L1738.1 1317.6L1743.5 1318.5L1748.9 1319.4L1754.5 1320.6L1760.5 1321.9L1766.8 1323.3L1773.2 1324.7L1779.7 1326.1L1786.1 1327.5L1792.4 1328.7L1798.4 1329.8L1804.0 1330.6L1809.2 1331.1L1813.8 1331.3L1817.9 1331.3L1821.7 1331.0L1825.2 1330.4L1828.4 1329.7L1831.3 1328.9L1834.0 1328.0L1836.5 1327.1L1839.0 1326.3L1841.7 1325.5L1844.8 1324.4L1847.9 1323.3L1851.2 1322.1L1854.4 1320.8L1857.8 1319.4L1861.2 1317.8L1864.6 1316.2L1868.1 1314.4L1871.6 1312.5L1875.1 1310.4L1878.6 1308.1L1882.1 1305.8L1885.6 1303.3L1889.2 1300.6L1892.7 1297.9L1896.3 1295.1L1899.9 1292.1L1903.4 1289.1L1906.9 1286.0L1910.5 1282.9L1914.0 1279.6L1917.5 1276.2L1921.0 1272.7L1924.5 1269.1L1927.9 1265.4L1931.4 1261.7L1934.8 1257.9L1938.3 1254.1L1941.7 1250.3L1945.1 1246.5L1948.6 1242.5L1952.1 1238.5L1955.6 1234.4L1959.1 1230.2L1962.6 1226.0L1966.0 1221.7L1969.5 1217.5L1972.8 1213.3L1976.1 1209.2L1979.3 1205.2L1982.6 1201.0L1985.9 1196.5L1989.3 1192.0L1992.7 1187.5L1995.9 1183.1L1999.0 1178.9L2001.8 1175.0L2004.3 1171.5L2006.4 1168.6L2008.1 1166.4L1992.3 1154.8L1990.6 1157.1L1988.5 1160.1L1986.0 1163.5L1983.2 1167.4L1980.1 1171.5L1976.9 1175.9L1973.6 1180.3L1970.3 1184.7L1967.0 1189.0L1963.9 1193.0L1960.7 1197.0L1957.5 1201.0L1954.2 1205.1L1950.8 1209.3L1947.4 1213.4L1944.0 1217.5L1940.5 1221.6L1937.1 1225.6L1933.7 1229.5L1930.3 1233.3L1926.9 1237.1L1923.5 1240.9L1920.2 1244.6L1916.8 1248.2L1913.5 1251.8L1910.1 1255.3L1906.8 1258.7L1903.5 1261.9L1900.2 1265.1L1896.9 1268.1L1893.7 1271.1L1890.3 1274.0L1887.0 1276.8L1883.7 1279.5L1880.4 1282.1L1877.2 1284.7L1873.9 1287.1L1870.7 1289.3L1867.6 1291.4L1864.5 1293.4L1861.5 1295.2L1858.6 1296.9L1855.6 1298.5L1852.7 1299.9L1849.8 1301.3L1846.9 1302.6L1844.0 1303.8L1841.0 1304.9L1838.1 1306.0L1835.1 1307.1L1832.1 1308.4L1829.4 1309.7L1827.0 1310.9L1825.0 1311.9L1823.0 1312.8L1821.1 1313.5L1819.0 1314.1L1816.5 1314.6L1813.5 1315.0L1809.8 1315.1L1805.5 1315.0L1800.4 1314.5L1794.8 1313.8L1788.8 1312.9L1782.4 1311.9L1776.0 1310.8L1769.5 1309.6L1763.1 1308.5L1756.9 1307.5L1751.1 1306.6L1745.6 1305.7L1740.2 1304.7L1734.9 1303.8L1729.7 1303.0L1724.6 1302.1L1719.6 1301.2L1714.7 1300.4L1710.0 1299.6L1705.4 1298.8L1701.1 1298.1L1697.0 1297.2L1693.1 1296.4L1689.4 1295.7L1685.8 1294.9L1682.4 1294.2L1679.1 1293.5L1675.9 1292.8L1672.7 1292.1L1669.5 1291.4L1666.3 1290.6L1663.2 1290.0L1660.4 1289.5L1657.8 1289.0L1655.5 1288.6L1653.2 1288.2L1650.9 1287.7L1648.3 1287.1L1645.3 1286.3L1641.8 1285.3L1637.6 1284.0L1632.6 1282.4L1626.8 1280.6L1620.4 1278.5L1613.5 1276.2L1606.4 1273.8L1599.3 1271.3L1592.1 1268.8L1585.2 1266.4L1578.7 1264.1L1572.8 1262.0L1567.3 1260.0L1562.0 1258.1L1556.9 1256.1L1551.9 1254.2L1547.0 1252.3L1542.3 1250.4L1537.8 1248.7L1533.3 1247.0L1529.1 1245.5L1525.0 1244.1L1521.2 1242.9L1517.7 1241.8L1514.5 1240.8L1511.4 1239.9L1508.4 1239.1L1505.5 1238.4L1502.6 1237.8L1499.7 1237.2L1496.7 1236.8L1493.6 1236.3L1490.3 1235.9L1486.9 1235.7L1483.5 1235.5L1480.2 1235.4L1476.9 1235.4L1473.6 1235.4L1470.4 1235.5L1467.3 1235.6L1464.3 1235.7L1461.4 1235.8L1458.6 1236.0L1455.9 1236.1L1453.2 1236.3L1450.6 1236.6L1447.9 1236.9L1445.3 1237.2L1442.7 1237.6L1440.0 1238.1L1437.4 1238.6L1434.7 1239.2L1432.2 1239.8L1429.7 1240.4L1427.2 1241.1L1424.6 1241.8L1422.0 1242.6L1419.2 1243.6L1416.4 1244.6L1413.5 1245.9L1410.4 1247.3L1407.2 1249.0L1403.8 1250.8L1400.3 1252.8L1396.6 1255.0L1392.9 1257.3L1389.0 1259.7L1385.1 1262.3L1381.2 1265.0L1377.3 1267.8L1373.4 1270.7L1369.6 1273.6L1366.0 1276.6L1362.4 1279.7L1358.8 1282.9L1355.3 1286.2L1351.7 1289.5L1348.2 1293.0L1344.7 1296.5L1341.2 1300.1L1337.7 1303.9L1334.2 1307.7L1330.7 1311.8L1327.1 1316.1L1323.6 1320.5L1320.0 1325.0L1316.5 1329.5L1313.0 1334.1L1309.6 1338.6L1306.3 1343.1L1303.0 1347.5L1299.8 1351.7L1296.7 1355.9L1293.6 1360.1L1290.5 1364.2L1287.5 1368.4L1284.5 1372.4L1281.6 1376.5L1278.8 1380.4L1276.0 1384.3L1273.3 1388.2L1270.7 1391.9L1268.2 1395.5L1265.8 1399.1L1263.5 1402.5L1261.3 1405.8L1259.1 1409.1L1257.0 1412.3L1254.9 1415.5L1252.8 1418.7L1250.6 1421.9L1248.4 1425.1L1246.2 1428.4L1244.0 1431.6L1241.8 1434.8L1239.6 1438.0L1237.4 1441.2L1235.1 1444.5L1232.8 1447.8L1230.4 1451.3L1227.9 1454.9L1225.3 1458.6L1222.6 1462.5L1219.7 1466.6L1216.8 1470.8L1213.7 1475.0L1210.6 1479.4L1207.5 1483.8L1204.3 1488.3L1201.1 1492.8L1197.9 1497.4L1194.7 1501.9L1191.5 1506.5L1188.2 1511.2L1184.8 1516.0L1181.3 1520.9L1177.9 1525.7L1174.5 1530.6L1171.1 1535.3L1167.8 1539.9L1164.7 1544.3L1161.7 1548.5L1158.7 1552.6L1155.7 1556.8L1152.6 1561.0L1149.6 1565.1L1146.8 1569.0L1144.1 1572.7L1141.6 1576.1L1139.3 1579.1L1137.4 1581.7L1135.9 1583.7Z M1721.5 1130.7L1720.6 1132.0L1719.5 1133.6L1718.3 1135.5L1716.9 1137.6L1715.4 1139.9L1713.8 1142.3L1712.1 1144.7L1710.4 1147.2L1708.8 1149.6L1707.2 1151.9L1705.7 1154.1L1704.1 1156.3L1702.4 1158.6L1700.8 1160.9L1699.0 1163.2L1697.3 1165.7L1695.5 1168.1L1693.7 1170.7L1691.9 1173.3L1690.2 1175.9L1688.4 1178.6L1686.6 1181.4L1684.8 1184.3L1683.0 1187.2L1681.3 1190.1L1679.5 1193.0L1677.8 1196.0L1676.1 1198.9L1674.4 1201.7L1672.9 1204.5L1671.4 1207.2L1670.0 1209.8L1668.5 1212.4L1667.1 1215.0L1665.8 1217.6L1664.5 1220.3L1663.2 1222.9L1662.0 1225.5L1660.8 1228.2L1659.7 1230.9L1658.7 1233.6L1657.7 1236.3L1656.8 1239.0L1656.0 1241.7L1655.3 1244.3L1654.6 1247.0L1653.9 1249.6L1653.3 1252.2L1652.8 1254.7L1652.4 1257.2L1652.0 1259.6L1651.6 1262.0L1651.3 1264.3L1651.1 1266.7L1651.0 1269.0L1650.9 1271.3L1650.8 1273.7L1650.9 1276.0L1651.0 1278.4L1651.1 1280.8L1651.4 1283.2L1651.8 1285.7L1652.2 1288.1L1652.7 1290.5L1653.3 1292.8L1653.9 1295.1L1654.5 1297.4L1655.1 1299.6L1655.8 1301.9L1656.4 1304.2L1657.0 1306.5L1657.7 1308.9L1658.3 1311.4L1659.1 1314.0L1659.8 1316.6L1660.6 1319.4L1661.6 1322.1L1662.6 1325.0L1663.7 1327.8L1665.0 1330.7L1666.4 1333.7L1668.0 1336.6L1669.6 1339.5L1671.3 1342.4L1673.0 1345.2L1674.8 1348.1L1676.6 1350.8L1678.3 1353.6L1680.0 1356.2L1681.6 1358.8L1683.1 1361.4L1684.7 1364.0L1686.3 1366.6L1687.9 1369.1L1689.5 1371.7L1691.0 1374.2L1692.7 1376.8L1694.3 1379.3L1695.9 1381.9L1697.6 1384.4L1699.3 1387.0L1701.1 1389.6L1702.8 1392.3L1704.6 1394.9L1706.5 1397.5L1708.3 1400.2L1710.1 1402.7L1711.9 1405.2L1713.7 1407.7L1715.4 1410.0L1717.2 1412.3L1718.9 1414.4L1720.6 1416.4L1722.3 1418.4L1723.9 1420.3L1725.5 1422.1L1727.1 1423.9L1728.6 1425.7L1730.1 1427.5L1731.7 1429.3L1733.4 1431.3L1735.0 1433.2L1736.7 1435.1L1738.3 1436.9L1739.8 1438.7L1741.3 1440.4L1742.7 1442.2L1744.1 1443.9L1745.3 1445.7L1746.5 1447.5L1747.6 1449.4L1748.8 1451.5L1749.9 1453.7L1751.0 1456.1L1752.1 1458.5L1753.2 1461.0L1754.3 1463.6L1755.4 1466.2L1756.6 1468.9L1757.8 1471.6L1759.1 1474.2L1760.4 1476.7L1761.7 1479.2L1763.0 1481.7L1764.2 1484.1L1765.4 1486.4L1766.6 1488.8L1767.6 1491.1L1768.5 1493.3L1769.4 1495.7L1770.2 1498.1L1771.0 1500.8L1771.7 1503.4L1772.4 1506.1L1773.0 1508.9L1773.6 1511.5L1774.1 1514.2L1774.4 1516.7L1774.7 1519.1L1774.9 1521.4L1775.0 1523.5L1774.9 1525.5L1774.8 1527.6L1774.6 1529.7L1774.3 1531.8L1773.9 1533.8L1773.5 1535.9L1773.1 1537.9L1772.6 1540.0L1772.2 1541.9L1771.8 1543.6L1771.5 1545.1L1771.1 1546.5L1770.6 1547.7L1770.2 1549.0L1769.7 1550.4L1769.1 1551.8L1768.5 1553.4L1767.9 1555.1L1767.1 1557.0L1766.4 1559.1L1765.7 1561.2L1765.0 1563.3L1764.3 1565.4L1763.5 1567.6L1762.7 1569.7L1761.9 1571.8L1761.0 1573.9L1760.0 1576.1L1759.0 1578.2L1757.8 1580.3L1756.6 1582.4L1755.2 1584.6L1753.8 1586.8L1752.2 1589.1L1750.5 1591.6L1748.8 1594.1L1747.0 1596.8L1745.1 1599.6L1743.2 1602.6L1741.1 1605.7L1738.9 1609.1L1736.7 1612.6L1734.3 1616.3L1731.9 1619.9L1729.6 1623.6L1727.3 1627.1L1725.1 1630.5L1723.1 1633.6L1721.2 1636.4L1719.5 1638.9L1718.1 1640.9L1716.8 1642.7L1715.6 1644.4L1714.4 1645.9L1713.3 1647.4L1712.0 1649.1L1710.6 1650.9L1709.0 1653.0L1707.1 1655.4L1704.9 1658.1L1702.5 1661.1L1700.0 1664.3L1697.3 1667.7L1694.6 1671.1L1691.7 1674.6L1688.9 1678.1L1686.0 1681.7L1683.2 1685.1L1680.5 1688.4L1677.8 1691.7L1674.9 1695.1L1672.0 1698.6L1669.1 1702.1L1666.2 1705.6L1663.3 1708.9L1660.6 1712.1L1658.0 1715.2L1655.6 1718.0L1653.5 1720.5L1651.7 1722.7L1650.2 1724.5L1648.9 1726.0L1647.8 1727.4L1646.8 1728.6L1645.8 1729.8L1644.9 1730.9L1643.9 1732.1L1642.7 1733.5L1641.5 1735.1L1640.0 1736.9L1638.3 1738.9L1636.6 1741.0L1634.8 1743.3L1633.0 1745.5L1631.2 1747.6L1629.6 1749.6L1628.1 1751.4L1626.9 1752.9L1626.0 1754.1L1638.0 1763.9L1639.0 1762.8L1640.2 1761.3L1641.7 1759.5L1643.3 1757.5L1645.0 1755.3L1646.9 1753.1L1648.7 1750.9L1650.4 1748.8L1652.1 1746.7L1653.5 1744.9L1654.8 1743.4L1655.9 1742.0L1656.9 1740.8L1657.9 1739.7L1658.8 1738.5L1659.8 1737.3L1660.9 1736.0L1662.2 1734.5L1663.7 1732.6L1665.5 1730.5L1667.6 1728.0L1669.9 1725.2L1672.5 1722.2L1675.2 1719.0L1678.0 1715.6L1681.0 1712.1L1683.9 1708.6L1686.9 1705.1L1689.7 1701.6L1692.5 1698.2L1695.2 1694.8L1698.0 1691.3L1700.9 1687.8L1703.7 1684.2L1706.5 1680.6L1709.3 1677.1L1711.9 1673.7L1714.4 1670.4L1716.8 1667.4L1718.9 1664.6L1720.8 1662.1L1722.4 1660.0L1723.9 1658.2L1725.2 1656.4L1726.4 1654.8L1727.6 1653.1L1728.9 1651.4L1730.2 1649.4L1731.7 1647.3L1733.4 1644.8L1735.4 1641.9L1737.5 1638.7L1739.8 1635.3L1742.1 1631.7L1744.5 1628.0L1746.9 1624.3L1749.2 1620.7L1751.5 1617.2L1753.6 1613.9L1755.6 1610.8L1757.6 1608.1L1759.4 1605.5L1761.3 1602.9L1763.1 1600.5L1764.9 1598.1L1766.6 1595.7L1768.3 1593.3L1769.9 1590.9L1771.5 1588.4L1773.0 1585.8L1774.4 1583.3L1775.7 1580.7L1776.8 1578.2L1777.9 1575.8L1778.9 1573.4L1779.8 1571.1L1780.6 1568.9L1781.4 1566.8L1782.1 1564.8L1782.9 1563.0L1783.5 1561.2L1784.2 1559.6L1784.8 1558.0L1785.5 1556.5L1786.1 1554.9L1786.7 1553.2L1787.2 1551.5L1787.8 1549.6L1788.3 1547.7L1788.8 1545.7L1789.2 1543.6L1789.7 1541.5L1790.2 1539.3L1790.6 1536.9L1791.1 1534.4L1791.4 1531.8L1791.7 1529.1L1791.9 1526.3L1792.0 1523.4L1791.9 1520.4L1791.6 1517.4L1791.3 1514.4L1790.8 1511.4L1790.3 1508.3L1789.6 1505.2L1788.9 1502.1L1788.1 1499.0L1787.3 1496.0L1786.4 1493.1L1785.4 1490.1L1784.4 1487.2L1783.2 1484.4L1782.0 1481.6L1780.7 1478.9L1779.4 1476.3L1778.1 1473.8L1776.8 1471.4L1775.5 1468.9L1774.3 1466.6L1773.2 1464.2L1772.1 1461.9L1771.0 1459.4L1769.9 1456.9L1768.8 1454.3L1767.6 1451.6L1766.4 1449.0L1765.2 1446.3L1763.8 1443.7L1762.4 1441.1L1760.9 1438.5L1759.3 1436.0L1757.6 1433.7L1755.8 1431.6L1754.1 1429.5L1752.4 1427.6L1750.7 1425.7L1749.0 1423.9L1747.4 1422.2L1745.8 1420.4L1744.3 1418.7L1742.7 1416.8L1741.1 1414.9L1739.5 1413.1L1737.9 1411.3L1736.3 1409.5L1734.8 1407.7L1733.2 1405.9L1731.7 1404.0L1730.1 1402.0L1728.6 1400.0L1726.9 1397.8L1725.2 1395.5L1723.5 1393.1L1721.8 1390.7L1720.0 1388.2L1718.3 1385.6L1716.5 1383.0L1714.8 1380.4L1713.1 1377.9L1711.4 1375.4L1709.8 1372.9L1708.2 1370.4L1706.6 1367.9L1705.0 1365.5L1703.5 1363.0L1701.9 1360.5L1700.4 1357.9L1698.8 1355.4L1697.2 1352.8L1695.6 1350.2L1694.0 1347.5L1692.2 1344.7L1690.5 1342.0L1688.8 1339.3L1687.1 1336.6L1685.4 1333.9L1683.9 1331.3L1682.4 1328.7L1681.1 1326.2L1680.0 1323.9L1679.0 1321.5L1678.1 1319.2L1677.3 1316.8L1676.5 1314.4L1675.8 1312.0L1675.1 1309.6L1674.5 1307.1L1673.9 1304.7L1673.2 1302.2L1672.6 1299.8L1671.9 1297.4L1671.3 1295.1L1670.7 1292.9L1670.1 1290.8L1669.6 1288.7L1669.1 1286.7L1668.7 1284.8L1668.3 1282.9L1668.1 1281.1L1667.9 1279.2L1667.7 1277.3L1667.6 1275.5L1667.6 1273.6L1667.6 1271.8L1667.7 1269.9L1667.8 1268.1L1668.0 1266.1L1668.2 1264.2L1668.5 1262.1L1668.8 1260.0L1669.2 1257.8L1669.7 1255.6L1670.1 1253.3L1670.7 1251.0L1671.3 1248.7L1671.9 1246.3L1672.6 1244.0L1673.4 1241.6L1674.2 1239.2L1675.1 1236.9L1676.0 1234.6L1677.0 1232.3L1678.1 1229.9L1679.2 1227.6L1680.5 1225.2L1681.7 1222.7L1683.0 1220.2L1684.4 1217.7L1685.8 1215.1L1687.3 1212.5L1688.8 1209.9L1690.4 1207.1L1692.0 1204.4L1693.7 1201.5L1695.4 1198.7L1697.1 1195.9L1698.9 1193.1L1700.6 1190.3L1702.3 1187.6L1704.0 1185.1L1705.7 1182.6L1707.4 1180.2L1709.1 1177.8L1710.8 1175.5L1712.5 1173.1L1714.2 1170.8L1715.9 1168.5L1717.6 1166.2L1719.3 1163.8L1721.0 1161.5L1722.6 1159.2L1724.3 1156.7L1726.0 1154.2L1727.7 1151.7L1729.4 1149.3L1730.9 1147.1L1732.3 1144.9L1733.6 1143.1L1734.7 1141.5L1735.5 1140.3Z M1079.8 1524.5L1081.7 1525.7L1084.2 1527.3L1087.1 1529.1L1090.3 1531.2L1093.9 1533.4L1097.5 1535.7L1101.3 1538.1L1105.1 1540.5L1108.7 1542.8L1112.1 1544.9L1115.5 1547.1L1119.0 1549.3L1122.6 1551.5L1126.2 1553.8L1129.8 1556.0L1133.4 1558.3L1136.8 1560.4L1140.1 1562.5L1143.2 1564.4L1146.1 1566.2L1148.6 1567.7L1150.8 1569.1L1152.8 1570.4L1154.7 1571.6L1156.5 1572.7L1158.3 1573.8L1160.1 1574.9L1162.2 1576.1L1164.3 1577.4L1166.8 1578.7L1169.4 1580.2L1172.2 1581.8L1175.2 1583.4L1178.2 1585.0L1181.3 1586.6L1184.5 1588.3L1187.8 1590.0L1191.1 1591.6L1194.4 1593.2L1197.7 1594.8L1201.0 1596.4L1204.4 1597.9L1207.9 1599.5L1211.4 1601.0L1215.0 1602.5L1218.5 1604.0L1222.0 1605.5L1225.5 1606.8L1228.9 1608.2L1232.2 1609.4L1235.2 1610.5L1238.1 1611.6L1241.0 1612.6L1243.8 1613.6L1246.6 1614.6L1249.5 1615.5L1252.5 1616.3L1255.6 1617.1L1258.9 1617.8L1262.3 1618.5L1265.9 1619.1L1269.5 1619.6L1273.2 1620.1L1277.0 1620.5L1280.8 1620.8L1284.8 1621.1L1288.9 1621.4L1293.1 1621.6L1297.4 1621.7L1301.9 1621.8L1306.6 1621.9L1311.4 1621.9L1316.5 1621.8L1321.6 1621.6L1326.9 1621.5L1332.2 1621.2L1337.5 1621.0L1342.8 1620.7L1348.0 1620.4L1353.2 1620.1L1358.3 1619.8L1363.5 1619.4L1368.6 1619.0L1373.8 1618.6L1378.9 1618.2L1384.0 1617.7L1389.1 1617.2L1394.2 1616.7L1399.3 1616.2L1404.3 1615.8L1409.4 1615.3L1414.4 1614.9L1419.4 1614.4L1424.4 1614.0L1429.4 1613.5L1434.4 1613.0L1439.4 1612.5L1444.4 1612.0L1449.5 1611.4L1454.6 1610.8L1459.8 1610.2L1465.1 1609.6L1470.6 1608.9L1476.1 1608.2L1481.6 1607.5L1487.0 1606.7L1492.2 1606.0L1497.1 1605.3L1501.7 1604.6L1505.9 1604.0L1509.7 1603.4L1513.1 1602.8L1516.1 1602.2L1518.8 1601.6L1521.4 1601.1L1523.8 1600.5L1526.1 1600.0L1528.5 1599.5L1530.9 1599.0L1533.6 1598.4L1536.5 1597.9L1539.5 1597.3L1542.7 1596.6L1545.8 1596.0L1549.0 1595.4L1552.1 1594.8L1555.2 1594.2L1558.1 1593.6L1560.9 1593.1L1563.5 1592.6L1565.9 1592.1L1568.0 1591.7L1569.9 1591.3L1571.7 1590.9L1573.4 1590.5L1575.1 1590.2L1576.9 1589.8L1578.8 1589.4L1581.0 1589.0L1583.4 1588.6L1586.1 1588.1L1588.9 1587.6L1591.9 1587.0L1595.1 1586.5L1598.3 1585.9L1601.7 1585.3L1605.0 1584.7L1608.5 1584.2L1611.9 1583.6L1615.3 1583.0L1618.8 1582.4L1622.3 1581.8L1625.9 1581.1L1629.5 1580.5L1633.1 1579.8L1636.8 1579.2L1640.3 1578.6L1643.9 1578.1L1647.3 1577.6L1650.7 1577.2L1654.1 1576.9L1657.5 1576.6L1660.9 1576.3L1664.2 1576.1L1667.5 1575.9L1670.8 1575.8L1674.1 1575.7L1677.4 1575.7L1680.6 1575.7L1683.8 1575.7L1687.0 1575.8L1690.2 1575.9L1693.3 1576.0L1696.3 1576.2L1699.4 1576.4L1702.4 1576.7L1705.4 1577.0L1708.5 1577.4L1711.6 1577.8L1714.7 1578.3L1717.9 1578.9L1721.2 1579.6L1724.7 1580.3L1728.2 1581.2L1731.7 1582.0L1735.2 1583.0L1738.6 1583.9L1741.9 1584.8L1744.9 1585.6L1747.8 1586.4L1750.3 1587.2L1752.5 1587.9L1754.6 1588.5L1756.4 1589.1L1758.2 1589.7L1759.9 1590.4L1761.6 1591.0L1763.3 1591.7L1765.2 1592.5L1767.3 1593.4L1769.4 1594.3L1771.5 1595.2L1773.6 1596.1L1775.7 1597.1L1777.9 1598.1L1780.2 1599.2L1782.5 1600.3L1785.0 1601.5L1787.6 1602.8L1790.3 1604.2L1793.3 1605.7L1796.5 1607.3L1799.7 1609.0L1803.1 1610.7L1806.6 1612.5L1810.1 1614.4L1813.6 1616.2L1817.1 1618.1L1820.5 1620.0L1823.8 1621.9L1826.9 1623.8L1830.1 1625.6L1833.1 1627.5L1836.2 1629.4L1839.2 1631.3L1842.3 1633.3L1845.4 1635.4L1848.7 1637.5L1852.0 1639.7L1855.5 1642.1L1859.1 1644.5L1862.7 1646.8L1866.4 1649.2L1870.1 1651.7L1873.8 1654.2L1877.7 1656.9L1881.7 1659.7L1885.8 1662.6L1890.1 1665.8L1894.6 1669.2L1899.5 1672.9L1904.6 1677.0L1910.0 1681.4L1915.5 1685.9L1921.2 1690.6L1927.0 1695.4L1932.8 1700.2L1938.5 1704.9L1944.2 1709.4L1949.7 1713.8L1955.0 1718.0L1960.5 1722.1L1965.9 1726.3L1971.3 1730.4L1976.6 1734.4L1981.8 1738.3L1986.9 1742.1L1991.9 1745.7L1996.6 1749.1L2001.1 1752.3L2005.5 1755.4L2009.8 1758.3L2014.1 1761.1L2018.2 1763.7L2022.1 1766.2L2025.7 1768.4L2029.0 1770.5L2031.9 1772.2L2034.3 1773.7L2036.3 1775.0L2044.7 1761.8L2042.7 1760.5L2040.2 1758.9L2037.3 1757.1L2034.0 1755.1L2030.5 1752.8L2026.7 1750.4L2022.8 1747.8L2018.7 1745.1L2014.5 1742.2L2010.3 1739.3L2006.0 1736.1L2001.4 1732.7L1996.5 1729.1L1991.5 1725.4L1986.4 1721.5L1981.2 1717.5L1975.9 1713.4L1970.5 1709.2L1965.2 1705.0L1959.9 1700.8L1954.6 1696.5L1949.2 1692.0L1943.5 1687.3L1937.9 1682.5L1932.1 1677.6L1926.5 1672.8L1920.9 1668.1L1915.5 1663.6L1910.3 1659.3L1905.4 1655.4L1900.7 1651.8L1896.2 1648.4L1891.9 1645.3L1887.8 1642.4L1883.9 1639.6L1880.0 1637.0L1876.3 1634.4L1872.7 1631.9L1869.1 1629.5L1865.5 1627.1L1862.0 1624.8L1858.6 1622.5L1855.2 1620.4L1852.0 1618.3L1848.8 1616.2L1845.6 1614.2L1842.5 1612.3L1839.2 1610.4L1836.0 1608.4L1832.6 1606.5L1829.2 1604.5L1825.6 1602.6L1822.0 1600.7L1818.3 1598.8L1814.7 1596.9L1811.1 1595.1L1807.6 1593.3L1804.3 1591.7L1801.1 1590.1L1798.1 1588.6L1795.2 1587.2L1792.5 1585.9L1790.0 1584.7L1787.5 1583.6L1785.1 1582.5L1782.8 1581.4L1780.5 1580.4L1778.2 1579.5L1776.0 1578.5L1773.7 1577.6L1771.5 1576.8L1769.5 1576.0L1767.5 1575.3L1765.6 1574.6L1763.6 1573.9L1761.6 1573.3L1759.5 1572.6L1757.3 1572.0L1754.9 1571.3L1752.2 1570.6L1749.3 1569.8L1746.2 1568.9L1742.9 1568.0L1739.4 1567.1L1735.7 1566.2L1732.0 1565.3L1728.3 1564.4L1724.6 1563.6L1720.9 1562.9L1717.3 1562.3L1713.9 1561.8L1710.5 1561.4L1707.1 1561.0L1703.8 1560.7L1700.5 1560.5L1697.2 1560.3L1694.0 1560.1L1690.7 1560.0L1687.3 1559.9L1684.0 1559.9L1680.6 1559.9L1677.1 1559.9L1673.7 1560.0L1670.2 1560.1L1666.7 1560.3L1663.2 1560.5L1659.7 1560.8L1656.2 1561.1L1652.6 1561.4L1649.1 1561.8L1645.4 1562.2L1641.7 1562.7L1638.0 1563.3L1634.2 1563.9L1630.5 1564.5L1626.8 1565.1L1623.2 1565.8L1619.6 1566.4L1616.1 1567.0L1612.7 1567.6L1609.3 1568.2L1605.9 1568.7L1602.4 1569.3L1599.0 1569.9L1595.7 1570.4L1592.4 1571.0L1589.2 1571.5L1586.2 1572.1L1583.3 1572.6L1580.6 1573.0L1578.1 1573.4L1575.9 1573.8L1574.0 1574.2L1572.1 1574.5L1570.4 1574.8L1568.6 1575.2L1566.8 1575.5L1564.9 1575.8L1562.8 1576.2L1560.5 1576.6L1557.9 1577.1L1555.1 1577.6L1552.1 1578.2L1549.1 1578.7L1545.9 1579.3L1542.8 1579.9L1539.6 1580.5L1536.4 1581.0L1533.4 1581.6L1530.4 1582.2L1527.6 1582.7L1525.0 1583.3L1522.5 1583.8L1520.2 1584.3L1517.8 1584.9L1515.4 1585.4L1512.9 1585.9L1510.0 1586.4L1506.9 1587.0L1503.3 1587.6L1499.2 1588.3L1494.7 1589.0L1489.8 1589.7L1484.7 1590.4L1479.4 1591.2L1474.0 1592.0L1468.5 1592.7L1463.1 1593.4L1457.8 1594.1L1452.6 1594.8L1447.7 1595.3L1442.7 1595.9L1437.7 1596.4L1432.8 1597.0L1427.8 1597.5L1422.9 1597.9L1417.9 1598.4L1412.9 1598.9L1407.9 1599.4L1402.9 1599.8L1397.8 1600.3L1392.7 1600.7L1387.7 1601.2L1382.6 1601.6L1377.5 1602.1L1372.4 1602.5L1367.4 1602.9L1362.3 1603.2L1357.3 1603.6L1352.2 1603.9L1347.1 1604.2L1341.9 1604.4L1336.7 1604.7L1331.5 1604.9L1326.3 1605.2L1321.1 1605.3L1316.1 1605.5L1311.2 1605.6L1306.6 1605.6L1302.1 1605.6L1297.8 1605.5L1293.7 1605.4L1289.7 1605.2L1285.9 1605.0L1282.1 1604.7L1278.5 1604.4L1275.0 1604.1L1271.6 1603.7L1268.3 1603.2L1265.1 1602.7L1262.0 1602.2L1259.2 1601.6L1256.5 1601.0L1253.9 1600.3L1251.3 1599.5L1248.8 1598.7L1246.1 1597.8L1243.4 1596.9L1240.5 1595.9L1237.4 1594.8L1234.3 1593.7L1231.0 1592.5L1227.7 1591.2L1224.3 1589.8L1220.8 1588.5L1217.4 1587.0L1213.9 1585.6L1210.5 1584.1L1207.2 1582.6L1203.9 1581.2L1200.8 1579.7L1197.6 1578.2L1194.4 1576.7L1191.2 1575.1L1188.1 1573.5L1185.0 1572.0L1182.0 1570.4L1179.2 1568.9L1176.4 1567.4L1173.8 1566.1L1171.5 1564.8L1169.4 1563.6L1167.6 1562.5L1165.8 1561.4L1164.1 1560.4L1162.4 1559.3L1160.6 1558.1L1158.6 1556.9L1156.3 1555.4L1153.7 1553.8L1150.9 1552.1L1147.8 1550.2L1144.5 1548.1L1141.1 1546.0L1137.5 1543.8L1133.9 1541.5L1130.3 1539.2L1126.7 1537.0L1123.2 1534.8L1119.9 1532.7L1116.4 1530.5L1112.8 1528.2L1109.0 1525.8L1105.3 1523.5L1101.6 1521.1L1098.1 1518.9L1094.8 1516.9L1091.9 1515.0L1089.5 1513.5L1087.6 1512.3Z" fill="#4a4f52"/>
<path d="M1081.1 1200.8L1083.3 1202.1L1086.0 1203.7L1089.3 1205.7L1092.9 1207.9L1096.8 1210.2L1100.9 1212.7L1105.0 1215.1L1109.0 1217.6L1112.9 1220.0L1116.6 1222.3L1120.1 1224.4L1123.5 1226.6L1126.9 1228.7L1130.3 1230.7L1133.6 1232.8L1136.9 1234.9L1140.2 1237.0L1143.4 1239.2L1146.6 1241.5L1149.9 1243.9L1153.2 1246.5L1156.6 1249.1L1160.0 1251.9L1163.5 1254.8L1166.9 1257.7L1170.3 1260.6L1173.6 1263.6L1176.8 1266.6L1179.9 1269.6L1182.8 1272.6L1185.6 1275.5L1188.3 1278.5L1191.0 1281.6L1193.6 1284.7L1196.1 1287.7L1198.5 1290.8L1200.8 1294.0L1203.1 1297.1L1205.2 1300.3L1207.3 1303.4L1209.3 1306.5L1211.1 1309.7L1212.9 1312.9L1214.6 1316.1L1216.2 1319.3L1217.8 1322.6L1219.3 1325.9L1220.8 1329.2L1222.2 1332.5L1223.6 1335.8L1224.9 1339.1L1226.2 1342.5L1227.4 1345.8L1228.5 1349.2L1229.6 1352.6L1230.6 1356.0L1231.6 1359.3L1232.6 1362.6L1233.4 1365.7L1234.2 1368.8L1235.0 1371.6L1235.6 1374.3L1236.2 1376.9L1236.8 1379.3L1237.2 1381.7L1237.7 1384.1L1238.1 1386.5L1238.4 1388.9L1238.8 1391.4L1239.1 1393.9L1239.4 1396.4L1239.7 1399.0L1239.9 1401.6L1240.1 1404.2L1240.2 1406.8L1240.4 1409.4L1240.5 1412.1L1240.6 1414.8L1240.6 1417.4L1240.7 1420.1L1240.7 1422.7L1240.6 1425.3L1240.6 1427.8L1240.5 1430.4L1240.4 1432.9L1240.3 1435.6L1240.2 1438.3L1240.0 1441.0L1239.9 1443.9L1239.7 1446.9L1239.4 1450.0L1239.2 1453.1L1238.9 1456.4L1238.5 1459.7L1238.2 1463.2L1237.8 1466.8L1237.5 1470.4L1237.2 1474.1L1236.9 1477.8L1236.7 1481.5L1236.5 1485.3L1236.3 1489.1L1236.2 1493.0L1236.1 1496.9L1236.0 1500.8L1235.9 1504.7L1235.9 1508.6L1235.8 1512.5L1235.8 1516.3L1235.9 1520.1L1235.9 1523.8L1236.0 1527.5L1236.0 1531.3L1236.2 1535.0L1236.3 1538.7L1236.4 1542.3L1236.6 1545.8L1236.8 1549.2L1237.0 1552.4L1237.2 1555.6L1237.4 1558.5L1237.6 1561.3L1237.8 1564.0L1238.1 1566.5L1238.3 1568.9L1238.6 1571.3L1238.9 1573.7L1239.2 1576.1L1239.5 1578.5L1239.8 1581.1L1240.2 1583.8L1240.5 1586.5L1240.9 1589.3L1241.3 1592.1L1241.7 1595.0L1242.2 1597.8L1242.6 1600.7L1243.0 1603.6L1243.5 1606.5L1244.0 1609.3L1244.4 1612.2L1244.9 1615.0L1245.3 1617.9L1245.8 1620.8L1246.3 1623.7L1246.8 1626.6L1247.4 1629.6L1248.0 1632.7L1248.6 1635.7L1249.3 1638.8L1250.1 1642.0L1250.9 1645.1L1251.7 1648.4L1252.6 1651.6L1253.5 1654.8L1254.4 1658.0L1255.4 1661.2L1256.3 1664.3L1257.3 1667.4L1258.2 1670.4L1259.2 1673.3L1260.1 1676.1L1261.0 1678.8L1262.0 1681.5L1262.9 1684.1L1263.9 1686.7L1264.9 1689.4L1265.9 1692.2L1266.9 1695.2L1268.0 1698.4L1269.1 1702.0L1270.3 1706.0L1271.6 1710.2L1273.0 1714.6L1274.3 1719.1L1275.7 1723.5L1277.0 1727.9L1278.2 1732.0L1279.4 1735.9L1280.5 1739.3L1281.4 1742.5L1282.4 1745.6L1283.3 1748.4L1284.2 1751.2L1285.0 1753.7L1285.8 1756.0L1286.4 1758.1L1287.0 1759.9L1287.5 1761.5L1288.0 1762.8L1303.0 1758.0L1302.6 1756.6L1302.1 1755.0L1301.5 1753.2L1300.8 1751.1L1300.0 1748.8L1299.2 1746.3L1298.4 1743.6L1297.5 1740.8L1296.5 1737.8L1295.5 1734.7L1294.5 1731.2L1293.3 1727.4L1292.1 1723.3L1290.8 1719.0L1289.4 1714.5L1288.1 1710.0L1286.7 1705.6L1285.4 1701.3L1284.2 1697.3L1283.0 1693.6L1281.9 1690.2L1280.9 1687.1L1279.9 1684.1L1279.0 1681.3L1278.1 1678.7L1277.2 1676.1L1276.3 1673.6L1275.5 1671.0L1274.6 1668.4L1273.8 1665.6L1272.9 1662.7L1272.0 1659.6L1271.2 1656.6L1270.3 1653.5L1269.4 1650.3L1268.6 1647.2L1267.8 1644.1L1267.1 1641.1L1266.4 1638.1L1265.7 1635.2L1265.1 1632.3L1264.6 1629.4L1264.0 1626.6L1263.6 1623.8L1263.1 1620.9L1262.7 1618.1L1262.3 1615.3L1261.9 1612.4L1261.5 1609.5L1261.0 1606.7L1260.6 1603.8L1260.2 1601.0L1259.8 1598.2L1259.4 1595.4L1259.1 1592.5L1258.7 1589.8L1258.4 1587.0L1258.0 1584.3L1257.7 1581.6L1257.4 1578.9L1257.1 1576.3L1256.8 1573.9L1256.5 1571.5L1256.2 1569.2L1255.9 1567.0L1255.7 1564.7L1255.5 1562.3L1255.2 1559.8L1255.0 1557.2L1254.8 1554.4L1254.6 1551.4L1254.5 1548.2L1254.3 1544.9L1254.1 1541.5L1254.0 1538.0L1253.9 1534.4L1253.7 1530.8L1253.7 1527.2L1253.6 1523.5L1253.5 1519.9L1253.5 1516.3L1253.5 1512.6L1253.6 1508.8L1253.6 1505.0L1253.7 1501.1L1253.8 1497.3L1253.9 1493.5L1254.0 1489.8L1254.2 1486.1L1254.3 1482.5L1254.5 1479.0L1254.8 1475.5L1255.1 1472.0L1255.4 1468.5L1255.8 1465.0L1256.1 1461.5L1256.5 1458.1L1256.8 1454.7L1257.1 1451.4L1257.3 1448.1L1257.5 1445.0L1257.7 1442.1L1257.9 1439.2L1258.0 1436.4L1258.1 1433.6L1258.2 1430.9L1258.3 1428.2L1258.3 1425.5L1258.4 1422.7L1258.3 1419.9L1258.3 1417.1L1258.2 1414.3L1258.2 1411.5L1258.1 1408.7L1257.9 1405.8L1257.7 1403.0L1257.5 1400.2L1257.3 1397.4L1257.0 1394.5L1256.7 1391.7L1256.3 1389.0L1256.0 1386.3L1255.6 1383.7L1255.1 1381.1L1254.6 1378.4L1254.1 1375.7L1253.5 1373.0L1252.9 1370.2L1252.1 1367.3L1251.4 1364.2L1250.5 1361.1L1249.6 1357.8L1248.6 1354.4L1247.6 1350.9L1246.5 1347.3L1245.3 1343.7L1244.1 1340.0L1242.8 1336.4L1241.4 1332.7L1240.0 1329.2L1238.5 1325.7L1237.0 1322.2L1235.5 1318.6L1233.9 1315.1L1232.2 1311.5L1230.4 1308.0L1228.5 1304.4L1226.6 1300.9L1224.5 1297.3L1222.3 1293.8L1220.0 1290.3L1217.7 1286.9L1215.3 1283.5L1212.8 1280.0L1210.2 1276.6L1207.5 1273.3L1204.7 1269.9L1201.8 1266.6L1198.9 1263.3L1195.8 1260.0L1192.7 1256.8L1189.3 1253.5L1185.9 1250.3L1182.4 1247.1L1178.8 1243.9L1175.2 1240.8L1171.6 1237.8L1168.0 1234.9L1164.5 1232.1L1160.9 1229.3L1157.4 1226.7L1153.8 1224.2L1150.3 1221.8L1146.8 1219.5L1143.4 1217.3L1139.9 1215.1L1136.5 1213.0L1133.1 1211.0L1129.7 1208.9L1126.2 1206.7L1122.6 1204.4L1118.6 1202.0L1114.5 1199.5L1110.3 1197.0L1106.2 1194.5L1102.3 1192.2L1098.7 1190.0L1095.4 1188.0L1092.7 1186.4L1090.6 1185.1Z M1152.1 1593.5L1153.5 1591.5L1155.3 1589.1L1157.4 1586.2L1159.8 1583.0L1162.4 1579.4L1165.2 1575.7L1168.1 1571.7L1171.0 1567.7L1174.0 1563.6L1176.9 1559.5L1179.9 1555.3L1183.1 1550.9L1186.4 1546.3L1189.7 1541.5L1193.2 1536.7L1196.6 1531.8L1200.1 1526.9L1203.5 1522.1L1206.8 1517.3L1210.1 1512.7L1213.3 1508.2L1216.5 1503.7L1219.7 1499.2L1222.8 1494.7L1226.0 1490.3L1229.1 1485.9L1232.1 1481.6L1235.1 1477.4L1237.9 1473.3L1240.7 1469.4L1243.3 1465.7L1245.9 1462.1L1248.3 1458.6L1250.7 1455.3L1252.9 1452.0L1255.2 1448.8L1257.4 1445.6L1259.7 1442.4L1261.9 1439.2L1264.2 1435.9L1266.5 1432.6L1268.7 1429.3L1270.8 1426.1L1273.0 1422.9L1275.1 1419.7L1277.2 1416.5L1279.4 1413.2L1281.7 1409.9L1284.0 1406.5L1286.5 1402.9L1289.1 1399.3L1291.8 1395.5L1294.5 1391.6L1297.3 1387.7L1300.2 1383.7L1303.1 1379.7L1306.1 1375.6L1309.1 1371.5L1312.1 1367.4L1315.2 1363.3L1318.4 1359.0L1321.7 1354.7L1325.0 1350.2L1328.4 1345.8L1331.8 1341.3L1335.2 1336.9L1338.6 1332.5L1342.0 1328.4L1345.4 1324.3L1348.7 1320.5L1352.0 1316.8L1355.3 1313.3L1358.5 1309.8L1361.8 1306.4L1365.0 1303.1L1368.3 1300.0L1371.6 1296.9L1374.9 1293.9L1378.2 1291.0L1381.5 1288.2L1384.9 1285.5L1388.4 1282.8L1391.9 1280.2L1395.6 1277.7L1399.2 1275.2L1402.8 1272.9L1406.2 1270.7L1409.6 1268.7L1412.8 1266.8L1415.8 1265.1L1418.5 1263.7L1421.0 1262.5L1423.4 1261.4L1425.6 1260.5L1427.7 1259.7L1429.9 1259.0L1432.0 1258.4L1434.2 1257.8L1436.5 1257.1L1438.9 1256.5L1441.2 1255.9L1443.5 1255.4L1445.7 1255.0L1447.9 1254.6L1450.2 1254.3L1452.5 1254.0L1454.8 1253.7L1457.3 1253.5L1459.8 1253.3L1462.5 1253.1L1465.2 1252.9L1468.1 1252.7L1471.0 1252.6L1474.0 1252.5L1477.0 1252.4L1480.0 1252.4L1483.0 1252.4L1485.9 1252.5L1488.8 1252.7L1491.6 1253.0L1494.4 1253.3L1497.0 1253.7L1499.5 1254.1L1502.0 1254.6L1504.5 1255.1L1507.2 1255.8L1510.0 1256.5L1513.0 1257.3L1516.3 1258.3L1520.0 1259.4L1523.8 1260.7L1527.8 1262.2L1532.1 1263.8L1536.5 1265.5L1541.2 1267.3L1546.0 1269.2L1551.1 1271.1L1556.3 1273.1L1561.8 1275.2L1567.4 1277.2L1573.4 1279.3L1579.9 1281.6L1586.8 1284.0L1594.0 1286.5L1601.2 1289.0L1608.4 1291.4L1615.3 1293.8L1621.8 1295.9L1627.8 1297.8L1633.1 1299.4L1637.6 1300.6L1641.6 1301.5L1645.0 1302.3L1648.0 1302.8L1650.8 1303.2L1653.3 1303.5L1655.8 1303.7L1658.2 1304.0L1660.8 1304.3L1663.8 1304.7L1667.0 1305.1L1670.3 1305.6L1673.6 1306.0L1676.9 1306.4L1680.3 1306.8L1683.7 1307.2L1687.3 1307.7L1691.1 1308.2L1695.0 1308.7L1699.2 1309.2L1703.5 1310.0L1708.1 1310.7L1712.8 1311.5L1717.7 1312.4L1722.7 1313.2L1727.8 1314.1L1733.0 1315.0L1738.3 1315.9L1743.7 1316.8L1749.2 1317.7L1754.8 1318.9L1760.8 1320.2L1767.1 1321.6L1773.5 1323.0L1780.0 1324.5L1786.4 1325.8L1792.7 1327.0L1798.6 1328.1L1804.2 1328.9L1809.2 1329.4L1813.7 1329.6L1817.8 1329.6L1821.5 1329.3L1824.8 1328.8L1827.9 1328.1L1830.7 1327.3L1833.3 1326.4L1835.9 1325.5L1838.4 1324.7L1841.2 1323.9L1844.2 1322.8L1847.3 1321.7L1850.5 1320.5L1853.8 1319.2L1857.1 1317.8L1860.4 1316.3L1863.8 1314.7L1867.2 1312.9L1870.7 1311.0L1874.2 1308.9L1877.7 1306.7L1881.1 1304.4L1884.6 1301.9L1888.2 1299.3L1891.7 1296.6L1895.2 1293.7L1898.8 1290.8L1902.3 1287.8L1905.8 1284.8L1909.3 1281.6L1912.8 1278.3L1916.3 1275.0L1919.8 1271.5L1923.2 1267.9L1926.7 1264.3L1930.1 1260.6L1933.6 1256.8L1937.0 1253.0L1940.4 1249.2L1943.8 1245.3L1947.3 1241.4L1950.8 1237.3L1954.3 1233.2L1957.8 1229.0L1961.3 1224.8L1964.8 1220.6L1968.2 1216.4L1971.6 1212.2L1974.8 1208.1L1978.0 1204.1L1981.2 1200.0L1984.4 1195.7L1987.7 1191.4L1990.9 1187.0L1994.0 1182.8L1997.0 1178.7L1999.7 1175.0L2002.1 1171.7L2004.1 1168.9L2005.7 1166.7L1992.7 1157.2L1991.1 1159.4L1989.0 1162.2L1986.6 1165.5L1983.9 1169.2L1981.0 1173.2L1977.9 1177.4L1974.7 1181.7L1971.5 1186.0L1968.3 1190.1L1965.2 1194.1L1962.1 1198.0L1958.9 1202.0L1955.6 1206.1L1952.2 1210.2L1948.8 1214.4L1945.3 1218.5L1941.8 1222.6L1938.4 1226.7L1935.0 1230.6L1931.6 1234.5L1928.2 1238.2L1924.8 1242.0L1921.4 1245.7L1918.1 1249.4L1914.7 1252.9L1911.4 1256.4L1908.0 1259.8L1904.7 1263.1L1901.4 1266.3L1898.1 1269.4L1894.8 1272.4L1891.5 1275.3L1888.1 1278.1L1884.8 1280.8L1881.5 1283.5L1878.2 1286.0L1874.9 1288.4L1871.7 1290.7L1868.5 1292.9L1865.4 1294.9L1862.4 1296.7L1859.4 1298.4L1856.4 1300.0L1853.4 1301.5L1850.5 1302.8L1847.5 1304.1L1844.6 1305.4L1841.6 1306.5L1838.7 1307.6L1835.6 1308.7L1832.7 1310.0L1830.0 1311.3L1827.7 1312.5L1825.5 1313.5L1823.5 1314.4L1821.5 1315.2L1819.2 1315.8L1816.6 1316.3L1813.5 1316.7L1809.8 1316.8L1805.3 1316.6L1800.2 1316.2L1794.5 1315.5L1788.5 1314.6L1782.1 1313.6L1775.6 1312.4L1769.1 1311.3L1762.8 1310.2L1756.6 1309.2L1750.8 1308.3L1745.4 1307.3L1740.0 1306.4L1734.6 1305.5L1729.4 1304.6L1724.3 1303.8L1719.3 1302.9L1714.4 1302.1L1709.7 1301.3L1705.2 1300.5L1700.8 1299.8L1696.7 1298.9L1692.8 1298.1L1689.1 1297.3L1685.5 1296.6L1682.1 1295.9L1678.8 1295.2L1675.6 1294.5L1672.4 1293.8L1669.2 1293.0L1666.0 1292.3L1662.9 1291.7L1660.1 1291.1L1657.6 1290.7L1655.3 1290.3L1653.0 1289.8L1650.6 1289.3L1648.0 1288.7L1644.9 1287.9L1641.4 1286.9L1637.1 1285.6L1632.1 1284.1L1626.2 1282.2L1619.8 1280.1L1613.0 1277.8L1605.9 1275.4L1598.7 1272.9L1591.6 1270.4L1584.7 1268.0L1578.2 1265.7L1572.2 1263.6L1566.7 1261.6L1561.4 1259.7L1556.2 1257.7L1551.2 1255.7L1546.4 1253.9L1541.7 1252.0L1537.2 1250.3L1532.8 1248.6L1528.5 1247.1L1524.4 1245.8L1520.7 1244.5L1517.2 1243.4L1514.0 1242.4L1511.0 1241.6L1508.0 1240.8L1505.1 1240.1L1502.3 1239.5L1499.4 1238.9L1496.5 1238.4L1493.4 1238.0L1490.1 1237.6L1486.8 1237.4L1483.5 1237.2L1480.2 1237.1L1476.9 1237.1L1473.7 1237.1L1470.5 1237.2L1467.4 1237.3L1464.4 1237.4L1461.5 1237.5L1458.8 1237.7L1456.0 1237.8L1453.4 1238.0L1450.7 1238.3L1448.1 1238.6L1445.6 1238.9L1443.0 1239.3L1440.4 1239.8L1437.7 1240.3L1435.1 1240.9L1432.6 1241.5L1430.1 1242.1L1427.6 1242.7L1425.1 1243.4L1422.5 1244.2L1419.8 1245.1L1417.1 1246.2L1414.2 1247.4L1411.1 1248.9L1408.0 1250.5L1404.7 1252.3L1401.2 1254.3L1397.5 1256.4L1393.8 1258.7L1389.9 1261.2L1386.0 1263.7L1382.1 1266.4L1378.3 1269.2L1374.4 1272.0L1370.7 1275.0L1367.1 1277.9L1363.5 1281.0L1360.0 1284.2L1356.4 1287.4L1352.9 1290.7L1349.4 1294.2L1346.0 1297.7L1342.5 1301.3L1339.0 1305.0L1335.5 1308.9L1332.0 1312.9L1328.4 1317.2L1324.9 1321.6L1321.4 1326.0L1317.9 1330.6L1314.4 1335.1L1311.0 1339.6L1307.6 1344.1L1304.3 1348.5L1301.2 1352.7L1298.0 1356.9L1294.9 1361.1L1291.9 1365.2L1288.8 1369.4L1285.9 1373.4L1283.0 1377.5L1280.2 1381.4L1277.4 1385.3L1274.7 1389.1L1272.1 1392.9L1269.6 1396.5L1267.2 1400.0L1264.9 1403.4L1262.7 1406.8L1260.5 1410.0L1258.4 1413.2L1256.3 1416.4L1254.2 1419.6L1252.0 1422.8L1249.8 1426.1L1247.6 1429.4L1245.4 1432.6L1243.2 1435.8L1241.0 1439.0L1238.8 1442.2L1236.5 1445.4L1234.2 1448.8L1231.8 1452.2L1229.3 1455.8L1226.7 1459.6L1224.0 1463.5L1221.1 1467.6L1218.2 1471.7L1215.1 1476.0L1212.0 1480.4L1208.9 1484.8L1205.7 1489.3L1202.5 1493.8L1199.3 1498.3L1196.1 1502.9L1192.9 1507.5L1189.5 1512.2L1186.1 1517.0L1182.7 1521.9L1179.2 1526.8L1175.8 1531.6L1172.4 1536.4L1169.2 1541.0L1166.0 1545.4L1163.1 1549.5L1160.1 1553.6L1157.2 1557.6L1154.3 1561.6L1151.4 1565.6L1148.6 1569.3L1146.1 1572.8L1143.7 1576.1L1141.6 1578.9L1139.8 1581.4L1138.3 1583.4Z M1721.9 1133.1L1721.1 1134.3L1720.1 1135.8L1719.0 1137.5L1717.7 1139.4L1716.3 1141.5L1714.8 1143.8L1713.3 1146.1L1711.7 1148.4L1710.1 1150.7L1708.6 1152.9L1707.1 1155.0L1705.5 1157.2L1703.9 1159.5L1702.2 1161.8L1700.5 1164.2L1698.7 1166.6L1696.9 1169.1L1695.1 1171.6L1693.3 1174.2L1691.6 1176.9L1689.8 1179.6L1688.1 1182.3L1686.3 1185.2L1684.5 1188.1L1682.7 1191.0L1681.0 1193.9L1679.2 1196.8L1677.5 1199.7L1675.9 1202.5L1674.4 1205.3L1672.9 1208.0L1671.4 1210.6L1670.0 1213.2L1668.6 1215.8L1667.3 1218.4L1666.0 1221.0L1664.7 1223.6L1663.5 1226.2L1662.4 1228.9L1661.3 1231.5L1660.3 1234.2L1659.3 1236.8L1658.5 1239.5L1657.7 1242.1L1656.9 1244.8L1656.2 1247.4L1655.6 1250.0L1655.0 1252.5L1654.5 1255.0L1654.0 1257.5L1653.7 1259.9L1653.3 1262.2L1653.0 1264.5L1652.8 1266.8L1652.6 1269.1L1652.5 1271.4L1652.5 1273.7L1652.6 1275.9L1652.7 1278.3L1652.8 1280.6L1653.1 1283.0L1653.5 1285.4L1653.9 1287.8L1654.4 1290.1L1654.9 1292.4L1655.5 1294.6L1656.1 1296.9L1656.8 1299.2L1657.4 1301.5L1658.0 1303.8L1658.7 1306.1L1659.3 1308.5L1660.0 1311.0L1660.7 1313.5L1661.4 1316.2L1662.3 1318.9L1663.2 1321.6L1664.2 1324.4L1665.3 1327.2L1666.5 1330.0L1667.9 1332.9L1669.5 1335.8L1671.1 1338.6L1672.8 1341.5L1674.5 1344.3L1676.2 1347.1L1678.0 1349.9L1679.7 1352.6L1681.4 1355.3L1683.0 1357.9L1684.6 1360.5L1686.2 1363.1L1687.8 1365.7L1689.3 1368.2L1690.9 1370.8L1692.5 1373.3L1694.1 1375.9L1695.7 1378.4L1697.4 1381.0L1699.0 1383.5L1700.7 1386.1L1702.5 1388.7L1704.3 1391.3L1706.1 1394.0L1707.9 1396.6L1709.7 1399.2L1711.5 1401.7L1713.3 1404.2L1715.0 1406.6L1716.8 1409.0L1718.5 1411.2L1720.2 1413.3L1721.9 1415.4L1723.5 1417.3L1725.2 1419.2L1726.8 1421.0L1728.3 1422.8L1729.9 1424.6L1731.4 1426.4L1733.0 1428.2L1734.6 1430.2L1736.3 1432.1L1737.9 1434.0L1739.5 1435.8L1741.1 1437.5L1742.6 1439.3L1744.0 1441.1L1745.4 1442.9L1746.7 1444.7L1747.9 1446.6L1749.1 1448.6L1750.3 1450.7L1751.4 1453.0L1752.5 1455.4L1753.6 1457.8L1754.7 1460.4L1755.8 1462.9L1757.0 1465.6L1758.1 1468.2L1759.4 1470.8L1760.6 1473.4L1761.9 1476.0L1763.2 1478.5L1764.5 1480.9L1765.8 1483.3L1767.0 1485.7L1768.1 1488.0L1769.1 1490.4L1770.1 1492.7L1771.0 1495.1L1771.8 1497.6L1772.6 1500.3L1773.3 1503.0L1774.0 1505.7L1774.7 1508.5L1775.2 1511.2L1775.7 1513.9L1776.1 1516.5L1776.4 1519.0L1776.6 1521.3L1776.7 1523.5L1776.6 1525.6L1776.5 1527.8L1776.3 1529.9L1776.0 1532.0L1775.6 1534.1L1775.2 1536.2L1774.7 1538.3L1774.3 1540.4L1773.9 1542.3L1773.5 1544.0L1773.1 1545.6L1772.7 1547.0L1772.3 1548.3L1771.8 1549.6L1771.3 1551.0L1770.7 1552.5L1770.1 1554.0L1769.5 1555.7L1768.7 1557.6L1768.0 1559.7L1767.3 1561.8L1766.6 1563.9L1765.9 1566.0L1765.1 1568.2L1764.3 1570.3L1763.5 1572.5L1762.6 1574.7L1761.6 1576.8L1760.5 1579.0L1759.3 1581.1L1758.0 1583.3L1756.6 1585.5L1755.2 1587.8L1753.6 1590.1L1751.9 1592.6L1750.2 1595.1L1748.4 1597.8L1746.5 1600.6L1744.6 1603.5L1742.5 1606.6L1740.4 1610.0L1738.1 1613.5L1735.7 1617.2L1733.4 1620.9L1731.0 1624.5L1728.7 1628.1L1726.5 1631.5L1724.5 1634.6L1722.6 1637.4L1720.9 1639.8L1719.4 1641.9L1718.2 1643.7L1717.0 1645.4L1715.8 1646.9L1714.6 1648.5L1713.4 1650.1L1711.9 1651.9L1710.3 1654.0L1708.4 1656.4L1706.3 1659.2L1703.9 1662.2L1701.3 1665.4L1698.7 1668.7L1695.9 1672.2L1693.1 1675.7L1690.2 1679.2L1687.4 1682.7L1684.5 1686.2L1681.8 1689.5L1679.1 1692.8L1676.2 1696.2L1673.3 1699.7L1670.4 1703.2L1667.5 1706.7L1664.6 1710.0L1661.9 1713.2L1659.3 1716.3L1656.9 1719.1L1654.8 1721.6L1653.0 1723.7L1651.5 1725.6L1650.2 1727.2L1649.0 1728.5L1648.0 1729.8L1647.0 1730.9L1646.1 1732.1L1645.1 1733.3L1644.0 1734.6L1642.8 1736.1L1641.4 1737.9L1639.8 1739.8L1638.2 1741.8L1636.5 1743.8L1634.8 1745.9L1633.2 1747.9L1631.7 1749.7L1630.3 1751.4L1629.2 1752.8L1628.3 1753.8L1637.8 1761.5L1638.7 1760.5L1639.8 1759.1L1641.1 1757.4L1642.7 1755.6L1644.3 1753.6L1645.9 1751.5L1647.6 1749.5L1649.3 1747.5L1650.8 1745.6L1652.2 1743.9L1653.4 1742.4L1654.5 1741.1L1655.5 1739.8L1656.5 1738.7L1657.4 1737.5L1658.4 1736.3L1659.6 1734.9L1660.9 1733.4L1662.4 1731.6L1664.2 1729.4L1666.3 1726.9L1668.6 1724.1L1671.2 1721.1L1673.9 1717.9L1676.7 1714.5L1679.7 1711.0L1682.6 1707.5L1685.5 1704.0L1688.4 1700.5L1691.2 1697.1L1693.9 1693.7L1696.7 1690.3L1699.5 1686.7L1702.4 1683.1L1705.2 1679.5L1707.9 1676.0L1710.6 1672.6L1713.1 1669.4L1715.4 1666.4L1717.6 1663.6L1719.5 1661.1L1721.1 1659.0L1722.5 1657.1L1723.8 1655.4L1725.0 1653.8L1726.2 1652.1L1727.5 1650.4L1728.8 1648.5L1730.3 1646.3L1732.0 1643.8L1734.0 1640.9L1736.1 1637.7L1738.3 1634.3L1740.7 1630.8L1743.0 1627.1L1745.4 1623.4L1747.8 1619.8L1750.1 1616.3L1752.2 1612.9L1754.2 1609.9L1756.2 1607.1L1758.0 1604.5L1759.9 1602.0L1761.7 1599.5L1763.5 1597.1L1765.2 1594.7L1766.9 1592.3L1768.5 1589.9L1770.0 1587.5L1771.5 1585.0L1772.9 1582.5L1774.1 1580.0L1775.3 1577.5L1776.3 1575.1L1777.3 1572.8L1778.2 1570.5L1779.0 1568.3L1779.8 1566.2L1780.5 1564.2L1781.3 1562.4L1782.0 1560.6L1782.6 1559.0L1783.3 1557.4L1783.9 1555.8L1784.5 1554.3L1785.1 1552.7L1785.6 1551.0L1786.2 1549.2L1786.7 1547.3L1787.1 1545.3L1787.6 1543.3L1788.0 1541.2L1788.5 1538.9L1789.0 1536.6L1789.4 1534.2L1789.8 1531.6L1790.0 1529.0L1790.2 1526.2L1790.3 1523.4L1790.2 1520.5L1790.0 1517.6L1789.6 1514.7L1789.1 1511.7L1788.6 1508.6L1788.0 1505.6L1787.3 1502.5L1786.5 1499.5L1785.7 1496.5L1784.8 1493.6L1783.8 1490.7L1782.8 1487.8L1781.6 1485.0L1780.4 1482.3L1779.2 1479.7L1777.9 1477.1L1776.6 1474.6L1775.3 1472.1L1774.0 1469.7L1772.8 1467.3L1771.6 1465.0L1770.5 1462.6L1769.4 1460.1L1768.3 1457.5L1767.2 1454.9L1766.1 1452.3L1764.9 1449.7L1763.6 1447.1L1762.3 1444.5L1761.0 1441.9L1759.5 1439.4L1757.9 1437.0L1756.2 1434.8L1754.5 1432.6L1752.8 1430.6L1751.1 1428.7L1749.4 1426.9L1747.8 1425.1L1746.1 1423.3L1744.6 1421.6L1743.0 1419.8L1741.4 1417.9L1739.8 1416.0L1738.2 1414.2L1736.6 1412.4L1735.1 1410.6L1733.5 1408.8L1731.9 1406.9L1730.4 1405.1L1728.8 1403.1L1727.2 1401.0L1725.6 1398.8L1723.9 1396.5L1722.1 1394.1L1720.4 1391.6L1718.6 1389.1L1716.9 1386.6L1715.1 1384.0L1713.4 1381.4L1711.6 1378.8L1710.0 1376.3L1708.3 1373.8L1706.7 1371.3L1705.1 1368.8L1703.6 1366.4L1702.0 1363.9L1700.5 1361.4L1698.9 1358.8L1697.4 1356.3L1695.8 1353.7L1694.2 1351.1L1692.5 1348.4L1690.8 1345.6L1689.1 1342.9L1687.3 1340.2L1685.6 1337.4L1684.0 1334.8L1682.4 1332.1L1681.0 1329.5L1679.6 1327.0L1678.5 1324.6L1677.4 1322.2L1676.5 1319.8L1675.7 1317.3L1674.9 1314.9L1674.2 1312.5L1673.5 1310.0L1672.9 1307.6L1672.2 1305.1L1671.6 1302.7L1671.0 1300.2L1670.3 1297.9L1669.7 1295.6L1669.0 1293.4L1668.5 1291.2L1667.9 1289.1L1667.5 1287.1L1667.0 1285.1L1666.7 1283.2L1666.4 1281.3L1666.2 1279.4L1666.0 1277.4L1665.9 1275.5L1665.9 1273.6L1665.9 1271.7L1666.0 1269.8L1666.1 1267.9L1666.3 1266.0L1666.5 1263.9L1666.8 1261.9L1667.2 1259.7L1667.5 1257.5L1668.0 1255.2L1668.5 1252.9L1669.0 1250.6L1669.6 1248.2L1670.3 1245.8L1671.0 1243.4L1671.8 1241.0L1672.6 1238.7L1673.5 1236.3L1674.5 1233.9L1675.5 1231.6L1676.6 1229.2L1677.7 1226.8L1678.9 1224.4L1680.2 1221.9L1681.6 1219.4L1682.9 1216.9L1684.4 1214.3L1685.8 1211.7L1687.3 1209.0L1688.9 1206.3L1690.5 1203.5L1692.2 1200.7L1693.9 1197.8L1695.7 1195.0L1697.4 1192.2L1699.2 1189.4L1700.9 1186.7L1702.6 1184.1L1704.3 1181.6L1706.0 1179.2L1707.7 1176.8L1709.4 1174.4L1711.2 1172.0L1712.9 1169.7L1714.6 1167.4L1716.3 1165.1L1718.0 1162.8L1719.6 1160.5L1721.2 1158.3L1722.8 1156.0L1724.4 1153.6L1726.0 1151.3L1727.5 1149.1L1728.9 1147.0L1730.2 1145.0L1731.4 1143.3L1732.4 1141.9L1733.2 1140.7Z M1082.2 1524.0L1084.0 1525.2L1086.3 1526.6L1089.1 1528.4L1092.1 1530.3L1095.5 1532.4L1099.0 1534.6L1102.6 1536.9L1106.2 1539.2L1109.7 1541.4L1113.0 1543.5L1116.4 1545.6L1119.9 1547.8L1123.4 1550.0L1127.0 1552.3L1130.7 1554.5L1134.2 1556.8L1137.7 1558.9L1141.0 1561.0L1144.1 1562.9L1147.0 1564.7L1149.5 1566.3L1151.7 1567.7L1153.7 1569.0L1155.6 1570.1L1157.4 1571.3L1159.2 1572.4L1161.0 1573.5L1163.0 1574.7L1165.2 1575.9L1167.6 1577.3L1170.3 1578.7L1173.0 1580.3L1176.0 1581.9L1179.0 1583.5L1182.1 1585.1L1185.3 1586.8L1188.5 1588.5L1191.8 1590.1L1195.1 1591.7L1198.4 1593.3L1201.7 1594.8L1205.1 1596.4L1208.6 1597.9L1212.1 1599.4L1215.6 1601.0L1219.2 1602.4L1222.7 1603.9L1226.1 1605.3L1229.5 1606.6L1232.7 1607.8L1235.8 1608.9L1238.7 1610.0L1241.5 1611.0L1244.3 1612.0L1247.1 1612.9L1250.0 1613.8L1252.9 1614.6L1256.0 1615.4L1259.2 1616.1L1262.6 1616.8L1266.1 1617.4L1269.7 1617.9L1273.4 1618.4L1277.1 1618.8L1281.0 1619.1L1284.9 1619.4L1289.0 1619.7L1293.2 1619.9L1297.5 1620.0L1301.9 1620.1L1306.6 1620.2L1311.4 1620.2L1316.4 1620.1L1321.6 1619.9L1326.8 1619.8L1332.1 1619.5L1337.4 1619.3L1342.7 1619.0L1347.9 1618.7L1353.1 1618.4L1358.2 1618.1L1363.3 1617.7L1368.5 1617.3L1373.6 1616.9L1378.7 1616.5L1383.9 1616.0L1389.0 1615.5L1394.1 1615.0L1399.1 1614.6L1404.2 1614.1L1409.2 1613.6L1414.2 1613.2L1419.2 1612.7L1424.2 1612.3L1429.2 1611.8L1434.2 1611.3L1439.2 1610.8L1444.2 1610.3L1449.3 1609.7L1454.4 1609.2L1459.6 1608.5L1464.9 1607.9L1470.4 1607.2L1475.9 1606.5L1481.4 1605.8L1486.8 1605.0L1491.9 1604.3L1496.9 1603.6L1501.4 1603.0L1505.6 1602.3L1509.4 1601.7L1512.7 1601.1L1515.8 1600.5L1518.5 1600.0L1521.0 1599.4L1523.4 1598.9L1525.8 1598.4L1528.1 1597.8L1530.6 1597.3L1533.3 1596.8L1536.2 1596.2L1539.2 1595.6L1542.3 1595.0L1545.5 1594.3L1548.7 1593.7L1551.8 1593.1L1554.8 1592.5L1557.8 1592.0L1560.6 1591.4L1563.2 1590.9L1565.6 1590.4L1567.7 1590.0L1569.6 1589.6L1571.4 1589.2L1573.1 1588.9L1574.8 1588.5L1576.6 1588.2L1578.5 1587.8L1580.7 1587.4L1583.1 1586.9L1585.8 1586.4L1588.6 1585.9L1591.7 1585.4L1594.8 1584.8L1598.0 1584.2L1601.4 1583.7L1604.8 1583.1L1608.2 1582.5L1611.6 1581.9L1615.0 1581.3L1618.5 1580.7L1622.0 1580.1L1625.6 1579.4L1629.2 1578.8L1632.9 1578.1L1636.5 1577.5L1640.1 1576.9L1643.6 1576.4L1647.1 1575.9L1650.6 1575.5L1654.0 1575.2L1657.4 1574.9L1660.7 1574.6L1664.1 1574.4L1667.4 1574.2L1670.8 1574.1L1674.1 1574.0L1677.3 1574.0L1680.6 1574.0L1683.8 1574.0L1687.0 1574.1L1690.2 1574.2L1693.3 1574.3L1696.4 1574.5L1699.5 1574.7L1702.6 1575.0L1705.6 1575.3L1708.7 1575.7L1711.8 1576.1L1715.0 1576.6L1718.2 1577.2L1721.6 1577.9L1725.1 1578.7L1728.6 1579.5L1732.1 1580.4L1735.6 1581.3L1739.0 1582.2L1742.3 1583.1L1745.4 1584.0L1748.2 1584.8L1750.8 1585.5L1753.0 1586.2L1755.1 1586.9L1756.9 1587.5L1758.7 1588.1L1760.4 1588.8L1762.2 1589.4L1764.0 1590.2L1765.9 1590.9L1767.9 1591.8L1770.1 1592.7L1772.2 1593.6L1774.3 1594.5L1776.4 1595.5L1778.6 1596.5L1780.9 1597.6L1783.2 1598.8L1785.7 1600.0L1788.3 1601.3L1791.1 1602.7L1794.1 1604.2L1797.2 1605.8L1800.5 1607.5L1803.9 1609.2L1807.4 1611.0L1810.9 1612.9L1814.4 1614.7L1817.9 1616.6L1821.3 1618.5L1824.6 1620.4L1827.8 1622.3L1830.9 1624.2L1834.0 1626.1L1837.1 1628.0L1840.1 1629.9L1843.2 1631.9L1846.4 1633.9L1849.6 1636.1L1852.9 1638.3L1856.4 1640.7L1860.1 1643.0L1863.7 1645.4L1867.3 1647.8L1871.0 1650.3L1874.8 1652.8L1878.6 1655.5L1882.6 1658.3L1886.8 1661.3L1891.1 1664.5L1895.7 1667.9L1900.5 1671.6L1905.7 1675.7L1911.0 1680.0L1916.6 1684.6L1922.3 1689.3L1928.1 1694.1L1933.9 1698.9L1939.6 1703.6L1945.3 1708.1L1950.7 1712.4L1956.1 1716.6L1961.5 1720.8L1967.0 1725.0L1972.4 1729.1L1977.7 1733.1L1983.0 1737.0L1988.0 1740.8L1992.9 1744.4L1997.6 1747.8L2002.0 1750.9L2006.3 1753.9L2010.5 1756.8L2014.6 1759.4L2018.6 1762.0L2022.3 1764.3L2025.7 1766.4L2028.8 1768.3L2031.6 1770.0L2033.9 1771.4L2035.8 1772.6L2042.3 1762.3L2040.4 1761.1L2038.1 1759.6L2035.3 1757.9L2032.2 1755.9L2028.9 1753.8L2025.3 1751.5L2021.5 1749.0L2017.5 1746.4L2013.5 1743.6L2009.4 1740.7L2005.0 1737.5L2000.5 1734.2L1995.6 1730.6L1990.6 1726.8L1985.5 1722.9L1980.2 1718.8L1974.9 1714.7L1969.5 1710.6L1964.1 1706.4L1958.9 1702.2L1953.6 1697.9L1948.1 1693.3L1942.5 1688.6L1936.8 1683.8L1931.1 1678.9L1925.4 1674.1L1919.8 1669.4L1914.4 1664.9L1909.2 1660.7L1904.3 1656.7L1899.7 1653.1L1895.2 1649.8L1890.9 1646.7L1886.9 1643.8L1882.9 1641.0L1879.1 1638.4L1875.4 1635.8L1871.7 1633.4L1868.1 1630.9L1864.6 1628.5L1861.0 1626.2L1857.6 1623.9L1854.3 1621.8L1851.1 1619.7L1847.9 1617.7L1844.7 1615.7L1841.6 1613.7L1838.4 1611.8L1835.1 1609.9L1831.8 1608.0L1828.3 1606.0L1824.8 1604.1L1821.2 1602.2L1817.5 1600.3L1813.9 1598.4L1810.4 1596.6L1806.9 1594.8L1803.5 1593.2L1800.3 1591.6L1797.3 1590.1L1794.5 1588.8L1791.8 1587.5L1789.2 1586.2L1786.8 1585.1L1784.4 1584.0L1782.1 1583.0L1779.8 1582.0L1777.6 1581.0L1775.3 1580.1L1773.1 1579.2L1770.9 1578.4L1768.9 1577.6L1766.9 1576.9L1765.0 1576.2L1763.1 1575.5L1761.1 1574.9L1759.0 1574.2L1756.8 1573.6L1754.4 1572.9L1751.8 1572.2L1748.9 1571.4L1745.8 1570.6L1742.4 1569.7L1738.9 1568.8L1735.3 1567.8L1731.6 1566.9L1727.9 1566.1L1724.2 1565.3L1720.6 1564.6L1717.0 1564.0L1713.6 1563.5L1710.3 1563.1L1707.0 1562.7L1703.7 1562.4L1700.4 1562.1L1697.2 1562.0L1693.9 1561.8L1690.6 1561.7L1687.3 1561.6L1684.0 1561.6L1680.6 1561.6L1677.2 1561.6L1673.7 1561.7L1670.3 1561.8L1666.8 1562.0L1663.3 1562.2L1659.9 1562.5L1656.3 1562.8L1652.8 1563.1L1649.2 1563.5L1645.6 1563.9L1641.9 1564.4L1638.2 1565.0L1634.5 1565.6L1630.8 1566.2L1627.1 1566.8L1623.5 1567.5L1619.9 1568.1L1616.4 1568.7L1613.0 1569.3L1609.6 1569.8L1606.1 1570.4L1602.7 1571.0L1599.3 1571.6L1596.0 1572.1L1592.7 1572.7L1589.5 1573.2L1586.5 1573.7L1583.6 1574.2L1580.9 1574.7L1578.4 1575.1L1576.3 1575.5L1574.3 1575.9L1572.4 1576.2L1570.7 1576.5L1568.9 1576.8L1567.1 1577.2L1565.2 1577.5L1563.1 1577.9L1560.8 1578.3L1558.2 1578.8L1555.4 1579.3L1552.5 1579.8L1549.4 1580.4L1546.3 1581.0L1543.1 1581.5L1539.9 1582.1L1536.8 1582.7L1533.7 1583.3L1530.7 1583.8L1527.9 1584.4L1525.3 1584.9L1522.9 1585.5L1520.6 1586.0L1518.2 1586.5L1515.8 1587.0L1513.2 1587.6L1510.3 1588.1L1507.2 1588.7L1503.6 1589.3L1499.5 1589.9L1494.9 1590.6L1490.1 1591.4L1484.9 1592.1L1479.6 1592.9L1474.2 1593.6L1468.7 1594.4L1463.3 1595.1L1458.0 1595.8L1452.8 1596.4L1447.8 1597.0L1442.9 1597.6L1437.9 1598.1L1432.9 1598.7L1428.0 1599.2L1423.0 1599.6L1418.0 1600.1L1413.1 1600.6L1408.1 1601.1L1403.0 1601.5L1398.0 1602.0L1392.9 1602.4L1387.8 1602.9L1382.7 1603.3L1377.6 1603.8L1372.6 1604.2L1367.5 1604.6L1362.4 1604.9L1357.4 1605.3L1352.3 1605.6L1347.2 1605.9L1342.0 1606.1L1336.8 1606.4L1331.5 1606.6L1326.3 1606.9L1321.2 1607.0L1316.1 1607.2L1311.3 1607.3L1306.6 1607.3L1302.1 1607.3L1297.8 1607.2L1293.6 1607.1L1289.6 1606.9L1285.7 1606.7L1282.0 1606.4L1278.4 1606.1L1274.8 1605.8L1271.4 1605.4L1268.0 1604.9L1264.8 1604.4L1261.7 1603.8L1258.8 1603.2L1256.1 1602.6L1253.4 1601.9L1250.8 1601.1L1248.2 1600.3L1245.6 1599.4L1242.8 1598.5L1239.9 1597.5L1236.9 1596.4L1233.7 1595.3L1230.4 1594.1L1227.1 1592.8L1223.6 1591.4L1220.2 1590.0L1216.7 1588.6L1213.2 1587.1L1209.8 1585.7L1206.5 1584.2L1203.2 1582.7L1200.0 1581.3L1196.8 1579.8L1193.6 1578.2L1190.4 1576.6L1187.3 1575.1L1184.2 1573.5L1181.2 1571.9L1178.4 1570.4L1175.6 1568.9L1173.0 1567.5L1170.6 1566.2L1168.6 1565.1L1166.7 1564.0L1165.0 1562.9L1163.3 1561.8L1161.5 1560.7L1159.7 1559.6L1157.6 1558.3L1155.4 1556.9L1152.8 1555.3L1150.0 1553.5L1146.9 1551.6L1143.6 1549.5L1140.1 1547.4L1136.5 1545.1L1132.9 1542.9L1129.3 1540.6L1125.8 1538.4L1122.3 1536.2L1119.0 1534.1L1115.6 1532.0L1112.1 1529.8L1108.5 1527.5L1104.9 1525.3L1101.4 1523.0L1098.1 1520.9L1095.0 1519.0L1092.3 1517.2L1089.9 1515.8L1088.1 1514.6Z" fill="#81878b"/>
<path d="M1490.6 1254.2L1492.3 1254.6L1494.5 1255.0L1496.9 1255.5L1499.6 1256.0L1502.5 1256.6L1505.6 1257.3L1508.9 1258.1L1512.3 1259.0L1515.9 1260.0L1519.5 1261.1L1523.2 1262.3L1527.2 1263.8L1531.5 1265.3L1535.9 1267.0L1540.5 1268.9L1545.4 1270.8L1550.5 1272.7L1555.7 1274.7L1561.2 1276.8L1566.8 1278.8L1572.8 1280.9L1579.3 1283.2L1586.3 1285.6L1593.4 1288.1L1600.7 1290.6L1607.8 1293.0L1614.8 1295.4L1621.3 1297.5L1627.3 1299.4L1632.6 1301.0L1637.4 1302.4L1641.7 1303.5L1645.7 1304.4L1649.4 1305.1L1652.6 1305.7L1655.5 1306.1L1658.0 1306.5L1660.2 1306.8L1661.9 1307.0L1663.4 1307.3L1666.4 1289.7L1664.7 1289.4L1662.7 1289.1L1660.5 1288.8L1658.1 1288.5L1655.5 1288.1L1652.6 1287.6L1649.4 1287.0L1645.9 1286.2L1641.9 1285.2L1637.6 1284.0L1632.6 1282.4L1626.8 1280.6L1620.4 1278.5L1613.5 1276.2L1606.4 1273.8L1599.3 1271.3L1592.1 1268.8L1585.2 1266.4L1578.7 1264.1L1572.8 1262.0L1567.3 1260.0L1562.0 1258.1L1556.9 1256.1L1551.9 1254.2L1547.0 1252.3L1542.3 1250.4L1537.8 1248.7L1533.3 1247.0L1529.1 1245.5L1524.9 1244.1L1520.9 1242.9L1516.9 1241.8L1513.2 1240.8L1509.6 1240.0L1506.2 1239.2L1503.2 1238.6L1500.4 1238.0L1498.0 1237.6L1496.0 1237.2L1494.4 1236.8Z" fill="#3f4d47"/>
<path d="M1492.6 1252.9L1494.3 1253.3L1496.3 1253.7L1498.5 1254.1L1501.0 1254.6L1503.7 1255.2L1506.6 1255.8L1509.7 1256.6L1513.0 1257.4L1516.4 1258.4L1520.0 1259.5L1523.7 1260.7L1527.7 1262.1L1531.9 1263.7L1536.4 1265.4L1541.1 1267.2L1545.9 1269.1L1551.0 1271.1L1556.3 1273.1L1561.8 1275.2L1567.4 1277.2L1573.4 1279.3L1579.9 1281.6L1586.9 1284.0L1594.1 1286.5L1601.3 1289.0L1608.5 1291.5L1615.4 1293.8L1621.9 1295.9L1627.8 1297.8L1633.1 1299.4L1637.7 1300.7L1641.9 1301.8L1645.7 1302.6L1649.1 1303.3L1652.1 1303.8L1654.8 1304.2L1657.1 1304.5L1659.0 1304.8L1660.6 1305.0L1662.0 1305.3L1664.5 1291.1L1662.8 1290.8L1661.0 1290.5L1659.0 1290.3L1656.8 1290.0L1654.4 1289.6L1651.7 1289.1L1648.7 1288.5L1645.2 1287.8L1641.4 1286.8L1637.1 1285.6L1632.1 1284.1L1626.4 1282.2L1620.0 1280.1L1613.1 1277.8L1606.0 1275.4L1598.8 1272.9L1591.6 1270.4L1584.7 1268.0L1578.2 1265.7L1572.2 1263.6L1566.7 1261.6L1561.4 1259.6L1556.2 1257.7L1551.2 1255.7L1546.3 1253.8L1541.6 1252.0L1537.0 1250.3L1532.7 1248.6L1528.5 1247.1L1524.4 1245.7L1520.5 1244.5L1516.8 1243.5L1513.2 1242.6L1509.8 1241.8L1506.7 1241.1L1503.8 1240.5L1501.3 1240.0L1499.0 1239.6L1497.2 1239.2L1495.7 1238.9Z" fill="#6a7d74"/>
<path d="M1239.3 1419.7L1239.3 1421.3L1239.2 1423.4L1239.1 1425.8L1239.1 1428.4L1239.0 1431.3L1238.9 1434.3L1238.8 1437.5L1238.7 1440.7L1238.5 1443.8L1238.3 1446.8L1238.1 1449.8L1237.8 1453.0L1237.5 1456.2L1237.2 1459.6L1236.8 1463.1L1236.5 1466.6L1236.1 1470.3L1235.8 1473.9L1235.5 1477.7L1235.3 1481.4L1235.1 1485.2L1235.0 1489.0L1234.8 1492.9L1234.7 1496.8L1234.6 1500.8L1234.6 1504.7L1234.5 1508.6L1234.5 1512.5L1234.5 1516.3L1234.5 1520.1L1234.5 1523.8L1234.6 1527.6L1234.7 1531.3L1234.8 1535.0L1234.9 1538.7L1235.1 1542.3L1235.3 1545.8L1235.4 1549.2L1235.6 1552.5L1235.8 1555.7L1236.0 1558.6L1236.3 1561.4L1236.5 1564.1L1236.7 1566.6L1237.0 1569.1L1237.3 1571.5L1237.6 1573.8L1237.9 1576.2L1238.2 1578.7L1238.5 1581.3L1238.9 1584.1L1239.3 1587.2L1239.8 1590.4L1240.2 1593.7L1240.7 1597.0L1241.2 1600.1L1241.6 1603.0L1242.0 1605.6L1242.3 1607.7L1242.6 1609.4L1262.4 1606.6L1262.2 1604.9L1261.9 1602.7L1261.5 1600.1L1261.1 1597.2L1260.7 1594.1L1260.3 1590.9L1259.8 1587.7L1259.4 1584.5L1259.1 1581.5L1258.7 1578.7L1258.4 1576.2L1258.1 1573.7L1257.8 1571.4L1257.5 1569.1L1257.3 1566.8L1257.0 1564.5L1256.8 1562.2L1256.6 1559.7L1256.4 1557.1L1256.2 1554.3L1256.0 1551.3L1255.8 1548.1L1255.6 1544.8L1255.5 1541.4L1255.3 1537.9L1255.2 1534.4L1255.1 1530.8L1255.0 1527.1L1254.9 1523.5L1254.9 1519.9L1254.9 1516.3L1254.9 1512.6L1254.9 1508.8L1255.0 1505.0L1255.0 1501.2L1255.1 1497.4L1255.2 1493.6L1255.4 1489.8L1255.5 1486.1L1255.7 1482.6L1255.9 1479.1L1256.2 1475.6L1256.5 1472.1L1256.8 1468.6L1257.1 1465.1L1257.5 1461.6L1257.8 1458.2L1258.2 1454.8L1258.4 1451.5L1258.7 1448.2L1258.9 1444.9L1259.0 1441.6L1259.2 1438.3L1259.3 1435.0L1259.4 1431.9L1259.5 1429.0L1259.5 1426.3L1259.6 1423.9L1259.6 1421.9L1259.7 1420.3Z" fill="#3a4842"/>
<path d="M1240.9 1421.4L1240.9 1423.0L1240.8 1424.9L1240.8 1427.1L1240.7 1429.5L1240.7 1432.2L1240.6 1435.0L1240.5 1438.0L1240.3 1441.0L1240.2 1444.0L1240.0 1446.9L1239.8 1449.9L1239.5 1453.0L1239.2 1456.3L1238.9 1459.7L1238.5 1463.1L1238.2 1466.7L1237.8 1470.4L1237.5 1474.1L1237.2 1477.8L1237.0 1481.5L1236.8 1485.3L1236.7 1489.1L1236.5 1493.0L1236.4 1496.9L1236.3 1500.8L1236.3 1504.7L1236.2 1508.6L1236.2 1512.5L1236.2 1516.3L1236.2 1520.1L1236.2 1523.8L1236.3 1527.5L1236.4 1531.3L1236.5 1535.0L1236.6 1538.6L1236.8 1542.2L1237.0 1545.7L1237.1 1549.2L1237.3 1552.4L1237.5 1555.6L1237.7 1558.5L1238.0 1561.3L1238.2 1564.0L1238.4 1566.5L1238.7 1569.0L1239.0 1571.4L1239.3 1573.7L1239.6 1576.1L1239.9 1578.5L1240.2 1581.1L1240.5 1583.8L1240.9 1586.7L1241.4 1589.8L1241.8 1592.9L1242.3 1595.9L1242.7 1598.8L1243.1 1601.5L1243.5 1603.9L1243.8 1605.9L1244.0 1607.5L1260.5 1605.2L1260.3 1603.6L1260.0 1601.5L1259.7 1599.1L1259.3 1596.4L1258.9 1593.5L1258.5 1590.5L1258.1 1587.5L1257.7 1584.5L1257.3 1581.6L1257.0 1578.9L1256.7 1576.4L1256.4 1574.0L1256.1 1571.7L1255.9 1569.4L1255.6 1567.1L1255.4 1564.8L1255.1 1562.4L1254.9 1559.9L1254.7 1557.3L1254.5 1554.4L1254.3 1551.4L1254.1 1548.2L1253.9 1544.9L1253.8 1541.5L1253.6 1538.0L1253.5 1534.4L1253.4 1530.8L1253.3 1527.2L1253.2 1523.5L1253.2 1519.9L1253.2 1516.3L1253.2 1512.6L1253.2 1508.8L1253.3 1505.0L1253.3 1501.1L1253.4 1497.3L1253.5 1493.5L1253.7 1489.7L1253.8 1486.1L1254.0 1482.5L1254.2 1478.9L1254.5 1475.4L1254.8 1471.9L1255.1 1468.3L1255.4 1464.8L1255.8 1461.4L1256.1 1457.9L1256.5 1454.6L1256.7 1451.3L1257.0 1448.1L1257.2 1444.9L1257.3 1441.8L1257.5 1438.6L1257.6 1435.6L1257.7 1432.7L1257.7 1430.0L1257.8 1427.5L1257.8 1425.3L1257.9 1423.4L1257.9 1422.0Z" fill="#62756d"/>
<line x1="1496.5" y1="1271.0" x2="1506.2" y2="1322.0" stroke="#0f3817" stroke-width="13.6" stroke-linecap="butt"/>
<line x1="1496.5" y1="1271.0" x2="1506.2" y2="1322.0" stroke="#20652b" stroke-width="9.6" stroke-linecap="butt"/>
<line x1="1496.5" y1="1271.0" x2="1506.2" y2="1322.0" stroke="#2d7738" stroke-width="3.6" stroke-linecap="butt" opacity="0.55"/>
<line x1="1664.9" y1="1298.5" x2="1809.5" y2="1323.1" stroke="#0f3817" stroke-width="16.0" stroke-linecap="butt"/>
<line x1="1664.9" y1="1298.5" x2="1809.5" y2="1323.1" stroke="#20652b" stroke-width="12.0" stroke-linecap="butt"/>
<line x1="1664.9" y1="1298.5" x2="1809.5" y2="1323.1" stroke="#2d7738" stroke-width="6.0" stroke-linecap="butt" opacity="0.55"/>
<line x1="1809.5" y1="1323.1" x2="1753.7" y2="1440.3" stroke="#0f3817" stroke-width="14.5" stroke-linecap="butt"/>
<line x1="1809.5" y1="1323.1" x2="1753.7" y2="1440.3" stroke="#20652b" stroke-width="10.5" stroke-linecap="butt"/>
<line x1="1809.5" y1="1323.1" x2="1753.7" y2="1440.3" stroke="#2d7738" stroke-width="4.5" stroke-linecap="butt" opacity="0.55"/>
<line x1="1254.0" y1="1537.0" x2="1380.0" y2="1490.5" stroke="#0f3817" stroke-width="14.4" stroke-linecap="round"/>
<line x1="1254.0" y1="1537.0" x2="1380.0" y2="1490.5" stroke="#20652b" stroke-width="10.4" stroke-linecap="round"/>
<line x1="1254.0" y1="1537.0" x2="1380.0" y2="1490.5" stroke="#2d7738" stroke-width="4.4" stroke-linecap="round" opacity="0.55"/>
<line x1="1686.9" y1="1504.0" x2="1768.1" y2="1580.3" stroke="#0f3817" stroke-width="13.6" stroke-linecap="butt"/>
<line x1="1686.9" y1="1504.0" x2="1768.1" y2="1580.3" stroke="#20652b" stroke-width="9.6" stroke-linecap="butt"/>
<line x1="1686.9" y1="1504.0" x2="1768.1" y2="1580.3" stroke="#2d7738" stroke-width="3.6" stroke-linecap="butt" opacity="0.55"/>
<clipPath id="cc4"><path d="M1586.3 1301.0C1596.6 1300.5 1601.7 1301.0 1609.5 1302.4C1617.3 1303.8 1626.4 1306.2 1632.9 1309.4C1639.4 1312.6 1644.5 1317.2 1648.4 1321.8C1652.3 1326.4 1654.2 1330.8 1656.1 1337.3C1658.0 1343.8 1659.3 1352.8 1660.0 1360.6C1660.7 1368.4 1660.3 1376.0 1660.0 1383.9C1659.7 1391.8 1659.4 1397.2 1657.9 1408.0C1656.4 1418.8 1653.5 1438.3 1651.0 1449.0C1648.5 1459.7 1646.2 1464.7 1643.0 1472.0C1639.8 1479.3 1637.2 1485.2 1631.5 1493.0C1625.8 1500.8 1614.9 1512.1 1609.0 1518.8C1603.1 1525.5 1600.9 1528.0 1596.0 1533.0C1591.1 1538.0 1586.1 1543.4 1579.5 1549.0C1572.9 1554.6 1564.0 1561.9 1556.3 1566.6C1548.6 1571.3 1540.8 1574.6 1533.1 1577.0C1525.3 1579.4 1517.6 1580.1 1509.8 1580.8C1502.0 1581.5 1496.7 1581.9 1486.5 1581.1C1476.3 1580.2 1458.7 1578.0 1448.5 1575.7C1438.3 1573.5 1433.2 1571.4 1425.5 1567.6C1417.8 1563.8 1409.2 1559.0 1402.5 1552.7C1395.8 1546.4 1389.2 1537.4 1385.0 1529.7C1380.8 1522.0 1379.1 1516.2 1377.2 1506.6C1375.3 1497.0 1374.5 1483.5 1373.8 1472.0C1373.1 1460.5 1372.5 1447.3 1373.2 1437.5C1373.9 1427.7 1375.8 1421.3 1378.2 1413.0C1380.6 1404.7 1383.4 1396.2 1387.5 1387.7C1391.6 1379.2 1397.8 1369.0 1403.0 1362.0C1408.2 1355.0 1413.3 1350.2 1418.5 1345.8C1423.7 1341.4 1427.6 1339.0 1434.1 1335.8C1440.6 1332.6 1449.7 1329.1 1457.4 1326.4C1465.1 1323.7 1472.8 1321.6 1480.5 1319.5C1488.2 1317.4 1497.9 1315.3 1503.9 1314.0C1509.9 1312.7 1509.2 1313.1 1516.5 1311.7C1523.8 1310.3 1535.9 1307.3 1547.5 1305.5C1559.1 1303.7 1576.0 1301.5 1586.3 1301.0Z"/></clipPath><clipPath id="cn4"><path d="M1539.8 1361.4C1547.5 1361.5 1555.2 1362.2 1563.0 1363.7C1570.8 1365.2 1579.2 1367.9 1586.3 1370.7C1593.4 1373.5 1599.9 1377.0 1605.7 1380.7C1611.5 1384.5 1617.5 1389.0 1621.2 1393.2C1624.9 1397.4 1626.5 1400.5 1628.0 1406.0C1629.5 1411.5 1630.5 1418.8 1630.5 1426.0C1630.5 1433.2 1630.0 1441.3 1628.1 1449.0C1626.2 1456.7 1622.9 1465.3 1618.9 1472.0C1614.9 1478.7 1610.6 1484.0 1603.9 1489.4C1597.2 1494.8 1588.5 1500.3 1578.5 1504.3C1568.5 1508.3 1554.6 1511.4 1544.1 1513.5C1533.6 1515.6 1522.6 1516.5 1515.3 1517.0C1508.0 1517.5 1507.8 1517.2 1500.5 1516.4C1493.2 1515.6 1480.2 1514.4 1471.5 1512.4C1462.8 1510.4 1455.8 1508.1 1448.5 1504.3C1441.2 1500.5 1433.1 1494.8 1427.9 1489.4C1422.7 1484.0 1420.0 1478.7 1417.5 1472.0C1415.0 1465.3 1413.2 1456.7 1412.9 1449.0C1412.7 1441.3 1414.1 1432.7 1416.0 1426.0C1417.9 1419.3 1421.2 1414.1 1424.5 1409.0C1427.8 1403.9 1431.8 1399.8 1436.0 1395.5C1440.2 1391.2 1444.7 1386.6 1449.5 1383.0C1454.3 1379.4 1458.6 1376.4 1465.1 1373.8C1471.6 1371.2 1479.8 1369.3 1488.4 1367.6C1497.0 1365.8 1507.9 1364.3 1516.5 1363.3C1525.1 1362.3 1532.0 1361.3 1539.8 1361.4Z"/></clipPath>
<path d="M1586.3 1301.0C1596.6 1300.5 1601.7 1301.0 1609.5 1302.4C1617.3 1303.8 1626.4 1306.2 1632.9 1309.4C1639.4 1312.6 1644.5 1317.2 1648.4 1321.8C1652.3 1326.4 1654.2 1330.8 1656.1 1337.3C1658.0 1343.8 1659.3 1352.8 1660.0 1360.6C1660.7 1368.4 1660.3 1376.0 1660.0 1383.9C1659.7 1391.8 1659.4 1397.2 1657.9 1408.0C1656.4 1418.8 1653.5 1438.3 1651.0 1449.0C1648.5 1459.7 1646.2 1464.7 1643.0 1472.0C1639.8 1479.3 1637.2 1485.2 1631.5 1493.0C1625.8 1500.8 1614.9 1512.1 1609.0 1518.8C1603.1 1525.5 1600.9 1528.0 1596.0 1533.0C1591.1 1538.0 1586.1 1543.4 1579.5 1549.0C1572.9 1554.6 1564.0 1561.9 1556.3 1566.6C1548.6 1571.3 1540.8 1574.6 1533.1 1577.0C1525.3 1579.4 1517.6 1580.1 1509.8 1580.8C1502.0 1581.5 1496.7 1581.9 1486.5 1581.1C1476.3 1580.2 1458.7 1578.0 1448.5 1575.7C1438.3 1573.5 1433.2 1571.4 1425.5 1567.6C1417.8 1563.8 1409.2 1559.0 1402.5 1552.7C1395.8 1546.4 1389.2 1537.4 1385.0 1529.7C1380.8 1522.0 1379.1 1516.2 1377.2 1506.6C1375.3 1497.0 1374.5 1483.5 1373.8 1472.0C1373.1 1460.5 1372.5 1447.3 1373.2 1437.5C1373.9 1427.7 1375.8 1421.3 1378.2 1413.0C1380.6 1404.7 1383.4 1396.2 1387.5 1387.7C1391.6 1379.2 1397.8 1369.0 1403.0 1362.0C1408.2 1355.0 1413.3 1350.2 1418.5 1345.8C1423.7 1341.4 1427.6 1339.0 1434.1 1335.8C1440.6 1332.6 1449.7 1329.1 1457.4 1326.4C1465.1 1323.7 1472.8 1321.6 1480.5 1319.5C1488.2 1317.4 1497.9 1315.3 1503.9 1314.0C1509.9 1312.7 1509.2 1313.1 1516.5 1311.7C1523.8 1310.3 1535.9 1307.3 1547.5 1305.5C1559.1 1303.7 1576.0 1301.5 1586.3 1301.0Z" fill="#1e449d"/>
<g clip-path="url(#cc4)" opacity="0.50"><rect x="1369" y="1297" width="295" height="288" filter="url(#mot)"/><rect x="1369" y="1297" width="295" height="288" filter="url(#motd)"/></g>
<path d="M1586.3 1301.0C1596.6 1300.5 1601.7 1301.0 1609.5 1302.4C1617.3 1303.8 1626.4 1306.2 1632.9 1309.4C1639.4 1312.6 1644.5 1317.2 1648.4 1321.8C1652.3 1326.4 1654.2 1330.8 1656.1 1337.3C1658.0 1343.8 1659.3 1352.8 1660.0 1360.6C1660.7 1368.4 1660.3 1376.0 1660.0 1383.9C1659.7 1391.8 1659.4 1397.2 1657.9 1408.0C1656.4 1418.8 1653.5 1438.3 1651.0 1449.0C1648.5 1459.7 1646.2 1464.7 1643.0 1472.0C1639.8 1479.3 1637.2 1485.2 1631.5 1493.0C1625.8 1500.8 1614.9 1512.1 1609.0 1518.8C1603.1 1525.5 1600.9 1528.0 1596.0 1533.0C1591.1 1538.0 1586.1 1543.4 1579.5 1549.0C1572.9 1554.6 1564.0 1561.9 1556.3 1566.6C1548.6 1571.3 1540.8 1574.6 1533.1 1577.0C1525.3 1579.4 1517.6 1580.1 1509.8 1580.8C1502.0 1581.5 1496.7 1581.9 1486.5 1581.1C1476.3 1580.2 1458.7 1578.0 1448.5 1575.7C1438.3 1573.5 1433.2 1571.4 1425.5 1567.6C1417.8 1563.8 1409.2 1559.0 1402.5 1552.7C1395.8 1546.4 1389.2 1537.4 1385.0 1529.7C1380.8 1522.0 1379.1 1516.2 1377.2 1506.6C1375.3 1497.0 1374.5 1483.5 1373.8 1472.0C1373.1 1460.5 1372.5 1447.3 1373.2 1437.5C1373.9 1427.7 1375.8 1421.3 1378.2 1413.0C1380.6 1404.7 1383.4 1396.2 1387.5 1387.7C1391.6 1379.2 1397.8 1369.0 1403.0 1362.0C1408.2 1355.0 1413.3 1350.2 1418.5 1345.8C1423.7 1341.4 1427.6 1339.0 1434.1 1335.8C1440.6 1332.6 1449.7 1329.1 1457.4 1326.4C1465.1 1323.7 1472.8 1321.6 1480.5 1319.5C1488.2 1317.4 1497.9 1315.3 1503.9 1314.0C1509.9 1312.7 1509.2 1313.1 1516.5 1311.7C1523.8 1310.3 1535.9 1307.3 1547.5 1305.5C1559.1 1303.7 1576.0 1301.5 1586.3 1301.0Z" fill="none" stroke="#070e3a" stroke-width="3.2"/>
<path d="M1539.8 1361.4C1547.5 1361.5 1555.2 1362.2 1563.0 1363.7C1570.8 1365.2 1579.2 1367.9 1586.3 1370.7C1593.4 1373.5 1599.9 1377.0 1605.7 1380.7C1611.5 1384.5 1617.5 1389.0 1621.2 1393.2C1624.9 1397.4 1626.5 1400.5 1628.0 1406.0C1629.5 1411.5 1630.5 1418.8 1630.5 1426.0C1630.5 1433.2 1630.0 1441.3 1628.1 1449.0C1626.2 1456.7 1622.9 1465.3 1618.9 1472.0C1614.9 1478.7 1610.6 1484.0 1603.9 1489.4C1597.2 1494.8 1588.5 1500.3 1578.5 1504.3C1568.5 1508.3 1554.6 1511.4 1544.1 1513.5C1533.6 1515.6 1522.6 1516.5 1515.3 1517.0C1508.0 1517.5 1507.8 1517.2 1500.5 1516.4C1493.2 1515.6 1480.2 1514.4 1471.5 1512.4C1462.8 1510.4 1455.8 1508.1 1448.5 1504.3C1441.2 1500.5 1433.1 1494.8 1427.9 1489.4C1422.7 1484.0 1420.0 1478.7 1417.5 1472.0C1415.0 1465.3 1413.2 1456.7 1412.9 1449.0C1412.7 1441.3 1414.1 1432.7 1416.0 1426.0C1417.9 1419.3 1421.2 1414.1 1424.5 1409.0C1427.8 1403.9 1431.8 1399.8 1436.0 1395.5C1440.2 1391.2 1444.7 1386.6 1449.5 1383.0C1454.3 1379.4 1458.6 1376.4 1465.1 1373.8C1471.6 1371.2 1479.8 1369.3 1488.4 1367.6C1497.0 1365.8 1507.9 1364.3 1516.5 1363.3C1525.1 1362.3 1532.0 1361.3 1539.8 1361.4Z" fill="#5a77bb"/>
<g clip-path="url(#cn4)"><rect x="1409" y="1357" width="226" height="164" filter="url(#mot2)" opacity="0.60"/><path d="M1539.8 1361.4C1547.5 1361.5 1555.2 1362.2 1563.0 1363.7C1570.8 1365.2 1579.2 1367.9 1586.3 1370.7C1593.4 1373.5 1599.9 1377.0 1605.7 1380.7C1611.5 1384.5 1617.5 1389.0 1621.2 1393.2C1624.9 1397.4 1626.5 1400.5 1628.0 1406.0C1629.5 1411.5 1630.5 1418.8 1630.5 1426.0C1630.5 1433.2 1630.0 1441.3 1628.1 1449.0C1626.2 1456.7 1622.9 1465.3 1618.9 1472.0C1614.9 1478.7 1610.6 1484.0 1603.9 1489.4C1597.2 1494.8 1588.5 1500.3 1578.5 1504.3C1568.5 1508.3 1554.6 1511.4 1544.1 1513.5C1533.6 1515.6 1522.6 1516.5 1515.3 1517.0C1508.0 1517.5 1507.8 1517.2 1500.5 1516.4C1493.2 1515.6 1480.2 1514.4 1471.5 1512.4C1462.8 1510.4 1455.8 1508.1 1448.5 1504.3C1441.2 1500.5 1433.1 1494.8 1427.9 1489.4C1422.7 1484.0 1420.0 1478.7 1417.5 1472.0C1415.0 1465.3 1413.2 1456.7 1412.9 1449.0C1412.7 1441.3 1414.1 1432.7 1416.0 1426.0C1417.9 1419.3 1421.2 1414.1 1424.5 1409.0C1427.8 1403.9 1431.8 1399.8 1436.0 1395.5C1440.2 1391.2 1444.7 1386.6 1449.5 1383.0C1454.3 1379.4 1458.6 1376.4 1465.1 1373.8C1471.6 1371.2 1479.8 1369.3 1488.4 1367.6C1497.0 1365.8 1507.9 1364.3 1516.5 1363.3C1525.1 1362.3 1532.0 1361.3 1539.8 1361.4Z" fill="none" stroke="#86a0da" stroke-width="9" opacity="0.45" filter="url(#blur2)"/></g>
<path d="M1539.8 1361.4C1547.5 1361.5 1555.2 1362.2 1563.0 1363.7C1570.8 1365.2 1579.2 1367.9 1586.3 1370.7C1593.4 1373.5 1599.9 1377.0 1605.7 1380.7C1611.5 1384.5 1617.5 1389.0 1621.2 1393.2C1624.9 1397.4 1626.5 1400.5 1628.0 1406.0C1629.5 1411.5 1630.5 1418.8 1630.5 1426.0C1630.5 1433.2 1630.0 1441.3 1628.1 1449.0C1626.2 1456.7 1622.9 1465.3 1618.9 1472.0C1614.9 1478.7 1610.6 1484.0 1603.9 1489.4C1597.2 1494.8 1588.5 1500.3 1578.5 1504.3C1568.5 1508.3 1554.6 1511.4 1544.1 1513.5C1533.6 1515.6 1522.6 1516.5 1515.3 1517.0C1508.0 1517.5 1507.8 1517.2 1500.5 1516.4C1493.2 1515.6 1480.2 1514.4 1471.5 1512.4C1462.8 1510.4 1455.8 1508.1 1448.5 1504.3C1441.2 1500.5 1433.1 1494.8 1427.9 1489.4C1422.7 1484.0 1420.0 1478.7 1417.5 1472.0C1415.0 1465.3 1413.2 1456.7 1412.9 1449.0C1412.7 1441.3 1414.1 1432.7 1416.0 1426.0C1417.9 1419.3 1421.2 1414.1 1424.5 1409.0C1427.8 1403.9 1431.8 1399.8 1436.0 1395.5C1440.2 1391.2 1444.7 1386.6 1449.5 1383.0C1454.3 1379.4 1458.6 1376.4 1465.1 1373.8C1471.6 1371.2 1479.8 1369.3 1488.4 1367.6C1497.0 1365.8 1507.9 1364.3 1516.5 1363.3C1525.1 1362.3 1532.0 1361.3 1539.8 1361.4Z" fill="none" stroke="#0b1344" stroke-width="2.6"/>
<circle cx="1316.8" cy="1507.0" r="25.6" fill="#f28c1f" stroke="#cf7410" stroke-width="1.6"/>
<circle cx="1686.9" cy="1504.0" r="26.6" fill="#f28c1f" stroke="#cf7410" stroke-width="1.6"/>
<circle cx="1492.5" cy="1245.0" r="29.3" fill="url(#gnode)" stroke="#0a3313" stroke-width="2"/>
<circle cx="1664.9" cy="1298.5" r="28.7" fill="url(#gnode)" stroke="#0a3313" stroke-width="2"/>
<circle cx="1809.5" cy="1323.1" r="28.7" fill="url(#gnode)" stroke="#0a3313" stroke-width="2"/>
<circle cx="1753.7" cy="1440.3" r="28.7" fill="url(#gnode)" stroke="#0a3313" stroke-width="2"/>
<circle cx="1258.3" cy="1419.5" r="29.5" fill="url(#gnode)" stroke="#0a3313" stroke-width="2"/>
<circle cx="1254.9" cy="1608.0" r="29.5" fill="url(#gnode)" stroke="#0a3313" stroke-width="2"/>
<circle cx="1521.9" cy="1593.1" r="29.4" fill="url(#gnode)" stroke="#0a3313" stroke-width="2"/>
<circle cx="1768.1" cy="1580.3" r="28.7" fill="url(#gnode)" stroke="#0a3313" stroke-width="2"/>
<path d="M1489 1722Q1478 1726 1475 1737" fill="none" stroke="#8a8d90" stroke-width="1.6"/>
</g>
<g font-family="'Liberation Sans', sans-serif" font-weight="bold">
<text transform="translate(206.5 114.6) scale(0.9250 1)" font-size="115.6" fill="#000">No SCF</text>
<text transform="translate(1143.5 115.7) scale(0.9250 1)" font-size="115.4" fill="#000">Transient SCF</text>
<text transform="translate(-11.5 1074.0) scale(0.9250 1)" font-size="115.6" fill="#000">Continuous SCF</text>
<text transform="translate(1137.5 1073.0) scale(0.9250 1)" font-size="115.6" fill="#000">Covalent SCF</text>
<text transform="translate(133.0 876.4) scale(0.9700 1)" font-size="80.0" fill="#4b4e53">GelMA hydrogel network</text>
<text transform="translate(1703.0 877.7) scale(0.9610 1)" font-size="81.0" fill="#000">SCF</text>
</g>
<circle cx="1633.7" cy="853.0" r="25.8" fill="#f28c1f" stroke="#cf7410" stroke-width="1.6"/>
</svg>
</body></html>
